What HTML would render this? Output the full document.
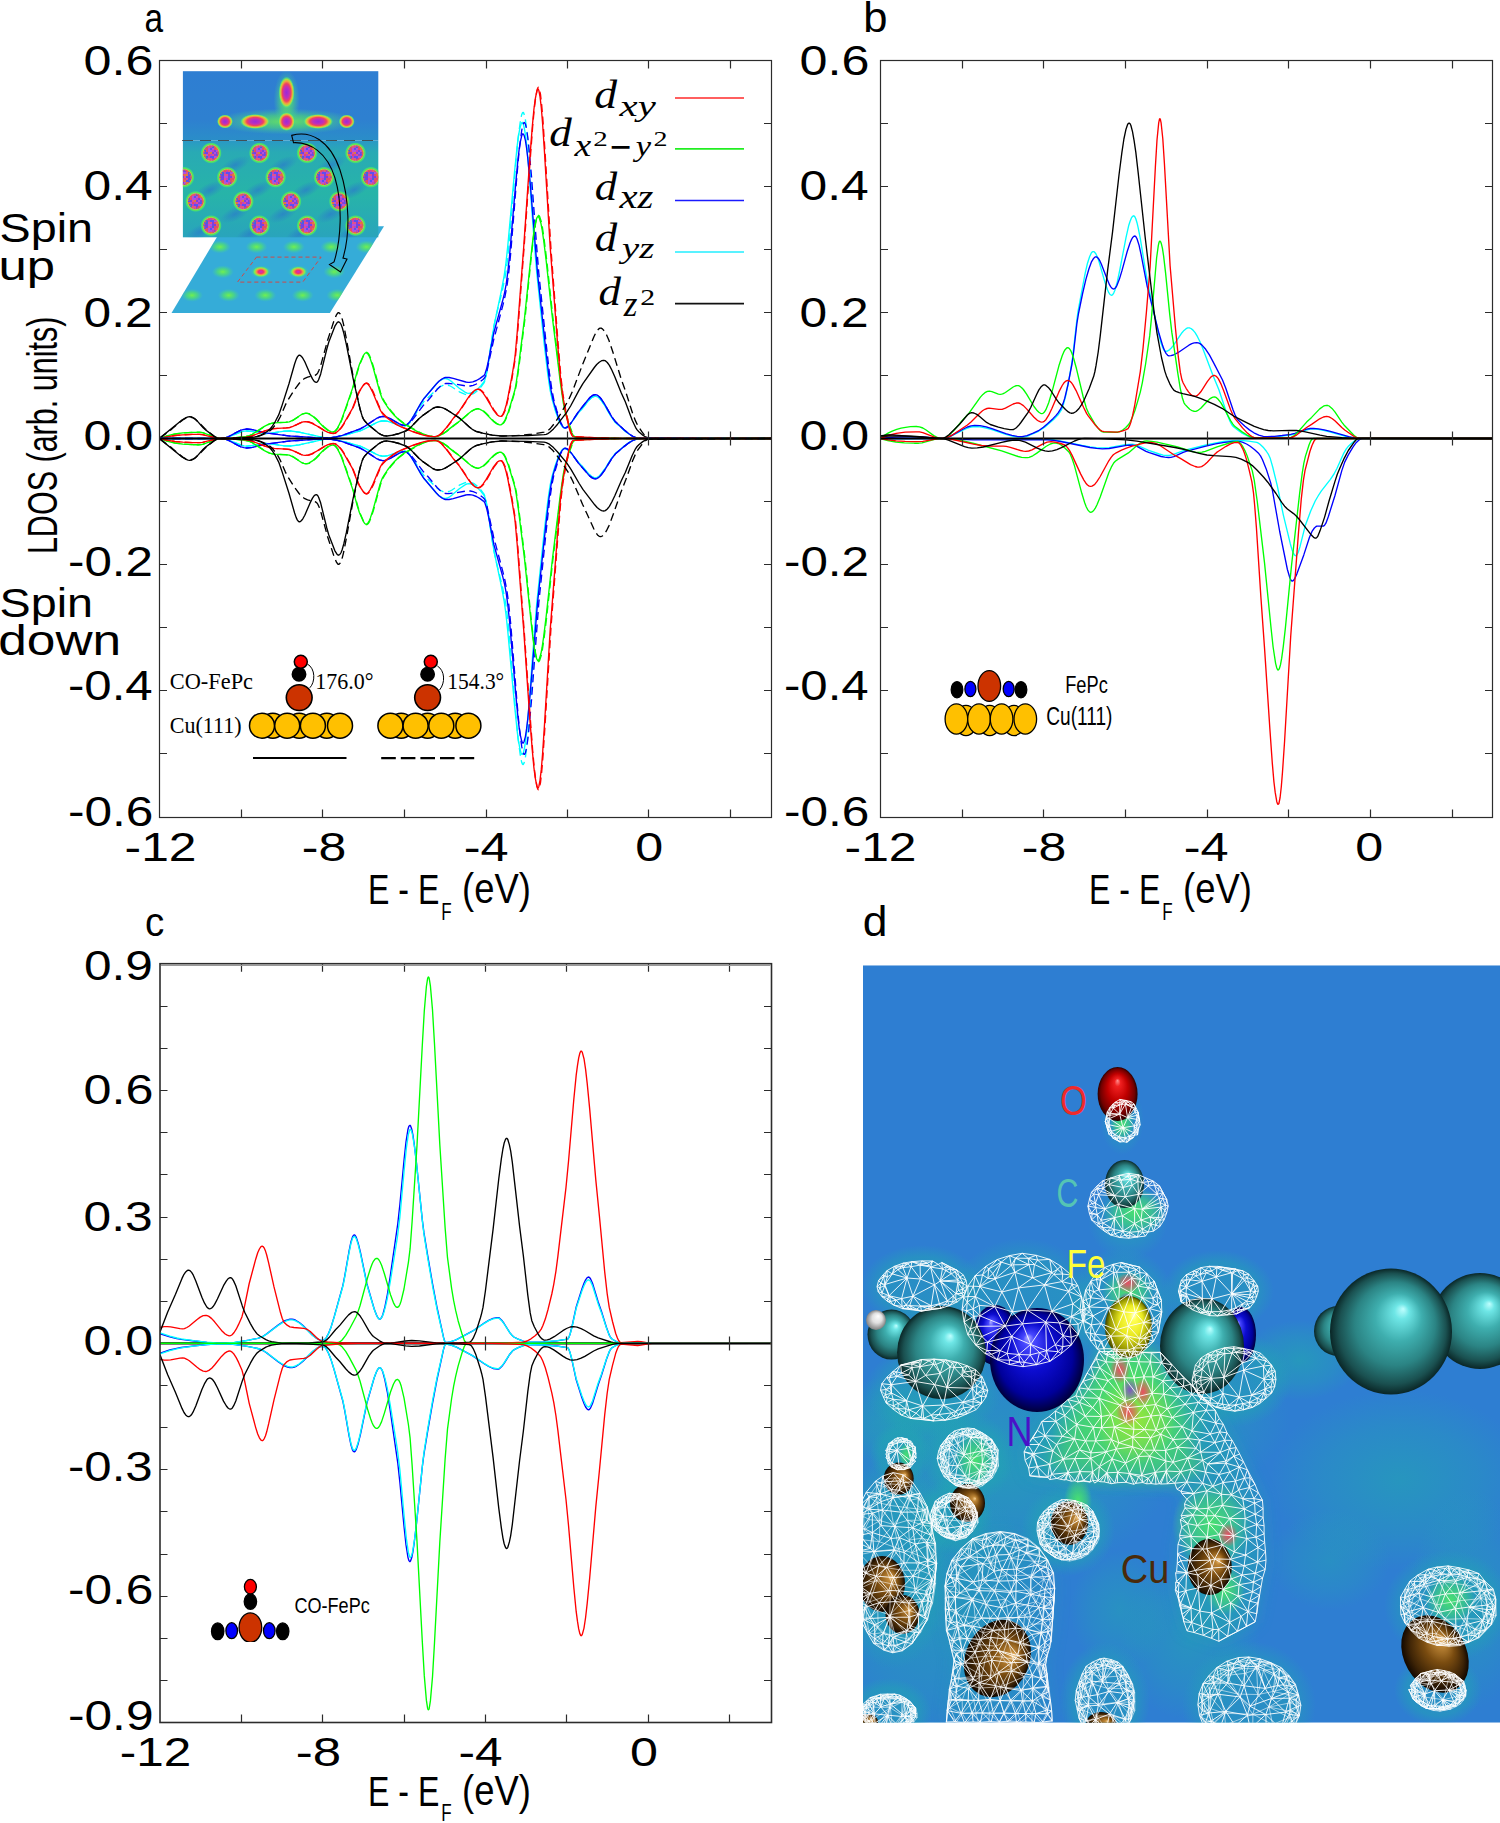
<!DOCTYPE html>
<html><head><meta charset="utf-8"><title>LDOS figure</title>
<style>html,body{margin:0;padding:0;background:#fff;}svg{display:block;}</style></head>
<body><svg width="1500" height="1823" viewBox="0 0 1500 1823">
<rect width="1500" height="1823" fill="#fff"/>
<defs><clipPath id="clipA"><rect x="160" y="60" width="611.5" height="757"/></clipPath><clipPath id="clipB"><rect x="880.3" y="60" width="612.4" height="757"/></clipPath><clipPath id="clipC"><rect x="160" y="964.7" width="611.7" height="757.3"/></clipPath><pattern id="mot" width="16" height="16" patternUnits="userSpaceOnUse"><rect x="0" y="0" width="2" height="2" fill="#b050e0"/><rect x="0" y="2" width="2" height="2" fill="#e05090"/><rect x="0" y="4" width="2" height="2" fill="#b050e0"/><rect x="0" y="6" width="2" height="2" fill="#b050e0"/><rect x="0" y="8" width="2" height="2" fill="#e05090"/><rect x="0" y="10" width="2" height="2" fill="#e04870"/><rect x="0" y="12" width="2" height="2" fill="#c040c0"/><rect x="0" y="14" width="2" height="2" fill="#e05090"/><rect x="2" y="0" width="2" height="2" fill="#b050e0"/><rect x="2" y="2" width="2" height="2" fill="#c040c0"/><rect x="2" y="4" width="2" height="2" fill="#5a50f0"/><rect x="2" y="6" width="2" height="2" fill="#b050e0"/><rect x="2" y="8" width="2" height="2" fill="#e07840"/><rect x="2" y="10" width="2" height="2" fill="#c040c0"/><rect x="2" y="12" width="2" height="2" fill="#5a50f0"/><rect x="2" y="14" width="2" height="2" fill="#e05090"/><rect x="4" y="0" width="2" height="2" fill="#7a40e0"/><rect x="4" y="2" width="2" height="2" fill="#4860e0"/><rect x="4" y="4" width="2" height="2" fill="#b050e0"/><rect x="4" y="6" width="2" height="2" fill="#c040c0"/><rect x="4" y="8" width="2" height="2" fill="#7a40e0"/><rect x="4" y="10" width="2" height="2" fill="#e05090"/><rect x="4" y="12" width="2" height="2" fill="#5a50f0"/><rect x="4" y="14" width="2" height="2" fill="#7a40e0"/><rect x="6" y="0" width="2" height="2" fill="#7a40e0"/><rect x="6" y="2" width="2" height="2" fill="#e04870"/><rect x="6" y="4" width="2" height="2" fill="#e04870"/><rect x="6" y="6" width="2" height="2" fill="#7a40e0"/><rect x="6" y="8" width="2" height="2" fill="#b050e0"/><rect x="6" y="10" width="2" height="2" fill="#9040d0"/><rect x="6" y="12" width="2" height="2" fill="#b050e0"/><rect x="6" y="14" width="2" height="2" fill="#e04870"/><rect x="8" y="0" width="2" height="2" fill="#e05090"/><rect x="8" y="2" width="2" height="2" fill="#e04870"/><rect x="8" y="4" width="2" height="2" fill="#e07840"/><rect x="8" y="6" width="2" height="2" fill="#b050e0"/><rect x="8" y="8" width="2" height="2" fill="#7a40e0"/><rect x="8" y="10" width="2" height="2" fill="#5a50f0"/><rect x="8" y="12" width="2" height="2" fill="#b050e0"/><rect x="8" y="14" width="2" height="2" fill="#e07840"/><rect x="10" y="0" width="2" height="2" fill="#4860e0"/><rect x="10" y="2" width="2" height="2" fill="#e05090"/><rect x="10" y="4" width="2" height="2" fill="#5a50f0"/><rect x="10" y="6" width="2" height="2" fill="#e07840"/><rect x="10" y="8" width="2" height="2" fill="#9040d0"/><rect x="10" y="10" width="2" height="2" fill="#e04870"/><rect x="10" y="12" width="2" height="2" fill="#e05090"/><rect x="10" y="14" width="2" height="2" fill="#e07840"/><rect x="12" y="0" width="2" height="2" fill="#7a40e0"/><rect x="12" y="2" width="2" height="2" fill="#5a50f0"/><rect x="12" y="4" width="2" height="2" fill="#5a50f0"/><rect x="12" y="6" width="2" height="2" fill="#4860e0"/><rect x="12" y="8" width="2" height="2" fill="#5a50f0"/><rect x="12" y="10" width="2" height="2" fill="#e07840"/><rect x="12" y="12" width="2" height="2" fill="#4860e0"/><rect x="12" y="14" width="2" height="2" fill="#5a50f0"/><rect x="14" y="0" width="2" height="2" fill="#7a40e0"/><rect x="14" y="2" width="2" height="2" fill="#7a40e0"/><rect x="14" y="4" width="2" height="2" fill="#e04870"/><rect x="14" y="6" width="2" height="2" fill="#e04870"/><rect x="14" y="8" width="2" height="2" fill="#7a40e0"/><rect x="14" y="10" width="2" height="2" fill="#b050e0"/><rect x="14" y="12" width="2" height="2" fill="#4860e0"/><rect x="14" y="14" width="2" height="2" fill="#4860e0"/></pattern>
<radialGradient id="cuAtom"><stop offset="0" stop-color="#7a3fd6"/><stop offset="0.45" stop-color="#9a40c8"/><stop offset="0.62" stop-color="#e8485a"/><stop offset="0.74" stop-color="#e89040"/><stop offset="0.84" stop-color="#a8e048"/><stop offset="0.93" stop-color="#50d890" stop-opacity="0.6"/><stop offset="1" stop-color="#40c8a0" stop-opacity="0"/></radialGradient>
<radialGradient id="molBlob"><stop offset="0" stop-color="#9a2ad8"/><stop offset="0.35" stop-color="#c030b8"/><stop offset="0.55" stop-color="#f04060"/><stop offset="0.7" stop-color="#f0a040"/><stop offset="0.82" stop-color="#b0e040"/><stop offset="0.92" stop-color="#50e080" stop-opacity="0.7"/><stop offset="1" stop-color="#40c8a0" stop-opacity="0"/></radialGradient>
<radialGradient id="grnBlob"><stop offset="0" stop-color="#70f050"/><stop offset="0.5" stop-color="#50e070" stop-opacity="0.7"/><stop offset="1" stop-color="#40d0a0" stop-opacity="0"/></radialGradient>
<radialGradient id="pinkBlob"><stop offset="0" stop-color="#c030d0"/><stop offset="0.3" stop-color="#f03070"/><stop offset="0.55" stop-color="#f0a040"/><stop offset="0.75" stop-color="#80f050"/><stop offset="1" stop-color="#40d0a0" stop-opacity="0"/></radialGradient>
<radialGradient id="darkSpot"><stop offset="0" stop-color="#2a80c8" stop-opacity="0.8"/><stop offset="1" stop-color="#2a80c8" stop-opacity="0"/></radialGradient>
<linearGradient id="lowerBg" x1="0" y1="0" x2="0" y2="1"><stop offset="0" stop-color="#2a98c6"/><stop offset="0.12" stop-color="#29aab4"/><stop offset="0.55" stop-color="#27b4a8"/><stop offset="1" stop-color="#29a4bc"/></linearGradient>
<radialGradient id="cuHalo"><stop offset="0.72" stop-color="#d8d040"/><stop offset="0.8" stop-color="#60e850"/><stop offset="0.9" stop-color="#48e070" stop-opacity="0.8"/><stop offset="1" stop-color="#30c0a0" stop-opacity="0"/></radialGradient>
<linearGradient id="topBg" x1="0" y1="0" x2="0" y2="1"><stop offset="0" stop-color="#2e7ed2"/><stop offset="0.7" stop-color="#2e80d0"/><stop offset="1" stop-color="#2a8ec8"/></linearGradient>
<radialGradient id="sTeal" cx="0.5" cy="0.5" r="0.5" fx="0.6" fy="0.32"><stop offset="0" stop-color="#c0ffff"/><stop offset="0.12" stop-color="#6ee6e6"/><stop offset="0.38" stop-color="#3eaeae"/><stop offset="0.66" stop-color="#2b8484"/><stop offset="0.88" stop-color="#1a5050"/><stop offset="1" stop-color="#0a2626"/></radialGradient><radialGradient id="sBlue" cx="0.5" cy="0.5" r="0.5" fx="0.4" fy="0.28"><stop offset="0" stop-color="#b0b0ff"/><stop offset="0.12" stop-color="#4848ff"/><stop offset="0.45" stop-color="#0c0cd0"/><stop offset="0.8" stop-color="#00009a"/><stop offset="1" stop-color="#00003a"/></radialGradient><radialGradient id="sYel" cx="0.5" cy="0.5" r="0.5" fx="0.62" fy="0.3"><stop offset="0" stop-color="#ffffd0"/><stop offset="0.15" stop-color="#ffff50"/><stop offset="0.5" stop-color="#e8e820"/><stop offset="0.85" stop-color="#909000"/><stop offset="1" stop-color="#404000"/></radialGradient><radialGradient id="sRed" cx="0.5" cy="0.5" r="0.5" fx="0.5" fy="0.25"><stop offset="0" stop-color="#ff9090"/><stop offset="0.15" stop-color="#f02020"/><stop offset="0.5" stop-color="#c00000"/><stop offset="0.85" stop-color="#700000"/><stop offset="1" stop-color="#280000"/></radialGradient><radialGradient id="sBrown" cx="0.5" cy="0.5" r="0.5" fx="0.72" fy="0.38"><stop offset="0" stop-color="#f8d090"/><stop offset="0.12" stop-color="#c08838"/><stop offset="0.45" stop-color="#7a4c10"/><stop offset="0.8" stop-color="#3e2406"/><stop offset="1" stop-color="#120800"/></radialGradient><radialGradient id="sWhite" cx="0.5" cy="0.5" r="0.5" fx="0.62" fy="0.3"><stop offset="0" stop-color="#ffffff"/><stop offset="0.5" stop-color="#e0e0e0"/><stop offset="1" stop-color="#808080"/></radialGradient><radialGradient id="gTeal"><stop offset="0" stop-color="#1fb0a8" stop-opacity="0.85"/><stop offset="0.6" stop-color="#1fb0a8" stop-opacity="0.425"/><stop offset="1" stop-color="#1fb0a8" stop-opacity="0"/></radialGradient><radialGradient id="gHalo"><stop offset="0" stop-color="#20a8b0" stop-opacity="0.35"/><stop offset="0.7" stop-color="#20a8b0" stop-opacity="0.45"/><stop offset="1" stop-color="#20a8b0" stop-opacity="0"/></radialGradient><filter id="blur8" x="-20%" y="-20%" width="140%" height="140%"><feGaussianBlur stdDeviation="8"/></filter><radialGradient id="gTeal2"><stop offset="0" stop-color="#22a8b4" stop-opacity="0.7"/><stop offset="0.6" stop-color="#22a8b4" stop-opacity="0.35"/><stop offset="1" stop-color="#22a8b4" stop-opacity="0"/></radialGradient><radialGradient id="gGreen"><stop offset="0" stop-color="#48e070" stop-opacity="1.0"/><stop offset="0.6" stop-color="#48e070" stop-opacity="0.5"/><stop offset="1" stop-color="#48e070" stop-opacity="0"/></radialGradient><radialGradient id="gRed"><stop offset="0" stop-color="#f04860" stop-opacity="0.95"/><stop offset="0.6" stop-color="#f04860" stop-opacity="0.475"/><stop offset="1" stop-color="#f04860" stop-opacity="0"/></radialGradient><radialGradient id="gMag"><stop offset="0" stop-color="#8040d0" stop-opacity="0.85"/><stop offset="0.6" stop-color="#8040d0" stop-opacity="0.425"/><stop offset="1" stop-color="#8040d0" stop-opacity="0"/></radialGradient><radialGradient id="gYel"><stop offset="0" stop-color="#a8e830" stop-opacity="0.8"/><stop offset="0.6" stop-color="#a8e830" stop-opacity="0.4"/><stop offset="1" stop-color="#a8e830" stop-opacity="0"/></radialGradient></defs>
<path d="M223.4,226.3L384,226.3L329.9,312.9L171.5,312.9Z" fill="#35acd8"/>
<clipPath id="clipPar"><path d="M223.4,226.3L384,226.3L329.9,312.9L171.5,312.9Z"/></clipPath>
<g clip-path="url(#clipPar)">
<ellipse cx="219.9" cy="246.9" rx="11" ry="6.5" fill="url(#grnBlob)"/>
<ellipse cx="256.5" cy="246.9" rx="11" ry="6.5" fill="url(#grnBlob)"/>
<ellipse cx="293.9" cy="246.9" rx="11" ry="6.5" fill="url(#grnBlob)"/>
<ellipse cx="331.3" cy="246.9" rx="11" ry="6.5" fill="url(#grnBlob)"/>
<ellipse cx="366.5" cy="246.9" rx="11" ry="6.5" fill="url(#grnBlob)"/>
<ellipse cx="222.8" cy="271.8" rx="11" ry="6.5" fill="url(#grnBlob)"/>
<ellipse cx="260.9" cy="271.8" rx="11" ry="6.5" fill="url(#grnBlob)"/>
<ellipse cx="298.3" cy="271.8" rx="11" ry="6.5" fill="url(#grnBlob)"/>
<ellipse cx="334.3" cy="271.8" rx="11" ry="6.5" fill="url(#grnBlob)"/>
<ellipse cx="370" cy="271.8" rx="11" ry="6.5" fill="url(#grnBlob)"/>
<ellipse cx="192" cy="295.3" rx="11" ry="6.5" fill="url(#grnBlob)"/>
<ellipse cx="228.7" cy="295.3" rx="11" ry="6.5" fill="url(#grnBlob)"/>
<ellipse cx="265.3" cy="295.3" rx="11" ry="6.5" fill="url(#grnBlob)"/>
<ellipse cx="302.7" cy="295.3" rx="11" ry="6.5" fill="url(#grnBlob)"/>
<ellipse cx="337.2" cy="295.3" rx="11" ry="6.5" fill="url(#grnBlob)"/>
<ellipse cx="260.9" cy="271.8" rx="8.5" ry="5.5" fill="url(#pinkBlob)"/>
<ellipse cx="298.3" cy="271.8" rx="8.5" ry="5.5" fill="url(#pinkBlob)"/>
</g>
<path d="M256.5,257.1L321.1,257.1L302.7,282.1L237.5,282.1Z" fill="none" stroke="#d04848" stroke-width="1" stroke-dasharray="4,3"/>
<rect x="182.9" y="71.2" width="195.4" height="69.3" fill="url(#topBg)"/>
<rect x="182.9" y="140.5" width="195.4" height="96.8" fill="url(#lowerBg)"/>
<clipPath id="clipImg"><rect x="182.9" y="71.2" width="195.4" height="166.1"/></clipPath>
<g clip-path="url(#clipImg)">
<ellipse cx="235" cy="165" rx="16" ry="7" fill="url(#darkSpot)" transform="rotate(-25 235 165)"/>
<ellipse cx="283" cy="165" rx="16" ry="7" fill="url(#darkSpot)" transform="rotate(-25 283 165)"/>
<ellipse cx="331" cy="165" rx="16" ry="7" fill="url(#darkSpot)" transform="rotate(-25 331 165)"/>
<ellipse cx="210" cy="190" rx="16" ry="7" fill="url(#darkSpot)" transform="rotate(-25 210 190)"/>
<ellipse cx="258" cy="190" rx="16" ry="7" fill="url(#darkSpot)" transform="rotate(-25 258 190)"/>
<ellipse cx="306" cy="190" rx="16" ry="7" fill="url(#darkSpot)" transform="rotate(-25 306 190)"/>
<ellipse cx="354" cy="190" rx="16" ry="7" fill="url(#darkSpot)" transform="rotate(-25 354 190)"/>
<ellipse cx="235" cy="214" rx="16" ry="7" fill="url(#darkSpot)" transform="rotate(-25 235 214)"/>
<ellipse cx="283" cy="214" rx="16" ry="7" fill="url(#darkSpot)" transform="rotate(-25 283 214)"/>
<ellipse cx="331" cy="214" rx="16" ry="7" fill="url(#darkSpot)" transform="rotate(-25 331 214)"/>
<ellipse cx="200" cy="232" rx="16" ry="7" fill="url(#darkSpot)" transform="rotate(-25 200 232)"/>
<ellipse cx="250" cy="234" rx="16" ry="7" fill="url(#darkSpot)" transform="rotate(-25 250 234)"/>
<ellipse cx="300" cy="234" rx="16" ry="7" fill="url(#darkSpot)" transform="rotate(-25 300 234)"/>
<ellipse cx="350" cy="234" rx="16" ry="7" fill="url(#darkSpot)" transform="rotate(-25 350 234)"/>
<circle cx="211.1" cy="153" r="10.8" fill="url(#cuHalo)"/>
<circle cx="211.1" cy="153" r="7.8" fill="url(#mot)"/>
<circle cx="211.1" cy="153" r="7.0" fill="none" stroke="#e86a40" stroke-width="1.5" stroke-dasharray="1.5,1.3" opacity="0.9"/>
<circle cx="259.5" cy="153" r="10.8" fill="url(#cuHalo)"/>
<circle cx="259.5" cy="153" r="7.8" fill="url(#mot)"/>
<circle cx="259.5" cy="153" r="7.0" fill="none" stroke="#e86a40" stroke-width="1.5" stroke-dasharray="1.5,1.3" opacity="0.9"/>
<circle cx="307.1" cy="153" r="10.8" fill="url(#cuHalo)"/>
<circle cx="307.1" cy="153" r="7.8" fill="url(#mot)"/>
<circle cx="307.1" cy="153" r="7.0" fill="none" stroke="#e86a40" stroke-width="1.5" stroke-dasharray="1.5,1.3" opacity="0.9"/>
<circle cx="355.5" cy="153" r="10.8" fill="url(#cuHalo)"/>
<circle cx="355.5" cy="153" r="7.8" fill="url(#mot)"/>
<circle cx="355.5" cy="153" r="7.0" fill="none" stroke="#e86a40" stroke-width="1.5" stroke-dasharray="1.5,1.3" opacity="0.9"/>
<circle cx="183.9" cy="177.2" r="10.8" fill="url(#cuHalo)"/>
<circle cx="183.9" cy="177.2" r="7.8" fill="url(#mot)"/>
<circle cx="183.9" cy="177.2" r="7.0" fill="none" stroke="#e86a40" stroke-width="1.5" stroke-dasharray="1.5,1.3" opacity="0.9"/>
<circle cx="227.2" cy="177.2" r="10.8" fill="url(#cuHalo)"/>
<circle cx="227.2" cy="177.2" r="7.8" fill="url(#mot)"/>
<circle cx="227.2" cy="177.2" r="7.0" fill="none" stroke="#e86a40" stroke-width="1.5" stroke-dasharray="1.5,1.3" opacity="0.9"/>
<circle cx="275.6" cy="177.2" r="10.8" fill="url(#cuHalo)"/>
<circle cx="275.6" cy="177.2" r="7.8" fill="url(#mot)"/>
<circle cx="275.6" cy="177.2" r="7.0" fill="none" stroke="#e86a40" stroke-width="1.5" stroke-dasharray="1.5,1.3" opacity="0.9"/>
<circle cx="324" cy="177.2" r="10.8" fill="url(#cuHalo)"/>
<circle cx="324" cy="177.2" r="7.8" fill="url(#mot)"/>
<circle cx="324" cy="177.2" r="7.0" fill="none" stroke="#e86a40" stroke-width="1.5" stroke-dasharray="1.5,1.3" opacity="0.9"/>
<circle cx="370.9" cy="177.2" r="10.8" fill="url(#cuHalo)"/>
<circle cx="370.9" cy="177.2" r="7.8" fill="url(#mot)"/>
<circle cx="370.9" cy="177.2" r="7.0" fill="none" stroke="#e86a40" stroke-width="1.5" stroke-dasharray="1.5,1.3" opacity="0.9"/>
<circle cx="195.7" cy="201.4" r="10.8" fill="url(#cuHalo)"/>
<circle cx="195.7" cy="201.4" r="7.8" fill="url(#mot)"/>
<circle cx="195.7" cy="201.4" r="7.0" fill="none" stroke="#e86a40" stroke-width="1.5" stroke-dasharray="1.5,1.3" opacity="0.9"/>
<circle cx="243.3" cy="201.4" r="10.8" fill="url(#cuHalo)"/>
<circle cx="243.3" cy="201.4" r="7.8" fill="url(#mot)"/>
<circle cx="243.3" cy="201.4" r="7.0" fill="none" stroke="#e86a40" stroke-width="1.5" stroke-dasharray="1.5,1.3" opacity="0.9"/>
<circle cx="291" cy="201.4" r="10.8" fill="url(#cuHalo)"/>
<circle cx="291" cy="201.4" r="7.8" fill="url(#mot)"/>
<circle cx="291" cy="201.4" r="7.0" fill="none" stroke="#e86a40" stroke-width="1.5" stroke-dasharray="1.5,1.3" opacity="0.9"/>
<circle cx="339.4" cy="201.4" r="10.8" fill="url(#cuHalo)"/>
<circle cx="339.4" cy="201.4" r="7.8" fill="url(#mot)"/>
<circle cx="339.4" cy="201.4" r="7.0" fill="none" stroke="#e86a40" stroke-width="1.5" stroke-dasharray="1.5,1.3" opacity="0.9"/>
<circle cx="211.1" cy="225.6" r="10.8" fill="url(#cuHalo)"/>
<circle cx="211.1" cy="225.6" r="7.8" fill="url(#mot)"/>
<circle cx="211.1" cy="225.6" r="7.0" fill="none" stroke="#e86a40" stroke-width="1.5" stroke-dasharray="1.5,1.3" opacity="0.9"/>
<circle cx="259.5" cy="225.6" r="10.8" fill="url(#cuHalo)"/>
<circle cx="259.5" cy="225.6" r="7.8" fill="url(#mot)"/>
<circle cx="259.5" cy="225.6" r="7.0" fill="none" stroke="#e86a40" stroke-width="1.5" stroke-dasharray="1.5,1.3" opacity="0.9"/>
<circle cx="307.1" cy="225.6" r="10.8" fill="url(#cuHalo)"/>
<circle cx="307.1" cy="225.6" r="7.8" fill="url(#mot)"/>
<circle cx="307.1" cy="225.6" r="7.0" fill="none" stroke="#e86a40" stroke-width="1.5" stroke-dasharray="1.5,1.3" opacity="0.9"/>
<circle cx="355.5" cy="225.6" r="10.8" fill="url(#cuHalo)"/>
<circle cx="355.5" cy="225.6" r="7.8" fill="url(#mot)"/>
<circle cx="355.5" cy="225.6" r="7.0" fill="none" stroke="#e86a40" stroke-width="1.5" stroke-dasharray="1.5,1.3" opacity="0.9"/>
<ellipse cx="286" cy="121.5" rx="72" ry="13" fill="url(#grnBlob)" opacity="0.85"/>
<ellipse cx="286.6" cy="100" rx="13" ry="30" fill="url(#grnBlob)" opacity="0.85"/>
<ellipse cx="225" cy="121.5" rx="8" ry="7" fill="url(#molBlob)"/>
<ellipse cx="346.7" cy="121.5" rx="8" ry="7" fill="url(#molBlob)"/>
<ellipse cx="255.1" cy="121.5" rx="15" ry="7.5" fill="url(#molBlob)"/>
<ellipse cx="318.1" cy="121.5" rx="15" ry="7.5" fill="url(#molBlob)"/>
<ellipse cx="286.6" cy="121.5" rx="8.5" ry="9.5" fill="url(#molBlob)"/>
<ellipse cx="286.6" cy="92.5" rx="8" ry="16" fill="url(#molBlob)"/>
</g>
<path d="M182,140.5H377" stroke="#3a3a3a" stroke-width="1" stroke-dasharray="11,7" opacity="0.8"/>
<path d="M291.7,135.4C310,130 330,140 340,170C350,200 350,235 343,258L347,259L340.5,272L329.5,264.5L334,262C341,240 343,205 335,178C327,152 310,142 293.5,142.7Z" fill="none" stroke="#000" stroke-width="1.1" stroke-linejoin="miter"/>
<g clip-path="url(#clipA)">
<path d="M160.0,438.5 L222.4,438.4 L225.2,438.0 L228.1,437.1 L241.1,431.9 L244.0,431.2 L246.9,430.9 L251.7,431.3 L261.9,433.2 L266.0,433.5 L271.3,433.1 L284.4,431.1 L290.9,431.0 L299.1,432.2 L323.9,437.6 L328.8,437.8 L335.3,437.2 L345.1,435.1 L361.0,430.5 L365.1,428.7 L376.1,422.9 L379.0,421.7 L381.8,421.0 L384.7,420.8 L387.9,421.3 L398.5,424.8 L401.8,425.6 L404.7,425.9 L406.3,425.4 L408.7,423.5 L411.6,419.7 L420.6,403.8 L424.2,398.2 L436.5,383.7 L439.7,380.8 L443.0,379.0 L444.6,378.6 L445.8,378.6 L447.5,379.0 L449.1,379.8 L452.0,381.9 L459.3,388.3 L465.0,392.1 L467.1,393.1 L469.1,393.3 L471.9,392.7 L474.4,391.5 L477.2,389.4 L480.9,385.6 L484.2,381.4 L485.0,379.4 L485.8,376.5 L488.3,363.5 L494.0,325.9 L501.3,291.1 L504.2,275.6 L505.8,264.2 L507.8,245.6 L514.4,173.3 L517.2,145.7 L518.4,136.4 L519.7,129.2 L520.9,124.5 L521.7,122.8 L522.1,122.5 L522.5,122.5 L523.3,124.0 L524.5,129.1 L525.8,137.5 L527.0,148.6 L529.4,176.9 L534.3,243.3 L536.8,273.3 L544.1,343.2 L547.8,374.4 L550.2,390.6 L552.3,400.1 L555.5,411.0 L558.0,418.2 L560.0,423.0 L562.1,426.4 L563.3,427.6 L564.5,428.0 L566.1,427.7 L568.2,426.4 L571.4,422.7 L578.0,413.4 L581.6,409.2 L588.6,400.6 L590.6,398.5 L592.2,397.3 L593.9,396.5 L595.5,396.2 L596.7,396.5 L598.4,397.4 L600.0,398.9 L601.6,400.9 L604.5,405.2 L611.8,417.6 L615.5,422.5 L624.0,430.1 L628.9,434.0 L633.4,436.8 L637.1,438.1 L639.9,438.5 L771.2,438.5" fill="none" stroke="#00ffff" stroke-width="1.35" stroke-linejoin="round"/>
<path d="M160.0,438.5 L222.4,438.4 L225.2,438.0 L228.1,437.1 L241.1,431.9 L244.0,431.2 L246.9,430.9 L251.7,431.3 L261.9,433.2 L266.0,433.5 L271.3,433.1 L284.4,431.1 L290.9,431.0 L299.1,432.2 L323.9,437.6 L328.8,437.8 L335.3,437.2 L345.1,435.1 L361.0,430.5 L365.1,428.7 L376.1,422.9 L379.0,421.7 L381.8,421.0 L384.7,420.8 L387.9,421.3 L398.1,424.7 L401.4,425.6 L404.7,425.9 L406.3,425.5 L408.7,423.7 L411.6,420.3 L420.6,406.1 L423.8,401.7 L436.1,389.8 L439.7,387.0 L443.0,385.4 L446.3,384.9 L449.1,385.5 L452.0,387.0 L459.3,391.8 L464.6,394.1 L467.5,394.9 L469.9,394.9 L472.4,394.1 L474.8,392.8 L477.2,390.9 L480.9,387.0 L484.2,382.6 L485.0,380.6 L485.8,377.5 L487.8,366.5 L492.3,335.6 L494.0,325.9 L496.4,314.6 L502.5,289.9 L505.8,273.1 L507.4,260.7 L509.5,240.2 L515.6,165.4 L518.0,139.0 L520.5,120.2 L521.7,114.7 L522.5,112.8 L522.9,112.4 L523.3,112.5 L523.7,113.0 L525.0,117.3 L526.2,125.1 L527.4,136.1 L529.8,164.9 L535.2,241.0 L537.6,272.6 L544.5,341.2 L547.8,370.2 L550.2,387.9 L551.5,394.8 L552.7,400.1 L555.5,410.0 L558.0,417.4 L560.0,422.5 L562.1,426.0 L563.3,427.3 L564.5,427.8 L566.1,427.5 L568.2,426.1 L571.4,422.5 L578.0,413.4 L581.6,409.2 L589.0,400.2 L591.0,398.2 L592.6,397.0 L594.3,396.4 L595.5,396.2 L596.7,396.5 L598.4,397.4 L600.0,398.9 L601.6,400.9 L604.5,405.2 L611.8,417.6 L615.5,422.5 L624.0,430.1 L628.9,434.0 L633.4,436.8 L637.1,438.1 L639.9,438.5 L771.2,438.5" fill="none" stroke="#00ffff" stroke-width="1.35" stroke-dasharray="8,4.5" stroke-linejoin="round"/>
<path d="M160.0,438.5 L222.4,438.4 L225.2,437.8 L228.1,436.8 L237.9,431.7 L241.1,430.2 L244.0,429.4 L246.9,429.0 L252.6,429.7 L265.6,432.8 L288.4,435.8 L297.4,436.5 L315.0,437.6 L325.6,437.9 L330.9,437.7 L336.2,436.9 L342.3,435.3 L348.4,433.2 L360.2,428.8 L364.7,426.4 L376.1,418.7 L379.4,417.2 L382.6,416.4 L385.1,416.6 L387.5,417.3 L390.4,418.7 L399.4,423.9 L402.6,425.1 L405.1,425.2 L406.3,424.8 L407.9,423.7 L409.6,422.0 L411.2,419.9 L414.0,415.3 L420.6,403.6 L423.8,398.7 L436.1,384.2 L438.9,381.3 L441.8,379.1 L443.8,378.0 L445.4,377.5 L449.1,377.5 L453.2,378.3 L465.8,382.0 L467.9,382.3 L469.5,382.3 L472.8,381.8 L476.4,380.5 L479.7,378.6 L483.4,375.9 L484.2,375.2 L485.0,373.8 L486.6,368.8 L488.3,361.5 L494.0,332.0 L502.5,301.3 L504.6,292.6 L506.2,284.2 L507.8,272.0 L509.5,256.4 L515.6,184.7 L518.0,159.2 L519.2,149.0 L520.5,141.0 L521.7,135.8 L522.5,134.1 L522.9,133.8 L523.3,134.0 L524.1,135.4 L525.4,140.3 L526.6,148.1 L527.8,158.3 L530.3,184.3 L537.6,273.9 L545.8,349.9 L549.0,377.0 L551.1,390.4 L553.1,400.1 L556.4,411.3 L558.8,418.6 L560.8,423.4 L562.9,426.7 L564.1,427.8 L565.3,428.0 L567.0,427.5 L568.6,426.1 L571.4,422.5 L578.4,411.8 L588.2,399.5 L590.2,397.3 L592.2,395.7 L593.9,394.9 L595.5,394.7 L596.7,394.9 L598.4,395.9 L600.0,397.4 L601.6,399.5 L604.5,403.9 L611.8,416.8 L615.5,421.8 L624.0,429.7 L628.9,433.8 L633.4,436.7 L637.1,438.1 L639.9,438.5 L771.2,438.5" fill="none" stroke="#0000ff" stroke-width="1.35" stroke-linejoin="round"/>
<path d="M160.0,438.5 L222.4,438.4 L225.2,437.8 L228.1,436.8 L237.9,431.7 L241.1,430.2 L244.0,429.4 L246.9,429.0 L252.6,429.7 L265.6,432.8 L288.4,435.8 L297.4,436.5 L315.0,437.6 L325.6,437.9 L330.9,437.7 L336.2,436.9 L342.3,435.3 L348.4,433.2 L360.2,428.8 L364.7,426.4 L376.1,418.7 L379.4,417.2 L382.6,416.4 L385.5,416.7 L388.4,417.7 L397.3,422.9 L400.6,424.5 L403.0,425.1 L405.5,425.2 L406.7,424.8 L408.3,423.8 L411.6,420.9 L414.4,417.4 L423.0,405.8 L427.9,400.5 L437.3,389.3 L440.1,386.5 L442.6,384.7 L445.4,383.5 L448.7,383.4 L455.2,384.1 L466.6,386.0 L470.3,386.0 L473.2,385.4 L476.4,384.0 L479.7,382.0 L483.0,379.5 L484.2,378.3 L485.0,377.0 L487.0,370.9 L493.6,340.1 L502.9,305.2 L505.0,296.3 L507.0,285.8 L508.6,273.8 L510.7,253.3 L516.8,177.1 L519.2,150.0 L521.7,130.5 L522.9,124.8 L523.7,122.9 L524.1,122.5 L524.5,122.6 L525.4,124.0 L526.6,129.1 L527.8,137.5 L529.0,148.5 L531.5,176.6 L536.8,248.3 L538.8,273.1 L546.2,344.3 L549.4,372.9 L551.9,390.0 L553.9,400.1 L556.8,410.5 L559.2,418.3 L561.2,423.4 L562.9,426.3 L564.1,427.5 L565.3,427.8 L567.0,427.2 L568.6,425.9 L571.4,422.4 L578.4,411.8 L588.2,399.5 L590.2,397.3 L592.2,395.7 L593.9,394.9 L595.5,394.7 L596.7,394.9 L598.4,395.9 L600.0,397.4 L601.6,399.5 L604.5,403.9 L611.8,416.8 L615.5,421.8 L624.0,429.7 L628.9,433.8 L633.4,436.7 L637.1,438.1 L639.9,438.5 L771.2,438.5" fill="none" stroke="#0000ff" stroke-width="1.35" stroke-dasharray="8,4.5" stroke-linejoin="round"/>
<path d="M160.0,438.5 L166.9,435.9 L174.7,434.0 L182.8,432.9 L192.6,432.3 L199.1,432.3 L202.4,432.7 L206.1,433.8 L215.0,437.4 L219.9,438.4 L231.8,438.1 L246.0,436.5 L248.9,435.8 L252.2,434.3 L264.4,426.4 L269.3,423.9 L273.4,422.9 L285.6,422.3 L289.3,421.9 L292.9,420.2 L301.5,414.5 L303.5,413.7 L305.6,413.3 L307.2,413.4 L308.8,413.9 L312.5,416.1 L315.8,419.0 L323.9,427.2 L327.6,430.2 L330.9,431.7 L332.5,432.0 L333.7,431.8 L335.3,430.7 L337.4,428.1 L339.4,424.4 L341.5,419.7 L344.3,412.0 L352.5,388.4 L357.4,370.8 L359.4,364.5 L363.5,355.3 L364.7,353.5 L365.9,352.7 L366.7,352.9 L368.0,354.1 L369.2,356.2 L370.4,359.1 L372.9,366.7 L380.2,393.2 L382.2,398.6 L384.3,402.2 L387.5,407.0 L391.2,411.8 L394.5,415.5 L398.1,419.1 L403.8,423.6 L416.5,431.1 L423.0,434.1 L429.1,436.0 L432.0,436.5 L434.8,436.6 L436.9,436.4 L438.9,435.8 L442.2,434.1 L446.3,431.4 L454.4,424.9 L460.1,420.8 L467.9,414.0 L471.1,411.4 L474.4,409.6 L477.2,408.9 L478.5,408.9 L480.1,409.3 L483.0,411.0 L485.8,413.5 L493.1,421.1 L496.4,423.6 L498.0,424.4 L499.7,424.8 L500.9,424.8 L501.7,424.4 L503.3,422.8 L505.0,420.1 L508.2,412.3 L513.1,396.3 L514.8,390.3 L516.0,384.3 L518.4,367.6 L524.5,318.4 L531.1,255.0 L533.1,237.5 L534.3,228.9 L535.6,222.2 L536.8,218.0 L537.6,216.6 L538.0,216.5 L538.4,216.6 L539.2,217.8 L540.9,223.2 L542.1,229.5 L543.7,240.6 L546.2,260.9 L552.3,316.9 L560.4,382.9 L563.3,402.9 L565.3,412.8 L569.0,425.2 L571.8,432.8 L573.1,435.1 L574.3,436.6 L575.5,437.2 L582.0,437.5 L620.8,438.4 L771.2,438.5" fill="none" stroke="#00ff00" stroke-width="1.35" stroke-linejoin="round"/>
<path d="M160.0,438.7 L166.9,436.1 L174.7,434.1 L182.8,432.9 L192.6,432.3 L199.6,432.2 L202.8,432.7 L206.5,433.8 L215.5,437.3 L220.4,438.4 L231.8,438.1 L246.4,436.5 L249.7,435.6 L253.0,434.1 L264.8,426.4 L269.7,423.9 L273.8,422.8 L286.4,422.2 L290.1,421.7 L293.3,420.1 L301.9,414.4 L303.9,413.6 L306.0,413.2 L307.6,413.3 L309.2,413.7 L312.9,415.9 L316.2,418.8 L324.3,427.1 L328.0,430.1 L330.0,431.2 L331.7,431.8 L333.3,432.0 L334.5,431.7 L336.2,430.4 L337.8,428.2 L339.8,424.5 L341.9,419.8 L344.7,412.1 L352.9,388.4 L357.8,370.7 L359.8,364.3 L363.9,355.0 L365.1,353.1 L366.3,352.3 L367.1,352.5 L368.4,353.6 L369.6,355.7 L370.8,358.5 L373.3,366.1 L380.6,392.7 L382.6,398.2 L384.7,401.9 L387.9,406.7 L391.6,411.5 L394.9,415.3 L398.5,419.0 L404.3,423.4 L416.9,431.0 L423.4,434.1 L429.5,436.0 L432.4,436.4 L435.2,436.6 L437.3,436.4 L439.3,435.8 L442.6,434.2 L446.7,431.4 L454.8,424.9 L460.5,420.8 L468.3,413.9 L471.5,411.4 L474.8,409.5 L477.7,408.7 L478.9,408.7 L480.5,409.1 L483.4,410.8 L486.2,413.3 L493.6,420.9 L496.8,423.5 L499.7,424.7 L500.9,424.8 L502.1,424.4 L503.8,422.8 L505.4,420.2 L508.6,412.4 L513.5,396.4 L515.2,390.4 L516.4,384.5 L518.8,367.9 L525.0,318.5 L531.5,254.9 L533.5,237.1 L534.7,228.3 L536.0,221.5 L537.2,217.1 L538.0,215.6 L538.4,215.4 L538.8,215.4 L539.6,216.5 L541.3,221.7 L542.5,228.0 L544.1,239.0 L546.6,259.3 L552.7,315.6 L560.8,382.0 L563.7,402.2 L565.7,412.3 L569.4,424.9 L572.3,432.6 L573.5,434.9 L574.7,436.5 L575.9,437.2 L580.4,437.4 L599.2,438.0 L620.4,438.4 L771.2,438.5" fill="none" stroke="#00ff00" stroke-width="1.35" stroke-dasharray="8,4.5" stroke-linejoin="round"/>
<path d="M160.0,438.5 L166.9,436.8 L174.7,435.5 L182.8,434.8 L192.6,434.4 L199.1,434.4 L202.4,434.7 L215.0,437.8 L219.9,438.5 L231.4,438.2 L246.0,437.2 L249.3,436.6 L252.6,435.7 L264.8,430.8 L270.1,429.2 L273.8,428.6 L286.0,427.9 L289.7,427.5 L292.9,426.3 L300.7,422.6 L303.1,421.9 L305.2,421.6 L308.4,422.0 L312.1,423.3 L315.8,425.3 L323.9,430.4 L328.0,432.4 L331.7,433.4 L333.3,433.5 L334.5,433.3 L336.6,432.2 L338.6,430.5 L341.1,427.6 L343.5,424.0 L352.5,408.3 L357.8,394.6 L359.4,391.1 L363.5,385.0 L364.7,383.8 L365.9,383.3 L366.7,383.4 L368.0,384.2 L370.0,386.9 L372.4,391.6 L378.2,405.4 L380.6,410.6 L382.6,413.8 L385.9,416.9 L392.8,422.3 L396.5,424.6 L400.6,426.7 L414.4,432.3 L424.2,435.3 L429.9,436.3 L435.2,436.6 L438.1,435.7 L441.0,433.6 L445.4,428.8 L454.4,416.9 L459.3,411.1 L467.9,398.2 L470.7,394.3 L474.0,390.9 L475.6,389.9 L476.8,389.4 L478.5,389.4 L479.7,389.8 L481.3,391.0 L483.0,392.8 L486.2,397.6 L493.1,409.5 L496.4,413.9 L498.0,415.4 L499.3,416.1 L500.9,416.4 L501.7,416.0 L502.9,414.3 L504.6,410.5 L506.2,405.0 L507.8,398.1 L511.9,376.3 L514.4,361.3 L515.2,354.8 L517.2,332.5 L523.7,247.1 L529.8,158.6 L532.3,126.6 L533.9,109.4 L535.2,99.4 L536.8,91.0 L537.6,89.3 L538.0,89.0 L538.4,89.4 L538.8,90.3 L540.0,96.7 L541.3,107.6 L542.5,122.2 L544.5,152.5 L550.2,247.1 L557.6,343.9 L560.4,376.9 L562.5,394.7 L565.7,412.9 L569.0,427.5 L570.6,432.7 L571.8,435.3 L572.7,436.3 L573.5,436.6 L594.3,437.7 L617.1,438.3 L644.0,438.5 L771.2,438.5" fill="none" stroke="#ff0000" stroke-width="1.35" stroke-linejoin="round"/>
<path d="M160.0,438.6 L166.9,436.9 L174.7,435.6 L182.8,434.8 L192.6,434.4 L199.6,434.4 L202.8,434.7 L206.5,435.4 L215.5,437.7 L220.4,438.5 L232.2,438.2 L246.9,437.1 L249.7,436.6 L253.0,435.7 L265.2,430.8 L270.5,429.2 L274.2,428.6 L286.8,427.9 L290.5,427.3 L293.3,426.3 L301.1,422.6 L303.5,421.8 L305.6,421.5 L308.8,421.9 L312.5,423.2 L316.2,425.2 L324.3,430.3 L328.4,432.3 L332.1,433.3 L333.7,433.4 L334.9,433.3 L337.0,432.3 L339.4,430.1 L341.9,427.1 L344.3,423.4 L352.9,408.3 L358.2,394.6 L359.8,391.0 L363.9,384.8 L365.1,383.6 L366.3,383.0 L367.1,383.1 L368.4,383.9 L369.6,385.3 L370.8,387.1 L373.3,392.1 L378.6,405.0 L381.0,410.3 L383.1,413.6 L386.3,416.8 L393.2,422.2 L396.9,424.5 L401.0,426.6 L414.9,432.2 L424.6,435.2 L430.4,436.3 L435.7,436.6 L438.5,435.7 L441.4,433.7 L445.8,428.9 L454.8,416.9 L460.1,410.5 L468.3,398.1 L471.1,394.1 L474.4,390.7 L476.0,389.7 L477.2,389.2 L478.9,389.1 L480.1,389.5 L481.7,390.7 L483.4,392.4 L486.6,397.2 L493.6,409.3 L496.8,413.7 L498.5,415.3 L499.7,416.0 L501.3,416.3 L502.1,415.9 L503.3,414.4 L505.0,410.6 L506.6,405.2 L508.2,398.3 L511.9,378.9 L514.8,361.4 L515.6,355.1 L517.6,333.0 L524.5,241.8 L530.3,158.3 L532.7,126.0 L534.3,108.5 L535.6,98.3 L537.2,89.6 L538.0,87.6 L538.4,87.3 L538.8,87.5 L539.2,88.4 L540.5,94.4 L541.7,105.1 L542.9,119.5 L544.9,149.7 L551.1,250.8 L558.0,342.3 L560.8,375.8 L562.9,393.9 L565.7,410.2 L569.4,427.2 L571.0,432.5 L572.3,435.1 L573.1,436.2 L573.9,436.6 L594.3,437.7 L616.7,438.3 L644.0,438.5 L771.2,438.5" fill="none" stroke="#ff0000" stroke-width="1.35" stroke-dasharray="8,4.5" stroke-linejoin="round"/>
<path d="M160.0,437.9 L182.0,420.0 L186.1,417.6 L188.1,416.9 L189.8,416.7 L191.8,417.0 L194.3,418.3 L197.1,420.9 L203.2,427.7 L205.7,430.0 L214.2,436.4 L216.7,437.8 L218.7,438.4 L235.8,438.2 L254.2,437.1 L257.0,436.5 L259.9,435.5 L263.2,433.9 L266.4,432.0 L269.3,429.9 L272.1,426.5 L275.4,421.3 L278.7,414.9 L281.5,407.1 L288.9,384.0 L294.6,364.0 L296.2,359.4 L297.4,356.9 L298.6,355.5 L299.5,355.2 L300.7,355.7 L301.9,356.9 L303.1,358.7 L304.8,361.8 L310.1,374.1 L312.5,378.9 L313.7,380.7 L315.0,381.9 L316.2,382.4 L317.0,382.1 L317.8,381.2 L318.6,379.7 L320.7,373.9 L326.8,349.0 L328.8,342.0 L334.9,326.2 L337.0,322.8 L337.8,322.1 L338.6,321.8 L339.8,322.5 L341.1,324.5 L342.3,327.8 L343.9,333.6 L346.4,344.6 L352.9,377.6 L359.8,408.2 L362.3,416.6 L363.1,418.5 L364.7,421.0 L368.0,424.5 L377.8,432.6 L380.6,434.4 L383.5,435.6 L385.1,435.9 L387.1,436.0 L392.8,435.2 L399.0,433.5 L405.9,430.9 L407.9,429.6 L410.4,427.6 L418.9,418.8 L422.2,415.9 L432.4,408.7 L435.2,407.4 L437.7,407.0 L439.7,407.1 L442.2,407.7 L444.6,408.7 L447.5,410.2 L458.9,417.6 L469.1,426.8 L472.8,429.7 L476.0,431.4 L482.5,433.2 L492.3,435.2 L501.3,436.0 L528.2,435.5 L544.1,434.7 L546.2,434.3 L547.8,433.6 L549.8,432.3 L553.5,428.9 L557.6,424.2 L566.1,413.1 L570.6,406.0 L579.2,389.9 L582.9,383.6 L594.3,367.5 L596.7,364.5 L599.2,362.2 L601.6,360.7 L603.7,360.3 L605.3,360.7 L607.3,362.5 L609.4,365.4 L611.8,370.0 L614.7,376.5 L621.2,392.7 L625.3,401.8 L632.2,420.2 L635.5,427.3 L637.1,429.9 L639.1,432.0 L642.8,435.2 L645.7,437.0 L648.5,437.8 L659.5,438.0 L708.5,438.4 L771.2,438.5" fill="none" stroke="#000000" stroke-width="1.35" stroke-linejoin="round"/>
<path d="M160.0,437.9 L171.8,429.1 L179.6,422.4 L182.8,419.9 L186.5,417.8 L189.8,417.1 L192.2,417.5 L195.1,419.1 L197.5,421.2 L205.7,429.4 L214.6,436.5 L216.7,437.7 L218.7,438.4 L224.0,438.5 L235.8,438.2 L254.6,437.1 L257.9,436.4 L261.1,435.4 L265.2,433.6 L268.9,431.7 L270.9,430.0 L273.0,427.8 L277.8,421.4 L280.3,416.7 L285.2,405.4 L287.2,401.3 L294.2,390.2 L299.1,383.5 L301.9,380.4 L304.8,378.3 L307.6,377.2 L315.0,375.3 L316.6,374.4 L317.8,372.8 L319.0,370.2 L320.7,365.6 L327.6,340.3 L334.1,320.4 L336.6,314.6 L337.8,313.0 L338.6,312.7 L339.0,312.7 L339.8,313.4 L341.1,315.8 L342.3,319.4 L343.5,324.2 L345.9,336.3 L352.9,375.3 L359.4,406.0 L361.0,412.7 L362.3,416.6 L363.1,418.5 L364.3,420.4 L367.6,424.1 L377.8,432.6 L380.6,434.4 L383.5,435.6 L385.1,435.9 L387.1,436.0 L392.8,435.2 L399.0,433.5 L405.9,430.9 L407.9,429.6 L410.4,427.6 L418.9,418.8 L422.2,415.9 L432.4,408.7 L435.2,407.4 L437.7,407.0 L441.0,407.4 L445.0,408.9 L448.7,411.0 L457.3,416.5 L461.3,419.7 L469.9,427.5 L474.0,430.4 L476.4,431.5 L485.8,433.9 L492.3,435.2 L498.0,435.8 L503.3,436.0 L512.3,435.8 L522.1,435.2 L531.9,434.1 L544.1,432.2 L546.6,431.4 L548.6,430.0 L550.6,428.2 L555.1,422.6 L560.0,414.9 L568.6,399.9 L572.7,390.8 L582.5,364.6 L587.3,353.0 L593.9,336.7 L595.9,332.6 L597.5,330.1 L599.2,328.5 L600.4,328.1 L601.2,328.2 L602.4,328.9 L604.5,331.1 L606.5,334.7 L609.0,340.5 L612.6,351.2 L621.2,379.0 L625.7,391.7 L632.6,413.4 L635.5,420.9 L637.5,425.1 L642.0,431.9 L644.4,435.1 L646.9,437.2 L648.9,437.9 L667.7,438.1 L771.2,438.5" fill="none" stroke="#000000" stroke-width="1.35" stroke-dasharray="8,4.5" stroke-linejoin="round"/>
<path d="M160.0,438.5 L222.4,438.6 L225.2,439.0 L228.1,439.9 L241.1,445.1 L244.0,445.8 L246.9,446.1 L251.7,445.7 L261.9,443.8 L266.0,443.5 L271.3,443.9 L284.4,445.9 L290.9,446.0 L299.1,444.8 L323.9,439.4 L328.8,439.2 L335.3,439.8 L345.1,441.9 L361.0,446.5 L365.1,448.3 L376.1,454.1 L379.0,455.3 L381.8,456.0 L384.7,456.2 L387.9,455.7 L398.5,452.2 L401.8,451.4 L404.7,451.1 L406.3,451.6 L408.7,453.5 L411.6,457.3 L420.6,473.2 L424.2,478.8 L436.5,493.3 L439.7,496.2 L443.0,498.0 L444.6,498.4 L445.8,498.4 L447.5,498.0 L449.1,497.2 L452.0,495.1 L459.3,488.7 L465.0,484.9 L467.1,483.9 L469.1,483.7 L471.9,484.3 L474.4,485.5 L477.2,487.6 L480.9,491.4 L484.2,495.6 L485.0,497.6 L485.8,500.5 L488.3,513.5 L494.0,551.1 L501.3,585.9 L504.2,601.4 L505.8,612.8 L507.8,631.4 L514.4,703.7 L517.2,731.3 L518.4,740.5 L519.7,747.7 L520.9,752.5 L521.7,754.1 L522.1,754.4 L522.5,754.4 L523.3,753.0 L524.5,747.8 L525.8,739.3 L527.0,728.2 L529.4,699.9 L534.7,627.9 L536.8,603.1 L544.1,532.6 L547.8,501.2 L550.2,484.9 L552.3,475.4 L555.1,465.9 L557.6,458.7 L559.6,453.9 L561.7,450.4 L563.3,448.7 L564.5,448.3 L566.1,448.6 L568.2,449.8 L571.4,453.2 L578.0,461.8 L581.6,465.7 L588.6,473.8 L590.6,475.7 L592.2,476.8 L593.9,477.6 L595.5,477.8 L596.7,477.6 L598.4,476.7 L600.0,475.3 L601.6,473.5 L604.5,469.5 L611.8,457.9 L615.5,453.4 L624.0,446.3 L628.9,442.7 L633.4,440.1 L637.1,438.8 L639.9,438.5 L771.2,438.5" fill="none" stroke="#00ffff" stroke-width="1.35" stroke-linejoin="round"/>
<path d="M160.0,438.5 L222.4,438.6 L225.2,439.0 L228.1,439.9 L241.1,445.1 L244.0,445.8 L246.9,446.1 L251.7,445.7 L261.9,443.8 L266.0,443.5 L271.3,443.9 L284.4,445.9 L290.9,446.0 L299.1,444.8 L323.9,439.4 L328.8,439.2 L335.3,439.8 L345.1,441.9 L361.0,446.5 L365.1,448.3 L376.1,454.1 L379.0,455.3 L381.8,456.0 L384.7,456.2 L387.9,455.7 L398.1,452.3 L401.4,451.4 L404.7,451.1 L406.3,451.5 L408.7,453.3 L411.6,456.7 L420.6,470.9 L423.8,475.3 L436.1,487.2 L439.7,490.0 L443.0,491.6 L446.3,492.1 L449.1,491.5 L452.0,490.0 L459.3,485.2 L464.6,482.9 L467.5,482.1 L469.9,482.1 L472.4,482.9 L474.8,484.2 L477.2,486.1 L480.9,490.0 L484.2,494.4 L485.0,496.4 L485.8,499.5 L487.8,510.5 L492.3,541.4 L494.0,551.1 L496.4,562.4 L502.5,587.1 L505.8,603.9 L507.4,616.3 L509.5,636.8 L515.6,711.6 L518.0,737.9 L520.5,756.8 L521.7,762.3 L522.5,764.2 L522.9,764.5 L523.3,764.5 L524.1,762.9 L525.4,757.4 L526.6,748.4 L527.8,736.5 L530.3,706.3 L535.2,635.5 L537.6,603.7 L544.5,534.5 L547.8,505.2 L550.2,487.5 L551.5,480.7 L552.7,475.3 L555.5,465.6 L558.0,458.4 L560.0,453.6 L562.1,450.2 L563.3,449.0 L564.5,448.5 L566.1,448.8 L568.2,450.0 L571.4,453.4 L578.0,461.8 L581.6,465.7 L589.0,474.2 L591.0,476.0 L592.6,477.1 L594.3,477.7 L595.5,477.8 L596.7,477.6 L598.4,476.7 L600.0,475.3 L601.6,473.5 L604.5,469.5 L611.8,457.9 L615.5,453.4 L624.0,446.3 L628.9,442.7 L633.4,440.1 L637.1,438.8 L639.9,438.5 L771.2,438.5" fill="none" stroke="#00ffff" stroke-width="1.35" stroke-dasharray="8,4.5" stroke-linejoin="round"/>
<path d="M160.0,438.5 L222.4,438.6 L225.2,439.2 L228.1,440.2 L237.9,445.3 L241.1,446.8 L244.0,447.6 L246.9,448.0 L252.6,447.3 L265.6,444.2 L288.4,441.2 L297.4,440.5 L315.0,439.4 L325.6,439.1 L330.9,439.3 L336.2,440.1 L342.3,441.7 L348.4,443.8 L360.2,448.2 L364.7,450.6 L376.1,458.3 L379.4,459.8 L382.6,460.6 L385.1,460.4 L387.5,459.7 L390.4,458.3 L399.4,453.1 L402.6,451.9 L405.1,451.8 L406.3,452.2 L407.9,453.3 L409.6,455.0 L411.2,457.1 L414.0,461.7 L420.6,473.4 L423.8,478.3 L436.1,492.8 L438.9,495.7 L441.8,497.9 L443.8,499.0 L445.4,499.5 L449.1,499.5 L453.2,498.7 L465.8,495.0 L467.9,494.7 L469.5,494.7 L472.8,495.2 L476.4,496.5 L479.7,498.4 L483.4,501.1 L484.2,501.8 L485.0,503.2 L486.6,508.2 L488.3,515.5 L494.0,545.0 L502.5,575.7 L504.6,584.4 L506.2,592.8 L507.8,605.0 L509.5,620.6 L515.6,692.3 L518.0,717.8 L519.2,728.0 L520.5,735.9 L521.7,741.1 L522.5,742.8 L522.9,743.1 L523.3,743.0 L524.1,741.5 L525.4,736.6 L526.6,728.7 L527.8,718.5 L530.3,692.4 L537.6,602.3 L545.8,525.3 L549.0,498.1 L551.1,484.7 L553.1,475.0 L555.9,465.4 L558.4,458.2 L560.4,453.3 L562.5,449.9 L564.1,448.4 L565.3,448.2 L567.0,448.7 L568.6,449.9 L571.4,453.2 L578.4,463.1 L588.2,474.4 L590.2,476.4 L592.2,477.9 L593.9,478.6 L595.5,478.8 L596.7,478.6 L598.4,477.7 L600.0,476.3 L601.6,474.4 L604.5,470.3 L611.8,458.5 L615.5,453.8 L624.0,446.6 L628.9,442.8 L633.4,440.2 L637.1,438.9 L639.9,438.5 L771.2,438.5" fill="none" stroke="#0000ff" stroke-width="1.35" stroke-linejoin="round"/>
<path d="M160.0,438.5 L222.4,438.6 L225.2,439.2 L228.1,440.2 L237.9,445.3 L241.1,446.8 L244.0,447.6 L246.9,448.0 L252.6,447.3 L265.6,444.2 L288.4,441.2 L297.4,440.5 L315.0,439.4 L325.6,439.1 L330.9,439.3 L336.2,440.1 L342.3,441.7 L348.4,443.8 L360.2,448.2 L364.7,450.6 L376.1,458.3 L379.4,459.8 L382.6,460.6 L385.5,460.3 L388.4,459.3 L397.3,454.1 L400.6,452.5 L403.0,451.9 L405.5,451.8 L406.7,452.2 L408.3,453.2 L411.6,456.1 L414.4,459.6 L423.0,471.2 L427.9,476.5 L437.3,487.7 L440.1,490.5 L442.6,492.3 L445.4,493.5 L448.7,493.6 L455.2,492.9 L466.6,491.0 L470.3,491.0 L473.2,491.6 L476.4,493.0 L479.7,495.0 L483.0,497.5 L484.2,498.7 L485.0,500.0 L487.0,506.1 L493.6,536.9 L502.9,571.8 L505.0,580.7 L507.0,591.2 L508.6,603.2 L510.7,623.7 L516.8,699.9 L519.2,727.0 L521.7,746.4 L522.9,752.1 L523.7,754.0 L524.1,754.4 L524.5,754.3 L525.4,752.9 L526.6,747.7 L527.8,739.3 L529.0,728.3 L531.5,700.0 L538.8,602.9 L546.2,530.7 L549.4,502.0 L551.9,484.9 L553.9,474.9 L558.8,458.5 L560.8,453.3 L562.9,449.8 L564.1,448.7 L565.3,448.4 L567.0,448.9 L568.6,450.1 L571.4,453.3 L578.4,463.1 L588.2,474.4 L590.2,476.4 L592.2,477.9 L593.9,478.6 L595.5,478.8 L596.7,478.6 L598.4,477.7 L600.0,476.3 L601.6,474.4 L604.5,470.3 L611.8,458.5 L615.5,453.8 L624.0,446.6 L628.9,442.8 L633.4,440.2 L637.1,438.9 L639.9,438.5 L771.2,438.5" fill="none" stroke="#0000ff" stroke-width="1.35" stroke-dasharray="8,4.5" stroke-linejoin="round"/>
<path d="M160.0,438.5 L166.9,441.1 L174.7,443.0 L182.8,444.1 L192.6,444.7 L199.1,444.7 L202.4,444.3 L206.1,443.2 L215.0,439.6 L219.9,438.6 L231.8,438.9 L246.0,440.5 L248.9,441.2 L252.2,442.7 L264.4,450.6 L269.3,453.1 L273.4,454.1 L285.6,454.7 L289.3,455.1 L292.9,456.8 L301.5,462.5 L303.5,463.3 L305.6,463.7 L307.2,463.6 L308.8,463.1 L312.5,460.9 L315.8,458.0 L323.9,449.8 L327.6,446.8 L330.9,445.3 L332.5,445.0 L333.7,445.2 L335.3,446.3 L337.4,448.9 L339.4,452.6 L341.5,457.3 L344.3,465.0 L352.5,488.6 L357.4,506.2 L359.4,512.5 L363.5,521.7 L364.7,523.5 L365.9,524.3 L366.7,524.1 L368.0,522.9 L369.2,520.8 L370.4,517.9 L372.9,510.3 L380.2,483.8 L382.2,478.4 L384.3,474.8 L387.5,470.0 L391.2,465.2 L394.5,461.5 L398.1,457.9 L403.8,453.4 L416.5,445.9 L423.0,442.9 L429.1,441.0 L432.0,440.5 L434.8,440.4 L436.9,440.6 L438.9,441.2 L442.2,442.9 L446.3,445.6 L454.4,452.1 L460.1,456.2 L467.9,463.0 L471.1,465.6 L474.4,467.4 L477.2,468.1 L478.5,468.1 L480.1,467.7 L483.0,466.0 L485.8,463.5 L493.1,455.9 L496.4,453.4 L498.0,452.6 L499.7,452.2 L500.9,452.2 L501.7,452.6 L503.3,454.2 L505.0,456.9 L508.2,464.7 L513.1,480.7 L514.8,486.7 L516.0,492.7 L518.4,509.4 L524.5,558.6 L531.1,622.0 L533.1,639.5 L534.3,648.1 L535.6,654.8 L536.8,659.0 L537.6,660.4 L538.0,660.5 L538.4,660.4 L539.2,659.2 L540.9,653.8 L542.1,647.5 L543.7,636.4 L546.2,616.1 L552.3,560.1 L560.4,494.1 L563.3,474.1 L565.3,464.2 L569.0,451.8 L571.8,444.2 L573.1,441.9 L574.3,440.4 L575.5,439.8 L582.0,439.5 L620.8,438.6 L771.2,438.5" fill="none" stroke="#00ff00" stroke-width="1.35" stroke-linejoin="round"/>
<path d="M160.0,438.3 L166.9,440.9 L174.7,442.9 L182.8,444.1 L192.6,444.7 L199.6,444.8 L202.8,444.3 L206.5,443.2 L215.5,439.7 L220.4,438.6 L231.8,438.9 L246.4,440.5 L249.7,441.4 L253.0,442.9 L264.8,450.6 L269.7,453.1 L273.8,454.2 L286.4,454.8 L290.1,455.3 L293.3,456.9 L301.9,462.6 L303.9,463.4 L306.0,463.8 L307.6,463.7 L309.2,463.3 L312.9,461.1 L316.2,458.2 L324.3,449.9 L328.0,446.9 L330.0,445.8 L331.7,445.2 L333.3,445.0 L334.5,445.3 L336.2,446.6 L337.8,448.8 L339.8,452.5 L341.9,457.2 L344.7,464.9 L352.9,488.6 L357.8,506.3 L359.8,512.7 L363.9,522.0 L365.1,523.9 L366.3,524.7 L367.1,524.5 L368.4,523.4 L369.6,521.3 L370.8,518.5 L373.3,510.9 L380.6,484.3 L382.6,478.8 L384.7,475.1 L387.9,470.3 L391.6,465.5 L394.9,461.7 L398.5,458.0 L404.3,453.6 L416.9,446.0 L423.4,442.9 L429.5,441.0 L432.4,440.6 L435.2,440.4 L437.3,440.6 L439.3,441.2 L442.6,442.8 L446.7,445.6 L454.8,452.1 L460.5,456.2 L468.3,463.1 L471.5,465.6 L474.8,467.5 L477.7,468.3 L478.9,468.3 L480.5,467.9 L483.4,466.2 L486.2,463.7 L493.6,456.1 L496.8,453.5 L499.7,452.3 L500.9,452.2 L502.1,452.6 L503.8,454.2 L505.4,456.8 L508.6,464.6 L513.5,480.6 L515.2,486.6 L516.4,492.5 L518.8,509.1 L525.0,558.5 L531.5,622.1 L533.5,639.9 L534.7,648.7 L536.0,655.5 L537.2,659.9 L538.0,661.4 L538.4,661.6 L538.8,661.6 L539.6,660.5 L541.3,655.3 L542.5,649.0 L544.1,638.0 L546.6,617.7 L552.7,561.4 L560.8,495.0 L563.7,474.8 L565.7,464.7 L569.4,452.1 L572.3,444.4 L573.5,442.1 L574.7,440.5 L575.9,439.8 L580.4,439.6 L599.2,439.0 L620.4,438.6 L771.2,438.5" fill="none" stroke="#00ff00" stroke-width="1.35" stroke-dasharray="8,4.5" stroke-linejoin="round"/>
<path d="M160.0,438.5 L166.9,440.2 L174.7,441.5 L182.8,442.2 L192.6,442.6 L199.1,442.6 L202.4,442.3 L215.0,439.2 L219.9,438.5 L231.4,438.8 L246.0,439.8 L249.3,440.4 L252.6,441.3 L264.8,446.2 L270.1,447.8 L273.8,448.4 L286.0,449.1 L289.7,449.5 L292.9,450.7 L300.7,454.4 L303.1,455.1 L305.2,455.4 L308.4,455.0 L312.1,453.7 L315.8,451.7 L323.9,446.6 L328.0,444.6 L331.7,443.6 L333.3,443.5 L334.5,443.7 L336.6,444.8 L338.6,446.5 L341.1,449.4 L343.5,453.0 L352.5,468.7 L357.8,482.4 L359.4,485.9 L363.5,492.0 L364.7,493.2 L365.9,493.7 L366.7,493.6 L368.0,492.8 L370.0,490.1 L372.4,485.4 L378.2,471.6 L380.6,466.4 L382.6,463.2 L385.9,460.1 L392.8,454.7 L396.5,452.4 L400.6,450.3 L414.4,444.7 L424.2,441.7 L429.9,440.7 L435.2,440.4 L438.1,441.3 L441.0,443.4 L445.4,448.2 L454.4,460.1 L459.3,465.9 L467.9,478.8 L470.7,482.7 L474.0,486.1 L475.6,487.1 L476.8,487.6 L478.5,487.6 L479.7,487.2 L481.3,486.0 L483.0,484.2 L486.2,479.4 L493.1,467.5 L496.4,463.1 L498.0,461.6 L499.3,460.9 L500.9,460.6 L501.7,461.0 L502.9,462.7 L504.6,466.5 L506.2,472.0 L507.8,478.9 L511.9,500.7 L514.4,515.7 L515.2,522.2 L517.2,544.5 L523.7,629.9 L529.8,718.4 L532.3,750.4 L533.9,767.6 L535.2,777.6 L536.8,786.0 L537.6,787.7 L538.0,788.0 L538.4,787.6 L538.8,786.7 L540.0,780.3 L541.3,769.4 L542.5,754.8 L544.5,724.5 L550.2,629.9 L557.6,533.1 L560.4,500.1 L562.5,482.3 L565.7,464.1 L569.0,449.5 L570.6,444.3 L571.8,441.7 L572.7,440.7 L573.5,440.4 L594.3,439.3 L617.1,438.7 L644.0,438.5 L771.2,438.5" fill="none" stroke="#ff0000" stroke-width="1.35" stroke-linejoin="round"/>
<path d="M160.0,438.4 L166.9,440.1 L174.7,441.4 L182.8,442.2 L192.6,442.6 L199.6,442.6 L202.8,442.3 L206.5,441.6 L215.5,439.3 L220.4,438.5 L232.2,438.8 L246.9,439.9 L249.7,440.4 L253.0,441.3 L265.2,446.2 L270.5,447.8 L274.2,448.4 L286.8,449.1 L290.5,449.7 L293.3,450.7 L301.1,454.4 L303.5,455.2 L305.6,455.5 L308.8,455.1 L312.5,453.8 L316.2,451.8 L324.3,446.7 L328.4,444.7 L332.1,443.7 L333.7,443.6 L334.9,443.7 L337.0,444.7 L339.4,446.9 L341.9,449.9 L344.3,453.6 L352.9,468.7 L358.2,482.4 L359.8,486.0 L363.9,492.2 L365.1,493.4 L366.3,494.0 L367.1,493.9 L368.4,493.1 L369.6,491.7 L370.8,489.9 L373.3,484.9 L378.6,472.0 L381.0,466.7 L383.1,463.4 L386.3,460.2 L393.2,454.8 L396.9,452.5 L401.0,450.4 L414.9,444.8 L424.6,441.8 L430.4,440.7 L435.7,440.4 L438.5,441.3 L441.4,443.3 L445.8,448.1 L454.8,460.1 L460.1,466.5 L468.3,478.9 L471.1,482.9 L474.4,486.3 L476.0,487.3 L477.2,487.8 L478.9,487.9 L480.1,487.5 L481.7,486.3 L483.4,484.6 L486.6,479.8 L493.6,467.7 L496.8,463.3 L498.5,461.7 L499.7,461.0 L501.3,460.7 L502.1,461.1 L503.3,462.6 L505.0,466.4 L506.6,471.8 L508.2,478.7 L511.9,498.1 L514.8,515.6 L515.6,521.9 L517.6,544.0 L524.5,635.2 L530.3,718.7 L532.7,751.0 L534.3,768.5 L535.6,778.7 L537.2,787.4 L538.0,789.4 L538.4,789.7 L538.8,789.5 L539.2,788.6 L540.5,782.6 L541.7,771.9 L542.9,757.5 L544.9,727.3 L551.1,626.2 L558.0,534.7 L560.8,501.2 L562.9,483.1 L565.7,466.8 L569.4,449.8 L571.0,444.5 L572.3,441.9 L573.1,440.8 L573.9,440.4 L594.3,439.3 L616.7,438.7 L644.0,438.5 L771.2,438.5" fill="none" stroke="#ff0000" stroke-width="1.35" stroke-dasharray="8,4.5" stroke-linejoin="round"/>
<path d="M160.0,439.1 L182.0,457.0 L186.1,459.4 L188.1,460.1 L189.8,460.3 L191.8,460.0 L194.3,458.7 L197.1,456.1 L203.2,449.3 L205.7,447.0 L214.2,440.6 L216.7,439.2 L218.7,438.6 L235.8,438.8 L254.2,439.9 L257.0,440.5 L259.9,441.5 L263.2,443.1 L266.4,445.0 L269.3,447.1 L272.1,450.5 L275.4,455.7 L278.7,462.1 L281.5,469.9 L288.9,493.0 L294.6,513.0 L296.2,517.6 L297.4,520.1 L298.6,521.5 L299.5,521.8 L300.7,521.3 L301.9,520.1 L303.1,518.3 L304.8,515.2 L310.1,502.9 L312.5,498.1 L313.7,496.3 L315.0,495.1 L316.2,494.6 L317.0,494.9 L317.8,495.8 L318.6,497.3 L320.7,503.1 L326.8,528.0 L328.8,535.0 L334.9,550.8 L337.0,554.2 L337.8,554.9 L338.6,555.2 L339.8,554.5 L341.1,552.5 L342.3,549.2 L343.9,543.4 L346.4,532.4 L352.9,499.4 L359.8,468.8 L362.3,460.4 L363.1,458.5 L364.7,456.0 L368.0,452.5 L377.8,444.4 L380.6,442.6 L383.5,441.4 L385.1,441.1 L387.1,441.0 L392.8,441.8 L399.0,443.5 L405.9,446.1 L407.9,447.4 L410.4,449.4 L418.9,458.2 L422.2,461.1 L432.4,468.3 L435.2,469.6 L437.7,470.0 L439.7,469.9 L442.2,469.3 L444.6,468.3 L447.5,466.8 L458.9,459.4 L469.1,450.2 L472.8,447.3 L476.0,445.6 L482.5,443.8 L492.3,441.8 L501.3,441.0 L527.0,441.4 L544.1,442.2 L546.2,442.6 L549.4,444.2 L553.5,447.6 L557.6,452.0 L566.5,462.6 L571.0,469.3 L579.2,483.5 L582.9,489.4 L594.7,504.8 L597.1,507.5 L599.6,509.5 L601.6,510.6 L603.7,511.0 L605.3,510.6 L607.3,509.0 L609.4,506.3 L611.8,502.0 L614.7,496.0 L621.2,481.0 L625.3,472.5 L632.2,455.5 L635.5,448.8 L637.1,446.5 L639.1,444.5 L642.8,441.6 L645.7,439.9 L648.5,439.1 L659.5,439.0 L708.5,438.6 L771.2,438.5" fill="none" stroke="#000000" stroke-width="1.35" stroke-linejoin="round"/>
<path d="M160.0,439.1 L171.8,447.9 L179.6,454.6 L182.8,457.1 L186.5,459.2 L189.8,459.9 L192.2,459.5 L195.1,457.9 L197.5,455.8 L205.7,447.6 L214.6,440.5 L216.7,439.3 L218.7,438.6 L224.0,438.5 L235.8,438.8 L254.6,439.9 L257.9,440.6 L261.1,441.6 L265.2,443.4 L268.9,445.3 L270.9,447.0 L273.0,449.2 L277.8,455.6 L280.3,460.3 L285.2,471.6 L287.2,475.7 L294.2,486.8 L299.1,493.5 L301.9,496.6 L304.8,498.7 L307.6,499.8 L315.0,501.7 L316.6,502.6 L317.8,504.2 L319.0,506.8 L320.7,511.4 L327.6,536.7 L334.1,556.6 L336.6,562.4 L337.8,564.0 L338.6,564.3 L339.0,564.3 L339.8,563.6 L341.1,561.2 L342.3,557.6 L343.5,552.8 L345.9,540.7 L352.9,501.7 L359.4,471.0 L361.0,464.3 L362.3,460.4 L363.1,458.5 L364.3,456.6 L367.6,452.9 L377.8,444.4 L380.6,442.6 L383.5,441.4 L385.1,441.1 L387.1,441.0 L392.8,441.8 L399.0,443.5 L405.9,446.1 L407.9,447.4 L410.4,449.4 L418.9,458.2 L422.2,461.1 L432.4,468.3 L435.2,469.6 L437.7,470.0 L441.0,469.6 L445.0,468.1 L448.7,466.0 L457.3,460.5 L461.3,457.3 L469.9,449.5 L474.0,446.6 L476.4,445.5 L485.4,443.1 L491.9,441.9 L497.6,441.2 L502.1,441.0 L510.7,441.2 L520.1,441.7 L529.0,442.5 L543.7,444.6 L546.2,445.2 L548.2,446.3 L550.2,447.9 L552.7,450.3 L555.1,453.1 L560.4,460.4 L568.6,472.9 L572.7,481.0 L582.5,504.2 L587.3,514.5 L593.9,529.0 L595.9,532.7 L597.5,534.9 L599.2,536.3 L600.4,536.6 L601.2,536.5 L602.4,536.0 L604.5,533.9 L606.5,530.7 L609.0,525.6 L612.6,516.1 L621.2,491.4 L625.7,480.1 L632.6,460.8 L635.5,454.1 L637.5,450.4 L642.0,444.3 L644.4,441.6 L646.9,439.7 L648.9,439.1 L667.7,438.9 L771.2,438.5" fill="none" stroke="#000000" stroke-width="1.35" stroke-dasharray="8,4.5" stroke-linejoin="round"/>
<path d="M160,438.5H771.5" stroke="#000" stroke-width="2.2"/>
</g>
<g clip-path="url(#clipB)">
<path d="M880.3,438.5 L943.7,438.4 L947.3,437.6 L951.0,436.2 L963.3,429.9 L967.4,428.1 L971.0,427.0 L974.7,426.5 L980.0,426.9 L986.2,428.1 L991.9,429.7 L1005.8,434.4 L1012.3,436.2 L1018.1,437.1 L1023.0,437.1 L1025.8,436.6 L1029.1,435.5 L1038.5,431.3 L1044.6,427.2 L1053.6,419.5 L1058.1,414.9 L1061.4,409.9 L1063.4,404.6 L1065.9,395.1 L1068.7,380.8 L1072.4,359.3 L1076.9,319.7 L1078.1,310.8 L1085.1,273.6 L1087.5,263.2 L1089.6,256.7 L1091.2,253.2 L1092.0,252.1 L1092.9,251.6 L1094.1,251.7 L1095.7,253.5 L1097.4,257.0 L1099.0,261.6 L1105.1,282.9 L1107.6,290.0 L1108.8,292.7 L1110.0,294.5 L1111.3,295.3 L1112.5,294.9 L1113.7,293.1 L1114.9,290.2 L1117.4,281.4 L1119.8,269.9 L1126.0,237.6 L1128.8,225.2 L1130.1,221.2 L1131.3,218.2 L1132.5,216.4 L1133.7,215.8 L1134.6,216.4 L1135.8,218.8 L1137.0,222.7 L1138.2,227.8 L1140.3,238.6 L1145.6,271.2 L1147.6,282.3 L1158.3,332.7 L1160.7,342.2 L1163.2,348.7 L1164.4,350.6 L1165.6,351.4 L1167.7,351.0 L1169.7,349.6 L1171.3,348.0 L1173.4,345.4 L1182.0,332.7 L1184.0,330.4 L1186.1,328.7 L1187.7,327.9 L1189.3,327.8 L1191.0,328.5 L1193.0,330.1 L1195.1,332.7 L1197.5,336.7 L1200.0,341.7 L1202.8,348.4 L1213.0,375.5 L1218.8,389.5 L1226.9,413.7 L1230.2,421.7 L1231.8,424.7 L1233.5,426.7 L1238.0,430.3 L1242.1,433.1 L1247.4,435.9 L1250.2,437.0 L1252.7,437.6 L1256.4,437.9 L1266.2,437.6 L1277.6,436.6 L1290.3,435.1 L1294.8,433.9 L1306.2,430.0 L1309.9,429.2 L1313.2,429.0 L1318.1,429.4 L1323.4,430.3 L1329.5,431.8 L1347.5,436.8 L1353.2,437.9 L1358.2,438.4 L1493.0,438.5" fill="none" stroke="#00ffff" stroke-width="1.35" stroke-linejoin="round"/>
<path d="M880.3,438.5 L977.6,438.6 L1045.9,439.2 L1052.4,439.7 L1059.8,440.8 L1082.2,445.4 L1090.0,446.8 L1096.5,447.6 L1102.7,447.9 L1109.2,447.6 L1125.2,444.7 L1129.2,444.3 L1132.5,444.2 L1135.0,444.6 L1137.4,445.3 L1148.0,450.1 L1159.1,454.0 L1163.2,455.1 L1166.8,455.5 L1169.7,455.3 L1172.6,454.7 L1185.2,450.2 L1204.0,445.5 L1214.7,443.1 L1223.7,441.5 L1232.3,440.6 L1240.0,440.4 L1248.6,441.1 L1256.8,442.4 L1258.4,443.1 L1260.0,444.2 L1263.7,447.8 L1266.2,451.0 L1268.6,454.7 L1270.3,458.6 L1272.7,467.0 L1277.2,485.4 L1283.3,514.8 L1290.3,543.7 L1291.9,549.4 L1293.2,552.7 L1294.4,554.9 L1295.6,555.8 L1296.0,555.8 L1296.8,555.1 L1298.5,551.6 L1300.1,546.2 L1305.4,525.2 L1310.7,511.0 L1315.2,501.0 L1318.1,496.0 L1321.4,490.9 L1330.4,479.3 L1334.0,474.0 L1336.9,468.5 L1343.4,453.9 L1346.3,448.8 L1347.9,446.8 L1351.6,443.2 L1354.1,441.2 L1356.1,439.8 L1358.2,438.9 L1360.2,438.5 L1493.0,438.5" fill="none" stroke="#00ffff" stroke-width="1.35" stroke-linejoin="round"/>
<path d="M880.3,438.5 L888.1,437.7 L896.2,437.1 L915.9,436.6 L922.8,436.8 L937.9,438.4 L943.7,438.4 L947.3,437.5 L951.0,435.9 L963.3,429.0 L967.4,427.0 L971.0,425.8 L974.7,425.3 L980.0,425.6 L986.2,426.9 L991.9,428.7 L1005.8,433.6 L1011.9,435.4 L1017.2,436.4 L1022.1,436.6 L1027.0,435.6 L1033.2,433.2 L1038.5,430.7 L1043.4,427.2 L1047.5,423.8 L1053.2,418.4 L1056.1,415.4 L1058.1,412.8 L1060.2,409.7 L1061.8,406.6 L1063.0,403.6 L1064.7,398.4 L1067.9,385.0 L1072.0,364.0 L1073.6,352.1 L1076.9,323.4 L1078.6,313.0 L1082.6,293.5 L1085.9,279.4 L1088.8,269.2 L1091.6,261.6 L1093.3,258.8 L1094.9,257.1 L1095.7,256.8 L1096.5,256.9 L1098.2,258.2 L1099.8,260.7 L1101.4,264.2 L1107.2,279.3 L1109.6,284.9 L1110.8,286.9 L1112.1,288.4 L1113.3,289.0 L1114.5,288.7 L1115.8,287.4 L1117.0,285.3 L1119.4,279.1 L1121.9,270.9 L1127.2,251.5 L1130.1,242.7 L1131.3,239.9 L1132.5,237.7 L1133.7,236.4 L1135.0,236.0 L1135.8,236.6 L1137.0,238.8 L1139.1,245.4 L1141.1,254.7 L1147.2,286.3 L1159.1,333.8 L1162.8,346.1 L1164.4,350.2 L1166.0,353.4 L1167.7,355.3 L1168.9,355.9 L1170.9,355.7 L1173.4,355.0 L1177.9,352.7 L1188.9,345.2 L1191.8,343.7 L1194.2,342.9 L1196.7,342.6 L1198.3,342.9 L1200.0,343.6 L1202.0,345.1 L1205.7,349.3 L1209.4,354.9 L1213.4,362.4 L1222.4,379.8 L1225.7,388.0 L1233.1,410.0 L1235.1,415.0 L1236.7,418.1 L1238.4,420.3 L1244.9,426.3 L1249.4,429.9 L1253.9,432.8 L1258.8,435.1 L1263.3,436.3 L1267.0,436.6 L1274.4,436.3 L1282.1,435.5 L1290.7,434.4 L1294.8,433.3 L1306.6,429.2 L1310.3,428.5 L1313.6,428.4 L1318.5,428.8 L1324.2,429.8 L1330.4,431.4 L1348.8,436.7 L1354.5,437.8 L1359.8,438.4 L1493.0,438.5" fill="none" stroke="#0000ff" stroke-width="1.35" stroke-linejoin="round"/>
<path d="M880.3,438.5 L943.7,438.5 L973.1,439.8 L1047.1,439.8 L1053.6,440.4 L1060.6,441.5 L1090.0,447.5 L1096.5,448.4 L1102.3,448.8 L1109.2,448.5 L1125.2,445.6 L1129.2,445.2 L1132.5,445.2 L1135.0,445.6 L1137.4,446.6 L1146.0,451.3 L1149.3,452.7 L1161.1,456.5 L1164.8,457.2 L1168.5,457.5 L1170.9,457.3 L1173.8,456.6 L1183.2,452.3 L1186.1,451.3 L1204.9,446.3 L1215.5,443.8 L1224.5,442.3 L1232.7,441.5 L1238.4,441.4 L1240.4,441.7 L1242.9,442.3 L1246.6,444.0 L1250.2,446.3 L1254.7,449.8 L1258.8,453.6 L1260.5,455.9 L1262.5,459.7 L1266.2,468.9 L1270.7,482.9 L1272.3,489.7 L1279.7,531.5 L1287.4,569.5 L1289.9,578.0 L1291.1,580.4 L1291.9,581.0 L1292.3,581.1 L1293.2,580.7 L1294.4,579.3 L1296.8,574.1 L1303.8,554.9 L1309.5,537.2 L1312.0,531.4 L1314.4,528.0 L1316.1,526.5 L1316.9,526.2 L1323.4,526.1 L1324.6,525.2 L1325.9,523.2 L1328.3,516.7 L1334.9,495.7 L1341.8,470.6 L1344.7,462.1 L1348.3,454.9 L1352.8,447.3 L1356.1,442.7 L1359.0,440.0 L1361.0,438.8 L1362.7,438.5 L1493.0,438.5" fill="none" stroke="#0000ff" stroke-width="1.35" stroke-linejoin="round"/>
<path d="M880.3,438.5 L884.0,435.7 L888.1,433.2 L892.2,431.1 L896.7,429.4 L901.1,428.1 L905.6,427.3 L910.5,426.7 L916.3,426.5 L919.5,426.8 L922.8,428.0 L926.1,430.0 L933.8,435.6 L937.5,437.6 L939.6,438.3 L941.2,438.5 L942.8,438.4 L944.5,437.9 L946.5,437.0 L949.0,435.2 L954.3,430.0 L962.5,420.3 L969.0,413.1 L980.4,397.1 L982.9,394.4 L984.9,392.7 L987.4,391.4 L989.4,391.2 L991.9,391.7 L998.4,394.1 L1000.1,394.3 L1001.7,394.2 L1003.3,393.7 L1005.4,392.5 L1013.2,387.0 L1015.2,386.0 L1016.8,385.6 L1018.5,385.6 L1020.1,386.4 L1021.7,387.7 L1023.4,389.5 L1026.6,394.2 L1034.0,406.5 L1037.3,410.8 L1038.9,412.3 L1040.5,413.3 L1041.8,413.6 L1043.0,413.3 L1044.2,412.3 L1045.9,409.7 L1048.7,402.7 L1052.0,391.8 L1058.9,365.8 L1062.2,355.7 L1063.8,351.9 L1065.1,349.7 L1066.7,348.0 L1067.9,347.7 L1069.2,348.3 L1070.8,350.7 L1072.0,353.5 L1073.6,358.2 L1076.5,368.8 L1083.1,396.5 L1086.3,407.9 L1088.4,412.8 L1095.3,424.5 L1097.8,427.9 L1099.8,430.1 L1101.9,431.6 L1103.5,432.1 L1117.8,432.2 L1120.2,431.5 L1122.7,430.0 L1125.6,427.7 L1128.4,424.8 L1130.1,422.2 L1132.1,417.9 L1135.0,410.2 L1137.8,400.9 L1140.3,392.1 L1142.3,382.8 L1145.6,364.0 L1149.7,335.9 L1151.3,319.9 L1156.6,258.0 L1158.3,245.7 L1159.1,242.2 L1159.5,241.3 L1159.9,241.1 L1160.7,241.9 L1161.5,244.3 L1162.4,248.1 L1163.6,255.9 L1165.6,273.2 L1169.7,314.1 L1171.8,332.2 L1177.9,373.9 L1180.3,388.6 L1182.4,398.0 L1184.0,402.8 L1185.2,404.6 L1187.7,407.3 L1189.7,409.2 L1191.4,410.3 L1193.0,411.0 L1194.6,411.4 L1195.9,411.3 L1197.5,410.7 L1200.8,408.3 L1207.3,401.2 L1210.2,398.6 L1211.8,397.6 L1213.0,397.1 L1214.3,397.0 L1215.5,397.2 L1216.7,397.9 L1217.9,399.0 L1220.8,402.7 L1223.3,406.9 L1230.6,420.6 L1232.7,423.8 L1234.7,426.3 L1241.7,431.6 L1246.6,434.8 L1250.6,436.8 L1254.7,437.8 L1288.7,437.9 L1289.9,437.8 L1291.5,437.2 L1294.0,435.8 L1296.8,433.2 L1306.6,422.1 L1311.6,417.4 L1319.7,408.9 L1323.4,406.2 L1325.0,405.6 L1326.7,405.3 L1327.9,405.5 L1329.1,406.0 L1332.0,408.4 L1334.9,411.9 L1341.8,422.1 L1344.7,425.8 L1354.1,435.5 L1356.5,437.4 L1359.0,438.4 L1493.0,438.5" fill="none" stroke="#00ff00" stroke-width="1.35" stroke-linejoin="round"/>
<path d="M880.3,438.5 L887.7,440.5 L895.8,442.0 L904.4,442.9 L914.2,443.2 L918.7,443.2 L922.0,442.8 L934.7,439.4 L939.6,438.6 L946.1,438.6 L953.9,439.4 L963.3,441.0 L973.9,443.5 L1001.7,450.9 L1018.1,456.5 L1021.7,457.3 L1025.4,457.7 L1027.5,457.6 L1029.1,457.3 L1032.8,455.8 L1036.5,453.4 L1045.9,446.5 L1050.3,444.0 L1052.4,443.3 L1054.4,442.9 L1056.1,443.0 L1058.1,443.5 L1061.4,445.2 L1065.1,448.2 L1068.7,451.7 L1070.4,454.4 L1072.4,459.5 L1074.5,465.9 L1081.8,493.3 L1084.7,502.7 L1086.3,507.0 L1088.0,510.1 L1089.6,511.9 L1090.8,512.3 L1092.0,511.9 L1093.7,510.5 L1095.3,508.1 L1096.9,505.0 L1100.2,497.0 L1108.8,472.8 L1111.3,467.2 L1113.7,463.0 L1115.3,461.3 L1118.2,459.1 L1128.4,452.9 L1138.2,444.5 L1142.3,441.9 L1144.4,441.2 L1146.8,441.0 L1151.7,441.4 L1157.0,442.2 L1176.7,446.6 L1192.2,451.5 L1195.5,452.1 L1198.7,452.4 L1202.0,452.1 L1205.3,451.3 L1217.1,446.8 L1231.0,442.5 L1233.9,441.9 L1236.7,441.7 L1238.0,441.7 L1239.2,442.3 L1240.8,443.7 L1242.9,446.7 L1244.9,450.6 L1247.0,455.4 L1252.3,470.9 L1254.3,480.6 L1257.2,501.0 L1264.5,562.7 L1271.1,628.5 L1273.1,647.0 L1275.6,663.3 L1276.8,668.0 L1277.6,669.7 L1278.0,670.0 L1278.4,669.9 L1279.3,668.8 L1280.5,664.7 L1281.7,658.2 L1283.3,646.3 L1285.4,627.8 L1291.5,565.6 L1299.7,492.8 L1302.2,473.4 L1303.8,463.3 L1305.4,456.4 L1309.1,444.8 L1310.7,441.0 L1312.0,439.2 L1312.8,438.6 L1313.6,438.5 L1493.0,438.5" fill="none" stroke="#00ff00" stroke-width="1.35" stroke-linejoin="round"/>
<path d="M880.3,438.5 L888.1,435.5 L896.2,433.4 L905.2,432.2 L915.9,431.8 L919.5,431.9 L922.8,432.6 L933.8,436.9 L937.9,438.1 L941.6,438.5 L945.3,438.0 L949.0,436.7 L952.7,434.8 L967.4,425.0 L971.0,421.9 L980.0,412.9 L982.5,410.8 L984.9,409.3 L987.0,408.5 L989.0,408.2 L998.8,409.4 L1002.1,409.3 L1005.4,408.1 L1013.2,404.0 L1015.2,403.3 L1016.8,403.0 L1018.5,403.0 L1020.1,403.5 L1023.4,405.6 L1026.6,408.9 L1034.0,417.2 L1037.3,420.2 L1038.9,421.2 L1040.5,421.9 L1041.8,422.1 L1043.0,421.9 L1044.2,421.3 L1045.9,419.7 L1048.7,415.2 L1052.0,408.3 L1058.9,391.9 L1062.2,385.5 L1063.8,383.1 L1065.1,381.8 L1066.3,380.9 L1067.5,380.5 L1068.7,380.6 L1070.0,381.3 L1071.2,382.4 L1072.8,384.6 L1076.1,390.6 L1083.5,407.2 L1086.7,413.6 L1088.4,416.1 L1095.3,425.1 L1097.8,427.8 L1099.8,429.7 L1101.9,431.1 L1103.9,431.7 L1115.8,432.2 L1118.6,431.9 L1121.9,431.2 L1125.6,429.9 L1128.0,428.6 L1129.2,426.7 L1130.9,422.2 L1132.5,415.9 L1134.6,406.0 L1140.3,371.6 L1143.1,347.5 L1146.4,312.3 L1150.1,267.0 L1155.4,166.5 L1157.0,140.0 L1158.7,122.9 L1159.5,119.1 L1159.9,118.7 L1160.3,119.2 L1161.1,122.8 L1162.8,138.7 L1164.4,163.3 L1170.1,265.7 L1175.4,327.7 L1178.3,356.7 L1180.3,372.2 L1182.0,380.1 L1183.2,383.0 L1186.1,388.3 L1188.5,391.9 L1190.6,394.2 L1192.6,395.7 L1194.2,396.2 L1195.9,396.2 L1197.5,395.3 L1199.1,393.8 L1200.8,391.8 L1207.3,381.6 L1210.2,377.8 L1211.8,376.3 L1213.4,375.5 L1214.7,375.5 L1215.9,376.1 L1217.1,377.2 L1218.4,378.9 L1220.8,383.6 L1223.7,390.7 L1230.6,409.7 L1232.7,414.5 L1234.7,418.2 L1242.5,427.9 L1247.4,433.1 L1249.8,435.1 L1251.9,436.5 L1253.9,437.4 L1255.6,437.8 L1288.7,437.9 L1291.5,437.5 L1294.0,436.5 L1296.8,434.8 L1306.6,427.5 L1311.6,424.4 L1319.7,418.8 L1323.4,417.0 L1326.7,416.4 L1329.1,416.9 L1332.0,418.5 L1334.9,420.8 L1341.8,427.6 L1344.7,430.0 L1354.1,436.5 L1356.5,437.7 L1359.0,438.4 L1493.0,438.5" fill="none" stroke="#ff0000" stroke-width="1.35" stroke-linejoin="round"/>
<path d="M880.3,438.5 L888.1,439.9 L896.2,440.9 L905.2,441.4 L915.9,441.7 L922.8,441.3 L938.3,438.7 L942.0,438.5 L946.5,438.7 L955.1,440.0 L973.5,444.2 L981.3,445.5 L987.4,446.0 L1003.3,446.1 L1006.2,446.4 L1010.3,447.3 L1020.5,450.5 L1023.4,451.1 L1025.8,451.3 L1028.7,451.0 L1032.0,449.9 L1043.0,443.9 L1047.1,442.2 L1049.1,441.8 L1051.2,441.7 L1056.5,442.4 L1060.6,443.5 L1064.7,445.0 L1065.9,445.9 L1067.5,447.6 L1069.6,450.6 L1072.0,455.1 L1080.6,473.9 L1083.9,480.1 L1085.9,483.2 L1087.5,485.0 L1089.2,486.1 L1090.8,486.4 L1092.0,486.2 L1093.7,485.2 L1095.3,483.7 L1096.9,481.7 L1100.2,476.5 L1108.8,460.8 L1111.3,457.1 L1113.3,454.8 L1116.2,452.8 L1121.5,450.1 L1126.4,448.1 L1132.1,446.2 L1141.9,443.6 L1146.4,442.7 L1150.9,442.5 L1154.6,443.2 L1157.9,444.5 L1161.1,446.2 L1174.6,455.2 L1181.2,458.9 L1190.6,464.6 L1195.1,466.5 L1197.1,467.0 L1199.1,467.1 L1201.6,466.6 L1204.5,464.8 L1207.3,462.2 L1213.9,455.1 L1216.7,452.4 L1218.4,451.2 L1226.1,446.3 L1230.6,443.9 L1234.3,442.7 L1237.6,442.3 L1239.2,443.1 L1240.8,445.1 L1242.9,449.1 L1244.5,453.3 L1246.6,459.9 L1249.0,469.3 L1251.9,481.9 L1253.5,492.9 L1254.7,505.8 L1256.4,527.5 L1260.9,597.3 L1264.5,647.6 L1269.9,729.2 L1272.3,763.1 L1273.9,781.6 L1275.2,792.4 L1276.8,801.7 L1277.6,803.9 L1278.0,804.3 L1278.4,804.2 L1278.9,803.5 L1280.1,797.5 L1281.3,786.7 L1282.5,772.0 L1284.6,741.0 L1290.7,636.5 L1298.5,532.4 L1301.3,498.8 L1303.4,480.4 L1305.0,470.6 L1309.9,451.5 L1312.0,445.5 L1314.0,441.1 L1315.6,439.0 L1316.9,438.5 L1493.0,438.5" fill="none" stroke="#ff0000" stroke-width="1.35" stroke-linejoin="round"/>
<path d="M880.3,436.0 L887.2,434.9 L893.0,434.8 L930.6,438.1 L939.6,438.5 L943.3,438.3 L946.1,436.9 L949.0,434.7 L959.6,424.2 L967.4,415.0 L969.4,413.4 L971.5,412.7 L973.9,413.0 L976.8,414.4 L979.6,416.5 L986.6,422.4 L990.3,424.5 L998.4,427.2 L1004.2,428.7 L1009.9,429.6 L1012.3,429.7 L1013.6,429.5 L1016.0,428.0 L1018.5,425.6 L1020.9,422.5 L1027.9,412.6 L1030.7,407.5 L1036.5,394.8 L1038.9,389.9 L1041.4,386.4 L1042.6,385.4 L1043.8,384.9 L1044.6,384.9 L1045.9,385.4 L1048.3,387.4 L1050.8,390.5 L1056.1,398.8 L1058.5,402.2 L1065.5,409.5 L1068.3,411.9 L1070.0,412.9 L1071.2,413.2 L1072.4,413.2 L1073.6,413.0 L1076.1,411.5 L1079.0,408.5 L1081.4,404.9 L1083.9,400.5 L1089.2,388.4 L1093.7,376.3 L1094.9,371.5 L1096.1,365.2 L1098.2,352.0 L1100.2,336.1 L1107.6,270.6 L1112.5,232.3 L1119.0,175.0 L1121.9,152.3 L1123.9,139.0 L1126.0,129.2 L1127.6,124.5 L1128.4,123.4 L1129.2,123.1 L1130.1,123.8 L1130.9,125.5 L1132.5,131.6 L1134.1,140.6 L1135.8,152.2 L1138.2,172.8 L1145.2,237.5 L1153.8,309.6 L1157.0,333.1 L1161.5,357.5 L1164.8,371.1 L1166.4,375.9 L1169.7,383.6 L1171.8,387.4 L1173.8,390.1 L1175.8,391.3 L1179.1,392.7 L1182.8,393.7 L1193.8,396.1 L1200.4,398.4 L1206.9,401.1 L1214.3,404.4 L1222.0,408.3 L1234.7,416.7 L1248.6,423.6 L1254.3,426.3 L1259.2,428.2 L1263.7,429.6 L1268.2,430.5 L1273.5,430.9 L1289.9,430.3 L1296.4,430.5 L1304.2,431.7 L1320.1,435.1 L1326.7,436.3 L1342.2,437.7 L1352.8,438.4 L1493.0,438.5" fill="none" stroke="#000000" stroke-width="1.35" stroke-linejoin="round"/>
<path d="M880.3,436.0 L902.8,436.0 L912.6,436.2 L926.5,437.1 L942.0,438.6 L945.3,439.2 L949.0,440.3 L964.5,446.7 L968.2,447.7 L971.9,448.1 L977.2,447.9 L983.3,447.0 L1001.7,442.3 L1007.8,441.0 L1013.6,440.2 L1018.1,440.2 L1021.3,440.8 L1025.4,442.2 L1037.3,448.1 L1041.4,449.9 L1045.0,450.9 L1048.3,451.3 L1052.4,450.9 L1056.9,449.6 L1061.4,447.6 L1074.5,441.0 L1078.1,439.6 L1081.8,438.7 L1084.7,438.5 L1099.0,438.7 L1126.0,439.8 L1137.0,441.1 L1175.0,447.5 L1182.4,449.0 L1199.1,453.4 L1206.9,455.0 L1213.9,455.7 L1230.6,456.6 L1235.9,457.3 L1241.2,459.1 L1247.8,462.3 L1252.3,465.6 L1257.2,470.3 L1263.7,477.2 L1267.8,482.2 L1276.0,493.5 L1281.7,502.3 L1284.6,506.2 L1287.4,509.0 L1293.6,513.6 L1296.0,515.7 L1298.9,519.0 L1311.6,535.3 L1313.6,537.3 L1314.8,538.0 L1315.6,538.2 L1316.5,537.9 L1317.7,536.4 L1320.1,530.6 L1324.6,517.1 L1329.1,500.8 L1334.9,481.6 L1337.3,474.3 L1339.8,468.2 L1344.3,458.1 L1348.3,450.5 L1354.5,441.7 L1356.1,439.8 L1357.3,438.9 L1359.0,438.5 L1493.0,438.5" fill="none" stroke="#000000" stroke-width="1.35" stroke-linejoin="round"/>
<path d="M880.3,438.5H1492.7" stroke="#000" stroke-width="2.2"/>
</g>
<g clip-path="url(#clipC)">
<path d="M160,1343.4H771.7" stroke="#000" stroke-width="2.2"/>
<path d="M160.0,1333.7 L169.8,1336.8 L176.7,1338.5 L181.2,1339.3 L194.6,1341.0 L207.2,1342.3 L218.2,1342.9 L227.2,1342.9 L235.3,1342.3 L248.8,1340.2 L257.7,1338.3 L260.6,1337.4 L263.4,1336.0 L266.7,1333.9 L278.1,1325.1 L282.6,1322.0 L285.0,1320.7 L287.5,1319.8 L289.9,1319.2 L292.0,1319.2 L293.6,1319.4 L295.6,1320.2 L299.3,1322.5 L303.0,1325.6 L312.3,1334.9 L316.4,1338.1 L318.4,1339.3 L320.5,1340.1 L322.5,1340.4 L323.7,1340.2 L324.9,1339.4 L326.2,1337.9 L328.6,1333.3 L331.1,1326.9 L334.3,1316.4 L342.9,1285.4 L344.9,1275.2 L349.0,1251.5 L351.0,1241.7 L352.6,1236.6 L353.5,1235.3 L354.3,1234.9 L355.1,1235.4 L356.3,1237.4 L358.3,1243.6 L360.4,1252.2 L366.9,1283.7 L374.2,1309.0 L376.3,1314.6 L377.9,1317.7 L378.7,1318.7 L379.5,1319.1 L380.3,1319.0 L380.7,1318.7 L381.6,1317.5 L382.8,1314.7 L384.8,1307.3 L387.3,1294.8 L390.1,1277.0 L397.8,1223.6 L399.9,1204.2 L404.0,1160.5 L406.0,1141.9 L408.0,1129.2 L408.8,1126.5 L409.7,1125.3 L410.1,1125.3 L410.5,1125.7 L411.7,1129.0 L412.9,1134.9 L414.1,1143.1 L416.2,1160.4 L422.3,1219.9 L423.9,1232.4 L427.6,1255.2 L432.5,1283.5 L436.9,1306.8 L443.5,1337.2 L444.7,1341.3 L445.5,1342.5 L447.5,1342.5 L450.4,1341.9 L453.2,1341.0 L456.5,1339.6 L472.4,1331.2 L484.6,1322.8 L488.7,1320.3 L493.1,1318.3 L497.2,1317.6 L498.4,1317.7 L499.3,1318.0 L501.7,1320.2 L504.1,1323.5 L509.8,1332.6 L512.7,1336.1 L513.9,1337.0 L517.6,1338.9 L523.3,1341.2 L525.7,1341.8 L528.2,1342.1 L543.6,1341.8 L556.7,1340.8 L567.7,1339.1 L568.9,1337.4 L570.1,1334.0 L571.8,1327.5 L576.2,1307.0 L581.9,1289.0 L584.0,1283.3 L585.6,1279.8 L587.2,1277.6 L588.4,1277.0 L589.3,1277.3 L590.5,1278.7 L592.5,1283.3 L598.2,1302.0 L601.5,1311.5 L606.4,1327.3 L609.2,1334.9 L610.4,1337.2 L611.7,1338.8 L614.9,1340.8 L618.2,1342.3 L621.0,1343.1 L623.9,1343.4 L770.5,1343.4" fill="none" stroke="#0000ff" stroke-width="1.35" stroke-linejoin="round"/>
<path d="M160.0,1332.9 L169.8,1336.1 L176.7,1338.0 L181.2,1338.9 L193.8,1340.7 L206.0,1342.1 L216.6,1342.8 L226.0,1343.0 L234.1,1342.5 L247.2,1340.5 L257.7,1338.3 L260.2,1337.6 L263.0,1336.3 L266.3,1334.3 L278.1,1325.5 L282.6,1322.6 L287.5,1320.4 L289.9,1319.9 L292.0,1319.8 L293.6,1320.1 L295.6,1320.8 L299.3,1323.0 L303.0,1326.1 L312.3,1335.1 L316.4,1338.2 L318.4,1339.4 L320.5,1340.1 L322.5,1340.4 L323.7,1340.3 L324.9,1339.4 L326.2,1337.9 L328.6,1333.4 L331.1,1327.1 L334.3,1316.8 L342.9,1286.3 L344.9,1276.2 L349.0,1252.8 L351.0,1243.1 L352.6,1238.1 L353.5,1236.8 L354.3,1236.4 L355.1,1236.9 L356.3,1238.9 L358.3,1245.0 L360.4,1253.6 L366.9,1284.7 L373.8,1308.0 L375.9,1313.8 L377.5,1317.2 L378.3,1318.3 L379.1,1319.0 L379.9,1319.1 L380.7,1318.7 L382.4,1316.3 L384.0,1311.9 L385.6,1305.9 L387.3,1298.5 L390.5,1280.4 L397.4,1237.1 L399.9,1216.8 L404.4,1167.7 L406.4,1147.9 L408.4,1134.1 L409.7,1130.0 L410.1,1129.5 L410.5,1129.5 L411.3,1130.5 L412.5,1134.6 L414.5,1146.9 L416.6,1164.3 L422.7,1224.1 L424.3,1236.6 L428.0,1259.6 L432.9,1288.0 L437.4,1311.0 L443.5,1337.7 L444.7,1341.4 L445.5,1342.5 L447.5,1342.5 L450.4,1341.9 L456.1,1339.8 L472.8,1331.0 L484.6,1323.1 L488.7,1320.7 L493.1,1318.8 L497.2,1318.1 L498.4,1318.2 L499.3,1318.6 L501.7,1320.7 L504.1,1323.9 L509.8,1332.7 L512.7,1336.1 L513.9,1337.0 L518.0,1339.1 L523.7,1341.3 L526.1,1341.9 L528.6,1342.1 L544.5,1341.8 L557.1,1340.7 L567.7,1339.1 L568.9,1337.4 L570.1,1334.1 L571.8,1328.0 L576.2,1308.2 L581.9,1291.1 L584.0,1285.8 L585.6,1282.4 L587.2,1280.3 L588.4,1279.8 L589.3,1280.1 L590.5,1281.4 L592.5,1285.8 L598.2,1303.9 L601.5,1312.9 L606.8,1329.0 L609.2,1335.1 L610.8,1337.9 L612.1,1339.1 L615.3,1341.0 L618.6,1342.4 L621.4,1343.2 L623.9,1343.4 L770.5,1343.4" fill="none" stroke="#00ffff" stroke-width="1.35" stroke-linejoin="round"/>
<path d="M160.0,1343.4 L307.8,1343.4 L328.2,1343.0 L337.6,1342.5 L338.8,1342.3 L340.4,1341.4 L342.1,1340.0 L345.7,1335.4 L349.4,1329.2 L356.3,1316.2 L357.9,1312.1 L360.0,1305.8 L367.7,1277.2 L370.6,1268.0 L372.2,1263.8 L373.4,1261.3 L375.0,1259.1 L376.3,1258.4 L377.5,1258.5 L378.7,1259.6 L379.9,1261.5 L381.6,1265.2 L384.4,1273.7 L390.5,1294.8 L393.4,1302.6 L395.0,1305.6 L396.2,1307.0 L397.4,1307.4 L398.7,1306.6 L399.9,1304.5 L401.1,1301.1 L404.0,1289.0 L408.4,1262.3 L410.1,1248.7 L412.1,1221.8 L417.0,1145.4 L422.3,1045.3 L424.3,1010.9 L426.4,986.4 L427.6,978.6 L428.0,977.4 L428.4,977.0 L428.8,977.3 L429.2,978.4 L430.4,985.9 L432.5,1009.9 L434.5,1044.0 L439.8,1144.4 L445.1,1227.5 L447.5,1257.7 L451.6,1288.3 L453.6,1300.4 L455.7,1310.7 L458.1,1320.7 L462.2,1334.6 L464.2,1340.1 L465.9,1342.8 L467.1,1343.4 L770.5,1343.4" fill="none" stroke="#00ff00" stroke-width="1.35" stroke-linejoin="round"/>
<path d="M160.0,1327.4 L164.1,1326.7 L167.3,1326.6 L170.6,1326.9 L180.0,1328.7 L182.8,1328.9 L184.4,1328.6 L186.9,1327.5 L189.3,1326.0 L197.1,1319.5 L200.3,1317.1 L203.2,1315.7 L206.0,1315.3 L207.2,1315.6 L208.9,1316.4 L211.7,1318.6 L214.6,1321.8 L221.5,1330.4 L225.2,1334.0 L227.2,1335.2 L229.2,1335.8 L230.5,1335.7 L232.1,1334.7 L234.1,1332.5 L236.2,1329.2 L238.6,1324.4 L241.9,1316.9 L243.9,1309.3 L249.2,1283.5 L255.7,1259.2 L257.7,1252.8 L259.4,1249.0 L261.0,1246.6 L262.2,1246.1 L263.0,1246.5 L264.3,1248.2 L265.5,1251.1 L266.7,1255.0 L268.7,1263.1 L274.0,1286.9 L280.1,1311.2 L282.2,1318.3 L283.8,1321.9 L287.1,1325.2 L289.9,1326.8 L294.0,1327.5 L303.8,1328.4 L305.8,1328.8 L307.0,1329.3 L310.3,1331.5 L318.0,1338.9 L320.1,1340.3 L321.7,1341.1 L327.4,1341.8 L338.0,1342.6 L357.5,1343.4 L491.9,1343.4 L507.8,1343.0 L522.9,1342.1 L527.0,1341.0 L531.0,1338.8 L535.1,1335.7 L539.6,1331.4 L541.2,1329.1 L542.8,1325.8 L545.3,1319.1 L548.1,1309.2 L551.8,1294.0 L553.8,1284.1 L555.9,1271.3 L557.9,1256.1 L566.0,1187.3 L568.5,1161.5 L573.8,1099.5 L576.2,1075.1 L577.5,1065.4 L578.7,1057.9 L579.9,1053.0 L580.7,1051.4 L581.1,1051.1 L581.5,1051.2 L582.3,1052.4 L584.0,1058.7 L585.6,1069.3 L587.2,1083.4 L589.7,1109.1 L595.8,1179.9 L599.4,1216.0 L604.7,1271.9 L607.2,1293.8 L609.2,1307.2 L612.5,1321.5 L615.7,1333.5 L617.4,1338.0 L618.6,1340.5 L619.8,1342.0 L621.0,1342.6 L637.7,1341.3 L641.0,1341.6 L648.3,1343.0 L652.0,1343.4 L770.5,1343.4" fill="none" stroke="#ff0000" stroke-width="1.35" stroke-linejoin="round"/>
<path d="M160.0,1332.0 L167.7,1312.0 L175.5,1294.3 L182.0,1278.4 L184.0,1274.3 L185.7,1271.9 L187.3,1270.5 L188.5,1270.1 L189.3,1270.3 L190.5,1271.1 L191.8,1272.6 L193.0,1274.6 L195.8,1280.9 L201.9,1297.2 L204.4,1302.9 L206.8,1307.0 L208.1,1308.2 L209.3,1308.8 L210.5,1308.7 L211.7,1308.0 L212.9,1306.8 L214.6,1304.4 L217.4,1299.0 L223.5,1285.7 L226.4,1280.8 L228.0,1278.8 L229.2,1278.0 L230.5,1277.7 L231.7,1278.2 L232.5,1279.1 L233.7,1281.1 L235.8,1285.8 L242.3,1305.9 L244.7,1312.3 L250.4,1323.6 L253.7,1329.4 L256.9,1333.7 L259.8,1336.0 L265.9,1339.6 L268.7,1340.8 L271.6,1341.7 L281.4,1343.1 L290.3,1343.4 L309.5,1342.8 L320.5,1342.0 L324.1,1341.4 L326.6,1339.9 L329.0,1337.6 L335.5,1329.8 L340.0,1325.1 L345.7,1318.1 L348.6,1314.9 L351.8,1312.4 L353.5,1311.8 L354.7,1311.7 L355.9,1312.0 L357.1,1312.7 L360.0,1315.8 L362.4,1319.5 L368.9,1330.9 L372.2,1335.3 L373.4,1336.5 L379.5,1340.8 L382.0,1342.2 L384.4,1343.1 L386.4,1343.4 L390.9,1343.2 L405.6,1341.0 L411.7,1340.5 L419.4,1340.8 L436.1,1342.9 L443.5,1343.4 L459.3,1343.0 L469.1,1342.2 L470.3,1341.8 L471.6,1340.7 L473.2,1338.2 L476.0,1331.7 L480.5,1317.5 L481.7,1313.1 L483.0,1307.4 L485.4,1291.0 L493.1,1229.1 L498.8,1178.5 L501.3,1159.2 L502.9,1149.0 L504.1,1143.3 L505.4,1139.6 L506.2,1138.4 L506.6,1138.3 L507.0,1138.4 L507.8,1139.5 L509.4,1144.9 L510.7,1151.2 L512.3,1162.2 L519.6,1226.3 L523.3,1255.3 L527.8,1295.2 L530.2,1312.9 L531.8,1320.7 L534.3,1326.7 L538.4,1334.5 L540.4,1337.3 L542.0,1338.9 L543.6,1339.9 L544.9,1340.2 L547.3,1339.9 L549.8,1339.1 L554.2,1336.7 L562.8,1330.7 L566.5,1328.5 L570.1,1327.0 L573.4,1326.6 L577.0,1327.1 L581.1,1328.6 L584.8,1330.5 L593.7,1335.8 L598.2,1337.9 L610.8,1342.0 L614.5,1342.9 L617.8,1343.3 L770.5,1343.4" fill="none" stroke="#000000" stroke-width="1.35" stroke-linejoin="round"/>
<path d="M160.0,1353.1 L169.8,1350.0 L176.7,1348.3 L181.2,1347.5 L194.6,1345.8 L207.2,1344.5 L218.2,1343.9 L227.2,1343.9 L235.3,1344.5 L248.8,1346.6 L257.7,1348.5 L260.6,1349.4 L263.4,1350.8 L266.7,1352.9 L278.1,1361.7 L282.6,1364.8 L285.0,1366.1 L287.5,1367.0 L289.9,1367.6 L292.0,1367.6 L293.6,1367.4 L295.6,1366.6 L299.3,1364.3 L303.0,1361.2 L312.3,1351.9 L316.4,1348.7 L318.4,1347.5 L320.5,1346.7 L322.5,1346.4 L323.7,1346.6 L324.9,1347.4 L326.2,1348.9 L328.6,1353.5 L331.1,1359.9 L334.3,1370.4 L342.9,1401.4 L344.9,1411.6 L349.0,1435.3 L351.0,1445.1 L352.6,1450.2 L353.5,1451.5 L354.3,1451.9 L355.1,1451.4 L356.3,1449.4 L358.3,1443.2 L360.4,1434.6 L366.9,1403.1 L374.2,1377.8 L376.3,1372.2 L377.9,1369.1 L378.7,1368.1 L379.5,1367.7 L380.3,1367.8 L380.7,1368.1 L381.6,1369.3 L382.8,1372.1 L384.8,1379.5 L387.3,1392.0 L390.1,1409.8 L397.8,1463.2 L399.9,1482.6 L404.0,1526.3 L406.0,1544.9 L408.0,1557.6 L408.8,1560.3 L409.7,1561.5 L410.1,1561.5 L410.5,1561.1 L411.7,1557.8 L412.9,1551.9 L414.1,1543.7 L416.2,1526.4 L422.3,1466.9 L423.9,1454.4 L427.6,1431.6 L432.5,1403.3 L436.9,1380.0 L443.5,1349.6 L444.7,1345.5 L445.5,1344.3 L447.5,1344.3 L450.4,1344.9 L453.2,1345.8 L456.5,1347.2 L472.4,1355.6 L484.6,1364.0 L488.7,1366.5 L493.1,1368.5 L497.2,1369.2 L498.4,1369.1 L499.3,1368.8 L501.7,1366.6 L504.1,1363.3 L509.8,1354.2 L512.7,1350.7 L513.9,1349.8 L517.6,1347.9 L523.3,1345.6 L525.7,1345.0 L528.2,1344.7 L543.6,1345.0 L556.7,1346.0 L567.7,1347.7 L568.9,1349.4 L570.1,1352.8 L571.8,1359.3 L576.2,1379.8 L581.9,1397.8 L584.0,1403.5 L585.6,1407.0 L587.2,1409.2 L588.4,1409.8 L589.3,1409.5 L590.5,1408.1 L592.5,1403.5 L598.2,1384.8 L601.5,1375.3 L606.4,1359.5 L609.2,1351.9 L610.4,1349.6 L611.7,1348.0 L614.9,1346.0 L618.2,1344.5 L621.0,1343.7 L623.9,1343.4 L770.5,1343.4" fill="none" stroke="#0000ff" stroke-width="1.35" stroke-linejoin="round"/>
<path d="M160.0,1353.9 L169.8,1350.7 L176.7,1348.8 L181.2,1347.9 L193.8,1346.1 L206.0,1344.7 L216.6,1344.0 L226.0,1343.8 L234.1,1344.3 L247.2,1346.3 L257.7,1348.5 L260.2,1349.2 L263.0,1350.5 L266.3,1352.5 L278.1,1361.3 L282.6,1364.2 L287.5,1366.4 L289.9,1366.9 L292.0,1367.0 L293.6,1366.7 L295.6,1366.0 L299.3,1363.8 L303.0,1360.7 L312.3,1351.7 L316.4,1348.6 L318.4,1347.4 L320.5,1346.7 L322.5,1346.4 L323.7,1346.5 L324.9,1347.4 L326.2,1348.9 L328.6,1353.4 L331.1,1359.7 L334.3,1370.0 L342.9,1400.5 L344.9,1410.6 L349.0,1434.0 L351.0,1443.7 L352.6,1448.7 L353.5,1450.0 L354.3,1450.4 L355.1,1449.9 L356.3,1447.9 L358.3,1441.8 L360.4,1433.2 L366.9,1402.1 L373.8,1378.8 L375.9,1373.0 L377.5,1369.6 L378.3,1368.5 L379.1,1367.8 L379.9,1367.7 L380.7,1368.1 L382.4,1370.5 L384.0,1374.9 L385.6,1380.9 L387.3,1388.3 L390.5,1406.4 L397.4,1449.7 L399.9,1470.0 L404.4,1519.1 L406.4,1538.9 L408.4,1552.7 L409.7,1556.8 L410.1,1557.3 L410.5,1557.3 L411.3,1556.3 L412.5,1552.2 L414.5,1539.9 L416.6,1522.5 L422.7,1462.7 L424.3,1450.2 L428.0,1427.2 L432.9,1398.8 L437.4,1375.8 L443.5,1349.1 L444.7,1345.4 L445.5,1344.3 L447.5,1344.3 L450.4,1344.9 L456.1,1347.0 L472.8,1355.8 L484.6,1363.7 L488.7,1366.1 L493.1,1368.0 L497.2,1368.7 L498.4,1368.6 L499.3,1368.2 L501.7,1366.1 L504.1,1362.9 L509.8,1354.1 L512.7,1350.7 L513.9,1349.8 L518.0,1347.7 L523.7,1345.5 L526.1,1344.9 L528.6,1344.7 L544.5,1345.0 L557.1,1346.1 L567.7,1347.7 L568.9,1349.4 L570.1,1352.7 L571.8,1358.8 L576.2,1378.6 L581.9,1395.7 L584.0,1401.0 L585.6,1404.4 L587.2,1406.5 L588.4,1407.0 L589.3,1406.7 L590.5,1405.4 L592.5,1401.0 L598.2,1382.9 L601.5,1373.9 L606.8,1357.8 L609.2,1351.7 L610.8,1348.9 L612.1,1347.7 L615.3,1345.8 L618.6,1344.4 L621.4,1343.6 L623.9,1343.4 L770.5,1343.4" fill="none" stroke="#00ffff" stroke-width="1.35" stroke-linejoin="round"/>
<path d="M160.0,1343.4 L307.8,1343.4 L328.2,1343.8 L337.6,1344.3 L338.8,1344.5 L340.4,1345.4 L342.1,1346.8 L345.7,1351.4 L349.4,1357.6 L356.3,1370.6 L357.9,1374.7 L360.0,1381.0 L367.7,1409.6 L370.6,1418.8 L372.2,1423.0 L373.4,1425.5 L375.0,1427.7 L376.3,1428.4 L377.5,1428.3 L378.7,1427.2 L379.9,1425.3 L381.6,1421.6 L384.4,1413.1 L390.5,1392.0 L393.4,1384.2 L395.0,1381.2 L396.2,1379.8 L397.4,1379.4 L398.7,1380.2 L399.9,1382.3 L401.1,1385.7 L404.0,1397.8 L408.4,1424.5 L410.1,1438.1 L412.1,1465.0 L417.0,1541.4 L422.3,1641.5 L424.3,1675.9 L426.4,1700.4 L427.6,1708.2 L428.0,1709.4 L428.4,1709.8 L428.8,1709.5 L429.2,1708.4 L430.4,1700.9 L432.5,1676.9 L434.5,1642.8 L439.8,1542.4 L445.1,1459.3 L447.5,1429.1 L451.6,1398.5 L453.6,1386.4 L455.7,1376.1 L458.1,1366.1 L462.2,1352.2 L464.2,1346.7 L465.9,1344.0 L467.1,1343.4 L770.5,1343.4" fill="none" stroke="#00ff00" stroke-width="1.35" stroke-linejoin="round"/>
<path d="M160.0,1359.4 L164.1,1360.1 L167.3,1360.2 L170.6,1359.9 L180.0,1358.1 L182.8,1357.9 L184.4,1358.2 L186.9,1359.3 L189.3,1360.8 L197.1,1367.3 L200.3,1369.7 L203.2,1371.1 L206.0,1371.5 L207.2,1371.2 L208.9,1370.4 L211.7,1368.2 L214.6,1365.0 L221.5,1356.4 L225.2,1352.8 L227.2,1351.6 L229.2,1351.0 L230.5,1351.1 L232.1,1352.1 L234.1,1354.3 L236.2,1357.6 L238.6,1362.4 L241.9,1369.9 L243.9,1377.5 L249.2,1403.3 L255.7,1427.6 L257.7,1434.0 L259.4,1437.8 L261.0,1440.2 L262.2,1440.7 L263.0,1440.3 L264.3,1438.6 L265.5,1435.7 L266.7,1431.8 L268.7,1423.7 L274.0,1399.9 L280.1,1375.6 L282.2,1368.5 L283.8,1364.9 L287.1,1361.6 L289.9,1360.0 L294.0,1359.3 L303.8,1358.4 L305.8,1358.0 L307.0,1357.5 L310.3,1355.3 L318.0,1347.9 L320.1,1346.5 L321.7,1345.7 L327.4,1345.0 L338.0,1344.2 L357.5,1343.4 L491.9,1343.4 L507.8,1343.8 L522.9,1344.7 L527.0,1345.8 L531.0,1348.0 L535.1,1351.1 L539.6,1355.4 L541.2,1357.7 L542.8,1361.0 L545.3,1367.7 L548.1,1377.6 L551.8,1392.8 L553.8,1402.7 L555.9,1415.5 L557.9,1430.7 L566.0,1499.5 L568.5,1525.3 L573.8,1587.3 L576.2,1611.7 L577.5,1621.4 L578.7,1628.9 L579.9,1633.8 L580.7,1635.4 L581.1,1635.7 L581.5,1635.6 L582.3,1634.4 L584.0,1628.1 L585.6,1617.5 L587.2,1603.4 L589.7,1577.7 L595.8,1506.9 L599.4,1470.8 L604.7,1414.9 L607.2,1393.0 L609.2,1379.6 L612.5,1365.3 L615.7,1353.3 L617.4,1348.8 L618.6,1346.3 L619.8,1344.8 L621.0,1344.2 L637.7,1345.5 L641.0,1345.2 L648.3,1343.8 L652.0,1343.4 L770.5,1343.4" fill="none" stroke="#ff0000" stroke-width="1.35" stroke-linejoin="round"/>
<path d="M160.0,1354.8 L167.7,1374.8 L175.5,1392.5 L182.0,1408.4 L184.0,1412.5 L185.7,1414.9 L187.3,1416.3 L188.5,1416.7 L189.3,1416.5 L190.5,1415.7 L191.8,1414.2 L193.0,1412.2 L195.8,1405.9 L201.9,1389.6 L204.4,1383.9 L206.8,1379.8 L208.1,1378.6 L209.3,1378.0 L210.5,1378.1 L211.7,1378.8 L212.9,1380.0 L214.6,1382.4 L217.4,1387.8 L223.5,1401.1 L226.4,1406.0 L228.0,1408.0 L229.2,1408.8 L230.5,1409.1 L231.7,1408.6 L232.5,1407.7 L233.7,1405.7 L235.8,1401.0 L242.3,1380.9 L244.7,1374.5 L250.4,1363.2 L253.7,1357.4 L256.9,1353.1 L259.8,1350.8 L265.9,1347.2 L268.7,1346.0 L271.6,1345.1 L281.4,1343.7 L290.3,1343.4 L309.5,1344.0 L320.5,1344.8 L324.1,1345.4 L326.6,1346.9 L329.0,1349.2 L335.5,1357.0 L340.0,1361.7 L345.7,1368.7 L348.6,1371.9 L351.8,1374.4 L353.5,1375.0 L354.7,1375.1 L355.9,1374.8 L357.1,1374.1 L360.0,1371.0 L362.4,1367.3 L368.9,1355.9 L372.2,1351.5 L373.4,1350.3 L379.5,1346.0 L382.0,1344.6 L384.4,1343.7 L386.4,1343.4 L390.9,1343.6 L405.6,1345.8 L411.7,1346.3 L419.4,1346.0 L436.1,1343.9 L443.5,1343.4 L459.3,1343.8 L469.1,1344.6 L470.3,1345.0 L471.6,1346.1 L473.2,1348.6 L476.0,1355.1 L480.5,1369.3 L481.7,1373.7 L483.0,1379.4 L485.4,1395.8 L493.1,1457.7 L498.8,1508.3 L501.3,1527.6 L502.9,1537.8 L504.1,1543.5 L505.4,1547.2 L506.2,1548.4 L506.6,1548.5 L507.0,1548.4 L507.8,1547.3 L509.4,1541.9 L510.7,1535.6 L512.3,1524.6 L519.6,1460.5 L523.3,1431.5 L527.8,1391.6 L530.2,1373.9 L531.8,1366.1 L534.3,1360.1 L538.4,1352.3 L540.4,1349.5 L542.0,1347.9 L543.6,1346.9 L544.9,1346.6 L547.3,1346.9 L549.8,1347.7 L554.2,1350.1 L562.8,1356.1 L566.5,1358.3 L570.1,1359.8 L573.4,1360.2 L577.0,1359.7 L581.1,1358.2 L584.8,1356.3 L593.7,1351.0 L598.2,1348.9 L610.8,1344.8 L614.5,1343.9 L617.8,1343.5 L770.5,1343.4" fill="none" stroke="#000000" stroke-width="1.35" stroke-linejoin="round"/>
</g>
<rect x="159.5" y="60.5" width="612.00" height="757.00" fill="none" stroke="#2c2c2c" stroke-width="1.2"/>
<path d="M159.5,753.50h7.5M771.5,753.50h-7.5M159.5,690.50h7.5M771.5,690.50h-7.5M159.5,627.50h7.5M771.5,627.50h-7.5M159.5,564.50h7.5M771.5,564.50h-7.5M159.5,501.50h7.5M771.5,501.50h-7.5M159.5,375.50h7.5M771.5,375.50h-7.5M159.5,312.50h7.5M771.5,312.50h-7.5M159.5,249.50h7.5M771.5,249.50h-7.5M159.5,186.50h7.5M771.5,186.50h-7.5M159.5,123.50h7.5M771.5,123.50h-7.5M241.50,60.5v8M241.50,817.5v-8M241.50,431.5v14M322.50,60.5v8M322.50,817.5v-8M322.50,431.5v14M404.50,60.5v8M404.50,817.5v-8M404.50,431.5v14M486.50,60.5v8M486.50,817.5v-8M486.50,431.5v14M567.50,60.5v8M567.50,817.5v-8M567.50,431.5v14M648.50,60.5v8M648.50,817.5v-8M648.50,431.5v14M730.50,60.5v8M730.50,817.5v-8M730.50,431.5v14" stroke="#2c2c2c" stroke-width="1.2" fill="none"/>
<rect x="880.5" y="60.5" width="612.00" height="757.00" fill="none" stroke="#2c2c2c" stroke-width="1.2"/>
<path d="M880.5,753.50h7.5M1492.5,753.50h-7.5M880.5,690.50h7.5M1492.5,690.50h-7.5M880.5,627.50h7.5M1492.5,627.50h-7.5M880.5,564.50h7.5M1492.5,564.50h-7.5M880.5,501.50h7.5M1492.5,501.50h-7.5M880.5,375.50h7.5M1492.5,375.50h-7.5M880.5,312.50h7.5M1492.5,312.50h-7.5M880.5,249.50h7.5M1492.5,249.50h-7.5M880.5,186.50h7.5M1492.5,186.50h-7.5M880.5,123.50h7.5M1492.5,123.50h-7.5M962.50,60.5v8M962.50,817.5v-8M962.50,431.5v14M1043.50,60.5v8M1043.50,817.5v-8M1043.50,431.5v14M1125.50,60.5v8M1125.50,817.5v-8M1125.50,431.5v14M1207.50,60.5v8M1207.50,817.5v-8M1207.50,431.5v14M1288.50,60.5v8M1288.50,817.5v-8M1288.50,431.5v14M1370.50,60.5v8M1370.50,817.5v-8M1370.50,431.5v14M1452.50,60.5v8M1452.50,817.5v-8M1452.50,431.5v14" stroke="#2c2c2c" stroke-width="1.2" fill="none"/>
<rect x="160" y="963.7" width="611.50" height="758.80" fill="none" stroke="#2c2c2c" stroke-width="1.6"/>
<path d="M160,1680.50h7.5M771.5,1680.50h-7.5M160,1638.50h7.5M771.5,1638.50h-7.5M160,1596.50h7.5M771.5,1596.50h-7.5M160,1554.50h7.5M771.5,1554.50h-7.5M160,1511.50h7.5M771.5,1511.50h-7.5M160,1469.50h7.5M771.5,1469.50h-7.5M160,1427.50h7.5M771.5,1427.50h-7.5M160,1385.50h7.5M771.5,1385.50h-7.5M160,1301.50h7.5M771.5,1301.50h-7.5M160,1259.50h7.5M771.5,1259.50h-7.5M160,1217.50h7.5M771.5,1217.50h-7.5M160,1174.50h7.5M771.5,1174.50h-7.5M160,1132.50h7.5M771.5,1132.50h-7.5M160,1090.50h7.5M771.5,1090.50h-7.5M160,1048.50h7.5M771.5,1048.50h-7.5M160,1006.50h7.5M771.5,1006.50h-7.5M241.50,963.7v8M241.50,1722.5v-8M241.50,1336.4v14M322.50,963.7v8M322.50,1722.5v-8M322.50,1336.4v14M404.50,963.7v8M404.50,1722.5v-8M404.50,1336.4v14M485.50,963.7v8M485.50,1722.5v-8M485.50,1336.4v14M566.50,963.7v8M566.50,1722.5v-8M566.50,1336.4v14M648.50,963.7v8M648.50,1722.5v-8M648.50,1336.4v14M729.50,963.7v8M729.50,1722.5v-8M729.50,1336.4v14" stroke="#2c2c2c" stroke-width="1.2" fill="none"/>
<path d="M161,965.3H770.5" stroke="#9a9a9a" stroke-width="1.2"/>
<path d="M675,98.0H744" stroke="#ff2a2a" stroke-width="1.7"/>
<text transform="translate(594.23,108.49) scale(1.1190,1)" font-size="40.85" font-family='"Liberation Serif", "Times New Roman", serif' font-style="italic" fill="#000">d</text>
<text transform="translate(619.61,115.73) scale(1.3558,1)" font-size="30.07" font-family='"Liberation Serif", "Times New Roman", serif' font-style="italic" fill="#000">xy</text>
<path d="M675,148.8H744" stroke="#22ee22" stroke-width="1.7"/>
<text transform="translate(549.25,145.60) scale(1.1270,1)" font-size="40.00" font-family='"Liberation Serif", "Times New Roman", serif' font-style="italic" fill="#000">d</text>
<text transform="translate(574.47,156.40) scale(1.2081,1)" font-size="31.09" font-family='"Liberation Serif", "Times New Roman", serif' font-style="italic" fill="#000">x</text>
<text transform="translate(593.16,145.50) scale(1.3467,1)" font-size="21.58" font-family='"Liberation Serif", "Times New Roman", serif' fill="#000">2</text>
<text transform="translate(635.85,155.66) scale(1.1703,1)" font-size="29.48" font-family='"Liberation Serif", "Times New Roman", serif' font-style="italic" fill="#000">y</text>
<text transform="translate(653.41,145.50) scale(1.3007,1)" font-size="21.58" font-family='"Liberation Serif", "Times New Roman", serif' fill="#000">2</text>
<path d="M675,200.5H744" stroke="#1a1aff" stroke-width="1.7"/>
<text transform="translate(594.65,199.50) scale(1.1099,1)" font-size="40.43" font-family='"Liberation Serif", "Times New Roman", serif' font-style="italic" fill="#000">d</text>
<text transform="translate(619.41,207.90) scale(1.2279,1)" font-size="33.26" font-family='"Liberation Serif", "Times New Roman", serif' font-style="italic" fill="#000">xz</text>
<path d="M675,252.0H744" stroke="#22eeff" stroke-width="1.7"/>
<text transform="translate(594.65,250.50) scale(1.1257,1)" font-size="39.86" font-family='"Liberation Serif", "Times New Roman", serif' font-style="italic" fill="#000">d</text>
<text transform="translate(622.09,258.00) scale(1.2795,1)" font-size="30.22" font-family='"Liberation Serif", "Times New Roman", serif' font-style="italic" fill="#000">yz</text>
<path d="M675,303.7H744" stroke="#111111" stroke-width="1.7"/>
<text transform="translate(598.45,305.30) scale(1.1099,1)" font-size="40.43" font-family='"Liberation Serif", "Times New Roman", serif' font-style="italic" fill="#000">d</text>
<text transform="translate(623.64,315.50) scale(0.9726,1)" font-size="36.09" font-family='"Liberation Serif", "Times New Roman", serif' font-style="italic" fill="#000">z</text>
<text transform="translate(640.13,304.90) scale(1.3256,1)" font-size="22.49" font-family='"Liberation Serif", "Times New Roman", serif' fill="#000">2</text>
<text transform="translate(609.79,166.42) scale(0.6836,1)" font-size="56.00" font-family='"Liberation Serif", "Times New Roman", serif' fill="#000">−</text>
<circle cx="272.8" cy="725.7" r="12.5" fill="#ffc000" stroke="#000" stroke-width="1.5"/>
<circle cx="299.2" cy="725.7" r="12.5" fill="#ffc000" stroke="#000" stroke-width="1.5"/>
<circle cx="326.8" cy="725.7" r="12.5" fill="#ffc000" stroke="#000" stroke-width="1.5"/>
<circle cx="262" cy="725.7" r="12.5" fill="#ffc000" stroke="#000" stroke-width="1.5"/>
<circle cx="287.2" cy="725.7" r="12.5" fill="#ffc000" stroke="#000" stroke-width="1.5"/>
<circle cx="312.9" cy="725.7" r="12.5" fill="#ffc000" stroke="#000" stroke-width="1.5"/>
<circle cx="340" cy="725.7" r="12.5" fill="#ffc000" stroke="#000" stroke-width="1.5"/>
<circle cx="299.2" cy="697.6" r="12.9" fill="#cc3300" stroke="#000" stroke-width="1.6"/>
<circle cx="401.20000000000005" cy="725.7" r="12.5" fill="#ffc000" stroke="#000" stroke-width="1.5"/>
<circle cx="427.6" cy="725.7" r="12.5" fill="#ffc000" stroke="#000" stroke-width="1.5"/>
<circle cx="455.20000000000005" cy="725.7" r="12.5" fill="#ffc000" stroke="#000" stroke-width="1.5"/>
<circle cx="390.4" cy="725.7" r="12.5" fill="#ffc000" stroke="#000" stroke-width="1.5"/>
<circle cx="415.6" cy="725.7" r="12.5" fill="#ffc000" stroke="#000" stroke-width="1.5"/>
<circle cx="441.29999999999995" cy="725.7" r="12.5" fill="#ffc000" stroke="#000" stroke-width="1.5"/>
<circle cx="468.4" cy="725.7" r="12.5" fill="#ffc000" stroke="#000" stroke-width="1.5"/>
<circle cx="427.6" cy="697.6" r="12.9" fill="#cc3300" stroke="#000" stroke-width="1.6"/>
<circle cx="299" cy="674.2" r="6.7" fill="#000" stroke="#000" stroke-width="1.5"/>
<circle cx="300.8" cy="661.8" r="6.5" fill="#ff0000" stroke="#000" stroke-width="1.5"/>
<circle cx="427.6" cy="674.2" r="6.7" fill="#000" stroke="#000" stroke-width="1.5"/>
<circle cx="430.8" cy="661.8" r="6.5" fill="#ff0000" stroke="#000" stroke-width="1.5"/>
<path d="M307.4,664C315.5,668.5 315.5,682 309.8,687.8" fill="none" stroke="#000" stroke-width="1"/>
<path d="M437.4,666C445,670.5 445.5,683 439.5,690" fill="none" stroke="#000" stroke-width="1"/>
<path d="M253,758H346.5" stroke="#000" stroke-width="2.2"/>
<path d="M381.2,758.2H474.3" stroke="#000" stroke-width="2.2" stroke-dasharray="14.6,5.0"/>
<text transform="translate(169.81,688.76) scale(0.9397,1)" font-size="23.79" font-family='"Liberation Serif", "Times New Roman", serif' fill="#000">CO-FePc</text>
<text transform="translate(169.82,732.92) scale(0.9808,1)" font-size="22.48" font-family='"Liberation Serif", "Times New Roman", serif' fill="#000">Cu(111)</text>
<text transform="translate(315.28,689.34) scale(0.9270,1)" font-size="23.68" font-family='"Liberation Serif", "Times New Roman", serif' fill="#000">176.0°</text>
<text transform="translate(447.32,689.34) scale(0.9069,1)" font-size="23.68" font-family='"Liberation Serif", "Times New Roman", serif' fill="#000">154.3°</text>
<ellipse cx="966" cy="720.5" rx="11.3" ry="15.1" fill="#ffc000" stroke="#000" stroke-width="1.3"/>
<ellipse cx="989.7" cy="720.5" rx="11.3" ry="15.1" fill="#ffc000" stroke="#000" stroke-width="1.3"/>
<ellipse cx="1014" cy="720.5" rx="11.3" ry="15.1" fill="#ffc000" stroke="#000" stroke-width="1.3"/>
<ellipse cx="956.4" cy="719" rx="11.3" ry="15.1" fill="#ffc000" stroke="#000" stroke-width="1.3"/>
<ellipse cx="979" cy="719" rx="11.3" ry="15.1" fill="#ffc000" stroke="#000" stroke-width="1.3"/>
<ellipse cx="1001.6" cy="719" rx="11.3" ry="15.1" fill="#ffc000" stroke="#000" stroke-width="1.3"/>
<ellipse cx="1025.3" cy="719" rx="11.3" ry="15.1" fill="#ffc000" stroke="#000" stroke-width="1.3"/>
<ellipse cx="957" cy="689.7" rx="5.8" ry="8.1" fill="#000" stroke="#000" stroke-width="1.3"/>
<ellipse cx="1021" cy="689.7" rx="5.8" ry="8.1" fill="#000" stroke="#000" stroke-width="1.3"/>
<ellipse cx="970.4" cy="689" rx="5.5" ry="7.7" fill="#0000ff" stroke="#000" stroke-width="1.3"/>
<ellipse cx="1008.7" cy="689" rx="5.5" ry="7.7" fill="#0000ff" stroke="#000" stroke-width="1.3"/>
<ellipse cx="989.3" cy="686" rx="11.3" ry="15.3" fill="#cc3300" stroke="#000" stroke-width="1.3"/>
<text transform="translate(1065.19,693.06) scale(0.7667,1)" font-size="23.80" font-family='"Liberation Sans", Arial, sans-serif' fill="#000">FePc</text>
<text transform="translate(1046.35,724.82) scale(0.7634,1)" font-size="24.99" font-family='"Liberation Sans", Arial, sans-serif' fill="#000">Cu(111)</text>
<ellipse cx="217.7" cy="1631.3" rx="6.2" ry="8.4" fill="#000" stroke="#000" stroke-width="1.3"/>
<ellipse cx="282.7" cy="1631.3" rx="6.2" ry="8.4" fill="#000" stroke="#000" stroke-width="1.3"/>
<ellipse cx="231.7" cy="1630.7" rx="5.8" ry="8" fill="#0000ff" stroke="#000" stroke-width="1.3"/>
<ellipse cx="269.3" cy="1630.7" rx="5.8" ry="8" fill="#0000ff" stroke="#000" stroke-width="1.3"/>
<clipPath id="clipFe"><rect x="230" y="1600" width="45" height="42"/></clipPath>
<g clip-path="url(#clipFe)">
<ellipse cx="250.4" cy="1627.6" rx="11.3" ry="14.7" fill="#cc3300" stroke="#000" stroke-width="1.3"/>
</g>
<ellipse cx="250.4" cy="1601.6" rx="6.2" ry="7.7" fill="#000" stroke="#000" stroke-width="1.3"/>
<ellipse cx="250.4" cy="1586.7" rx="6.0" ry="7.3" fill="#ff0000" stroke="#000" stroke-width="1.3"/>
<text transform="translate(294.40,1613.07) scale(0.8000,1)" font-size="22.61" font-family='"Liberation Sans", Arial, sans-serif' fill="#000">CO-FePc</text>
<clipPath id="clipD"><rect x="863" y="965.3" width="637" height="757.4"/></clipPath>
<g clip-path="url(#clipD)">
<rect x="863" y="965.3" width="637" height="757.4" fill="#2e7ed2"/>
<ellipse cx="1000" cy="1470" rx="170" ry="110" fill="url(#gTeal)" opacity="0.6"/>
<ellipse cx="930" cy="1610" rx="110" ry="140" fill="url(#gTeal)" opacity="0.5"/>
<ellipse cx="1150" cy="1420" rx="140" ry="80" fill="url(#gTeal)" opacity="0.55"/>
<ellipse cx="1300" cy="1360" rx="60" ry="40" fill="url(#gTeal)" opacity="0.6"/>
<ellipse cx="1190" cy="1640" rx="70" ry="80" fill="url(#gTeal)" opacity="0.5"/>
<ellipse cx="1120" cy="1610" rx="50" ry="60" fill="url(#gTeal)" opacity="0.45"/>
<ellipse cx="1400" cy="1480" rx="130" ry="90" fill="url(#gTeal)" opacity="0.55"/>
<ellipse cx="1470" cy="1600" rx="60" ry="110" fill="url(#gTeal)" opacity="0.45"/>
<ellipse cx="900" cy="1420" rx="70" ry="45" fill="url(#gTeal)" opacity="0.6"/>
<ellipse cx="1330" cy="1560" rx="60" ry="50" fill="url(#gTeal)" opacity="0.4"/>
<ellipse cx="922" cy="1286" rx="61" ry="41" fill="url(#gHalo)"/>
<ellipse cx="934" cy="1390" rx="69" ry="47" fill="url(#gHalo)"/>
<ellipse cx="1023" cy="1310" rx="77" ry="72" fill="url(#gHalo)"/>
<ellipse cx="1122" cy="1311" rx="56" ry="64" fill="url(#gHalo)"/>
<ellipse cx="1218" cy="1291" rx="56" ry="41" fill="url(#gHalo)"/>
<ellipse cx="1234" cy="1379" rx="58" ry="48" fill="url(#gHalo)"/>
<ellipse cx="901" cy="1454" rx="31" ry="32" fill="url(#gHalo)"/>
<ellipse cx="893" cy="1563" rx="59" ry="106" fill="url(#gHalo)"/>
<ellipse cx="968" cy="1458" rx="46" ry="46" fill="url(#gHalo)"/>
<ellipse cx="954" cy="1516" rx="39" ry="39" fill="url(#gHalo)"/>
<ellipse cx="1068" cy="1530" rx="47" ry="46" fill="url(#gHalo)"/>
<ellipse cx="888" cy="1712" rx="44" ry="34" fill="url(#gHalo)"/>
<ellipse cx="1105" cy="1700" rx="45" ry="58" fill="url(#gHalo)"/>
<ellipse cx="1249" cy="1705" rx="67" ry="64" fill="url(#gHalo)"/>
<ellipse cx="1448" cy="1606" rx="64" ry="56" fill="url(#gHalo)"/>
<ellipse cx="1438" cy="1690" rx="44" ry="36" fill="url(#gHalo)"/>
<path d="M1099,1352L1160,1352L1215,1410L1240,1455L1262,1500L1266,1560L1255,1622L1220,1641L1186,1630L1176,1590L1178,1545L1186,1500L1176,1484L1075,1481L1030,1476L1024,1452L1042,1422L1075,1395Z" fill="#22a4b0" opacity="0.55" filter="url(#blur8)"/>
<path d="M945.0,1587.0L946.9,1572.8L952.4,1559.5L961.1,1548.1L972.5,1539.4L985.8,1533.9L1000.0,1532.0L1014.2,1533.9L1027.5,1539.4L1038.9,1548.1L1047.6,1559.5L1053.1,1572.8L1055.0,1587.0L1052,1630L1046,1665L1050,1700L1052,1722L946,1722L950,1690L954,1660L947,1630Z" fill="#22a0b4" opacity="0.35" filter="url(#blur8)"/>
<ellipse cx="1128" cy="1220" rx="40" ry="40" fill="url(#gTeal2)"/>
<ellipse cx="1122" cy="1120" rx="22" ry="35" fill="url(#gTeal2)"/>
<ellipse cx="1135" cy="1212" rx="32" ry="24" fill="url(#gGreen)"/>
<ellipse cx="1122" cy="1124" rx="12" ry="16" fill="url(#gGreen)"/>
<ellipse cx="1128" cy="1292" rx="26" ry="22" fill="url(#gGreen)"/>
<ellipse cx="1128" cy="1420" rx="80" ry="55" fill="url(#gGreen)"/>
<ellipse cx="1128" cy="1380" rx="40" ry="40" fill="url(#gGreen)"/>
<ellipse cx="1212" cy="1525" rx="40" ry="45" fill="url(#gGreen)"/>
<ellipse cx="1225" cy="1590" rx="20" ry="25" fill="url(#gGreen)"/>
<ellipse cx="975" cy="1460" rx="20" ry="28" fill="url(#gGreen)"/>
<ellipse cx="1078" cy="1500" rx="14" ry="22" fill="url(#gGreen)"/>
<ellipse cx="1450" cy="1600" rx="25" ry="25" fill="url(#gGreen)"/>
<ellipse cx="906" cy="1455" rx="8" ry="12" fill="url(#gGreen)"/>
<path d="M1104,1352L1158,1352L1190,1447L1207,1466L1180,1480L1076,1477L1046,1462L1076,1416Z" fill="#50e060" opacity="0.55" filter="url(#blur8)"/>
<ellipse cx="1135" cy="1420" rx="40" ry="45" fill="url(#gYel)"/>
<ellipse cx="1128" cy="1283" rx="12" ry="10" fill="url(#gRed)"/>
<ellipse cx="1120" cy="1370" rx="10" ry="14" fill="url(#gRed)"/>
<ellipse cx="1143" cy="1392" rx="9" ry="14" fill="url(#gRed)"/>
<ellipse cx="1128" cy="1412" rx="12" ry="14" fill="url(#gRed)"/>
<ellipse cx="1228" cy="1535" rx="10" ry="12" fill="url(#gRed)"/>
<ellipse cx="1118" cy="1318" rx="6" ry="10" fill="url(#gRed)"/>
<ellipse cx="1130" cy="1390" rx="9" ry="12" fill="url(#gMag)"/>
<ellipse cx="1127" cy="1300" rx="8" ry="8" fill="url(#gMag)"/>
<ellipse cx="1338" cy="1331" rx="24" ry="25" fill="url(#sTeal)"/>
<ellipse cx="891.5" cy="1334.6" rx="24" ry="25" fill="url(#sTeal)"/>
<ellipse cx="876" cy="1320" rx="10" ry="10" fill="url(#sWhite)"/>
<ellipse cx="995" cy="1335" rx="22" ry="30" fill="url(#sBlue)"/>
<ellipse cx="1241" cy="1335" rx="15" ry="28" fill="url(#sBlue)"/>
<ellipse cx="941.6" cy="1352.5" rx="44.5" ry="46.5" fill="url(#sTeal)"/>
<ellipse cx="1037" cy="1360" rx="47" ry="52" fill="url(#sBlue)"/>
<ellipse cx="1128.5" cy="1327" rx="23.5" ry="31" fill="url(#sYel)"/>
<ellipse cx="1202" cy="1346" rx="42" ry="48" fill="url(#sTeal)"/>
<ellipse cx="1480" cy="1321" rx="48" ry="48" fill="url(#sTeal)"/>
<ellipse cx="1391" cy="1331.5" rx="61" ry="63" fill="url(#sTeal)"/>
<ellipse cx="1117.6" cy="1094" rx="20" ry="27" fill="url(#sRed)"/>
<ellipse cx="1124.5" cy="1184" rx="19.5" ry="24" fill="url(#sTeal)"/>
<ellipse cx="898.7" cy="1478.6" rx="15" ry="16" fill="url(#sBrown)"/>
<ellipse cx="967.5" cy="1503" rx="17.5" ry="19" fill="url(#sBrown)"/>
<ellipse cx="1069.5" cy="1523" rx="18.6" ry="22" fill="url(#sBrown)"/>
<ellipse cx="1209.7" cy="1566.9" rx="22.1" ry="28.2" fill="url(#sBrown)"/>
<ellipse cx="882" cy="1584" rx="23" ry="28" fill="url(#sBrown)"/>
<ellipse cx="902.5" cy="1614.5" rx="17" ry="19.5" fill="url(#sBrown)"/>
<ellipse cx="997.4" cy="1658.5" rx="32" ry="40" fill="url(#sBrown)" transform="rotate(25 997.4 1658.5)"/>
<ellipse cx="1435" cy="1654" rx="31" ry="41" fill="url(#sBrown)" transform="rotate(-30 1435 1654)"/>
<ellipse cx="1101" cy="1724" rx="15" ry="12" fill="url(#sBrown)"/>
<ellipse cx="868" cy="1722" rx="10" ry="8" fill="url(#sBrown)"/>
<path d="M892.3,1273.9L897.9,1269.6M894.3,1266.4L892.3,1273.9M881.9,1296.6L889.1,1295.7M889.8,1296.8L889.1,1295.7M903.2,1263.1L902.5,1265.9M921.4,1311.1L916.6,1309.2M950.0,1267.1L945.9,1266.6M958.4,1290.4L958.0,1282.1M911.9,1309.1L909.7,1305.6M911.9,1309.1L902.5,1308.6M941.8,1262.5L957.0,1270.2M882.1,1292.9L879.9,1287.6M963.2,1296.6L955.9,1293.5M953.4,1295.9L940.3,1281.0M911.8,1261.7L907.6,1263.9M945.9,1266.6L945.8,1270.6M957.4,1301.8L952.6,1302.0M882.1,1292.9L889.1,1295.7M889.1,1295.7L907.0,1278.0M896.3,1300.1L901.6,1298.6M879.9,1287.6L881.0,1283.2M897.9,1269.6L903.0,1267.6M894.3,1266.4L903.2,1263.1M892.3,1273.9L907.0,1278.0M957.6,1280.0L940.3,1281.0M908.0,1308.1L909.7,1305.6M931.2,1305.7L920.7,1306.1M955.7,1299.8L955.9,1293.5M957.0,1270.2L950.0,1268.9M877.0,1286.7L878.6,1280.5M902.5,1308.6L906.1,1304.8M902.5,1308.6L893.7,1305.1M945.3,1304.4L939.4,1303.8M903.0,1267.6L911.1,1266.7M903.0,1267.6L907.0,1278.0M921.7,1260.9L920.6,1263.4M950.0,1268.9L951.3,1273.7M877.0,1286.7L881.0,1283.2M949.6,1305.5L945.3,1304.4M952.6,1302.0L953.4,1295.9M878.6,1280.5L882.5,1275.5M886.9,1270.7L884.9,1275.3M881.0,1283.2L883.7,1276.6M949.6,1305.5L947.3,1300.9M966.0,1280.4L959.7,1277.2M893.7,1305.1L890.4,1301.5M955.4,1271.9L957.6,1280.0M902.1,1306.5L906.1,1304.8M940.9,1308.3L939.4,1303.8M907.6,1263.9L911.1,1266.7M967.1,1285.9L963.3,1283.6M957.0,1270.2L959.7,1277.2M931.4,1309.5L927.6,1308.6M890.4,1301.5L887.7,1298.7M920.6,1263.4L927.3,1263.1M886.9,1270.7L887.4,1276.9M945.8,1270.6L951.3,1273.7M911.1,1266.7L920.1,1265.1M883.7,1276.6L887.4,1276.9M940.9,1308.3L945.3,1304.4M889.1,1295.7L884.9,1284.5M911.1,1266.7L920.4,1279.0M890.4,1301.5L896.3,1300.1M882.5,1275.5L886.9,1270.7M887.4,1276.9L892.3,1273.9M965.6,1291.1L962.6,1289.3M951.3,1273.7L957.6,1280.0M927.6,1308.6L930.1,1306.6M887.3,1301.2L887.7,1298.7M962.6,1289.3L963.3,1283.6M881.9,1296.6L878.2,1291.6M932.6,1261.0L930.6,1267.1M940.9,1308.3L921.4,1311.1M929.2,1265.6L930.6,1267.1M930.6,1267.1L940.3,1281.0M938.3,1264.4L942.4,1268.9M881.9,1296.6L882.1,1292.9M962.1,1293.5L958.4,1290.4M939.4,1303.8L934.5,1284.8M931.2,1305.7L912.9,1296.2M878.2,1291.6L877.0,1286.7M895.7,1267.8L902.5,1265.9M911.9,1309.1L908.0,1308.1M906.1,1304.8L912.9,1296.2M963.2,1296.6L962.1,1293.5M957.6,1280.0L958.0,1282.1M895.7,1267.8L897.9,1269.6M945.9,1266.6L950.0,1268.9M920.7,1306.1L912.9,1296.2M902.5,1265.9L907.6,1263.9M941.8,1262.5L942.4,1268.9M941.8,1262.5L950.0,1267.1M930.6,1267.1L942.4,1268.9M902.1,1306.5L901.6,1298.6M879.9,1287.6L884.7,1285.8M957.4,1301.8L955.7,1299.8M896.3,1300.1L889.1,1295.7M945.9,1266.6L942.4,1268.9M894.3,1266.4L902.5,1265.9M884.9,1284.5L907.0,1278.0M903.2,1263.1L911.8,1261.7M921.4,1311.1L902.5,1308.6M942.4,1268.9L945.8,1270.6M950.0,1267.1L957.0,1270.2M958.4,1290.4L955.9,1293.5M902.5,1308.6L902.1,1306.5M951.3,1273.7L940.3,1281.0M955.9,1293.5L940.3,1281.0M903.2,1263.1L907.6,1263.9M911.8,1261.7L920.1,1265.1M911.8,1261.7L921.7,1260.9M950.0,1268.9L955.4,1271.9M907.0,1278.0L912.9,1296.2M878.6,1280.5L883.7,1276.6M945.3,1304.4L947.3,1300.9M955.9,1293.5L953.4,1295.9M881.0,1283.2L884.9,1284.5M947.3,1300.9L940.3,1281.0M949.6,1305.5L952.6,1302.0M950.0,1268.9L945.8,1270.6M916.6,1309.2L909.7,1305.6M955.4,1271.9L959.7,1277.2M955.7,1299.8L952.6,1302.0M967.1,1285.9L966.0,1280.4M957.0,1270.2L963.3,1274.9M920.6,1263.4L920.1,1265.1M893.7,1305.1L902.1,1306.5M897.9,1269.6L907.0,1278.0M908.0,1308.1L906.1,1304.8M963.3,1274.9L966.0,1280.4M955.7,1299.8L953.4,1295.9M921.7,1260.9L932.6,1261.0M931.4,1309.5L931.5,1308.2M882.5,1275.5L884.9,1275.3M931.5,1308.2L939.4,1303.8M963.3,1274.9L959.7,1277.2M883.7,1276.6L884.9,1284.5M886.9,1270.7L894.3,1266.4M921.7,1260.9L927.3,1263.1M959.7,1277.2L963.3,1283.6M920.4,1279.0L912.9,1296.2M920.1,1265.1L920.4,1279.0M932.6,1261.0L938.3,1264.4M909.7,1305.6L906.1,1304.8M927.3,1263.1L929.2,1265.6M887.3,1301.2L890.4,1301.5M902.1,1306.5L896.3,1300.1M959.7,1277.2L957.6,1280.0M932.6,1261.0L929.2,1265.6M939.4,1303.8L931.2,1305.7M940.9,1308.3L931.4,1309.5M878.2,1291.6L879.9,1287.6M940.3,1281.0L934.5,1284.8M921.4,1311.1L927.6,1308.6M901.6,1298.6L912.9,1296.2M963.3,1283.6L958.0,1282.1M930.6,1267.1L920.4,1279.0M884.9,1284.5L892.3,1273.9M931.5,1308.2L930.1,1306.6M938.3,1264.4L930.6,1267.1M965.6,1291.1L963.2,1296.6M884.9,1275.3L887.4,1276.9M962.6,1289.3L962.1,1293.5M920.1,1265.1L930.6,1267.1M902.5,1265.9L903.0,1267.6M911.9,1309.1L916.6,1309.2M912.9,1296.2L934.5,1284.8M941.8,1262.5L945.9,1266.6M887.7,1298.7L889.1,1295.7M955.9,1293.5L958.0,1282.1M927.6,1308.6L920.7,1306.1M906.1,1304.8L901.6,1298.6M962.6,1289.3L958.4,1290.4M907.0,1278.0L920.4,1279.0M931.2,1305.7L930.1,1306.6M950.0,1267.1L950.0,1268.9M909.7,1305.6L912.9,1296.2M894.3,1266.4L895.7,1267.8M963.2,1296.6L957.4,1301.8M931.2,1305.7L934.5,1284.8M958.0,1282.1L940.3,1281.0M911.8,1261.7L920.6,1263.4M930.1,1306.6L920.7,1306.1M877.0,1286.7L879.9,1287.6M902.5,1308.6L908.0,1308.1M882.1,1292.9L884.7,1285.8M963.2,1296.6L955.7,1299.8M911.8,1261.7L911.1,1266.7M953.4,1295.9L947.3,1300.9M957.4,1301.8L949.6,1305.5M907.0,1278.0L901.6,1298.6M955.4,1271.9L951.3,1273.7M878.6,1280.5L881.0,1283.2M907.6,1263.9L903.0,1267.6M930.6,1267.1L934.5,1284.8M957.0,1270.2L955.4,1271.9M945.8,1270.6L940.3,1281.0M881.0,1283.2L884.7,1285.8M916.6,1309.2L920.7,1306.1M889.1,1295.7L884.7,1285.8M911.1,1266.7L907.0,1278.0M920.7,1306.1L909.7,1305.6M952.6,1302.0L947.3,1300.9M889.1,1295.7L901.6,1298.6M947.3,1300.9L939.4,1303.8M966.0,1280.4L963.3,1283.6M949.6,1305.5L940.9,1308.3M884.7,1285.8L884.9,1284.5M882.5,1275.5L883.7,1276.6M886.9,1270.7L892.3,1273.9M967.1,1285.9L965.6,1291.1M893.7,1305.1L896.3,1300.1M893.7,1305.1L887.3,1301.2M881.9,1296.6L887.7,1298.7M940.9,1308.3L931.5,1308.2M932.6,1261.0L927.3,1263.1M890.4,1301.5L889.8,1296.8M967.1,1285.9L962.6,1289.3M931.4,1309.5L921.4,1311.1M927.3,1263.1L920.1,1265.1M931.5,1308.2L927.6,1308.6M942.4,1268.9L940.3,1281.0M965.6,1291.1L962.1,1293.5M883.7,1276.6L884.9,1275.3M878.2,1291.6L882.1,1292.9M895.7,1267.8L892.3,1273.9M884.9,1284.5L887.4,1276.9M963.3,1283.6L957.6,1280.0M931.5,1308.2L931.2,1305.7M947.3,1300.9L934.5,1284.8M962.6,1289.3L958.0,1282.1M896.3,1300.1L889.8,1296.8M887.3,1301.2L881.9,1296.6M920.1,1265.1L929.2,1265.6M962.1,1293.5L955.9,1293.5M902.5,1265.9L897.9,1269.6M920.4,1279.0L934.5,1284.8M887.7,1298.7L889.8,1296.8M941.8,1262.5L938.3,1264.4M921.4,1311.1L920.7,1306.1M921.4,1311.1L911.9,1309.1" stroke="#ffffff" stroke-width="0.95" fill="none" opacity="0.95"/>
<path d="M973.3,1399.0L972.5,1388.3M896.9,1376.4L901.5,1373.1M886.2,1403.0L893.1,1399.2M898.3,1403.3L893.1,1399.2M911.7,1362.5L911.7,1364.0M893.6,1374.0L896.7,1371.8M933.8,1420.9L923.6,1418.3M967.3,1365.8L962.7,1367.5M976.5,1393.8L976.8,1386.1M922.3,1419.4L910.6,1418.4M981.6,1403.3L973.3,1399.0M887.2,1397.7L885.5,1394.9M921.8,1359.5L918.9,1362.3M966.8,1413.9L973.1,1406.7M962.7,1367.5L964.0,1372.0M973.0,1401.7L962.9,1402.2M911.7,1364.0L919.9,1366.8M887.2,1397.7L893.1,1399.2M885.5,1394.9L886.1,1389.5M900.7,1365.1L912.1,1367.6M900.7,1365.1L911.7,1362.5M915.5,1381.5L922.6,1406.0M901.5,1373.1L912.1,1367.6M896.9,1376.4L908.7,1375.0M954.1,1367.4L946.9,1387.4M921.2,1417.5L916.1,1413.2M971.3,1377.1L961.8,1375.6M961.8,1375.6L972.5,1388.3M975.6,1369.7L971.3,1371.1M880.5,1390.2L881.8,1383.7M910.6,1418.4L908.8,1409.7M910.6,1418.4L901.2,1415.0M958.9,1414.6L955.7,1411.5M912.1,1367.6L919.9,1366.8M982.2,1376.9L975.2,1374.2M912.1,1367.6L908.7,1375.0M933.9,1359.1L929.0,1360.8M971.3,1371.1L971.3,1377.1M880.5,1390.2L886.1,1389.5M955.7,1411.5L943.5,1405.0M966.8,1413.9L958.9,1414.6M881.8,1383.7L891.3,1384.7M881.8,1383.7L886.8,1377.3M892.8,1371.6L893.6,1374.0M901.2,1415.0L897.9,1408.7M984.8,1382.9L981.1,1381.5M891.3,1384.7L915.5,1381.5M975.2,1374.2L974.3,1380.1M905.3,1413.0L908.8,1409.7M973.1,1406.7L963.4,1407.8M918.9,1362.3L919.9,1366.8M939.0,1414.5L943.5,1405.0M987.8,1390.5L983.0,1388.9M931.3,1415.0L922.6,1406.0M897.9,1408.7L893.3,1405.8M945.2,1420.2L934.2,1418.0M964.0,1372.0L971.3,1377.1M934.7,1384.7L922.6,1406.0M889.1,1377.8L891.3,1384.7M919.9,1366.8L933.6,1364.2M925.6,1375.4L940.2,1373.4M957.2,1418.0L958.9,1414.6M919.9,1366.8L925.6,1375.4M945.2,1420.2L951.5,1412.9M897.9,1408.7L905.9,1408.9M886.8,1377.3L892.8,1371.6M891.3,1384.7L896.9,1376.4M986.0,1397.0L983.6,1391.4M971.3,1377.1L974.3,1380.1M982.2,1376.9L974.3,1380.1M934.2,1418.0L939.0,1414.5M946.9,1387.4L943.5,1405.0M892.9,1409.0L893.3,1405.8M983.6,1391.4L983.0,1388.9M971.3,1377.1L972.5,1388.3M886.2,1403.0L883.3,1396.8M945.6,1359.8L950.2,1367.0M981.1,1381.5L976.8,1386.1M945.6,1359.8L957.0,1362.3M940.2,1373.4L946.9,1387.4M962.7,1367.5L961.8,1375.6M950.2,1367.0L940.2,1373.4M952.5,1363.0L954.1,1367.4M886.2,1403.0L887.2,1397.7M891.5,1393.0L906.5,1400.7M981.4,1396.2L976.5,1393.8M893.6,1374.0L896.9,1376.4M976.8,1386.1L972.5,1388.3M883.3,1396.8L880.5,1390.2M983.0,1388.9L976.5,1393.8M922.3,1419.4L921.2,1417.5M954.1,1367.4L961.8,1375.6M981.6,1403.3L981.4,1396.2M974.3,1380.1L976.8,1386.1M891.3,1384.7L906.5,1400.7M896.7,1371.8L901.5,1373.1M911.7,1364.0L918.9,1362.3M957.0,1362.3L954.1,1367.4M950.2,1367.0L954.1,1367.4M957.0,1362.3L967.3,1365.8M885.5,1394.9L891.5,1393.0M976.2,1409.6L973.1,1406.7M900.7,1365.1L911.7,1364.0M962.7,1367.5L954.1,1367.4M911.7,1362.5L921.8,1359.5M967.3,1365.8L964.0,1372.0M933.8,1420.9L910.6,1418.4M967.3,1365.8L975.6,1369.7M900.7,1365.1L901.5,1373.1M976.5,1393.8L973.3,1399.0M915.5,1381.5L906.5,1400.7M910.6,1418.4L905.3,1413.0M911.7,1362.5L918.9,1362.3M973.3,1399.0L962.9,1402.2M921.8,1359.5L933.9,1359.1M971.3,1371.1L975.2,1374.2M908.7,1375.0L915.5,1381.5M910.6,1418.4L916.1,1413.2M958.9,1414.6L963.4,1407.8M973.3,1399.0L973.0,1401.7M950.2,1367.0L946.9,1387.4M934.7,1384.7L946.9,1387.4M886.1,1389.5L890.3,1388.1M966.8,1413.9L966.0,1412.0M964.0,1372.0L961.8,1375.6M971.3,1371.1L964.0,1372.0M921.2,1417.5L922.6,1406.0M963.4,1407.8L962.9,1402.2M933.8,1420.9L922.3,1419.4M973.1,1406.7L966.0,1412.0M987.8,1390.5L984.8,1382.9M892.8,1371.6L889.1,1377.8M975.6,1369.7L982.2,1376.9M901.2,1415.0L905.3,1413.0M908.8,1409.7L906.5,1400.7M929.0,1360.8L933.6,1364.2M946.9,1387.4L972.5,1388.3M973.1,1406.7L962.9,1402.2M901.5,1373.1L908.7,1375.0M982.2,1376.9L984.8,1382.9M973.1,1406.7L973.0,1401.7M933.9,1359.1L936.2,1364.4M933.9,1359.1L945.6,1359.8M891.5,1393.0L891.3,1384.7M896.9,1376.4L915.5,1381.5M945.2,1420.2L953.6,1416.1M966.0,1412.0L958.9,1414.6M953.6,1416.1L955.7,1411.5M916.1,1413.2L922.6,1406.0M982.2,1376.9L981.1,1381.5M898.3,1403.3L906.5,1400.7M892.8,1371.6L900.7,1365.1M933.9,1359.1L944.1,1361.0M951.5,1412.9L943.5,1405.0M972.5,1388.3L962.9,1402.2M886.8,1377.3L891.3,1384.7M981.1,1381.5L983.0,1388.9M912.1,1367.6L915.5,1381.5M925.6,1375.4L915.5,1381.5M933.6,1364.2L925.6,1375.4M945.6,1359.8L952.5,1363.0M892.8,1371.6L896.7,1371.8M916.1,1413.2L908.8,1409.7M944.1,1361.0L936.2,1364.4M892.9,1409.0L897.9,1408.7M944.1,1361.0L940.2,1373.4M905.3,1413.0L905.9,1408.9M981.1,1381.5L974.3,1380.1M957.2,1418.0L945.2,1420.2M955.7,1411.5L951.5,1412.9M883.3,1396.8L885.5,1394.9M931.3,1415.0L943.5,1405.0M940.2,1373.4L934.7,1384.7M936.2,1364.4L940.2,1373.4M933.8,1420.9L934.2,1418.0M983.0,1388.9L976.8,1386.1M952.5,1363.0L950.2,1367.0M934.7,1384.7L943.5,1405.0M889.1,1377.8L896.9,1376.4M986.0,1397.0L981.6,1403.3M976.5,1393.8L972.5,1388.3M893.3,1405.8L898.3,1403.3M983.6,1391.4L981.4,1396.2M922.6,1406.0L943.5,1405.0M911.7,1364.0L912.1,1367.6M922.3,1419.4L923.6,1418.3M915.5,1381.5L934.7,1384.7M893.3,1405.8L893.1,1399.2M957.0,1362.3L962.7,1367.5M934.2,1418.0L931.3,1415.0M983.6,1391.4L976.5,1393.8M893.1,1399.2L906.5,1400.7M974.3,1380.1L972.5,1388.3M951.5,1412.9L939.0,1414.5M967.3,1365.8L971.3,1371.1M961.8,1375.6L946.9,1387.4M900.7,1365.1L896.7,1371.8M981.6,1403.3L973.0,1401.7M981.6,1403.3L976.2,1409.6M921.8,1359.5L929.0,1360.8M939.0,1414.5L931.3,1415.0M880.5,1390.2L885.5,1394.9M943.5,1405.0L962.9,1402.2M910.6,1418.4L921.2,1417.5M887.2,1397.7L891.5,1393.0M981.6,1403.3L973.1,1406.7M921.8,1359.5L919.9,1366.8M976.2,1409.6L966.8,1413.9M900.7,1365.1L921.8,1359.5M923.6,1418.3L921.2,1417.5M957.0,1362.3L952.5,1363.0M881.8,1383.7L886.1,1389.5M975.2,1374.2L971.3,1377.1M975.6,1369.7L975.2,1374.2M886.1,1389.5L891.5,1393.0M923.6,1418.3L931.3,1415.0M893.1,1399.2L891.5,1393.0M966.0,1412.0L963.4,1407.8M929.0,1360.8L919.9,1366.8M955.7,1411.5L962.9,1402.2M958.9,1414.6L953.6,1416.1M933.9,1359.1L933.6,1364.2M923.6,1418.3L922.6,1406.0M984.8,1382.9L983.0,1388.9M963.4,1407.8L955.7,1411.5M891.5,1393.0L890.3,1388.1M966.8,1413.9L957.2,1418.0M886.8,1377.3L889.1,1377.8M886.1,1389.5L891.3,1384.7M987.8,1390.5L986.0,1397.0M901.2,1415.0L892.9,1409.0M908.8,1409.7L905.9,1408.9M886.2,1403.0L893.3,1405.8M906.5,1400.7L922.6,1406.0M905.3,1413.0L897.9,1408.7M945.6,1359.8L944.1,1361.0M957.2,1418.0L953.6,1416.1M897.9,1408.7L898.3,1403.3M987.8,1390.5L983.6,1391.4M945.2,1420.2L939.0,1414.5M945.2,1420.2L933.8,1420.9M908.8,1409.7L922.6,1406.0M905.9,1408.9L906.5,1400.7M986.0,1397.0L981.4,1396.2M889.1,1377.8L893.6,1374.0M883.3,1396.8L887.2,1397.7M946.9,1387.4L962.9,1402.2M896.7,1371.8L896.9,1376.4M890.3,1388.1L891.3,1384.7M953.6,1416.1L951.5,1412.9M892.9,1409.0L886.2,1403.0M905.9,1408.9L898.3,1403.3M933.6,1364.2L936.2,1364.4M981.4,1396.2L973.3,1399.0M925.6,1375.4L934.7,1384.7M933.6,1364.2L940.2,1373.4M919.9,1366.8L915.5,1381.5M933.8,1420.9L931.3,1415.0M944.1,1361.0L950.2,1367.0" stroke="#ffffff" stroke-width="0.95" fill="none" opacity="0.95"/>
<path d="M980.0,1286.5L987.9,1278.3M981.8,1336.5L976.9,1326.3M1045.7,1322.0L1030.7,1344.4M997.3,1259.5L988.7,1269.0M980.0,1286.5L994.7,1306.6M1023.0,1366.7L1019.7,1362.0M1060.6,1266.0L1057.6,1269.3M1071.5,1316.6L1072.8,1303.9M1009.3,1364.5L997.1,1359.7M1078.2,1334.6L1069.7,1324.9M1071.3,1345.1L1062.8,1346.7M1009.5,1255.6L1001.3,1262.1M1011.7,1336.3L1030.7,1344.4M1057.6,1269.3L1053.8,1274.4M1012.4,1311.8L1022.5,1323.8M973.9,1316.3L980.1,1315.9M1072.8,1303.9L1051.8,1311.3M970.3,1329.2L976.9,1326.3M1046.5,1350.7L1030.7,1344.4M987.6,1342.0L1005.2,1326.1M1005.2,1326.1L1022.5,1323.8M966.6,1310.7L967.2,1302.2M1018.5,1287.9L1027.3,1310.0M987.9,1278.3L992.9,1273.6M986.0,1266.2L997.3,1259.5M980.0,1286.5L995.1,1278.9M1000.3,1350.6L1011.7,1336.3M1009.4,1360.2L1007.1,1353.4M1071.2,1337.2L1069.7,1324.9M1001.9,1292.0L994.7,1306.6M1071.3,1275.1L1062.7,1274.0M962.1,1309.6L963.7,1297.1M1030.2,1354.9L1030.7,1344.4M997.1,1359.7L1000.3,1350.6M1018.8,1354.5L1011.7,1336.3M997.1,1359.7L985.1,1353.5M1071.5,1316.6L1051.8,1311.3M1058.1,1351.7L1046.5,1350.7M1077.8,1285.6L1072.1,1284.1M1061.4,1353.5L1058.1,1351.7M1022.2,1253.3L1015.5,1258.2M992.9,1273.6L995.1,1278.9M1062.7,1274.0L1062.0,1281.6M1062.8,1346.7L1063.0,1335.6M962.1,1309.6L967.2,1302.2M963.7,1297.1L967.9,1286.2M975.1,1275.7L973.3,1286.2M967.2,1302.2L968.0,1296.6M985.1,1353.5L986.9,1350.5M1081.7,1297.0L1073.6,1288.2M1062.0,1281.6L1044.4,1284.9M1072.1,1284.1L1068.4,1291.3M991.6,1354.3L1000.3,1350.6M1049.9,1361.4L1046.5,1350.7M1001.3,1262.1L1011.3,1265.3M1084.2,1309.7L1080.0,1309.6M1036.5,1364.7L1024.3,1362.3M1032.6,1277.8L1018.5,1287.9M1029.0,1264.6L1014.8,1272.3M1015.5,1258.2L1028.1,1258.3M1001.3,1262.1L995.1,1278.9M1053.8,1274.4L1062.0,1281.6M1044.4,1284.9L1027.3,1310.0M1011.3,1265.3L1013.6,1264.8M1049.9,1361.4L1058.1,1351.7M1014.8,1272.3L1032.6,1277.8M968.0,1296.6L975.4,1296.6M986.9,1350.5L987.6,1342.0M1036.5,1364.7L1039.5,1352.5M1063.0,1335.6L1059.5,1322.9M1055.3,1344.7L1045.7,1322.0M1051.8,1311.3L1045.7,1322.0M1011.3,1265.3L1014.8,1272.3M975.4,1296.6L980.0,1286.5M967.9,1286.2L975.1,1275.7M1082.8,1321.1L1080.8,1312.4M1062.0,1281.6L1068.4,1291.3M1024.3,1362.3L1030.2,1354.9M975.8,1345.2L972.7,1334.6M1080.8,1312.4L1080.0,1309.6M1028.1,1258.3L1034.5,1264.5M975.4,1296.6L979.3,1305.4M967.8,1334.8L964.1,1322.0M1029.0,1264.6L1034.5,1264.5M1036.2,1255.3L1049.8,1259.4M975.8,1345.2L987.6,1342.0M1034.5,1264.5L1032.6,1277.8M1028.1,1258.3L1037.6,1260.1M1037.6,1260.1L1051.8,1272.7M967.8,1334.8L970.3,1329.2M1078.1,1324.1L1071.5,1316.6M973.3,1286.2L980.0,1286.5M964.1,1322.0L973.9,1316.3M964.1,1322.0L962.1,1309.6M1046.5,1350.7L1045.7,1322.0M982.5,1274.9L988.7,1269.0M1080.0,1309.6L1071.5,1316.6M1009.3,1364.5L1009.4,1360.2M1078.2,1334.6L1078.1,1324.1M1068.4,1291.3L1072.8,1303.9M1071.3,1345.1L1063.0,1335.6M982.5,1274.9L987.9,1278.3M1057.6,1269.3L1062.7,1274.0M988.7,1269.0L1001.3,1262.1M1049.8,1259.4L1051.8,1272.7M1034.5,1264.5L1051.8,1272.7M1049.8,1259.4L1060.6,1266.0M966.6,1310.7L973.9,1316.3M1071.3,1345.1L1071.2,1337.2M1022.5,1323.8L1030.7,1344.4M986.0,1266.2L988.7,1269.0M1057.6,1269.3L1051.8,1272.7M1012.4,1311.8L1005.2,1326.1M997.3,1259.5L1009.5,1255.6M1027.3,1310.0L1022.5,1323.8M1051.8,1272.7L1053.8,1274.4M1060.6,1266.0L1071.3,1275.1M1071.5,1316.6L1069.7,1324.9M1018.5,1287.9L1012.4,1311.8M997.1,1359.7L991.6,1354.3M1051.8,1272.7L1044.4,1284.9M997.3,1259.5L1001.3,1262.1M1009.4,1360.2L1018.8,1354.5M976.9,1326.3L980.1,1315.9M1068.4,1291.3L1051.8,1311.3M1009.5,1255.6L1022.2,1253.3M997.1,1359.7L1007.1,1353.4M963.7,1297.1L968.0,1296.6M1058.1,1351.7L1055.3,1344.7M1069.7,1324.9L1063.0,1335.6M967.2,1302.2L973.0,1308.9M1061.4,1353.5L1062.8,1346.7M1007.1,1353.4L1011.7,1336.3M1062.7,1274.0L1053.8,1274.4M973.0,1308.9L980.1,1315.9M1072.1,1284.1L1073.6,1288.2M1039.5,1352.5L1030.7,1344.4M1071.3,1275.1L1062.0,1281.6M1084.2,1309.7L1081.7,1297.0M1071.3,1275.1L1077.8,1285.6M1015.5,1258.2L1013.6,1264.8M985.1,1353.5L991.6,1354.3M979.3,1305.4L994.7,1306.6M987.9,1278.3L995.1,1278.9M987.6,1342.0L1011.7,1336.3M1077.8,1285.6L1081.7,1297.0M1071.2,1337.2L1063.0,1335.6M1022.2,1253.3L1036.2,1255.3M1036.5,1364.7L1045.4,1357.6M1062.8,1346.7L1058.1,1351.7M1018.8,1354.5L1030.7,1344.4M967.9,1286.2L973.3,1286.2M1045.4,1357.6L1046.5,1350.7M1077.8,1285.6L1073.6,1288.2M1053.8,1274.4L1044.4,1284.9M975.1,1275.7L986.0,1266.2M1081.7,1297.0L1072.8,1303.9M1022.2,1253.3L1028.1,1258.3M1063.0,1335.6L1045.7,1322.0M994.7,1306.6L980.1,1315.9M1014.8,1272.3L1018.5,1287.9M1013.6,1264.8L1014.8,1272.3M1007.1,1353.4L1000.3,1350.6M1036.2,1255.3L1037.6,1260.1M975.1,1275.7L982.5,1274.9M1028.1,1258.3L1029.0,1264.6M975.8,1345.2L986.9,1350.5M1068.4,1291.3L1044.4,1284.9M1069.7,1324.9L1059.5,1322.9M1073.6,1288.2L1068.4,1291.3M1049.9,1361.4L1036.5,1364.7M1046.5,1350.7L1039.5,1352.5M964.1,1322.0L966.6,1310.7M1032.6,1277.8L1044.4,1284.9M1029.0,1264.6L1032.6,1277.8M1001.9,1292.0L1018.5,1287.9M1080.0,1309.6L1072.8,1303.9M1023.0,1366.7L1024.3,1362.3M1022.5,1323.8L1045.7,1322.0M1037.6,1260.1L1034.5,1264.5M1044.4,1284.9L1051.8,1311.3M1082.8,1321.1L1078.2,1334.6M973.0,1308.9L979.3,1305.4M973.3,1286.2L975.4,1296.6M1027.3,1310.0L1051.8,1311.3M988.7,1269.0L992.9,1273.6M1009.3,1364.5L1019.7,1362.0M972.7,1334.6L976.9,1326.3M1018.5,1287.9L1044.4,1284.9M1049.8,1259.4L1057.6,1269.3M1024.3,1362.3L1018.8,1354.5M1080.8,1312.4L1071.5,1316.6M995.1,1278.9L1014.8,1272.3M1039.5,1352.5L1030.2,1354.9M1060.6,1266.0L1062.7,1274.0M1022.5,1323.8L1011.7,1336.3M986.0,1266.2L982.5,1274.9M981.8,1336.5L1005.2,1326.1M1078.2,1334.6L1071.3,1345.1M1009.5,1255.6L1015.5,1258.2M1030.2,1354.9L1018.8,1354.5M962.1,1309.6L966.6,1310.7M997.1,1359.7L1009.4,1360.2M970.3,1329.2L973.9,1316.3M1078.2,1334.6L1071.2,1337.2M1009.5,1255.6L1011.3,1265.3M1063.0,1335.6L1055.3,1344.7M1071.3,1345.1L1061.4,1353.5M1019.7,1362.0L1009.4,1360.2M995.1,1278.9L1001.9,1292.0M1072.1,1284.1L1062.0,1281.6M963.7,1297.1L967.2,1302.2M980.1,1315.9L1005.2,1326.1M1001.3,1262.1L992.9,1273.6M1001.9,1292.0L1012.4,1311.8M966.6,1310.7L973.0,1308.9M1071.3,1275.1L1072.1,1284.1M1019.7,1362.0L1018.8,1354.5M994.7,1306.6L1012.4,1311.8M976.9,1326.3L973.9,1316.3M986.9,1350.5L1000.3,1350.6M1018.8,1354.5L1007.1,1353.4M1062.8,1346.7L1055.3,1344.7M1027.3,1310.0L1045.7,1322.0M1011.3,1265.3L995.1,1278.9M1015.5,1258.2L1011.3,1265.3M976.9,1326.3L1005.2,1326.1M1005.2,1326.1L1011.7,1336.3M1061.4,1353.5L1049.9,1361.4M1081.7,1297.0L1080.0,1309.6M1055.3,1344.7L1046.5,1350.7M973.9,1316.3L973.0,1308.9M980.0,1286.5L1001.9,1292.0M967.9,1286.2L968.0,1296.6M975.1,1275.7L980.0,1286.5M1084.2,1309.7L1082.8,1321.1M967.2,1302.2L975.4,1296.6M1081.7,1297.0L1068.4,1291.3M1000.3,1350.6L987.6,1342.0M985.1,1353.5L975.8,1345.2M967.8,1334.8L972.7,1334.6M1012.4,1311.8L1027.3,1310.0M1049.9,1361.4L1045.4,1357.6M1014.8,1272.3L1001.9,1292.0M1036.2,1255.3L1028.1,1258.3M991.6,1354.3L986.9,1350.5M1084.2,1309.7L1080.8,1312.4M1036.5,1364.7L1030.2,1354.9M1015.5,1258.2L1029.0,1264.6M1051.8,1311.3L1059.5,1322.9M1036.5,1364.7L1023.0,1366.7M1082.8,1321.1L1078.1,1324.1M1051.8,1272.7L1032.6,1277.8M1045.7,1322.0L1059.5,1322.9M968.0,1296.6L973.3,1286.2M979.3,1305.4L980.1,1315.9M964.1,1322.0L970.3,1329.2M982.5,1274.9L980.0,1286.5M973.0,1308.9L975.4,1296.6M975.4,1296.6L994.7,1306.6M1045.4,1357.6L1039.5,1352.5M1082.8,1321.1L1071.5,1316.6M972.7,1334.6L970.3,1329.2M1024.3,1362.3L1019.7,1362.0M975.8,1345.2L981.8,1336.5M987.6,1342.0L981.8,1336.5M975.8,1345.2L967.8,1334.8M1071.5,1316.6L1059.5,1322.9M994.7,1306.6L1005.2,1326.1M1013.6,1264.8L1029.0,1264.6M1078.1,1324.1L1069.7,1324.9M988.7,1269.0L987.9,1278.3M972.7,1334.6L981.8,1336.5M1049.8,1259.4L1037.6,1260.1M1023.0,1366.7L1009.3,1364.5" stroke="#ffffff" stroke-width="0.95" fill="none" opacity="0.95"/>
<path d="M1085.5,1332.3L1091.4,1324.9M1140.4,1279.4L1137.8,1286.0M1095.1,1334.2L1091.4,1324.9M1104.8,1267.4L1100.2,1276.9M1116.1,1329.8L1128.4,1326.2M1121.5,1358.2L1116.6,1353.8M1146.8,1273.4L1139.8,1272.5M1113.3,1358.3L1105.2,1354.3M1084.6,1320.8L1085.0,1314.5M1090.8,1281.1L1098.8,1289.9M1153.5,1341.3L1146.5,1344.5M1113.0,1264.3L1109.6,1270.5M1153.7,1318.5L1143.7,1322.5M1128.4,1326.2L1143.7,1322.5M1095.1,1334.2L1101.1,1323.6M1142.2,1297.8L1149.5,1308.6M1148.9,1331.3L1139.6,1338.5M1084.6,1320.8L1091.4,1324.9M1085.0,1314.5L1085.0,1308.7M1135.3,1312.8L1149.5,1308.6M1096.2,1273.4L1104.8,1267.4M1100.3,1280.1L1101.0,1279.7M1116.1,1329.8L1110.8,1336.2M1113.0,1354.6L1114.4,1348.8M1119.5,1286.6L1131.0,1292.8M1154.2,1281.2L1150.6,1283.2M1096.5,1279.5L1098.8,1289.9M1082.2,1310.8L1083.2,1301.2M1105.2,1354.3L1097.3,1349.1M1143.0,1347.9L1138.4,1344.4M1101.0,1279.7L1113.8,1272.5M1157.6,1290.5L1152.9,1286.4M1144.9,1283.2L1137.8,1286.0M1147.5,1347.4L1143.0,1347.9M1121.1,1262.5L1120.4,1266.6M1150.6,1283.2L1148.1,1287.9M1082.2,1310.8L1085.0,1308.7M1128.4,1326.2L1126.7,1335.8M1083.2,1301.2L1085.6,1290.0M1138.4,1344.4L1126.7,1335.8M1090.8,1281.1L1089.2,1289.9M1154.2,1281.2L1161.4,1300.3M1097.3,1349.1L1094.5,1339.7M1161.4,1300.3L1156.9,1296.3M1100.3,1280.1L1098.8,1289.9M1101.8,1341.5L1110.8,1336.2M1103.9,1348.7L1101.8,1341.5M1152.0,1335.8L1144.5,1338.1M1109.6,1270.5L1113.8,1272.5M1161.8,1311.9L1158.0,1304.6M1094.5,1339.7L1090.3,1333.2M1130.5,1358.0L1122.2,1355.0M1128.1,1350.0L1126.7,1335.8M1126.7,1335.8L1139.6,1338.5M1116.5,1349.6L1110.8,1336.2M1120.4,1266.6L1128.2,1267.1M1144.9,1283.2L1148.1,1287.9M1123.8,1311.9L1128.4,1326.2M1113.8,1272.5L1116.6,1272.3M1086.1,1299.6L1090.8,1297.8M1138.8,1354.7L1143.0,1347.9M1098.8,1289.9L1112.9,1288.6M1095.1,1334.2L1110.8,1336.2M1094.5,1339.7L1100.9,1342.1M1108.4,1307.8L1101.1,1323.6M1090.8,1297.8L1093.7,1291.7M1085.6,1290.0L1090.8,1281.1M1160.0,1321.2L1157.3,1320.7M1148.1,1287.9L1153.0,1298.3M1135.3,1312.8L1143.7,1322.5M1157.6,1290.5L1153.0,1298.3M1122.2,1355.0L1128.1,1350.0M1118.7,1301.5L1108.4,1307.8M1090.6,1340.8L1090.3,1333.2M1085.5,1332.3L1083.2,1321.3M1129.0,1272.2L1134.3,1275.0M1084.6,1320.8L1092.9,1315.9M1130.4,1265.0L1139.7,1267.1M1161.8,1311.9L1158.4,1332.2M1112.9,1288.6L1118.7,1301.5M1129.0,1272.2L1119.5,1286.6M1101.8,1341.5L1095.1,1334.2M1128.2,1267.1L1136.3,1269.6M1089.2,1289.9L1093.7,1291.7M1113.8,1272.5L1119.5,1286.6M1083.2,1321.3L1082.2,1310.8M1148.9,1331.3L1143.7,1322.5M1096.5,1279.5L1100.2,1276.9M1113.3,1358.3L1113.0,1354.6M1136.3,1269.6L1139.8,1272.5M1158.4,1332.2L1157.0,1324.5M1153.0,1298.3L1153.3,1304.3M1091.4,1324.9L1092.9,1315.9M1096.5,1279.5L1100.3,1280.1M1153.0,1298.3L1142.2,1297.8M1157.3,1320.7L1153.0,1323.1M1100.2,1276.9L1109.6,1270.5M1139.7,1267.1L1146.8,1273.4M1134.3,1275.0L1140.4,1279.4M1085.0,1314.5L1089.1,1312.3M1153.5,1341.3L1152.0,1335.8M1149.5,1308.6L1143.7,1322.5M1096.2,1273.4L1100.2,1276.9M1139.8,1272.5L1140.4,1279.4M1142.2,1297.8L1135.3,1312.8M1089.1,1307.0L1092.9,1315.9M1104.8,1267.4L1113.0,1264.3M1146.8,1273.4L1144.9,1283.2M1140.4,1279.4L1144.9,1283.2M1146.8,1273.4L1154.2,1281.2M1153.7,1318.5L1153.0,1323.1M1137.8,1286.0L1142.2,1297.8M1105.2,1354.3L1103.9,1348.7M1104.8,1267.4L1109.6,1270.5M1113.0,1264.3L1116.6,1272.3M1113.0,1264.3L1121.1,1262.5M1150.6,1283.2L1152.9,1286.4M1131.7,1278.1L1137.8,1286.0M1105.2,1354.3L1114.4,1348.8M1083.2,1301.2L1086.1,1299.6M1153.0,1323.1L1148.9,1331.3M1104.3,1299.4L1118.7,1301.5M1085.0,1308.7L1089.1,1307.0M1147.5,1347.4L1146.5,1344.5M1116.6,1353.8L1114.4,1348.8M1158.0,1304.6L1149.5,1308.6M1150.6,1283.2L1144.9,1283.2M1083.2,1301.2L1089.1,1307.0M1144.5,1338.1L1139.6,1338.5M1101.0,1279.7L1112.9,1288.6M1161.8,1311.9L1161.4,1300.3M1146.5,1344.5L1138.4,1344.4M1154.2,1281.2L1157.6,1290.5M1097.3,1349.1L1103.9,1348.7M1118.7,1301.5L1131.0,1292.8M1120.4,1266.6L1116.6,1272.3M1116.1,1329.8L1126.7,1335.8M1103.9,1348.7L1114.4,1348.8M1157.6,1290.5L1161.4,1300.3M1152.0,1335.8L1148.9,1331.3M1121.1,1262.5L1130.4,1265.0M1130.5,1358.0L1132.3,1354.0M1146.5,1344.5L1143.0,1347.9M1112.9,1288.6L1119.5,1286.6M1129.0,1272.2L1131.7,1278.1M1123.8,1311.9L1116.1,1329.8M1085.6,1290.0L1089.2,1289.9M1143.0,1347.9L1133.8,1348.0M1157.6,1290.5L1156.9,1296.3M1086.1,1299.6L1089.1,1307.0M1090.8,1281.1L1096.2,1273.4M1114.4,1348.8L1110.8,1336.2M1121.1,1262.5L1128.2,1267.1M1131.0,1292.8L1123.8,1311.9M1085.6,1290.0L1090.8,1297.8M1156.9,1296.3L1158.0,1304.6M1133.8,1348.0L1126.7,1335.8M1130.4,1265.0L1136.3,1269.6M1140.4,1279.4L1131.7,1278.1M1090.8,1281.1L1096.5,1279.5M1128.2,1267.1L1129.0,1272.2M1090.6,1340.8L1094.5,1339.7M1090.8,1297.8L1104.3,1299.4M1103.9,1348.7L1100.9,1342.1M1156.9,1296.3L1153.0,1298.3M1138.8,1354.7L1133.8,1348.0M1138.8,1354.7L1130.5,1358.0M1138.4,1344.4L1133.8,1348.0M1083.2,1321.3L1085.0,1314.5M1112.9,1288.6L1104.3,1299.4M1121.5,1358.2L1122.2,1355.0M1158.0,1304.6L1153.3,1304.3M1132.3,1354.0L1128.1,1350.0M1136.3,1269.6L1134.3,1275.0M1104.3,1299.4L1108.4,1307.8M1160.0,1321.2L1158.4,1332.2M1089.2,1289.9L1090.8,1297.8M1083.2,1321.3L1091.4,1324.9M1157.3,1320.7L1157.0,1324.5M1092.9,1315.9L1108.4,1307.8M1157.0,1324.5L1148.9,1331.3M1100.2,1276.9L1101.0,1279.7M1113.3,1358.3L1116.6,1353.8M1090.3,1333.2L1091.4,1324.9M1139.7,1267.1L1139.8,1272.5M1116.6,1272.3L1119.5,1286.6M1122.2,1355.0L1116.5,1349.6M1157.3,1320.7L1153.7,1318.5M1153.0,1323.1L1143.7,1322.5M1101.1,1323.6L1110.8,1336.2M1133.8,1348.0L1128.1,1350.0M1119.5,1286.6L1118.7,1301.5M1146.8,1273.4L1150.6,1283.2M1096.2,1273.4L1096.5,1279.5M1158.4,1332.2L1148.9,1331.3M1158.4,1332.2L1153.5,1341.3M1113.0,1264.3L1120.4,1266.6M1128.1,1350.0L1116.5,1349.6M1082.2,1310.8L1085.0,1314.5M1108.4,1307.8L1123.8,1311.9M1137.8,1286.0L1131.0,1292.8M1105.2,1354.3L1113.0,1354.6M1158.4,1332.2L1152.0,1335.8M1161.8,1311.9L1149.5,1308.6M1153.5,1341.3L1144.5,1338.1M1113.0,1264.3L1113.8,1272.5M1148.9,1331.3L1144.5,1338.1M1153.5,1341.3L1147.5,1347.4M1121.1,1262.5L1139.7,1267.1M1116.6,1353.8L1113.0,1354.6M1148.1,1287.9L1137.8,1286.0M1093.7,1291.7L1098.8,1289.9M1131.7,1278.1L1119.5,1286.6M1152.9,1286.4L1148.1,1287.9M1083.2,1301.2L1085.0,1308.7M1123.8,1311.9L1135.3,1312.8M1139.7,1267.1L1136.3,1269.6M1109.6,1270.5L1101.0,1279.7M1154.2,1281.2L1152.9,1286.4M1085.0,1308.7L1089.1,1312.3M1116.6,1353.8L1116.5,1349.6M1089.1,1307.0L1108.4,1307.8M1131.0,1292.8L1142.2,1297.8M1128.4,1326.2L1139.6,1338.5M1101.0,1279.7L1098.8,1289.9M1092.9,1315.9L1101.1,1323.6M1094.5,1339.7L1101.8,1341.5M1146.5,1344.5L1144.5,1338.1M1153.3,1304.3L1149.5,1308.6M1116.5,1349.6L1114.4,1348.8M1138.4,1344.4L1139.6,1338.5M1157.6,1290.5L1148.1,1287.9M1135.3,1312.8L1128.4,1326.2M1147.5,1347.4L1138.8,1354.7M1144.5,1338.1L1138.4,1344.4M1161.4,1300.3L1158.0,1304.6M1089.1,1312.3L1089.1,1307.0M1085.6,1290.0L1086.1,1299.6M1161.8,1311.9L1153.7,1318.5M1090.8,1281.1L1093.7,1291.7M1161.8,1311.9L1160.0,1321.2M1097.3,1349.1L1100.9,1342.1M1097.3,1349.1L1090.6,1340.8M1101.8,1341.5L1100.9,1342.1M1153.7,1318.5L1149.5,1308.6M1116.5,1349.6L1126.7,1335.8M1085.5,1332.3L1090.3,1333.2M1138.8,1354.7L1132.3,1354.0M1130.4,1265.0L1128.2,1267.1M1103.9,1348.7L1110.8,1336.2M1113.8,1272.5L1112.9,1288.6M1161.8,1311.9L1157.3,1320.7M1108.4,1307.8L1116.1,1329.8M1130.5,1358.0L1128.1,1350.0M1094.5,1339.7L1095.1,1334.2M1130.5,1358.0L1121.5,1358.2M1085.0,1314.5L1092.9,1315.9M1110.8,1336.2L1126.7,1335.8M1120.4,1266.6L1129.0,1272.2M1160.0,1321.2L1157.0,1324.5M1091.4,1324.9L1101.1,1323.6M1101.1,1323.6L1116.1,1329.8M1118.7,1301.5L1123.8,1311.9M1148.1,1287.9L1142.2,1297.8M1093.7,1291.7L1104.3,1299.4M1131.7,1278.1L1131.0,1292.8M1089.1,1307.0L1090.8,1297.8M1143.7,1322.5L1139.6,1338.5M1083.2,1321.3L1084.6,1320.8M1158.0,1304.6L1153.0,1298.3M1134.3,1275.0L1131.7,1278.1M1132.3,1354.0L1133.8,1348.0M1136.3,1269.6L1129.0,1272.2M1089.1,1307.0L1104.3,1299.4M1122.2,1355.0L1116.6,1353.8M1090.6,1340.8L1085.5,1332.3M1139.8,1272.5L1134.3,1275.0M1131.0,1292.8L1135.3,1312.8M1116.6,1272.3L1129.0,1272.2M1089.1,1312.3L1092.9,1315.9M1100.2,1276.9L1100.3,1280.1M1098.8,1289.9L1104.3,1299.4M1090.3,1333.2L1095.1,1334.2M1153.3,1304.3L1142.2,1297.8M1157.0,1324.5L1153.0,1323.1M1146.8,1273.4L1140.4,1279.4M1121.5,1358.2L1113.3,1358.3" stroke="#ffffff" stroke-width="0.95" fill="none" opacity="0.95"/>
<path d="M1190.2,1279.9L1195.9,1275.9M1181.1,1301.9L1186.2,1296.3M1232.6,1273.2L1231.8,1293.7M1189.4,1300.2L1186.2,1296.3M1200.9,1267.6L1197.2,1271.8M1180.0,1295.8L1180.3,1291.0M1243.0,1270.9L1237.3,1270.5M1207.4,1311.5L1211.9,1298.8M1249.8,1294.8L1250.6,1291.0M1209.5,1315.6L1200.3,1312.9M1254.2,1302.0L1249.1,1297.6M1181.6,1296.2L1181.4,1294.9M1250.0,1307.5L1243.4,1309.1M1209.3,1266.3L1205.1,1270.4M1237.3,1270.5L1242.5,1278.5M1181.6,1296.2L1186.2,1296.3M1181.4,1294.9L1180.3,1291.0M1193.3,1271.1L1200.9,1267.6M1195.9,1275.9L1200.4,1274.5M1190.2,1279.9L1202.1,1281.3M1205.8,1312.3L1207.4,1311.5M1247.4,1277.6L1242.5,1278.5M1248.9,1274.2L1244.0,1274.6M1178.5,1290.9L1179.9,1285.3M1200.3,1312.9L1192.7,1309.9M1238.2,1310.2L1236.0,1307.7M1200.4,1274.5L1206.2,1272.8M1254.4,1281.1L1247.4,1277.6M1246.6,1301.2L1231.8,1293.7M1242.5,1278.5L1231.8,1293.7M1242.8,1309.7L1238.2,1310.2M1217.9,1266.4L1216.9,1267.7M1200.4,1274.5L1202.1,1281.3M1178.5,1290.9L1180.3,1291.0M1179.9,1285.3L1186.0,1286.6M1179.9,1285.3L1181.3,1280.3M1186.0,1274.9L1186.9,1279.7M1192.7,1309.9L1189.7,1305.6M1257.7,1286.2L1253.1,1284.5M1247.4,1277.6L1248.4,1282.3M1202.3,1311.9L1204.0,1310.2M1247.7,1304.3L1242.5,1303.8M1205.1,1270.4L1206.2,1272.8M1189.7,1305.6L1186.6,1303.2M1227.2,1314.9L1223.7,1313.9M1216.9,1267.7L1220.5,1267.6M1222.2,1270.3L1216.3,1277.0M1242.5,1278.5L1244.3,1280.2M1206.2,1272.8L1211.5,1271.0M1183.2,1281.6L1186.0,1286.6M1236.7,1313.9L1238.2,1310.2M1206.2,1272.8L1216.3,1277.0M1227.2,1314.9L1231.6,1309.5M1189.7,1305.6L1195.8,1306.3M1181.3,1280.3L1186.0,1274.9M1254.4,1281.1L1248.4,1282.3M1256.6,1296.7L1255.0,1291.5M1244.3,1280.2L1248.4,1282.3M1186.0,1286.6L1190.2,1279.9M1223.7,1313.9L1221.1,1311.6M1186.5,1305.7L1186.6,1303.2M1255.0,1291.5L1254.1,1286.4M1221.1,1311.6L1211.9,1298.8M1181.1,1301.9L1180.0,1295.8M1253.1,1284.5L1250.6,1291.0M1222.2,1270.3L1231.4,1272.8M1225.8,1267.9L1235.8,1269.1M1189.4,1300.2L1202.4,1298.6M1181.1,1301.9L1181.6,1296.2M1252.1,1297.3L1249.8,1294.8M1186.9,1279.7L1190.2,1279.9M1231.6,1309.5L1231.8,1293.7M1180.0,1295.8L1178.5,1290.9M1217.4,1315.9L1221.1,1311.6M1193.4,1274.3L1197.2,1271.8M1209.5,1315.6L1205.8,1312.3M1254.2,1302.0L1252.1,1297.3M1248.4,1282.3L1250.6,1291.0M1193.4,1274.3L1195.9,1275.9M1237.3,1270.5L1244.0,1274.6M1209.5,1315.6L1211.3,1311.7M1202.1,1281.3L1202.4,1298.6M1235.8,1269.1L1232.6,1273.2M1231.4,1272.8L1232.6,1273.2M1235.8,1269.1L1243.0,1270.9M1231.4,1272.8L1231.8,1293.7M1250.0,1307.5L1247.7,1304.3M1181.4,1294.9L1186.0,1293.6M1193.3,1271.1L1197.2,1271.8M1237.3,1270.5L1232.6,1273.2M1186.5,1287.5L1202.1,1281.3M1200.9,1267.6L1209.3,1266.3M1232.6,1273.2L1242.5,1278.5M1243.0,1270.9L1248.9,1274.2M1249.8,1294.8L1249.1,1297.6M1200.3,1312.9L1202.3,1311.9M1200.9,1267.6L1205.1,1270.4M1209.3,1266.3L1211.5,1271.0M1250.0,1307.5L1236.7,1313.9M1209.3,1266.3L1217.9,1266.4M1244.0,1274.6L1247.4,1277.6M1179.9,1285.3L1183.2,1281.6M1238.2,1310.2L1242.5,1303.8M1249.1,1297.6L1246.6,1301.2M1180.3,1291.0L1186.5,1287.5M1242.8,1309.7L1243.4,1309.1M1186.5,1287.5L1202.4,1298.6M1244.0,1274.6L1242.5,1278.5M1209.6,1313.8L1207.4,1311.5M1247.7,1304.3L1243.4,1309.1M1258.3,1291.1L1257.7,1286.2M1248.9,1274.2L1254.4,1281.1M1216.9,1267.7L1211.5,1271.0M1249.1,1297.6L1231.8,1293.7M1216.9,1267.7L1216.3,1277.0M1195.9,1275.9L1202.1,1281.3M1205.8,1312.3L1204.0,1310.2M1254.4,1281.1L1257.7,1286.2M1247.7,1304.3L1246.6,1301.2M1217.9,1266.4L1225.8,1267.9M1227.2,1314.9L1232.2,1311.9M1243.4,1309.1L1238.2,1310.2M1200.3,1312.9L1195.8,1306.3M1202.4,1298.6L1211.9,1298.8M1181.3,1280.3L1186.9,1279.7M1232.2,1311.9L1236.0,1307.7M1254.4,1281.1L1253.1,1284.5M1242.5,1303.8L1231.8,1293.7M1217.9,1266.4L1220.5,1267.6M1186.0,1274.9L1193.3,1271.1M1257.7,1286.2L1255.0,1291.5M1253.1,1284.5L1254.1,1286.4M1225.8,1267.9L1229.7,1269.7M1211.5,1271.0L1216.3,1277.0M1216.3,1277.0L1231.8,1293.7M1207.4,1311.5L1204.0,1310.2M1186.0,1274.9L1193.4,1274.3M1223.7,1313.9L1231.6,1309.5M1220.5,1267.6L1222.2,1270.3M1186.5,1305.7L1189.7,1305.6M1202.3,1311.9L1195.8,1306.3M1253.1,1284.5L1248.4,1282.3M1225.8,1267.9L1222.2,1270.3M1236.7,1313.9L1227.2,1314.9M1236.0,1307.7L1231.6,1309.5M1180.0,1295.8L1181.4,1294.9M1217.4,1315.9L1223.7,1313.9M1186.5,1287.5L1190.2,1279.9M1254.1,1286.4L1250.6,1291.0M1231.4,1272.8L1216.3,1277.0M1211.9,1298.8L1231.8,1293.7M1229.7,1269.7L1231.4,1272.8M1256.6,1296.7L1254.2,1302.0M1186.9,1279.7L1186.0,1286.6M1186.6,1303.2L1189.4,1300.2M1255.0,1291.5L1252.1,1297.3M1197.2,1271.8L1200.4,1274.5M1209.5,1315.6L1209.6,1313.8M1186.6,1303.2L1186.2,1296.3M1235.8,1269.1L1237.3,1270.5M1195.8,1306.3L1202.4,1298.6M1204.0,1310.2L1211.9,1298.8M1255.0,1291.5L1249.8,1294.8M1211.3,1311.7L1211.9,1298.8M1181.1,1301.9L1178.5,1290.9M1189.4,1300.2L1186.0,1293.6M1202.1,1281.3L1216.3,1277.0M1235.8,1269.1L1231.4,1272.8M1231.6,1309.5L1221.1,1311.6M1243.0,1270.9L1244.0,1274.6M1181.4,1294.9L1186.2,1296.3M1193.3,1271.1L1193.4,1274.3M1254.2,1302.0L1246.6,1301.2M1200.9,1267.6L1200.4,1274.5M1254.2,1302.0L1250.0,1307.5M1209.3,1266.3L1216.9,1267.7M1221.1,1311.6L1211.3,1311.7M1200.3,1312.9L1205.8,1312.3M1254.2,1302.0L1247.7,1304.3M1250.0,1307.5L1242.8,1309.7M1246.6,1301.2L1242.5,1303.8M1209.6,1313.8L1205.8,1312.3M1244.3,1280.2L1231.8,1293.7M1202.1,1281.3L1211.9,1298.8M1247.4,1277.6L1244.3,1280.2M1179.9,1285.3L1180.3,1291.0M1205.1,1270.4L1200.4,1274.5M1248.9,1274.2L1247.4,1277.6M1180.3,1291.0L1186.0,1293.6M1186.0,1293.6L1202.4,1298.6M1209.6,1313.8L1211.3,1311.7M1205.8,1312.3L1202.3,1311.9M1250.6,1291.0L1231.8,1293.7M1186.2,1296.3L1186.0,1293.6M1206.2,1272.8L1202.1,1281.3M1211.3,1311.7L1207.4,1311.5M1243.4,1309.1L1242.5,1303.8M1238.2,1310.2L1232.2,1311.9M1242.8,1309.7L1236.7,1313.9M1257.7,1286.2L1254.1,1286.4M1242.5,1303.8L1236.0,1307.7M1186.0,1293.6L1186.5,1287.5M1181.3,1280.3L1183.2,1281.6M1205.1,1270.4L1211.5,1271.0M1186.0,1274.9L1190.2,1279.9M1258.3,1291.1L1256.6,1296.7M1249.8,1294.8L1231.8,1293.7M1192.7,1309.9L1195.8,1306.3M1204.0,1310.2L1195.8,1306.3M1180.3,1291.0L1186.0,1286.6M1192.7,1309.9L1186.5,1305.7M1181.1,1301.9L1186.6,1303.2M1236.7,1313.9L1232.2,1311.9M1225.8,1267.9L1220.5,1267.6M1236.0,1307.7L1231.8,1293.7M1216.3,1277.0L1211.9,1298.8M1258.3,1291.1L1255.0,1291.5M1189.7,1305.6L1189.4,1300.2M1227.2,1314.9L1217.4,1315.9M1216.9,1267.7L1222.2,1270.3M1256.6,1296.7L1252.1,1297.3M1244.3,1280.2L1250.6,1291.0M1183.2,1281.6L1186.9,1279.7M1180.0,1295.8L1181.6,1296.2M1217.9,1266.4L1235.8,1269.1M1193.4,1274.3L1190.2,1279.9M1221.1,1311.6L1231.8,1293.7M1186.5,1287.5L1186.0,1286.6M1232.2,1311.9L1231.6,1309.5M1229.7,1269.7L1222.2,1270.3M1255.0,1291.5L1250.6,1291.0M1186.5,1305.7L1181.1,1301.9M1195.8,1306.3L1189.4,1300.2M1252.1,1297.3L1249.1,1297.6M1197.2,1271.8L1195.9,1275.9M1204.0,1310.2L1202.4,1298.6M1235.8,1269.1L1229.7,1269.7M1217.4,1315.9L1211.3,1311.7M1217.4,1315.9L1209.5,1315.6" stroke="#ffffff" stroke-width="0.95" fill="none" opacity="0.95"/>
<path d="M1207.6,1362.4L1212.3,1358.7M1203.8,1392.2L1201.4,1385.4M1215.7,1350.4L1211.1,1355.1M1204.3,1360.4L1208.9,1355.7M1234.8,1411.2L1229.4,1408.3M1207.6,1353.8L1204.3,1360.4M1224.6,1409.7L1216.2,1407.4M1271.7,1393.0L1265.0,1388.9M1197.5,1389.9L1195.8,1382.0M1265.7,1398.5L1261.4,1399.8M1224.2,1347.9L1219.6,1352.2M1250.7,1352.6L1255.9,1358.4M1249.1,1402.6L1251.6,1395.2M1242.9,1403.5L1239.0,1397.1M1253.0,1350.6L1259.2,1355.6M1197.5,1389.9L1201.4,1385.4M1195.8,1382.0L1194.7,1374.8M1207.6,1353.8L1215.7,1350.4M1212.3,1358.7L1218.2,1354.9M1207.6,1362.4L1216.0,1361.2M1202.3,1369.2L1211.4,1378.4M1224.5,1407.8L1222.6,1404.1M1265.9,1361.0L1255.9,1358.4M1266.3,1395.2L1265.0,1388.9M1223.8,1377.4L1239.0,1397.1M1228.9,1405.3L1239.0,1397.1M1266.2,1358.8L1259.2,1355.6M1192.1,1380.0L1193.8,1372.0M1216.2,1407.4L1218.2,1403.5M1216.2,1407.4L1208.4,1403.8M1257.2,1402.9L1249.1,1402.6M1218.2,1354.9L1224.9,1353.6M1271.6,1365.2L1265.9,1361.0M1255.9,1358.4L1243.7,1370.1M1224.2,1347.9L1233.7,1348.6M1259.6,1403.6L1257.2,1402.9M1218.2,1354.9L1216.0,1361.2M1233.8,1346.7L1233.9,1348.9M1192.1,1380.0L1194.7,1374.8M1261.4,1399.8L1263.8,1392.6M1193.8,1372.0L1202.3,1369.2M1193.8,1372.0L1195.4,1365.1M1201.0,1358.0L1204.3,1360.4M1208.4,1403.8L1208.5,1401.3M1275.2,1371.2L1271.7,1370.5M1263.4,1366.0L1263.9,1379.2M1207.6,1362.4L1211.4,1378.4M1209.9,1402.9L1218.2,1403.5M1252.4,1407.4L1249.1,1402.6M1219.6,1352.2L1224.9,1353.6M1275.9,1379.7L1272.1,1373.6M1208.5,1401.3L1202.1,1397.1M1243.6,1409.8L1240.8,1408.3M1233.9,1348.9L1233.7,1348.6M1235.7,1352.3L1242.5,1362.9M1255.9,1358.4L1263.4,1366.0M1272.7,1379.8L1263.9,1379.2M1224.9,1353.6L1232.0,1353.2M1252.4,1407.4L1257.2,1402.9M1268.2,1375.8L1263.9,1379.2M1198.6,1366.9L1202.3,1369.2M1208.5,1401.3L1211.1,1398.4M1243.6,1409.8L1242.9,1403.5M1195.4,1365.1L1201.0,1358.0M1271.6,1365.2L1267.5,1372.2M1274.7,1386.7L1272.7,1379.8M1263.4,1366.0L1267.5,1372.2M1249.5,1355.9L1242.5,1362.9M1240.8,1408.3L1235.6,1404.9M1202.3,1369.2L1207.6,1362.4M1200.6,1398.5L1202.1,1397.1M1272.7,1379.8L1272.1,1373.6M1197.2,1392.7L1192.8,1386.0M1243.3,1348.4L1253.0,1350.6M1235.7,1352.3L1244.4,1353.6M1267.7,1384.9L1263.9,1379.2M1211.4,1378.4L1222.9,1393.5M1203.8,1392.2L1211.4,1378.4M1197.2,1392.7L1197.5,1389.9M1263.8,1392.6L1251.6,1395.2M1270.9,1387.1L1267.7,1384.9M1204.3,1360.4L1207.6,1362.4M1224.9,1353.6L1223.8,1377.4M1192.8,1386.0L1192.1,1380.0M1234.8,1411.2L1235.6,1404.9M1208.9,1355.7L1211.1,1355.1M1224.6,1409.7L1224.5,1407.8M1244.2,1351.6L1250.7,1352.6M1271.7,1393.0L1270.9,1387.1M1267.5,1372.2L1268.2,1375.8M1265.7,1398.5L1263.8,1392.6M1208.9,1355.7L1212.3,1358.7M1216.0,1361.2L1211.4,1378.4M1253.0,1350.6L1260.6,1353.2M1244.4,1353.6L1249.5,1355.9M1195.8,1382.0L1200.7,1380.4M1255.9,1358.4L1242.5,1362.9M1265.7,1398.5L1266.3,1395.2M1250.7,1352.6L1249.5,1355.9M1207.6,1353.8L1211.1,1355.1M1229.4,1408.3L1235.6,1404.9M1249.1,1402.6L1239.0,1397.1M1215.7,1350.4L1224.2,1347.9M1249.5,1355.9L1255.9,1358.4M1260.6,1353.2L1266.2,1358.8M1267.7,1384.9L1265.0,1388.9M1243.7,1370.1L1251.6,1395.2M1216.2,1407.4L1209.9,1402.9M1218.2,1403.5L1222.9,1393.5M1201.4,1385.4L1211.4,1378.4M1215.7,1350.4L1219.6,1352.2M1224.5,1407.8L1228.9,1405.3M1224.2,1347.9L1232.0,1353.2M1224.2,1347.9L1233.8,1346.7M1235.6,1404.9L1239.0,1397.1M1228.9,1405.3L1222.9,1393.5M1259.2,1355.6L1265.9,1361.0M1216.2,1407.4L1222.6,1404.1M1193.8,1372.0L1198.6,1366.9M1257.2,1402.9L1257.3,1398.2M1265.0,1388.9L1263.8,1392.6M1194.7,1374.8L1201.0,1376.9M1259.6,1403.6L1261.4,1399.8M1201.0,1376.9L1211.4,1378.4M1259.2,1355.6L1255.9,1358.4M1243.3,1348.4L1233.9,1348.9M1275.9,1379.7L1275.2,1371.2M1201.0,1358.0L1198.6,1366.9M1233.9,1348.9L1232.0,1353.2M1208.4,1403.8L1209.9,1402.9M1222.9,1393.5L1239.0,1397.1M1266.2,1358.8L1271.6,1365.2M1212.3,1358.7L1216.0,1361.2M1271.6,1365.2L1275.2,1371.2M1266.3,1395.2L1263.8,1392.6M1233.8,1346.7L1243.3,1348.4M1243.6,1409.8L1249.4,1406.8M1261.4,1399.8L1257.2,1402.9M1211.4,1378.4L1223.8,1377.4M1249.4,1406.8L1249.1,1402.6M1271.6,1365.2L1271.7,1370.5M1263.9,1379.2L1251.6,1395.2M1201.0,1358.0L1207.6,1353.8M1233.8,1346.7L1233.7,1348.6M1271.7,1370.5L1272.1,1373.6M1243.3,1348.4L1244.2,1351.6M1202.1,1397.1L1211.1,1398.4M1222.6,1404.1L1218.2,1403.5M1242.5,1362.9L1243.7,1370.1M1232.0,1353.2L1242.5,1362.9M1240.8,1408.3L1242.9,1403.5M1200.6,1398.5L1208.5,1401.3M1267.5,1372.2L1263.9,1379.2M1197.2,1392.7L1203.8,1392.2M1209.9,1402.9L1211.1,1398.4M1271.7,1370.5L1267.5,1372.2M1243.3,1348.4L1235.7,1352.3M1252.4,1407.4L1243.6,1409.8M1249.1,1402.6L1242.9,1403.5M1192.8,1386.0L1195.8,1382.0M1234.8,1411.2L1240.8,1408.3M1223.8,1377.4L1243.7,1370.1M1272.1,1373.6L1268.2,1375.8M1244.4,1353.6L1242.5,1362.9M1244.2,1351.6L1244.4,1353.6M1274.7,1386.7L1271.7,1393.0M1204.3,1360.4L1202.3,1369.2M1200.6,1398.5L1192.8,1386.0M1272.7,1379.8L1270.9,1387.1M1211.1,1355.1L1218.2,1354.9M1224.6,1409.7L1229.4,1408.3M1243.7,1370.1L1263.9,1379.2M1253.0,1350.6L1250.7,1352.6M1197.5,1389.9L1203.8,1392.2M1232.0,1353.2L1223.8,1377.4M1211.1,1398.4L1211.4,1378.4M1265.0,1388.9L1251.6,1395.2M1272.7,1379.8L1267.7,1384.9M1242.9,1403.5L1235.6,1404.9M1260.6,1353.2L1259.2,1355.6M1223.8,1377.4L1222.9,1393.5M1195.8,1382.0L1201.4,1385.4M1207.6,1353.8L1208.9,1355.7M1215.7,1350.4L1218.2,1354.9M1257.3,1398.2L1251.6,1395.2M1271.7,1393.0L1265.7,1398.5M1235.6,1404.9L1228.9,1405.3M1192.1,1380.0L1195.8,1382.0M1243.7,1370.1L1239.0,1397.1M1216.2,1407.4L1224.5,1407.8M1271.7,1393.0L1266.3,1395.2M1224.2,1347.9L1224.9,1353.6M1263.8,1392.6L1257.3,1398.2M1265.7,1398.5L1259.6,1403.6M1229.4,1408.3L1224.5,1407.8M1263.4,1366.0L1243.7,1370.1M1216.0,1361.2L1223.8,1377.4M1253.0,1350.6L1255.9,1358.4M1265.9,1361.0L1263.4,1366.0M1193.8,1372.0L1194.7,1374.8M1219.6,1352.2L1218.2,1354.9M1222.6,1404.1L1222.9,1393.5M1195.8,1382.0L1201.0,1376.9M1266.2,1358.8L1265.9,1361.0M1200.7,1380.4L1211.4,1378.4M1229.4,1408.3L1228.9,1405.3M1239.0,1397.1L1251.6,1395.2M1201.4,1385.4L1200.7,1380.4M1224.9,1353.6L1216.0,1361.2M1228.9,1405.3L1222.6,1404.1M1261.4,1399.8L1257.3,1398.2M1211.1,1398.4L1222.9,1393.5M1271.6,1365.2L1263.4,1366.0M1259.6,1403.6L1252.4,1407.4M1275.2,1371.2L1272.1,1373.6M1257.3,1398.2L1249.1,1402.6M1200.7,1380.4L1201.0,1376.9M1195.4,1365.1L1198.6,1366.9M1275.9,1379.7L1274.7,1386.7M1194.7,1374.8L1202.3,1369.2M1208.4,1403.8L1200.6,1398.5M1218.2,1403.5L1211.1,1398.4M1197.2,1392.7L1202.1,1397.1M1209.9,1402.9L1208.5,1401.3M1252.4,1407.4L1249.4,1406.8M1242.5,1362.9L1223.8,1377.4M1275.9,1379.7L1272.7,1379.8M1233.9,1348.9L1235.7,1352.3M1243.6,1409.8L1234.8,1411.2M1233.7,1348.6L1232.0,1353.2M1265.0,1388.9L1263.9,1379.2M1274.7,1386.7L1270.9,1387.1M1198.6,1366.9L1204.3,1360.4M1192.8,1386.0L1197.5,1389.9M1208.9,1355.7L1207.6,1362.4M1201.0,1376.9L1202.3,1369.2M1272.1,1373.6L1267.5,1372.2M1249.4,1406.8L1242.9,1403.5M1244.2,1351.6L1235.7,1352.3M1272.7,1379.8L1268.2,1375.8M1211.1,1398.4L1203.8,1392.2M1200.6,1398.5L1197.2,1392.7M1250.7,1352.6L1244.4,1353.6M1232.0,1353.2L1235.7,1352.3M1270.9,1387.1L1265.0,1388.9M1211.1,1355.1L1212.3,1358.7M1243.3,1348.4L1250.7,1352.6M1202.1,1397.1L1203.8,1392.2M1234.8,1411.2L1224.6,1409.7" stroke="#ffffff" stroke-width="0.95" fill="none" opacity="0.95"/>
<path d="M889.3,1448.3L892.7,1444.8M887.7,1460.5L888.6,1458.3M911.9,1446.4L907.7,1448.4M890.3,1460.8L888.6,1458.3M889.1,1446.1L890.7,1443.1M890.7,1443.1L892.7,1443.2M910.7,1440.9L907.9,1440.3M913.8,1456.7L913.8,1452.1M897.0,1469.7L894.3,1468.1M887.0,1458.8L886.8,1456.0M912.9,1464.1L910.1,1464.7M897.7,1437.8L896.4,1440.6M909.8,1442.3L907.3,1442.8M887.0,1458.8L888.6,1458.3M892.4,1441.1L892.7,1443.2M892.4,1441.1L894.2,1439.3M892.7,1444.8L892.7,1443.2M896.3,1467.8L896.9,1467.0M912.5,1444.8L909.7,1445.0M912.8,1460.9L911.9,1458.9M913.1,1444.3L909.8,1442.3M894.3,1468.1L895.6,1465.7M894.3,1468.1L891.3,1466.8M906.8,1467.1L908.5,1463.9M892.7,1443.2L897.5,1443.0M915.2,1446.8L912.5,1444.8M901.5,1437.7L900.2,1440.0M885.9,1454.2L886.8,1451.9M885.6,1450.7L887.4,1447.6M888.7,1443.6L889.1,1446.1M886.8,1451.9L887.6,1450.1M891.3,1466.8L892.2,1466.0M915.0,1450.6L914.2,1449.2M914.2,1449.2L911.9,1446.4M912.8,1460.9L910.4,1463.6M896.4,1440.6L897.5,1443.0M915.9,1453.7L914.0,1452.0M892.2,1466.0L889.7,1462.8M904.2,1469.6L901.4,1469.2M903.8,1441.8L907.7,1448.4M909.7,1445.0L911.9,1446.4M897.5,1443.0L898.5,1441.1M887.6,1450.1L890.0,1449.3M907.9,1467.9L906.8,1467.1M901.5,1437.7L903.5,1439.3M892.2,1466.0L892.2,1463.1M904.2,1469.6L904.8,1467.6M887.4,1447.6L889.3,1448.3M890.0,1449.3L889.3,1448.3M897.0,1469.7L901.4,1469.2M916.3,1457.8L916.0,1456.6M911.9,1446.4L913.2,1451.1M907.3,1442.8L907.7,1448.4M887.4,1447.6L888.7,1443.6M901.4,1469.2L901.4,1466.9M888.3,1463.9L889.7,1462.8M904.6,1439.0L905.3,1441.0M900.2,1466.7L899.1,1465.4M908.5,1463.9L901.4,1466.9M903.8,1441.8L905.3,1441.0M904.7,1438.8L907.5,1439.2M904.6,1439.0L903.5,1439.3M887.7,1460.5L887.0,1458.8M913.2,1460.5L913.8,1456.7M889.1,1446.1L889.3,1448.3M907.5,1439.2L904.6,1439.0M892.2,1463.1L897.0,1450.3M890.7,1443.1L892.1,1442.1M897.0,1469.7L896.3,1467.8M915.6,1461.1L913.2,1460.5M913.2,1451.1L913.8,1452.1M890.7,1443.1L892.7,1444.8M907.9,1440.3L909.8,1442.3M896.9,1467.0L899.1,1465.4M897.0,1450.3L899.1,1465.4M905.3,1441.0L907.3,1442.8M886.8,1456.0L888.7,1454.1M910.9,1460.8L907.7,1448.4M909.7,1445.0L907.7,1448.4M889.2,1451.8L897.0,1450.3M907.9,1440.3L907.3,1442.8M912.9,1464.1L912.8,1460.9M892.4,1441.1L892.1,1442.1M894.2,1439.3L897.7,1437.8M907.3,1442.8L909.7,1445.0M910.7,1440.9L913.1,1444.3M913.8,1456.7L911.9,1458.9M894.3,1468.1L892.1,1466.4M913.2,1451.1L907.7,1448.4M894.2,1439.3L896.4,1440.6M897.7,1437.8L898.5,1441.1M910.9,1460.8L908.5,1463.9M897.7,1437.8L901.5,1437.7M885.9,1454.2L888.7,1454.1M909.8,1442.3L912.5,1444.8M885.6,1450.7L887.6,1450.1M911.9,1458.9L910.9,1460.8M886.8,1451.9L889.2,1451.8M908.5,1463.9L897.0,1450.3M910.3,1467.6L910.1,1464.7M909.8,1442.3L909.7,1445.0M899.0,1468.1L896.9,1467.0M915.9,1453.7L915.0,1450.6M910.1,1464.7L908.5,1463.9M900.2,1440.0L898.5,1441.1M892.7,1444.8L897.5,1443.0M891.3,1466.8L892.1,1466.4M892.7,1444.8L897.0,1450.3M896.3,1467.8L895.6,1465.7M915.2,1446.8L915.0,1450.6M912.8,1460.9L910.9,1460.8M910.3,1467.6L904.2,1469.6M901.5,1437.7L904.7,1438.8M904.2,1469.6L906.0,1468.0M910.1,1464.7L906.8,1467.1M903.8,1441.8L897.0,1450.3M906.8,1467.1L904.8,1467.6M887.4,1447.6L889.1,1446.1M915.2,1446.8L914.2,1449.2M887.6,1450.1L889.2,1451.8M908.5,1463.9L899.1,1465.4M888.7,1443.6L892.4,1441.1M904.7,1438.8L903.5,1439.3M889.7,1462.8L892.2,1463.1M896.9,1467.0L895.6,1465.7M888.7,1443.6L890.7,1443.1M904.2,1469.6L897.0,1469.7M891.3,1466.8L889.7,1462.8M901.4,1469.2L904.8,1467.6M887.7,1460.5L890.3,1460.8M914.2,1449.2L913.2,1451.1M908.5,1463.9L904.8,1467.6M907.9,1467.9L904.2,1469.6M885.9,1457.9L886.8,1456.0M901.6,1469.4L901.4,1469.2M914.0,1452.0L913.8,1452.1M903.5,1439.3L905.3,1441.0M897.5,1443.0L903.8,1441.8M887.6,1450.1L889.3,1448.3M889.7,1462.8L890.3,1460.8M892.1,1442.1L892.7,1443.2M890.0,1449.3L892.7,1444.8M897.0,1469.7L899.0,1468.1M907.5,1439.2L907.9,1440.3M892.2,1463.1L899.1,1465.4M911.9,1458.9L913.8,1452.1M901.4,1469.2L900.2,1466.7M916.0,1456.6L913.8,1456.7M890.3,1460.8L888.7,1454.1M897.0,1450.3L907.7,1448.4M913.2,1460.5L912.8,1460.9M903.8,1441.8L907.3,1442.8M907.5,1439.2L905.3,1441.0M904.8,1467.6L901.4,1466.9M910.7,1440.9L909.8,1442.3M886.8,1456.0L888.6,1458.3M888.7,1454.1L897.0,1450.3M910.9,1460.8L897.0,1450.3M892.4,1441.1L890.7,1443.1M897.0,1469.7L891.3,1466.8M889.1,1446.1L892.7,1444.8M915.6,1461.1L912.9,1464.1M897.7,1437.8L900.2,1440.0M901.4,1466.9L900.2,1466.7M885.9,1454.2L886.8,1456.0M894.3,1468.1L896.3,1467.8M911.9,1458.9L907.7,1448.4M890.0,1449.3L897.0,1450.3M915.6,1461.1L912.8,1460.9M912.9,1464.1L910.4,1463.6M912.9,1464.1L910.3,1467.6M910.9,1460.8L910.4,1463.6M899.0,1468.1L896.3,1467.8M912.5,1444.8L911.9,1446.4M885.6,1450.7L886.8,1451.9M896.4,1440.6L892.7,1443.2M913.1,1444.3L912.5,1444.8M886.8,1451.9L888.7,1454.1M892.4,1441.1L896.4,1440.6M899.0,1468.1L900.2,1466.7M888.6,1458.3L888.7,1454.1M907.9,1467.9L910.1,1464.7M897.5,1443.0L897.0,1450.3M915.9,1453.7L915.2,1446.8M892.2,1466.0L895.6,1465.7M910.1,1464.7L910.4,1463.6M894.3,1468.1L892.2,1466.0M906.8,1467.1L906.0,1468.0M915.2,1446.8L911.9,1446.4M910.4,1463.6L908.5,1463.9M915.0,1450.6L914.0,1452.0M910.3,1467.6L907.9,1467.9M888.7,1454.1L889.2,1451.8M901.4,1466.9L899.1,1465.4M887.4,1447.6L887.6,1450.1M896.4,1440.6L898.5,1441.1M915.9,1453.7L913.8,1456.7M900.2,1440.0L903.5,1439.3M895.6,1465.7L892.2,1463.1M915.0,1450.6L913.2,1451.1M891.3,1466.8L888.3,1463.9M887.7,1460.5L889.7,1462.8M892.1,1466.4L892.2,1466.0M907.9,1467.9L906.0,1468.0M904.7,1438.8L904.6,1439.0M915.9,1453.7L913.8,1452.1M915.9,1453.7L916.0,1456.6M904.2,1469.6L901.6,1469.4M900.2,1440.0L903.8,1441.8M899.0,1468.1L899.1,1465.4M916.3,1457.8L913.2,1460.5M885.9,1457.9L887.0,1458.8M901.5,1437.7L907.5,1439.2M889.2,1451.8L890.0,1449.3M890.3,1460.8L897.0,1450.3M914.0,1452.0L913.2,1451.1M906.0,1468.0L904.8,1467.6M916.3,1457.8L913.8,1456.7M903.5,1439.3L903.8,1441.8M901.4,1469.2L899.0,1468.1M892.2,1463.1L890.3,1460.8M888.3,1463.9L887.7,1460.5M907.9,1440.3L905.3,1441.0M898.5,1441.1L903.8,1441.8M913.2,1460.5L911.9,1458.9M895.6,1465.7L899.1,1465.4M911.9,1458.9L913.2,1451.1M901.6,1469.4L897.0,1469.7" stroke="#ffffff" stroke-width="0.95" fill="none" opacity="0.95"/>
<path d="M918.2,1614.3L910.0,1627.7M903.1,1474.8L903.4,1482.5M898.9,1590.8L908.8,1603.1M881.6,1483.2L891.3,1489.5M859.9,1586.2L870.0,1593.3M902.3,1650.8L892.7,1652.8M914.9,1632.5L905.6,1642.1M872.4,1532.6L891.1,1538.5M914.9,1632.5L910.0,1627.7M905.6,1642.1L894.1,1645.8M874.5,1624.8L870.2,1618.5M854.1,1601.7L853.6,1591.6M915.1,1543.9L919.4,1563.0M870.2,1618.5L864.6,1607.5M908.8,1603.1L909.0,1617.2M894.1,1550.2L904.2,1552.5M883.0,1633.5L889.9,1617.3M853.6,1591.6L851.2,1582.7M866.2,1492.3L880.3,1493.9M901.0,1512.2L912.7,1527.8M859.4,1605.3L864.6,1607.5M854.0,1582.5L853.8,1576.7M872.4,1532.6L873.9,1551.5M859.0,1576.9L865.9,1573.2M869.0,1509.3L877.2,1497.5M934.4,1582.8L932.0,1580.6M869.2,1496.9L880.3,1493.9M854.0,1524.4L859.3,1505.9M891.3,1489.5L893.1,1497.5M893.6,1577.6L913.0,1576.1M933.3,1592.4L929.4,1594.1M881.6,1483.2L884.5,1481.8M917.5,1512.0L912.7,1527.8M903.1,1474.8L900.6,1480.8M895.3,1601.5L889.9,1617.3M903.4,1482.5L899.1,1490.2M862.5,1527.8L872.3,1513.2M883.9,1650.2L882.6,1644.1M859.5,1618.6L863.4,1619.6M882.4,1510.0L881.2,1525.6M908.7,1495.5L893.1,1497.5M888.7,1590.5L895.3,1601.5M901.0,1512.2L895.1,1526.6M912.7,1527.8L915.1,1543.9M932.0,1580.6L926.3,1594.5M852.0,1533.4L854.0,1524.4M906.9,1630.5L889.9,1635.4M876.3,1576.1L893.6,1577.6M910.0,1627.7L909.0,1617.2M924.6,1615.5L921.8,1601.6M872.3,1513.2L872.4,1532.6M869.2,1496.9L877.2,1497.5M894.1,1550.2L903.9,1562.8M903.1,1474.8L912.4,1481.9M863.4,1619.6L870.2,1618.5M917.5,1512.0L921.8,1522.4M879.2,1602.7L895.3,1601.5M892.7,1652.8L888.1,1645.7M918.2,1614.3L909.0,1617.2M895.1,1526.6L899.3,1537.7M912.4,1481.9L920.2,1493.4M895.3,1601.5L908.8,1603.1M934.4,1582.8L933.3,1592.4M927.3,1520.5L921.8,1522.4M872.3,1513.2L882.4,1510.0M859.3,1505.9L863.2,1507.0M933.3,1592.4L931.6,1601.6M863.2,1507.0L869.0,1509.3M882.4,1510.0L901.0,1512.2M866.2,1492.3L869.2,1496.9M935.8,1553.6L932.2,1557.9M932.0,1580.6L929.4,1594.1M910.0,1627.7L906.9,1630.5M888.7,1590.5L879.2,1602.7M928.1,1600.8L926.3,1594.5M854.1,1601.7L870.0,1593.3M850.2,1563.3L859.0,1576.9M906.9,1630.5L892.9,1637.5M891.1,1538.5L899.3,1537.7M883.9,1650.2L873.6,1643.4M849.5,1553.7L858.5,1551.0M920.2,1493.4L908.7,1495.5M925.0,1510.1L917.5,1512.0M927.5,1560.9L915.1,1543.9M899.3,1537.7L915.1,1543.9M927.2,1506.7L927.3,1520.5M888.1,1645.7L882.6,1644.1M875.0,1638.9L883.0,1633.5M935.6,1544.0L926.7,1542.0M850.6,1573.5L849.5,1553.7M859.9,1586.2L859.0,1576.9M863.4,1619.6L874.5,1624.8M858.5,1551.0L873.9,1551.5M853.6,1591.6L859.9,1586.2M895.1,1526.6L891.1,1538.5M891.1,1538.5L894.1,1550.2M876.3,1576.1L888.7,1590.5M931.6,1601.6L924.6,1615.5M859.3,1505.9L860.4,1514.5M851.2,1582.7L853.8,1576.7M892.7,1652.8L883.9,1650.2M927.6,1619.4L924.6,1615.5M902.3,1650.8L905.6,1642.1M894.1,1645.8L888.1,1645.7M849.5,1553.7L851.4,1559.8M920.2,1493.4L918.4,1497.7M936.7,1563.1L927.4,1566.0M851.6,1543.5L854.8,1541.0M851.2,1582.7L850.6,1573.5M935.6,1544.0L930.6,1535.1M878.8,1565.5L887.0,1567.3M927.6,1619.4L912.0,1643.7M853.6,1591.6L854.0,1582.5M887.0,1567.3L903.9,1562.8M858.5,1551.0L870.2,1548.5M918.2,1614.3L908.8,1603.1M859.4,1605.3L870.0,1593.3M877.2,1497.5L880.3,1493.9M877.2,1497.5L881.1,1501.6M891.1,1538.5L873.9,1551.5M859.3,1505.9L866.2,1492.3M905.6,1642.1L906.9,1630.5M880.3,1493.9L891.3,1489.5M931.6,1601.6L928.1,1600.8M866.2,1492.3L875.3,1481.3M884.5,1481.8L900.6,1480.8M899.1,1490.2L893.1,1497.5M873.9,1551.5L878.8,1565.5M870.0,1593.3L888.7,1590.5M878.8,1565.5L876.3,1576.1M870.2,1618.5L879.2,1602.7M884.5,1481.8L891.3,1489.5M900.6,1480.8L903.4,1482.5M918.4,1497.7L908.9,1495.9M921.8,1522.4L912.7,1527.8M920.2,1493.4L927.2,1506.7M854.0,1582.5L859.9,1586.2M926.7,1542.0L927.5,1560.9M873.6,1643.4L875.0,1638.9M927.2,1506.7L931.8,1523.8M889.9,1617.3L909.0,1617.2M874.5,1624.8L889.9,1617.3M875.3,1481.3L880.3,1493.9M854.8,1541.0L870.2,1548.5M927.6,1619.4L919.0,1632.7M898.9,1590.8L895.3,1601.5M881.6,1483.2L880.3,1493.9M881.2,1525.6L895.1,1526.6M883.0,1475.9L884.5,1481.8M912.4,1481.9L903.4,1482.5M915.4,1592.4L908.8,1603.1M932.0,1580.6L913.0,1576.1M869.0,1509.3L882.4,1510.0M893.1,1497.5L901.0,1512.2M908.9,1495.9L893.1,1497.5M926.3,1594.5L915.4,1592.4M872.4,1532.6L870.2,1548.5M936.7,1563.1L935.8,1553.6M851.4,1559.8L865.9,1573.2M931.6,1601.6L927.6,1619.4M875.3,1481.3L881.6,1483.2M929.4,1594.1L928.1,1600.8M899.1,1490.2L908.7,1495.5M904.2,1552.5L919.4,1563.0M892.9,1637.5L889.9,1635.4M936.7,1563.1L933.3,1592.4M873.6,1643.4L867.5,1632.9M881.1,1501.6L882.4,1510.0M852.0,1533.4L862.5,1527.8M883.9,1650.2L888.1,1645.7M882.6,1644.1L875.0,1638.9M869.0,1509.3L872.3,1513.2M930.6,1535.1L926.7,1542.0M930.6,1535.1L912.7,1527.8M893.6,1577.6L898.9,1590.8M935.8,1553.6L926.7,1542.0M850.2,1563.3L849.5,1553.7M912.7,1527.8L899.3,1537.7M932.0,1580.6L927.4,1566.0M927.6,1619.4L918.2,1614.3M919.0,1632.7L910.0,1627.7M906.9,1630.5L909.0,1617.2M869.2,1496.9L869.0,1509.3M931.8,1523.8L930.6,1535.1M894.1,1550.2L887.0,1567.3M888.1,1645.7L889.9,1635.4M931.8,1523.8L921.8,1522.4M892.7,1652.8L894.1,1645.8M904.2,1552.5L903.9,1562.8M898.9,1590.8L915.4,1592.4M859.9,1586.2L876.3,1576.1M936.7,1563.1L934.4,1582.8M903.9,1562.8L919.4,1563.0M899.3,1537.7L904.2,1552.5M930.6,1535.1L921.8,1522.4M854.8,1541.0L860.2,1535.2M893.6,1577.6L888.7,1590.5M919.0,1632.7L914.9,1632.5M903.4,1482.5L908.7,1495.5M894.1,1645.8L892.9,1637.5M853.6,1591.6L870.0,1593.3M850.2,1563.3L865.9,1573.2M920.2,1493.4L908.9,1495.9M903.9,1562.8L913.0,1576.1M927.2,1506.7L925.0,1510.1M875.3,1481.3L883.0,1475.9M927.5,1560.9L919.4,1563.0M936.7,1563.1L927.5,1560.9M851.6,1543.5L858.5,1551.0M854.1,1601.7L851.2,1582.7M931.8,1523.8L927.3,1520.5M894.1,1550.2L878.8,1565.5M888.1,1645.7L892.9,1637.5M850.6,1573.5L850.2,1563.3M935.3,1572.7L927.4,1566.0M859.5,1618.6L864.6,1607.5M927.4,1566.0L919.4,1563.0M917.5,1512.0L901.0,1512.2M853.8,1576.7L859.0,1576.9M859.9,1586.2L865.9,1573.2M876.3,1576.1L870.0,1593.3M851.4,1559.8L858.5,1551.0M880.3,1493.9L893.1,1497.5M899.3,1537.7L894.1,1550.2M934.4,1582.8L929.4,1594.1M891.3,1489.5L899.1,1490.2M864.6,1607.5L870.0,1593.3M915.1,1543.9L904.2,1552.5M851.2,1582.7L854.0,1582.5M927.4,1566.0L913.0,1576.1M888.7,1590.5L898.9,1590.8M887.0,1567.3L893.6,1577.6M850.6,1573.5L853.8,1576.7M879.2,1602.7L889.9,1617.3M900.6,1480.8L899.1,1490.2M860.2,1535.2L872.4,1532.6M895.3,1601.5L909.0,1617.2M936.7,1563.1L932.2,1557.9M889.9,1635.4L889.9,1617.3M867.5,1632.9L863.4,1619.6M903.9,1562.8L893.6,1577.6M872.3,1513.2L881.2,1525.6M927.2,1506.7L918.4,1497.7M931.8,1523.8L932.8,1532.7M867.5,1632.9L874.5,1624.8M873.9,1551.5L865.9,1573.2M935.3,1572.7L932.0,1580.6M864.6,1607.5L879.2,1602.7M859.5,1618.6L859.4,1605.3M882.4,1510.0L895.1,1526.6M926.3,1594.5L921.8,1601.6M919.0,1632.7L912.0,1643.7M858.5,1551.0L865.9,1573.2M895.1,1526.6L912.7,1527.8M893.2,1472.6L900.6,1480.8M860.2,1535.2L870.2,1548.5M880.3,1493.9L881.1,1501.6M931.6,1601.6L929.4,1594.1M924.6,1615.5L918.2,1614.3M883.0,1633.5L874.5,1624.8M878.8,1565.5L865.9,1573.2M887.0,1567.3L876.3,1576.1M863.4,1619.6L864.6,1607.5M900.6,1480.8L891.3,1489.5M932.0,1580.6L915.4,1592.4M926.7,1542.0L912.7,1527.8M873.6,1643.4L882.6,1644.1M932.2,1557.9L927.5,1560.9M867.5,1632.9L875.0,1638.9M913.0,1576.1L915.4,1592.4M860.4,1514.5L869.0,1509.3M859.3,1505.9L869.2,1496.9M870.0,1593.3L879.2,1602.7M929.4,1594.1L926.3,1594.5M927.4,1566.0L927.5,1560.9M928.1,1600.8L924.6,1615.5M870.2,1618.5L889.9,1617.3M908.9,1495.9L917.5,1512.0M921.8,1601.6L915.4,1592.4M883.0,1475.9L881.6,1483.2M928.1,1600.8L921.8,1601.6M889.9,1635.4L883.0,1633.5M893.2,1472.6L884.5,1481.8M926.7,1542.0L915.1,1543.9M867.5,1632.9L859.5,1618.6M870.2,1548.5L873.9,1551.5M925.0,1510.1L921.8,1522.4M882.6,1644.1L883.0,1633.5M859.5,1618.6L854.1,1601.7M860.4,1514.5L872.3,1513.2M893.1,1497.5L882.4,1510.0M873.9,1551.5L894.1,1550.2M875.0,1638.9L874.5,1624.8M854.0,1524.4L862.5,1527.8M881.2,1525.6L891.1,1538.5M849.5,1553.7L851.6,1543.5M860.2,1535.2L862.5,1527.8M851.6,1543.5L852.0,1533.4M932.2,1557.9L926.7,1542.0M860.4,1514.5L863.2,1507.0M865.9,1573.2L876.3,1576.1M913.0,1576.1L898.9,1590.8M860.4,1514.5L862.5,1527.8M863.2,1507.0L869.2,1496.9M883.0,1475.9L893.2,1472.6M908.9,1495.9L908.7,1495.5M908.9,1495.9L901.0,1512.2M912.0,1643.7L905.6,1642.1M918.4,1497.7L917.5,1512.0M850.2,1563.3L851.4,1559.8M893.2,1472.6L903.1,1474.8M902.3,1650.8L894.1,1645.8M852.0,1533.4L860.2,1535.2M925.0,1510.1L927.3,1520.5M932.8,1532.7L930.6,1535.1M935.3,1572.7L934.4,1582.8M882.6,1644.1L889.9,1635.4M854.0,1524.4L860.4,1514.5M921.8,1601.6L908.8,1603.1M881.2,1525.6L872.4,1532.6M850.6,1573.5L859.0,1576.9M919.0,1632.7L918.2,1614.3M914.9,1632.5L906.9,1630.5M906.9,1630.5L889.9,1617.3M912.4,1481.9L908.7,1495.5M905.6,1642.1L892.9,1637.5M918.4,1497.7L925.0,1510.1M912.0,1643.7L914.9,1632.5M936.7,1563.1L935.3,1572.7M881.1,1501.6L893.1,1497.5M852.0,1533.4L854.8,1541.0M862.5,1527.8L872.4,1532.6M919.4,1563.0L913.0,1576.1M854.0,1582.5L859.0,1576.9M932.8,1532.7L935.6,1544.0M869.0,1509.3L881.1,1501.6M935.6,1544.0L935.8,1553.6M921.8,1601.6L918.2,1614.3M854.8,1541.0L858.5,1551.0M854.1,1601.7L859.4,1605.3M912.0,1643.7L902.3,1650.8" stroke="#ffffff" stroke-width="0.95" fill="none" opacity="0.95"/>
<path d="M864.3,1529.7L869.4,1519.7M858.2,1602.5L861.9,1587.5M919.6,1570.3L916.1,1588.8M876.8,1485.3L876.1,1493.8M877.0,1580.7L892.3,1584.0M863.6,1516.6L867.7,1506.7M867.7,1506.7L877.2,1502.4M893.8,1651.8L890.6,1644.5M893.6,1524.5L879.3,1541.7M920.9,1497.8L911.8,1491.9M928.8,1573.7L928.6,1559.8M885.4,1650.1L875.6,1643.3M932.6,1602.9L925.9,1590.9M857.5,1583.2L856.1,1569.2M928.8,1573.7L916.1,1588.8M886.3,1479.1L884.1,1486.4M892.3,1584.0L916.1,1588.8M926.8,1619.1L924.8,1618.3M922.9,1509.6L909.8,1500.4M860.1,1569.4L869.9,1564.8M928.6,1559.8L912.0,1552.7M876.1,1493.8L885.5,1495.1M857.5,1583.2L861.9,1587.5M924.1,1599.0L902.4,1601.5M885.2,1567.5L902.3,1570.2M868.7,1496.8L877.2,1502.4M868.7,1496.8L876.8,1485.3M877.0,1580.7L870.0,1601.8M879.2,1638.1L884.0,1632.4M926.3,1519.2L920.6,1520.2M928.9,1601.2L925.9,1590.9M927.5,1509.6L922.9,1509.6M853.4,1564.0L854.5,1545.8M875.6,1643.3L869.6,1633.1M918.0,1628.3L910.9,1626.0M877.2,1502.4L885.5,1495.1M931.5,1526.4L926.3,1519.2M889.8,1615.0L909.4,1610.5M920.6,1520.2L907.9,1520.3M892.3,1584.0L890.2,1594.7M894.9,1477.7L890.4,1483.9M877.2,1502.4L890.0,1505.4M853.4,1564.0L857.4,1549.2M920.9,1632.1L918.0,1628.3M854.5,1545.8L857.0,1526.7M884.1,1486.4L890.4,1483.9M885.2,1567.5L877.0,1580.7M862.7,1510.4L863.6,1516.6M857.4,1549.2L856.4,1544.4M869.6,1633.1L866.2,1618.0M934.8,1545.0L931.6,1540.5M864.3,1529.7L879.9,1520.6M873.8,1633.9L878.1,1626.9M928.9,1601.2L918.9,1614.0M884.1,1486.4L885.5,1495.1M935.6,1564.3L932.8,1555.4M903.8,1649.4L897.5,1645.4M890.2,1594.7L902.4,1601.5M890.4,1483.9L899.1,1484.6M894.5,1493.0L906.8,1507.7M920.6,1520.2L922.8,1525.2M879.3,1541.7L899.0,1548.8M856.4,1544.4L862.5,1539.8M885.5,1495.1L893.6,1492.7M866.4,1605.3L870.0,1601.8M860.1,1569.4L877.0,1580.7M928.6,1559.8L919.6,1570.3M912.0,1552.7L919.6,1570.3M866.2,1618.0L871.4,1616.2M857.0,1526.7L864.3,1529.7M918.9,1614.0L909.4,1610.5M862.5,1539.8L864.3,1529.7M857.0,1526.7L862.7,1510.4M935.6,1583.6L931.8,1578.8M909.8,1500.4L906.8,1507.7M897.5,1645.4L895.4,1636.2M931.5,1526.4L921.1,1538.3M909.4,1540.1L912.0,1552.7M922.8,1525.2L921.1,1538.3M858.2,1602.5L854.1,1584.8M894.5,1493.0L909.2,1499.1M903.0,1479.6L912.2,1486.1M890.2,1594.7L889.8,1615.0M899.1,1484.6L905.4,1486.5M863.6,1516.6L864.3,1529.7M922.9,1509.6L906.8,1507.7M854.1,1584.8L853.4,1564.0M924.1,1599.0L916.1,1588.8M885.4,1650.1L879.2,1638.1M907.9,1520.3L909.4,1540.1M877.8,1610.8L889.8,1615.0M905.5,1632.6L889.8,1615.0M905.4,1486.5L911.8,1491.9M927.2,1545.5L928.6,1559.8M931.8,1578.8L925.9,1590.9M862.5,1539.8L875.2,1551.4M878.1,1626.9L889.8,1615.0M867.7,1506.7L869.4,1519.7M871.4,1616.2L877.8,1610.8M861.9,1587.5L870.0,1601.8M890.0,1505.4L879.9,1520.6M876.1,1493.8L884.1,1486.4M912.2,1486.1L920.9,1497.8M909.2,1499.1L909.8,1500.4M893.1,1636.0L889.8,1615.0M856.1,1569.2L860.1,1569.4M902.4,1601.5L909.4,1610.5M902.3,1570.2L916.1,1588.8M868.7,1496.8L876.1,1493.8M911.8,1491.9L909.8,1500.4M890.6,1644.5L895.4,1636.2M875.2,1551.4L885.2,1567.5M920.6,1520.2L906.8,1507.7M876.8,1485.3L886.3,1479.1M899.0,1548.8L902.3,1570.2M920.9,1497.8L927.5,1509.6M875.6,1643.3L873.8,1633.9M932.6,1602.9L924.8,1618.3M876.8,1485.3L884.1,1486.4M927.2,1545.5L912.0,1552.7M886.3,1479.1L894.9,1477.7M853.4,1564.0L860.1,1569.4M922.9,1509.6L926.3,1519.2M854.5,1545.8L856.4,1544.4M918.0,1628.3L918.9,1614.0M925.9,1590.9L924.1,1599.0M893.6,1524.5L899.0,1548.8M857.4,1549.2L860.3,1554.5M869.6,1633.1L878.1,1626.9M890.6,1644.5L884.0,1632.4M922.9,1509.6L920.6,1520.2M860.3,1554.5L869.9,1564.8M877.2,1502.4L879.9,1520.6M928.9,1601.2L924.8,1618.3M935.6,1564.3L934.8,1545.0M927.5,1509.6L931.5,1526.4M890.4,1483.9L893.6,1492.7M869.6,1633.1L873.8,1633.9M909.4,1540.1L921.1,1538.3M877.0,1580.7L890.2,1594.7M873.8,1633.9L884.0,1632.4M931.5,1526.4L934.8,1545.0M928.9,1601.2L924.1,1599.0M894.9,1477.7L903.0,1479.6M903.8,1649.4L909.0,1639.4M879.9,1520.6L893.6,1524.5M894.5,1493.0L890.0,1505.4M857.5,1583.2L877.0,1580.7M924.8,1618.3L918.0,1628.3M869.9,1564.8L877.0,1580.7M857.0,1526.7L863.6,1516.6M918.0,1628.3L905.5,1632.6M931.5,1526.4L931.6,1540.5M879.3,1541.7L875.2,1551.4M862.7,1510.4L868.7,1496.8M894.9,1477.7L899.1,1484.6M920.9,1632.1L909.0,1639.4M928.8,1573.7L919.6,1570.3M857.0,1526.7L862.5,1539.8M906.8,1507.7L907.9,1520.3M903.0,1479.6L905.4,1486.5M884.0,1632.4L878.1,1626.9M862.7,1510.4L867.7,1506.7M899.1,1484.6L894.5,1493.0M866.4,1605.3L877.8,1610.8M862.3,1618.5L866.2,1618.0M862.5,1539.8L879.3,1541.7M910.9,1626.0L909.4,1610.5M858.2,1602.5L866.4,1605.3M861.9,1587.5L877.0,1580.7M931.6,1540.5L927.2,1545.5M912.5,1642.6L903.8,1649.4M910.9,1626.0L905.5,1632.6M854.1,1584.8L856.1,1569.2M879.9,1520.6L879.3,1541.7M890.2,1594.7L877.8,1610.8M893.8,1651.8L897.5,1645.4M932.8,1555.4L928.6,1559.8M893.6,1524.5L907.9,1520.3M902.3,1570.2L919.6,1570.3M909.0,1639.4L895.4,1636.2M935.6,1583.6L925.9,1590.9M909.2,1499.1L906.8,1507.7M935.6,1583.6L932.6,1602.9M905.4,1486.5L909.2,1499.1M854.1,1584.8L861.9,1587.5M860.2,1602.0L866.4,1605.3M931.8,1578.8L932.2,1584.0M899.0,1548.8L912.0,1552.7M876.1,1493.8L877.2,1502.4M885.4,1650.1L890.6,1644.5M860.2,1602.0L861.9,1587.5M912.2,1486.1L911.8,1491.9M931.8,1578.8L928.8,1573.7M927.2,1545.5L921.1,1538.3M878.1,1626.9L877.8,1610.8M925.9,1590.9L916.1,1588.8M890.0,1505.4L906.8,1507.7M905.5,1632.6L895.4,1636.2M893.6,1524.5L909.4,1540.1M902.4,1601.5L889.8,1615.0M920.9,1497.8L922.9,1509.6M902.3,1570.2L892.3,1584.0M868.7,1496.8L867.7,1506.7M863.6,1516.6L869.4,1519.7M884.0,1632.4L889.8,1615.0M860.3,1554.5L875.2,1551.4M932.6,1602.9L926.8,1619.1M926.8,1619.1L918.0,1628.3M886.3,1479.1L890.4,1483.9M895.4,1636.2L893.1,1636.0M899.0,1548.8L885.2,1567.5M853.4,1564.0L856.1,1569.2M875.6,1643.3L879.2,1638.1M857.5,1583.2L860.1,1569.4M932.6,1602.9L928.9,1601.2M924.1,1599.0L918.9,1614.0M926.8,1619.1L920.9,1632.1M890.6,1644.5L879.2,1638.1M922.8,1525.2L907.9,1520.3M890.0,1505.4L893.6,1524.5M926.3,1519.2L922.8,1525.2M854.5,1545.8L857.4,1549.2M869.9,1564.8L885.2,1567.5M912.2,1486.1L905.4,1486.5M927.5,1509.6L926.3,1519.2M867.7,1506.7L879.9,1520.6M890.6,1644.5L893.1,1636.0M879.2,1638.1L873.8,1633.9M892.3,1584.0L902.4,1601.5M885.5,1495.1L890.0,1505.4M866.2,1618.0L878.1,1626.9M912.0,1552.7L902.3,1570.2M924.8,1618.3L918.9,1614.0M893.1,1636.0L884.0,1632.4M924.1,1599.0L909.4,1610.5M918.0,1628.3L909.0,1639.4M931.5,1526.4L922.8,1525.2M885.2,1567.5L892.3,1584.0M920.9,1632.1L912.5,1642.6M934.8,1545.0L932.8,1555.4M853.4,1564.0L860.3,1554.5M860.1,1569.4L860.3,1554.5M909.4,1540.1L899.0,1548.8M869.4,1519.7L879.9,1520.6M922.8,1525.2L909.4,1540.1M918.9,1614.0L910.9,1626.0M857.0,1526.7L856.4,1544.4M884.1,1486.4L893.6,1492.7M935.6,1564.3L928.8,1573.7M931.6,1540.5L921.1,1538.3M935.6,1564.3L935.6,1583.6M860.2,1602.0L870.0,1601.8M857.4,1549.2L862.5,1539.8M934.8,1545.0L927.2,1545.5M878.1,1626.9L871.4,1616.2M869.6,1633.1L862.3,1618.5M921.1,1538.3L912.0,1552.7M858.2,1602.5L860.2,1602.0M875.2,1551.4L899.0,1548.8M912.5,1642.6L909.0,1639.4M903.0,1479.6L899.1,1484.6M870.0,1601.8L890.2,1594.7M935.6,1564.3L928.6,1559.8M935.6,1564.3L931.8,1578.8M906.8,1507.7L893.6,1524.5M903.8,1649.4L893.8,1651.8M866.2,1618.0L866.4,1605.3M893.6,1492.7L890.0,1505.4M899.1,1484.6L893.6,1492.7M910.9,1626.0L889.8,1615.0M909.0,1639.4L897.5,1645.4M935.6,1583.6L932.2,1584.0M854.1,1584.8L857.5,1583.2M864.3,1529.7L879.3,1541.7M860.3,1554.5L862.5,1539.8M916.1,1588.8L902.4,1601.5M932.8,1555.4L927.2,1545.5M909.0,1639.4L905.5,1632.6M905.4,1486.5L894.5,1493.0M895.4,1636.2L889.8,1615.0M897.5,1645.4L890.6,1644.5M862.3,1618.5L866.4,1605.3M871.4,1616.2L866.4,1605.3M862.3,1618.5L858.2,1602.5M911.8,1491.9L909.2,1499.1M893.6,1492.7L894.5,1493.0M932.2,1584.0L925.9,1590.9M875.2,1551.4L869.9,1564.8M870.0,1601.8L877.8,1610.8M931.8,1578.8L916.1,1588.8M920.9,1497.8L909.8,1500.4M893.8,1651.8L885.4,1650.1" stroke="#ffffff" stroke-width="0.8" fill="none" opacity="0.7"/>
<path d="M990.7,1467.7L982.5,1464.5M948.0,1444.8L950.3,1442.7M941.3,1471.0L945.8,1467.7M946.9,1471.1L945.8,1467.7M954.4,1431.0L952.5,1435.8M945.9,1442.1L947.1,1439.0M947.1,1439.0L953.7,1437.7M967.3,1487.8L967.4,1485.8M986.0,1435.1L984.2,1435.5M992.1,1462.9L992.5,1456.6M960.8,1486.4L960.9,1481.8M960.8,1486.4L955.3,1485.3M994.1,1469.9L990.7,1467.7M991.6,1476.7L986.1,1480.0M961.6,1428.8L956.5,1432.6M986.6,1438.6L981.2,1437.4M940.6,1466.7L945.8,1467.7M940.5,1457.3L940.5,1452.8M950.3,1442.7L953.7,1437.7M949.3,1434.9L954.4,1431.0M990.8,1447.2L981.8,1450.8M959.7,1484.3L960.9,1481.8M970.2,1482.9L968.6,1479.4M981.8,1450.8L982.5,1464.5M991.7,1439.3L986.6,1438.6M937.2,1458.4L938.6,1451.3M955.3,1485.3L949.8,1481.1M980.6,1482.9L979.0,1480.0M953.7,1437.7L963.0,1434.1M995.1,1444.7L993.7,1444.5M943.6,1459.8L948.6,1465.1M992.5,1456.6L981.8,1450.8M986.8,1481.8L980.6,1482.9M967.8,1428.0L965.5,1430.0M937.2,1458.4L940.5,1452.8M977.3,1481.0L980.1,1471.5M950.0,1474.4L957.5,1465.9M938.6,1451.3L940.7,1445.7M945.0,1440.4L945.9,1442.1M940.5,1452.8L942.0,1447.1M949.8,1481.1L948.1,1476.8M970.5,1461.6L968.6,1479.4M998.3,1450.2L994.9,1449.6M950.3,1442.7L949.4,1448.3M953.9,1483.5L955.2,1478.0M994.9,1449.6L990.8,1447.2M990.1,1475.4L984.0,1476.6M956.5,1432.6L963.0,1434.1M997.4,1458.9L994.9,1453.3M948.1,1476.8L945.3,1474.2M974.4,1487.2L974.1,1484.9M965.5,1430.0L968.8,1429.9M985.7,1440.9L990.8,1447.2M982.5,1464.5L980.1,1471.5M963.0,1434.1L967.7,1434.8M942.0,1447.1L945.3,1450.2M980.9,1484.6L980.6,1482.9M949.4,1448.3L963.9,1454.8M948.1,1476.8L950.0,1474.4M945.3,1450.2L948.0,1444.8M940.7,1445.7L945.0,1440.4M996.5,1464.8L995.7,1461.4M990.8,1447.2L990.9,1450.6M974.1,1484.9L970.2,1482.9M944.2,1476.7L945.3,1474.2M941.3,1471.0L938.8,1465.1M973.0,1434.2L978.4,1435.7M974.3,1428.7L980.4,1431.8M963.9,1454.8L970.5,1461.6M979.4,1433.1L981.2,1437.4M941.3,1471.0L940.6,1466.7M996.5,1464.8L991.6,1476.7M992.5,1456.6L982.5,1464.5M995.6,1466.1L992.1,1462.9M938.8,1465.1L943.6,1459.8M945.9,1442.1L948.0,1444.8M938.8,1465.1L937.2,1458.4M947.1,1439.0L952.5,1435.8M960.8,1486.4L959.7,1484.3M981.2,1437.4L981.8,1450.8M979.4,1433.1L984.2,1435.5M994.1,1469.9L995.6,1466.1M990.9,1450.6L992.5,1456.6M947.1,1439.0L950.3,1442.7M984.2,1435.5L986.6,1438.6M970.8,1437.7L963.9,1454.8M952.5,1435.8L956.5,1432.6M960.8,1486.4L964.8,1482.3M978.4,1435.7L981.2,1437.4M980.4,1431.8L986.0,1435.1M946.9,1471.1L948.6,1465.1M991.6,1476.7L990.1,1475.4M940.5,1457.3L943.6,1459.8M949.3,1434.9L952.5,1435.8M967.4,1485.8L970.2,1482.9M984.2,1435.5L981.2,1437.4M984.0,1476.6L980.1,1471.5M954.4,1431.0L961.6,1428.8M967.3,1487.8L955.3,1485.3M981.2,1437.4L985.7,1440.9M986.0,1435.1L991.7,1439.3M992.1,1462.9L990.7,1467.7M955.3,1485.3L953.9,1483.5M954.4,1431.0L956.5,1432.6M945.3,1450.2L949.4,1448.3M961.6,1428.8L967.8,1428.0M937.2,1458.4L943.6,1459.8M938.6,1451.3L942.0,1447.1M990.7,1467.7L988.5,1472.2M957.5,1465.9L970.5,1461.6M985.7,1440.9L981.8,1450.8M940.5,1452.8L944.0,1453.7M986.8,1481.8L986.1,1480.0M949.8,1481.1L955.2,1478.0M986.6,1438.6L985.7,1440.9M979.0,1480.0L980.1,1471.5M977.3,1481.0L968.6,1479.4M993.7,1444.5L994.9,1449.6M990.1,1475.4L986.1,1480.0M953.7,1437.7L963.9,1454.8M991.7,1439.3L990.8,1447.2M997.4,1458.9L998.3,1450.2M986.1,1480.0L979.0,1480.0M965.5,1430.0L967.7,1434.8M949.8,1481.1L953.9,1483.5M970.5,1461.6L982.5,1464.5M955.2,1478.0L968.6,1479.4M945.8,1467.7L948.6,1465.1M990.9,1450.6L981.8,1450.8M991.7,1439.3L995.1,1444.7M953.9,1483.5L960.9,1481.8M995.1,1444.7L998.3,1450.2M990.1,1475.4L988.5,1472.2M964.8,1482.3L968.6,1479.4M967.8,1428.0L974.3,1428.7M974.4,1487.2L977.2,1483.8M963.9,1454.8L981.8,1450.8M986.1,1480.0L980.6,1482.9M973.0,1434.2L970.8,1437.7M980.6,1482.9L977.3,1481.0M940.7,1445.7L945.9,1442.1M957.5,1465.9L968.6,1479.4M995.1,1444.7L994.9,1449.6M944.0,1453.7L948.6,1465.1M945.0,1440.4L949.3,1434.9M967.8,1428.0L968.8,1429.9M994.9,1449.6L994.9,1453.3M949.4,1448.3L948.6,1465.1M945.3,1474.2L950.0,1474.4M981.2,1437.4L970.8,1437.7M960.9,1481.8L955.2,1478.0M974.3,1428.7L979.4,1433.1M974.1,1484.9L977.3,1481.0M945.0,1440.4L947.1,1439.0M968.8,1429.9L973.0,1434.2M944.2,1476.7L948.1,1476.8M941.3,1471.0L946.9,1471.1M994.9,1449.6L990.9,1450.6M974.3,1428.7L973.0,1434.2M980.9,1484.6L974.4,1487.2M979.0,1480.0L977.3,1481.0M974.4,1487.2L967.4,1485.8M963.9,1454.8L957.5,1465.9M994.9,1453.3L992.5,1456.6M979.4,1433.1L978.4,1435.7M988.5,1472.2L982.5,1464.5M996.5,1464.8L994.1,1469.9M992.1,1462.9L982.5,1464.5M942.0,1447.1L948.0,1444.8M952.5,1435.8L953.7,1437.7M960.8,1486.4L967.4,1485.8M948.6,1465.1L957.5,1465.9M980.4,1431.8L984.2,1435.5M995.7,1461.4L992.1,1462.9M977.3,1481.0L970.2,1482.9M981.8,1450.8L970.5,1461.6M986.0,1435.1L986.6,1438.6M949.3,1434.9L947.1,1439.0M994.1,1469.9L988.5,1472.2M994.1,1469.9L991.6,1476.7M945.9,1442.1L950.3,1442.7M961.6,1428.8L965.5,1430.0M970.2,1482.9L964.8,1482.3M937.2,1458.4L940.5,1457.3M955.2,1478.0L957.5,1465.9M955.3,1485.3L959.7,1484.3M950.0,1474.4L948.6,1465.1M940.6,1466.7L943.6,1459.8M994.1,1469.9L990.1,1475.4M961.6,1428.8L963.0,1434.1M988.5,1472.2L984.0,1476.6M991.6,1476.7L986.8,1481.8M970.8,1437.7L981.8,1450.8M948.0,1444.8L949.4,1448.3M993.7,1444.5L990.8,1447.2M938.6,1451.3L940.5,1452.8M956.5,1432.6L953.7,1437.7M940.5,1457.3L944.0,1453.7M991.7,1439.3L993.7,1444.5M944.0,1453.7L949.4,1448.3M967.4,1485.8L964.8,1482.3M959.7,1484.3L953.9,1483.5M945.8,1467.7L943.6,1459.8M963.0,1434.1L970.8,1437.7M948.1,1476.8L955.2,1478.0M986.1,1480.0L984.0,1476.6M965.5,1430.0L963.0,1434.1M964.8,1482.3L960.9,1481.8M991.7,1439.3L985.7,1440.9M980.6,1482.9L977.2,1483.8M984.0,1476.6L979.0,1480.0M970.5,1461.6L980.1,1471.5M986.8,1481.8L980.9,1484.6M943.6,1459.8L944.0,1453.7M998.3,1450.2L994.9,1453.3M950.3,1442.7L963.9,1454.8M940.7,1445.7L942.0,1447.1M960.9,1481.8L968.6,1479.4M997.4,1458.9L996.5,1464.8M940.5,1452.8L945.3,1450.2M955.2,1478.0L950.0,1474.4M949.8,1481.1L944.2,1476.7M941.3,1471.0L945.3,1474.2M968.6,1479.4L980.1,1471.5M980.9,1484.6L977.2,1483.8M974.3,1428.7L968.8,1429.9M997.4,1458.9L992.5,1456.6M963.0,1434.1L963.9,1454.8M997.4,1458.9L995.7,1461.4M967.7,1434.8L970.8,1437.7M974.4,1487.2L967.3,1487.8M968.8,1429.9L967.7,1434.8M940.7,1445.7L949.3,1434.9M977.2,1483.8L974.1,1484.9M996.5,1464.8L995.6,1466.1M942.0,1447.1L945.9,1442.1M938.8,1465.1L940.6,1466.7M944.0,1453.7L945.3,1450.2M978.4,1435.7L970.8,1437.7M994.9,1453.3L990.9,1450.6M977.2,1483.8L977.3,1481.0M996.5,1464.8L992.1,1462.9M979.4,1433.1L973.0,1434.2M974.1,1484.9L967.4,1485.8M995.7,1461.4L992.5,1456.6M950.0,1474.4L946.9,1471.1M944.2,1476.7L941.3,1471.0M967.7,1434.8L973.0,1434.2M988.5,1472.2L980.1,1471.5M995.6,1466.1L990.7,1467.7M949.4,1448.3L957.5,1465.9M945.3,1474.2L946.9,1471.1M980.4,1431.8L979.4,1433.1M967.3,1487.8L960.8,1486.4" stroke="#ffffff" stroke-width="0.95" fill="none" opacity="0.95"/>
<path d="M950.0,1446.0L951.5,1445.2M943.3,1472.2L947.1,1467.8M988.9,1446.1L980.4,1443.4M950.0,1473.3L947.1,1467.8M956.6,1434.4L953.7,1437.1M972.2,1482.9L979.6,1470.8M970.3,1458.4L964.7,1475.8M968.0,1483.1L964.7,1475.8M969.0,1488.5L964.2,1486.0M992.8,1462.1L993.9,1459.8M987.7,1437.0L982.2,1436.4M962.8,1488.1L956.0,1485.7M943.3,1466.8L943.5,1464.4M992.4,1477.9L990.6,1476.0M963.0,1431.6L960.5,1433.7M986.7,1438.7L981.9,1439.0M943.3,1466.8L947.1,1467.8M953.7,1437.1L958.1,1443.4M943.5,1464.4L942.3,1458.9M951.3,1437.3L956.6,1434.4M948.2,1449.5L956.6,1455.1M962.1,1485.9L959.0,1481.5M992.4,1443.2L987.5,1444.2M959.0,1481.5L964.7,1475.8M992.8,1441.6L986.7,1438.7M940.4,1459.0L940.6,1453.1M956.0,1485.7L951.3,1482.2M956.6,1434.4L960.9,1436.2M984.2,1482.1L982.9,1479.4M957.2,1438.0L960.9,1436.2M995.2,1446.8L992.4,1443.2M957.2,1438.0L958.1,1443.4M969.4,1430.6L969.2,1433.3M986.6,1481.9L984.2,1482.1M940.4,1459.0L942.3,1458.9M990.6,1476.0L990.2,1471.7M951.2,1475.2L964.7,1475.8M940.6,1453.1L942.8,1447.0M945.9,1442.2L945.4,1447.5M942.3,1458.9L943.5,1453.0M986.6,1481.9L987.3,1475.0M997.7,1453.1L995.0,1448.1M951.3,1482.2L949.4,1479.1M991.3,1451.8L985.0,1454.3M955.2,1480.9L957.4,1479.0M995.0,1448.1L988.9,1446.1M960.5,1433.7L960.9,1436.2M998.3,1459.0L996.5,1459.2M975.8,1488.7L974.0,1486.3M970.7,1436.2L980.4,1443.4M969.2,1433.3L973.8,1433.5M987.5,1444.2L988.9,1446.1M960.9,1436.2L967.9,1435.5M943.5,1453.0L948.2,1449.5M990.2,1471.7L979.6,1470.8M982.3,1485.8L984.2,1482.1M949.4,1479.1L951.2,1475.2M975.8,1488.7L978.5,1482.5M948.2,1449.5L950.0,1446.0M942.8,1447.0L945.9,1442.2M981.9,1439.0L980.4,1443.4M988.9,1446.1L991.3,1451.8M998.5,1466.1L996.7,1466.1M974.0,1486.3L972.2,1482.9M947.3,1477.4L947.7,1475.0M996.7,1466.1L996.5,1459.2M943.3,1472.2L941.6,1466.0M970.7,1436.2L977.7,1438.3M975.5,1431.1L982.2,1432.7M970.7,1436.2L970.3,1458.4M947.3,1477.4L951.2,1475.2M973.8,1433.5L975.9,1432.2M950.0,1473.3L956.6,1455.1M943.3,1472.2L943.3,1466.8M945.4,1447.5L950.0,1446.0M941.6,1466.0L940.4,1459.0M969.0,1488.5L972.2,1482.9M949.4,1441.1L953.7,1437.1M996.5,1459.2L992.8,1462.1M962.8,1488.1L962.1,1485.9M985.0,1454.3L979.6,1470.8M975.9,1432.2L982.2,1436.4M995.7,1471.8L995.7,1466.4M991.3,1451.8L993.9,1459.8M996.7,1466.1L992.9,1464.5M949.4,1441.1L951.5,1445.2M972.2,1482.9L964.7,1475.8M982.2,1436.4L986.7,1438.7M958.1,1443.4L956.6,1455.1M977.7,1438.3L981.9,1439.0M982.2,1432.7L987.7,1437.0M943.5,1464.4L945.7,1460.3M987.5,1444.2L980.4,1443.4M992.4,1477.9L991.1,1476.1M982.2,1436.4L981.9,1439.0M951.3,1437.3L953.7,1437.1M956.6,1434.4L963.0,1431.6M978.5,1482.5L979.6,1470.8M981.9,1439.0L987.5,1444.2M987.7,1437.0L992.8,1441.6M992.8,1462.1L992.9,1464.5M956.0,1485.7L955.2,1480.9M947.1,1467.8L956.6,1455.1M956.6,1434.4L960.5,1433.7M963.0,1431.6L967.9,1435.5M992.4,1477.9L982.3,1485.8M963.0,1431.6L969.4,1430.6M956.0,1485.7L959.0,1481.5M940.6,1453.1L943.5,1453.0M992.9,1464.5L990.2,1471.7M964.7,1475.8L979.6,1470.8M942.3,1458.9L945.6,1457.3M945.6,1457.3L956.6,1455.1M964.2,1486.0L959.0,1481.5M986.7,1438.7L987.5,1444.2M986.6,1481.9L990.6,1476.0M969.0,1488.5L962.8,1488.1M991.1,1476.1L990.6,1476.0M998.3,1459.0L997.7,1453.1M992.8,1441.6L995.2,1446.8M969.2,1433.3L967.9,1435.5M951.3,1482.2L955.2,1480.9M951.5,1445.2L958.1,1443.4M955.2,1480.9L959.0,1481.5M995.2,1446.8L997.7,1453.1M991.1,1476.1L990.2,1471.7M969.4,1430.6L975.5,1431.1M975.8,1488.7L981.0,1484.1M956.6,1455.1L970.3,1458.4M970.7,1436.2L958.1,1443.4M942.8,1447.0L945.4,1447.5M981.0,1484.1L982.9,1479.4M998.5,1466.1L996.5,1459.2M995.2,1446.8L995.0,1448.1M943.5,1453.0L945.6,1457.3M945.9,1442.2L951.3,1437.3M997.7,1453.1L993.9,1459.8M969.4,1430.6L973.8,1433.5M980.4,1443.4L985.0,1454.3M975.5,1431.1L975.9,1432.2M959.0,1481.5L957.4,1479.0M947.7,1475.0L951.2,1475.2M945.9,1442.2L949.4,1441.1M974.0,1486.3L978.5,1482.5M973.8,1433.5L970.7,1436.2M947.3,1477.4L949.4,1479.1M992.9,1464.5L979.6,1470.8M943.3,1472.2L950.0,1473.3M955.2,1480.9L951.2,1475.2M995.0,1448.1L991.3,1451.8M982.3,1485.8L975.8,1488.7M982.9,1479.4L978.5,1482.5M941.6,1466.0L943.5,1464.4M956.6,1455.1L964.7,1475.8M969.0,1488.5L974.0,1486.3M970.3,1458.4L985.0,1454.3M977.7,1438.3L980.4,1443.4M996.5,1459.2L993.9,1459.8M975.9,1432.2L977.7,1438.3M998.5,1466.1L995.7,1471.8M987.3,1475.0L979.6,1470.8M945.4,1447.5L948.2,1449.5M996.7,1466.1L995.7,1466.4M995.7,1466.4L990.2,1471.7M953.7,1437.1L957.2,1438.0M948.2,1449.5L951.5,1445.2M962.8,1488.1L964.2,1486.0M982.2,1432.7L982.2,1436.4M995.7,1471.8L996.7,1466.1M996.7,1466.1L992.8,1462.1M978.5,1482.5L972.2,1482.9M970.3,1458.4L979.6,1470.8M943.5,1464.4L947.1,1467.8M987.7,1437.0L986.7,1438.7M951.3,1437.3L949.4,1441.1M995.7,1471.8L990.2,1471.7M956.6,1434.4L957.2,1438.0M995.7,1471.8L992.4,1477.9M963.0,1431.6L969.2,1433.3M972.2,1482.9L968.0,1483.1M940.4,1459.0L943.5,1464.4M957.4,1479.0L964.7,1475.8M956.0,1485.7L962.1,1485.9M995.7,1471.8L991.1,1476.1M963.0,1431.6L960.9,1436.2M990.2,1471.7L987.3,1475.0M992.4,1477.9L986.6,1481.9M964.2,1486.0L962.1,1485.9M988.9,1446.1L985.0,1454.3M958.1,1443.4L970.3,1458.4M992.4,1443.2L988.9,1446.1M940.6,1453.1L942.3,1458.9M950.0,1473.3L964.7,1475.8M992.8,1441.6L992.4,1443.2M942.3,1458.9L945.7,1460.3M945.7,1460.3L956.6,1455.1M964.2,1486.0L968.0,1483.1M993.9,1459.8L985.0,1454.3M947.1,1467.8L945.7,1460.3M992.8,1441.6L987.5,1444.2M960.9,1436.2L958.1,1443.4M990.6,1476.0L987.3,1475.0M968.0,1483.1L959.0,1481.5M984.2,1482.1L981.0,1484.1M995.2,1446.8L988.9,1446.1M986.6,1481.9L982.9,1479.4M987.3,1475.0L982.9,1479.4M997.7,1453.1L996.5,1459.2M986.6,1481.9L982.3,1485.8M945.7,1460.3L945.6,1457.3M951.5,1445.2L956.6,1455.1M942.8,1447.0L943.5,1453.0M945.9,1442.2L950.0,1446.0M992.8,1462.1L985.0,1454.3M998.3,1459.0L998.5,1466.1M997.7,1453.1L991.3,1451.8M957.4,1479.0L951.2,1475.2M951.3,1482.2L947.3,1477.4M943.3,1472.2L947.7,1475.0M955.2,1480.9L949.4,1479.1M982.3,1485.8L981.0,1484.1M980.4,1443.4L970.3,1458.4M967.9,1435.5L958.1,1443.4M975.5,1431.1L973.8,1433.5M969.2,1433.3L970.7,1436.2M975.8,1488.7L969.0,1488.5M943.5,1453.0L945.4,1447.5M941.6,1466.0L943.3,1466.8M949.4,1441.1L950.0,1446.0M945.6,1457.3L948.2,1449.5M981.0,1484.1L978.5,1482.5M992.8,1462.1L979.6,1470.8M951.2,1475.2L950.0,1473.3M947.3,1477.4L943.3,1472.2M982.2,1436.4L977.7,1438.3M967.9,1435.5L970.7,1436.2M995.7,1466.4L992.9,1464.5M982.9,1479.4L979.6,1470.8M953.7,1437.1L951.5,1445.2M947.7,1475.0L950.0,1473.3M982.2,1432.7L975.9,1432.2M969.0,1488.5L968.0,1483.1M973.8,1433.5L977.7,1438.3" stroke="#ffffff" stroke-width="0.8" fill="none" opacity="0.7"/>
<path d="M937.3,1507.9L941.6,1502.1M932.7,1525.7L936.8,1523.8M938.1,1526.4L936.8,1523.8M970.2,1506.0L964.9,1508.6M943.4,1495.7L941.7,1500.2M937.6,1503.1L937.6,1502.3M956.5,1535.2L961.8,1526.1M954.2,1516.8L946.7,1528.2M951.1,1534.4L946.7,1528.2M968.4,1497.9L964.4,1497.7M973.8,1517.0L973.2,1516.0M949.0,1537.7L949.3,1533.7M949.0,1537.7L943.9,1536.6M954.2,1539.2L952.7,1538.5M971.8,1529.8L969.4,1531.4M949.1,1493.2L946.6,1496.6M967.3,1499.6L964.8,1501.7M932.8,1520.7L936.8,1523.8M941.6,1502.1L942.1,1501.8M939.6,1497.9L943.4,1495.7M937.3,1507.9L945.9,1503.8M935.8,1509.3L943.1,1516.1M946.3,1536.2L949.3,1533.7M970.0,1503.5L967.3,1502.1M949.3,1533.7L946.7,1528.2M971.7,1502.0L967.3,1499.6M930.2,1515.8L931.3,1511.0M943.9,1536.6L945.8,1533.1M943.9,1536.6L939.4,1533.6M964.7,1535.3L961.4,1532.7M974.4,1505.6L970.0,1503.5M969.0,1533.9L964.7,1535.3M942.1,1501.8L945.9,1503.8M953.6,1493.5L953.4,1494.2M941.2,1529.2L946.7,1528.2M931.3,1511.0L934.2,1506.5M969.0,1533.9L967.6,1529.3M935.4,1501.1L937.6,1503.1M939.4,1533.6L938.9,1530.1M976.0,1511.9L973.0,1507.7M933.7,1511.0L934.4,1508.5M937.3,1507.9L943.1,1516.1M972.0,1511.1L966.3,1510.7M940.6,1531.9L945.8,1533.1M964.0,1536.5L961.4,1532.7M973.0,1507.7L970.2,1506.0M946.6,1496.6L949.1,1497.9M977.2,1516.1L974.7,1514.4M938.9,1530.1L936.5,1527.5M946.6,1496.6L945.9,1503.8M953.4,1494.2L955.2,1495.1M967.3,1502.1L970.2,1506.0M949.1,1497.9L953.1,1497.4M970.5,1525.2L961.8,1526.1M964.0,1536.5L964.7,1535.3M934.4,1508.5L935.8,1509.3M938.9,1530.1L941.2,1529.2M934.2,1506.5L937.3,1507.9M934.2,1506.5L935.4,1501.1M935.8,1509.3L937.3,1507.9M976.3,1520.6L974.5,1520.1M970.2,1506.0L972.0,1511.1M964.8,1501.7L964.9,1508.6M953.9,1536.1L956.5,1535.2M935.3,1530.4L936.5,1527.5M932.7,1525.7L932.0,1519.9M959.6,1493.8L957.7,1498.3M955.1,1497.6L957.7,1498.3M959.6,1493.8L962.6,1495.7M938.1,1526.4L943.1,1516.1M932.7,1525.7L932.8,1520.7M976.3,1520.6L971.8,1529.8M937.6,1503.1L937.3,1507.9M932.0,1519.9L935.9,1519.3M932.0,1519.9L930.2,1515.8M954.2,1539.2L956.5,1535.2M937.6,1502.3L941.7,1500.2M974.7,1514.4L973.8,1517.0M949.0,1537.7L946.3,1536.2M966.3,1510.7L961.8,1526.1M973.7,1525.9L973.4,1523.7M972.0,1511.1L973.2,1516.0M971.8,1529.8L970.5,1525.2M974.5,1520.1L971.7,1522.5M937.6,1502.3L941.6,1502.1M964.4,1497.7L967.3,1499.6M945.9,1503.8L943.1,1516.1M949.0,1537.7L951.1,1534.4M941.7,1500.2L946.6,1496.6M957.7,1498.3L964.8,1501.7M931.3,1511.0L933.1,1516.1M962.6,1495.7L968.4,1497.9M933.1,1516.1L935.9,1519.3M971.8,1529.8L973.3,1526.2M967.3,1502.1L964.9,1508.6M964.4,1497.7L964.8,1501.7M939.6,1497.9L941.7,1500.2M959.5,1534.1L961.8,1526.1M943.4,1495.7L949.1,1493.2M954.2,1539.2L943.9,1536.6M968.4,1497.9L971.7,1502.0M964.8,1501.7L967.3,1502.1M973.8,1517.0L971.7,1522.5M943.9,1536.6L940.6,1531.9M936.8,1523.8L943.1,1516.1M943.4,1495.7L946.6,1496.6M949.1,1493.2L953.1,1497.4M949.1,1493.2L953.6,1493.5M951.1,1534.4L961.8,1526.1M931.3,1511.0L934.4,1508.5M964.7,1535.3L967.6,1529.3M971.7,1522.5L970.5,1525.2M946.7,1528.2L961.8,1526.1M933.7,1511.0L935.0,1514.4M969.0,1533.9L969.4,1531.4M935.0,1514.4L943.1,1516.1M967.3,1499.6L967.3,1502.1M931.3,1511.0L935.0,1514.4M954.2,1539.2L949.0,1537.7M977.2,1516.1L976.0,1511.9M971.7,1502.0L974.4,1505.6M953.4,1494.2L953.1,1497.4M939.4,1533.6L940.6,1531.9M971.7,1522.5L966.3,1510.7M941.6,1502.1L945.9,1503.8M946.3,1536.2L945.8,1533.1M974.4,1505.6L976.0,1511.9M973.3,1526.2L970.5,1525.2M953.6,1493.5L959.6,1493.8M959.2,1538.2L959.5,1536.4M943.1,1516.1L954.2,1516.8M955.1,1497.6L945.9,1503.8M934.2,1506.5L937.6,1503.1M959.5,1536.4L961.4,1532.7M974.4,1505.6L973.0,1507.7M935.4,1501.1L939.6,1497.9M953.6,1493.5L955.2,1495.1M964.9,1508.6L966.3,1510.7M959.6,1493.8L960.9,1495.2M949.3,1533.7L945.8,1533.1M935.4,1501.1L937.6,1502.3M955.2,1495.1L955.1,1497.6M935.3,1530.4L938.9,1530.1M971.7,1522.5L961.8,1526.1M940.6,1531.9L941.2,1529.2M973.0,1507.7L972.0,1511.1M961.4,1532.7L959.5,1534.1M964.0,1536.5L959.2,1538.2M932.0,1519.9L933.1,1516.1M943.1,1516.1L946.7,1528.2M954.2,1539.2L953.9,1536.1M954.2,1516.8L966.3,1510.7M957.7,1498.3L964.9,1508.6M974.7,1514.4L973.2,1516.0M959.5,1536.4L956.5,1535.2M960.9,1495.2L957.7,1498.3M976.3,1520.6L973.7,1525.9M934.4,1508.5L937.3,1507.9M967.6,1529.3L961.8,1526.1M974.5,1520.1L973.4,1523.7M973.4,1523.7L970.5,1525.2M941.7,1500.2L942.1,1501.8M949.0,1537.7L952.7,1538.5M936.5,1527.5L936.8,1523.8M962.6,1495.7L964.4,1497.7M971.7,1522.5L973.2,1516.0M953.9,1536.1L951.1,1534.4M974.5,1520.1L973.8,1517.0M932.7,1525.7L930.2,1515.8M973.4,1523.7L973.3,1526.2M962.6,1495.7L957.7,1498.3M959.5,1534.1L956.5,1535.2M954.2,1516.8L961.8,1526.1M968.4,1497.9L967.3,1499.6M957.7,1498.3L954.2,1516.8M939.6,1497.9L937.6,1502.3M973.7,1525.9L971.8,1529.8M937.6,1503.1L941.6,1502.1M949.1,1493.2L953.4,1494.2M956.5,1535.2L951.1,1534.4M930.2,1515.8L933.1,1516.1M945.8,1533.1L946.7,1528.2M943.9,1536.6L946.3,1536.2M932.8,1520.7L935.9,1519.3M973.7,1525.9L973.3,1526.2M971.8,1529.8L967.6,1529.3M949.1,1493.2L949.1,1497.9M970.5,1525.2L967.6,1529.3M971.8,1529.8L969.0,1533.9M970.2,1506.0L966.3,1510.7M945.9,1503.8L954.2,1516.8M970.0,1503.5L970.2,1506.0M931.3,1511.0L933.7,1511.0M946.6,1496.6L942.1,1501.8M938.1,1526.4L946.7,1528.2M935.9,1519.3L943.1,1516.1M933.1,1516.1L935.0,1514.4M971.7,1502.0L970.0,1503.5M952.7,1538.5L951.1,1534.4M936.8,1523.8L935.9,1519.3M973.2,1516.0L966.3,1510.7M949.1,1497.9L945.9,1503.8M977.2,1516.1L974.4,1505.6M969.4,1531.4L967.6,1529.3M951.1,1534.4L949.3,1533.7M971.7,1502.0L967.3,1502.1M931.3,1511.0L935.4,1501.1M974.4,1505.6L970.2,1506.0M967.6,1529.3L961.4,1532.7M969.0,1533.9L964.0,1536.5M976.0,1511.9L974.7,1514.4M935.9,1519.3L935.0,1514.4M934.2,1506.5L934.4,1508.5M977.2,1516.1L973.8,1517.0M977.2,1516.1L976.3,1520.6M933.7,1511.0L935.8,1509.3M976.0,1511.9L972.0,1511.1M945.8,1533.1L941.2,1529.2M939.4,1533.6L935.3,1530.4M932.7,1525.7L936.5,1527.5M940.6,1531.9L938.9,1530.1M964.0,1536.5L959.5,1536.4M964.9,1508.6L954.2,1516.8M953.1,1497.4L945.9,1503.8M938.9,1530.1L938.1,1526.4M977.2,1516.1L974.5,1520.1M959.2,1538.2L956.5,1535.2M959.2,1538.2L954.2,1539.2M959.6,1493.8L955.2,1495.1M955.2,1495.1L953.1,1497.4M976.3,1520.6L973.4,1523.7M932.0,1519.9L932.8,1520.7M935.0,1514.4L935.8,1509.3M957.7,1498.3L945.9,1503.8M974.7,1514.4L972.0,1511.1M959.5,1536.4L959.5,1534.1M959.6,1493.8L968.4,1497.9M953.9,1536.1L952.7,1538.5M935.3,1530.4L932.7,1525.7M941.2,1529.2L938.1,1526.4M964.4,1497.7L957.7,1498.3M953.1,1497.4L955.1,1497.6M973.4,1523.7L971.7,1522.5M961.4,1532.7L961.8,1526.1M941.7,1500.2L941.6,1502.1M936.5,1527.5L938.1,1526.4M962.6,1495.7L960.9,1495.2M955.2,1495.1L957.7,1498.3" stroke="#ffffff" stroke-width="0.95" fill="none" opacity="0.95"/>
<path d="M940.1,1507.9L942.5,1506.1M969.7,1506.9L958.3,1508.8M941.1,1527.5L938.4,1522.7M945.7,1497.0L943.7,1500.1M938.2,1506.5L940.7,1503.3M955.4,1540.7L954.1,1537.8M946.9,1519.9L957.8,1531.6M953.0,1535.5L957.8,1531.6M949.6,1534.5L946.9,1519.9M973.5,1519.6L973.1,1515.4M951.4,1538.7L949.6,1534.5M951.4,1538.7L946.2,1537.9M974.6,1509.3L970.9,1512.4M969.4,1501.2L964.7,1498.1M936.0,1524.1L935.3,1520.6M972.8,1531.2L969.2,1532.9M951.1,1495.0L947.8,1498.2M969.8,1503.0L964.4,1501.8M936.0,1524.1L938.4,1522.7M935.3,1520.6L934.9,1517.0M942.3,1500.7L946.4,1501.1M942.3,1500.7L945.7,1497.0M942.5,1506.1L946.4,1501.1M940.1,1507.9L944.9,1507.2M973.2,1513.4L970.9,1512.4M948.5,1537.5L949.6,1534.5M972.6,1505.8L968.7,1505.5M949.6,1534.5L957.8,1531.6M973.0,1503.9L969.8,1503.0M932.8,1517.2L933.3,1511.6M946.2,1537.9L948.0,1534.1M946.2,1537.9L940.8,1535.1M967.4,1534.3L965.8,1532.9M946.4,1501.1L949.4,1500.8M975.6,1508.3L972.6,1505.8M971.6,1525.1L962.0,1521.1M946.4,1501.1L944.9,1507.2M954.8,1494.8L950.8,1497.5M969.3,1534.5L967.4,1534.3M932.8,1517.2L934.9,1517.0M933.3,1511.6L934.8,1507.6M947.8,1498.2L950.8,1497.5M937.6,1504.0L938.2,1506.5M977.4,1512.4L974.6,1509.3M944.0,1534.9L948.0,1534.1M974.6,1509.3L969.7,1506.9M972.3,1529.7L968.8,1530.0M966.1,1537.6L965.8,1532.9M947.8,1498.2L949.4,1500.8M977.6,1517.4L976.0,1517.4M939.2,1530.6L936.2,1526.3M960.2,1539.0L958.2,1538.6M970.9,1512.4L962.0,1521.1M956.8,1498.9L958.3,1508.8M968.7,1505.5L969.7,1506.9M934.8,1526.9L939.2,1530.6M935.8,1511.2L938.1,1510.0M949.4,1500.8L952.7,1499.8M958.3,1508.8L970.9,1512.4M966.1,1537.6L967.4,1534.3M939.2,1530.6L942.6,1531.9M949.4,1500.8L958.3,1508.8M938.1,1510.0L940.1,1507.9M934.8,1507.6L937.6,1504.0M978.0,1522.8L976.3,1518.4M964.4,1501.8L958.3,1508.8M958.2,1538.6L959.4,1535.9M976.3,1518.4L976.0,1517.4M934.8,1526.9L934.2,1522.3M966.1,1537.6L955.4,1540.7M956.8,1498.9L961.3,1500.7M961.5,1495.8L964.8,1497.9M948.0,1534.1L941.1,1527.5M939.3,1531.3L942.6,1531.9M957.4,1496.2L960.8,1497.4M934.8,1526.9L936.0,1524.1M974.9,1522.8L973.5,1519.6M965.8,1532.9L957.8,1531.6M938.2,1506.5L940.1,1507.9M934.2,1522.3L932.8,1517.2M976.0,1517.4L973.5,1519.6M951.4,1538.7L948.5,1537.5M960.8,1497.4L964.7,1498.1M975.4,1527.0L974.9,1522.8M973.2,1513.4L973.1,1515.4M940.7,1503.3L942.5,1506.1M959.4,1535.9L957.8,1531.6M951.4,1538.7L953.0,1535.5M961.3,1500.7L964.4,1501.8M964.8,1497.9L969.4,1501.2M935.3,1520.6L937.1,1519.7M972.8,1531.2L972.3,1529.7M968.7,1505.5L958.3,1508.8M964.7,1498.1L964.4,1501.8M954.1,1537.8L959.4,1535.9M942.3,1500.7L943.7,1500.1M945.7,1497.0L951.1,1495.0M955.4,1540.7L946.2,1537.9M964.4,1501.8L968.7,1505.5M969.4,1501.2L973.0,1503.9M942.3,1500.7L942.5,1506.1M973.5,1519.6L973.4,1521.9M946.2,1537.9L944.0,1534.9M969.7,1506.9L970.9,1512.4M945.7,1497.0L947.8,1498.2M972.8,1531.2L966.1,1537.6M951.1,1495.0L954.8,1494.8M969.8,1503.0L972.6,1505.8M933.3,1511.6L935.8,1511.2M973.4,1521.9L971.6,1525.1M937.1,1519.7L946.9,1519.9M934.9,1517.0L936.5,1514.8M969.3,1534.5L969.2,1532.9M969.8,1503.0L968.7,1505.5M933.3,1511.6L936.5,1514.8M972.6,1505.8L974.6,1509.3M977.6,1517.4L977.4,1512.4M973.0,1503.9L975.6,1508.3M950.8,1497.5L952.7,1499.8M940.8,1535.1L944.0,1534.9M969.2,1532.9L965.8,1532.9M973.4,1521.9L962.0,1521.1M938.1,1510.0L946.9,1519.9M948.5,1537.5L948.0,1534.1M942.5,1506.1L944.9,1507.2M975.6,1508.3L977.4,1512.4M972.3,1529.7L971.6,1525.1M954.8,1494.8L956.8,1498.9M954.8,1494.8L961.5,1495.8M960.2,1539.0L960.8,1537.4M969.2,1532.9L967.4,1534.3M934.8,1507.6L938.2,1506.5M975.6,1508.3L974.6,1509.3M935.8,1511.2L936.5,1514.8M968.8,1530.0L962.0,1521.1M954.8,1494.8L957.4,1496.2M940.8,1535.1L934.8,1526.9M977.4,1512.4L973.1,1515.4M937.6,1504.0L942.3,1500.7M934.8,1507.6L938.1,1510.0M958.3,1508.8L962.0,1521.1M961.5,1495.8L960.8,1497.4M949.6,1534.5L948.0,1534.1M952.7,1499.8L958.3,1508.8M937.6,1504.0L940.7,1503.3M957.4,1496.2L956.8,1498.9M939.3,1531.3L939.2,1530.6M944.0,1534.9L942.6,1531.9M966.1,1537.6L962.5,1533.8M974.6,1509.3L973.2,1513.4M966.1,1537.6L960.2,1539.0M965.8,1532.9L962.5,1533.8M934.2,1522.3L935.3,1520.6M955.4,1540.7L958.2,1538.6M946.9,1519.9L962.0,1521.1M961.3,1500.7L958.3,1508.8M976.0,1517.4L973.1,1515.4M960.8,1537.4L959.4,1535.9M960.8,1497.4L961.3,1500.7M978.0,1522.8L975.4,1527.0M938.2,1506.5L938.1,1510.0M976.3,1518.4L974.9,1522.8M974.9,1522.8L971.6,1525.1M943.7,1500.1L946.4,1501.1M951.4,1538.7L954.1,1537.8M962.0,1521.1L957.8,1531.6M948.0,1534.1L946.9,1519.9M964.8,1497.9L964.7,1498.1M936.2,1526.3L938.4,1522.7M976.3,1518.4L973.5,1519.6M934.8,1526.9L932.8,1517.2M944.9,1507.2L958.3,1508.8M962.5,1533.8L959.4,1535.9M969.4,1501.2L969.8,1503.0M941.1,1527.5L946.9,1519.9M935.3,1520.6L938.4,1522.7M942.3,1500.7L940.7,1503.3M975.4,1527.0L971.6,1525.1M945.7,1497.0L946.4,1501.1M975.4,1527.0L972.8,1531.2M938.2,1506.5L942.5,1506.1M962.5,1533.8L957.8,1531.6M951.1,1495.0L950.8,1497.5M973.1,1515.4L970.9,1512.4M959.4,1535.9L953.0,1535.5M932.8,1517.2L935.3,1520.6M946.2,1537.9L948.5,1537.5M975.4,1527.0L972.3,1529.7M938.1,1510.0L944.9,1507.2M972.8,1531.2L968.8,1530.0M971.6,1525.1L968.8,1530.0M972.8,1531.2L969.3,1534.5M944.9,1507.2L946.9,1519.9M972.6,1505.8L969.7,1506.9M933.3,1511.6L934.9,1517.0M947.8,1498.2L946.4,1501.1M973.0,1503.9L972.6,1505.8M934.9,1517.0L937.1,1519.7M954.1,1537.8L953.0,1535.5M973.1,1515.4L962.0,1521.1M938.4,1522.7L937.1,1519.7M949.4,1500.8L944.9,1507.2M953.0,1535.5L949.6,1534.5M969.2,1532.9L968.8,1530.0M950.8,1497.5L949.4,1500.8M938.4,1522.7L946.9,1519.9M978.0,1522.8L977.4,1512.4M954.8,1494.8L952.7,1499.8M969.3,1534.5L966.1,1537.6M977.4,1512.4L976.0,1517.4M968.8,1530.0L965.8,1532.9M937.1,1519.7L936.5,1514.8M934.8,1507.6L935.8,1511.2M973.5,1519.6L962.0,1521.1M940.8,1535.1L942.6,1531.9M977.6,1517.4L978.0,1522.8M948.0,1534.1L942.6,1531.9M940.8,1535.1L939.3,1531.3M977.4,1512.4L973.2,1513.4M936.5,1514.8L946.9,1519.9M934.8,1526.9L936.2,1526.3M966.1,1537.6L960.8,1537.4M958.3,1508.8L946.9,1519.9M961.5,1495.8L957.4,1496.2M939.2,1530.6L941.1,1527.5M977.6,1517.4L976.3,1518.4M965.8,1532.9L962.0,1521.1M960.2,1539.0L955.4,1540.7M960.8,1537.4L958.2,1538.6M978.0,1522.8L974.9,1522.8M934.2,1522.3L936.0,1524.1M936.5,1514.8L938.1,1510.0M960.8,1537.4L962.5,1533.8M960.8,1497.4L956.8,1498.9M936.2,1526.3L936.0,1524.1M937.6,1504.0L945.7,1497.0M958.2,1538.6L954.1,1537.8M942.6,1531.9L941.1,1527.5M939.3,1531.3L934.8,1526.9M964.7,1498.1L961.3,1500.7M952.7,1499.8L956.8,1498.9M974.9,1522.8L973.4,1521.9M961.5,1495.8L964.7,1498.1M936.2,1526.3L941.1,1527.5M969.4,1501.2L964.4,1501.8M955.4,1540.7L951.4,1538.7" stroke="#ffffff" stroke-width="0.8" fill="none" opacity="0.7"/>
<path d="M1093.5,1536.4L1082.6,1540.8M1045.4,1519.1L1049.5,1513.0M1040.2,1544.2L1044.0,1538.1M1081.8,1509.8L1080.1,1519.4M1047.3,1544.3L1044.0,1538.1M1053.8,1503.5L1054.0,1505.8M1047.9,1509.5L1052.6,1509.4M1072.5,1553.2L1074.9,1535.5M1068.2,1526.4L1056.9,1540.1M1087.4,1505.5L1081.1,1505.0M1068.2,1559.6L1065.3,1557.0M1093.6,1531.2L1092.4,1524.7M1061.5,1559.9L1059.0,1552.4M1061.5,1559.9L1054.9,1557.2M1040.0,1536.8L1039.7,1530.2M1092.0,1548.7L1090.5,1546.9M1061.6,1499.7L1057.5,1503.7M1089.6,1511.4L1081.8,1509.8M1054.0,1505.8L1057.3,1507.8M1078.3,1552.8L1082.6,1540.8M1040.0,1536.8L1044.0,1538.1M1039.7,1530.2L1039.3,1529.6M1049.0,1506.8L1052.6,1509.4M1049.5,1513.0L1052.6,1509.4M1049.0,1506.8L1053.8,1503.5M1043.2,1523.1L1048.5,1523.8M1056.8,1555.1L1059.0,1552.4M1072.5,1553.2L1065.6,1548.5M1059.0,1552.4L1056.9,1540.1M1092.9,1511.1L1089.6,1511.4M1037.0,1530.8L1037.5,1522.5M1054.9,1557.2L1049.4,1553.3M1080.6,1554.1L1083.4,1549.3M1052.6,1509.4L1057.3,1507.8M1095.6,1516.7L1093.1,1516.2M1087.0,1514.5L1080.1,1519.4M1052.6,1509.4L1058.0,1512.8M1066.9,1499.6L1062.4,1502.4M1087.3,1553.8L1080.6,1554.1M1037.0,1530.8L1039.3,1529.6M1089.6,1511.4L1089.0,1515.2M1090.5,1546.9L1090.0,1541.7M1037.5,1522.5L1043.2,1523.1M1037.5,1522.5L1039.8,1517.2M1057.5,1503.7L1062.4,1502.4M1043.6,1511.8L1043.2,1515.7M1049.4,1553.3L1050.7,1551.5M1098.1,1522.8L1094.4,1521.0M1074.9,1535.5L1065.6,1548.5M1045.4,1519.1L1048.5,1523.8M1090.6,1520.0L1080.1,1519.4M1093.1,1516.2L1090.6,1520.0M1051.5,1551.9L1051.8,1549.0M1057.5,1503.7L1057.3,1507.8M1099.0,1529.3L1096.7,1524.0M1075.2,1500.7L1072.9,1510.4M1073.7,1559.2L1070.8,1557.4M1068.8,1506.0L1072.9,1510.4M1062.4,1502.4L1068.6,1502.2M1087.0,1514.5L1089.0,1515.2M1057.3,1507.8L1063.8,1506.5M1041.3,1518.6L1043.2,1523.1M1080.8,1556.4L1080.6,1554.1M1050.7,1551.5L1047.7,1546.2M1043.2,1523.1L1045.4,1519.1M1039.8,1517.2L1043.6,1511.8M1098.7,1536.4L1096.5,1529.7M1089.0,1515.2L1090.6,1520.0M1070.8,1557.4L1072.5,1553.2M1044.0,1549.6L1044.3,1546.6M1096.5,1529.7L1096.7,1524.0M1040.2,1544.2L1038.2,1536.4M1094.4,1521.0L1092.4,1524.7M1075.2,1500.7L1077.9,1508.3M1075.2,1500.7L1081.8,1502.8M1043.6,1511.8L1049.5,1513.0M1051.8,1549.0L1047.3,1544.3M1044.0,1549.6L1047.7,1546.2M1040.2,1544.2L1040.0,1536.8M1098.7,1536.4L1092.0,1548.7M1043.2,1515.7L1045.4,1519.1M1087.7,1545.6L1082.6,1540.8M1038.2,1536.4L1037.0,1530.8M1061.5,1559.9L1056.8,1555.1M1080.1,1519.4L1074.9,1535.5M1079.5,1504.5L1081.1,1505.0M1094.9,1542.1L1094.9,1540.9M1090.6,1520.0L1092.4,1524.7M1047.9,1509.5L1049.5,1513.0M1058.0,1512.8L1048.5,1523.8M1054.0,1505.8L1057.5,1503.7M1081.8,1502.8L1087.4,1505.5M1077.9,1508.3L1081.8,1509.8M1077.9,1508.3L1080.1,1519.4M1039.7,1530.2L1043.1,1531.2M1092.0,1548.7L1093.6,1543.6M1049.0,1506.8L1054.0,1505.8M1081.1,1505.0L1081.8,1509.8M1083.4,1549.3L1082.6,1540.8M1053.8,1503.5L1061.6,1499.7M1081.8,1509.8L1087.0,1514.5M1087.4,1505.5L1092.9,1511.1M1093.6,1531.2L1093.5,1536.4M1054.9,1557.2L1051.5,1551.9M1053.8,1503.5L1057.5,1503.7M1061.6,1499.7L1066.9,1499.6M1072.5,1553.2L1082.6,1540.8M1037.5,1522.5L1041.3,1518.6M1093.5,1536.4L1090.0,1541.7M1056.9,1540.1L1074.9,1535.5M1039.3,1529.6L1042.9,1528.3M1042.9,1528.3L1048.5,1523.8M1087.3,1553.8L1090.5,1546.9M1089.6,1511.4L1087.0,1514.5M1065.3,1557.0L1059.0,1552.4M1037.5,1522.5L1042.9,1528.3M1093.1,1516.2L1094.4,1521.0M1093.6,1543.6L1090.5,1546.9M1092.9,1511.1L1089.0,1515.2M1099.0,1529.3L1098.1,1522.8M1092.9,1511.1L1095.6,1516.7M1062.4,1502.4L1063.8,1506.5M1090.5,1546.9L1083.4,1549.3M1074.9,1535.5L1082.6,1540.8M1049.4,1553.3L1051.5,1551.9M1049.5,1513.0L1058.0,1512.8M1051.5,1551.9L1059.0,1552.4M1095.6,1516.7L1098.1,1522.8M1093.6,1543.6L1090.0,1541.7M1066.9,1499.6L1075.2,1500.7M1066.5,1554.6L1065.6,1548.5M1073.7,1559.2L1076.4,1555.7M1048.5,1523.8L1068.2,1526.4M1080.6,1554.1L1078.3,1552.8M1039.8,1517.2L1043.2,1515.7M1095.6,1516.7L1094.4,1521.0M1043.1,1531.2L1056.9,1540.1M1056.9,1540.1L1065.6,1548.5M1043.6,1511.8L1049.0,1506.8M1066.9,1499.6L1068.6,1502.2M1094.4,1521.0L1096.7,1524.0M1072.9,1510.4L1080.1,1519.4M1063.8,1506.5L1072.9,1510.4M1044.3,1546.6L1047.7,1546.2M1075.2,1500.7L1079.5,1504.5M1059.0,1552.4L1051.8,1549.0M1043.6,1511.8L1047.9,1509.5M1068.6,1502.2L1068.8,1506.0M1044.0,1549.6L1050.7,1551.5M1040.2,1544.2L1047.3,1544.3M1094.4,1521.0L1090.6,1520.0M1075.2,1500.7L1068.8,1506.0M1080.8,1556.4L1073.7,1559.2M1083.4,1549.3L1078.3,1552.8M1038.2,1536.4L1039.7,1530.2M1048.5,1523.8L1056.9,1540.1M1068.2,1559.6L1070.8,1557.4M1068.2,1526.4L1080.1,1519.4M1096.7,1524.0L1092.4,1524.7M1087.0,1514.5L1090.6,1520.0M1077.9,1508.3L1072.9,1510.4M1076.4,1555.7L1072.5,1553.2M1098.7,1536.4L1093.5,1536.4M1079.5,1504.5L1077.9,1508.3M1041.3,1518.6L1045.4,1519.1M1093.6,1531.2L1082.6,1540.8M1090.0,1541.7L1082.6,1540.8M1098.7,1536.4L1094.9,1542.1M1094.9,1540.9L1090.0,1541.7M1054.0,1505.8L1052.6,1509.4M1061.5,1559.9L1065.3,1557.0M1081.8,1502.8L1081.1,1505.0M1070.8,1557.4L1066.5,1554.6M1096.5,1529.7L1093.6,1531.2M1058.0,1512.8L1072.9,1510.4M1094.9,1540.9L1093.6,1543.6M1078.3,1552.8L1072.5,1553.2M1068.2,1526.4L1074.9,1535.5M1087.4,1505.5L1089.6,1511.4M1049.0,1506.8L1047.9,1509.5M1043.2,1515.7L1049.5,1513.0M1094.9,1542.1L1092.0,1548.7M1061.6,1499.7L1062.4,1502.4M1072.5,1553.2L1066.5,1554.6M1037.0,1530.8L1039.7,1530.2M1051.8,1549.0L1056.9,1540.1M1054.9,1557.2L1056.8,1555.1M1040.0,1536.8L1043.1,1531.2M1094.9,1542.1L1093.6,1543.6M1092.0,1548.7L1087.3,1553.8M1090.0,1541.7L1087.7,1545.6M1058.0,1512.8L1068.2,1526.4M1093.1,1516.2L1089.0,1515.2M1037.5,1522.5L1039.3,1529.6M1047.3,1544.3L1056.9,1540.1M1092.9,1511.1L1093.1,1516.2M1043.1,1531.2L1048.5,1523.8M1039.7,1530.2L1042.9,1528.3M1065.3,1557.0L1066.5,1554.6M1054.9,1557.2L1044.0,1549.6M1056.8,1555.1L1051.5,1551.9M1092.4,1524.7L1080.1,1519.4M1044.0,1538.1L1043.1,1531.2M1057.3,1507.8L1058.0,1512.8M1066.5,1554.6L1059.0,1552.4M1090.5,1546.9L1087.7,1545.6M1050.7,1551.5L1051.8,1549.0M1080.6,1554.1L1076.4,1555.7M1087.3,1553.8L1083.4,1549.3M1087.3,1553.8L1080.8,1556.4M1098.1,1522.8L1096.7,1524.0M1087.7,1545.6L1083.4,1549.3M1043.1,1531.2L1042.9,1528.3M1049.5,1513.0L1048.5,1523.8M1039.8,1517.2L1041.3,1518.6M1057.5,1503.7L1063.8,1506.5M1059.0,1552.4L1065.6,1548.5M1099.0,1529.3L1098.7,1536.4M1051.8,1549.0L1047.7,1546.2M1049.4,1553.3L1044.0,1549.6M1040.2,1544.2L1044.3,1546.6M1051.5,1551.9L1050.7,1551.5M1092.4,1524.7L1074.9,1535.5M1072.9,1510.4L1068.2,1526.4M1075.2,1500.7L1068.6,1502.2M1063.8,1506.5L1058.0,1512.8M1099.0,1529.3L1096.5,1529.7M1080.8,1556.4L1076.4,1555.7M1073.7,1559.2L1068.2,1559.6M1068.6,1502.2L1063.8,1506.5M1044.0,1538.1L1056.9,1540.1M1076.4,1555.7L1070.8,1557.4M1098.7,1536.4L1094.9,1540.9M1041.3,1518.6L1043.2,1515.7M1038.2,1536.4L1040.0,1536.8M1042.9,1528.3L1043.2,1523.1M1076.4,1555.7L1078.3,1552.8M1098.7,1536.4L1093.6,1531.2M1093.6,1531.2L1074.9,1535.5M1096.5,1529.7L1092.4,1524.7M1047.7,1546.2L1047.3,1544.3M1044.0,1549.6L1040.2,1544.2M1081.1,1505.0L1077.9,1508.3M1063.8,1506.5L1068.8,1506.0M1094.9,1540.9L1093.5,1536.4M1044.3,1546.6L1047.3,1544.3M1081.8,1502.8L1079.5,1504.5M1068.2,1559.6L1066.5,1554.6M1087.4,1505.5L1081.8,1509.8M1068.2,1559.6L1061.5,1559.9" stroke="#ffffff" stroke-width="0.95" fill="none" opacity="0.95"/>
<path d="M1049.8,1517.7L1053.8,1512.6M1049.7,1545.0L1044.7,1536.7M1090.0,1519.1L1076.6,1514.0M1056.9,1505.1L1053.5,1509.0M1045.5,1517.9L1047.5,1513.3M1069.6,1561.1L1069.2,1558.8M1069.3,1531.4L1064.2,1546.1M1072.3,1554.5L1075.5,1541.3M1064.2,1555.2L1064.2,1546.1M1094.5,1531.4L1094.0,1528.5M1088.7,1508.8L1084.3,1508.8M1062.9,1559.9L1055.5,1557.9M1096.9,1543.3L1091.6,1541.5M1092.4,1550.0L1088.6,1549.2M1062.9,1503.2L1062.7,1505.2M1084.3,1508.8L1086.5,1513.5M1053.5,1509.0L1060.9,1509.9M1043.6,1540.3L1044.7,1536.7M1042.0,1532.7L1042.2,1525.7M1053.8,1512.6L1056.0,1512.8M1050.5,1508.3L1056.9,1505.1M1049.8,1517.7L1061.6,1517.6M1045.1,1525.3L1051.8,1526.7M1061.3,1556.9L1060.1,1553.6M1093.1,1515.1L1086.5,1513.5M1094.4,1544.8L1091.6,1541.5M1060.1,1553.6L1064.2,1546.1M1092.9,1513.0L1087.6,1511.1M1038.8,1531.8L1039.8,1524.9M1055.5,1557.9L1050.1,1554.2M1084.8,1554.0L1083.0,1550.2M1056.9,1505.1L1060.9,1509.9M1056.0,1512.8L1060.9,1509.9M1095.3,1518.4L1093.1,1515.1M1090.9,1542.3L1083.4,1529.3M1088.2,1554.2L1084.8,1554.0M1056.0,1512.8L1061.6,1517.6M1070.2,1502.2L1064.7,1505.4M1038.8,1531.8L1042.2,1525.7M1051.1,1547.4L1064.2,1546.1M1062.7,1505.2L1064.7,1505.4M1047.1,1513.3L1045.5,1517.9M1042.2,1525.7L1042.3,1522.7M1050.1,1554.2L1051.2,1552.0M1098.9,1524.6L1096.9,1523.2M1092.9,1513.0L1098.9,1524.6M1049.8,1517.7L1051.8,1526.7M1091.9,1523.1L1083.4,1529.3M1056.1,1555.4L1058.4,1553.3M1094.4,1544.8L1088.2,1547.2M1062.7,1505.2L1060.9,1509.9M1099.4,1531.0L1097.7,1527.7M1075.6,1559.7L1071.0,1557.5M1074.3,1507.7L1076.6,1514.0M1086.5,1513.5L1090.0,1519.1M1060.9,1509.9L1067.1,1507.6M1090.9,1542.3L1075.5,1541.3M1081.8,1558.0L1084.8,1554.0M1042.3,1522.7L1045.1,1525.3M1051.2,1552.0L1051.1,1547.4M1041.5,1518.7L1047.1,1513.3M1045.1,1525.3L1049.8,1517.7M1080.2,1509.9L1076.6,1514.0M1090.0,1519.1L1091.9,1523.1M1095.3,1518.4L1091.9,1523.1M1071.0,1557.5L1072.3,1554.5M1046.3,1550.2L1047.3,1546.0M1096.4,1531.5L1097.7,1527.7M1042.3,1545.1L1040.9,1538.0M1096.9,1523.2L1094.0,1528.5M1075.1,1503.6L1082.2,1505.3M1074.3,1507.7L1077.0,1510.1M1046.3,1550.2L1051.1,1547.4M1049.7,1545.0L1051.8,1526.7M1075.7,1505.7L1077.2,1506.0M1077.2,1506.0L1080.2,1509.9M1042.3,1545.1L1043.6,1540.3M1096.7,1538.3L1094.5,1531.4M1045.5,1517.9L1049.8,1517.7M1040.9,1538.0L1038.8,1531.8M1062.9,1559.9L1061.3,1556.9M1083.4,1529.3L1075.5,1541.3M1096.9,1543.3L1096.7,1538.3M1091.9,1523.1L1094.0,1528.5M1047.5,1513.3L1053.8,1512.6M1072.3,1554.5L1064.2,1546.1M1084.3,1508.8L1087.6,1511.1M1061.6,1517.6L1051.8,1526.7M1062.9,1559.9L1064.2,1555.2M1082.2,1505.3L1080.2,1509.9M1082.2,1505.3L1088.7,1508.8M1077.0,1510.1L1080.2,1509.9M1042.0,1532.7L1044.3,1532.7M1086.5,1513.5L1076.6,1514.0M1092.4,1550.0L1094.4,1544.8M1084.3,1508.8L1080.2,1509.9M1050.5,1508.3L1053.5,1509.0M1079.9,1553.7L1075.5,1541.3M1056.9,1505.1L1062.9,1503.2M1080.2,1509.9L1086.5,1513.5M1088.7,1508.8L1092.9,1513.0M1049.8,1517.7L1056.0,1512.8M1094.5,1531.4L1091.6,1541.5M1050.5,1508.3L1053.8,1512.6M1055.5,1557.9L1056.1,1555.4M1044.7,1536.7L1051.8,1526.7M1056.9,1505.1L1062.7,1505.2M1061.3,1556.9L1064.2,1555.2M1062.9,1503.2L1070.2,1502.2M1039.8,1524.9L1042.3,1522.7M1091.6,1541.5L1090.9,1542.3M1064.2,1546.1L1075.5,1541.3M1042.2,1525.7L1044.9,1528.1M1088.2,1554.2L1088.6,1549.2M1044.9,1528.1L1051.8,1526.7M1087.6,1511.1L1086.5,1513.5M1099.4,1531.0L1098.9,1524.6M1088.6,1549.2L1083.0,1550.2M1064.7,1505.4L1067.1,1507.6M1050.1,1554.2L1056.1,1555.4M1092.9,1513.0L1095.3,1518.4M1091.6,1541.5L1083.4,1529.3M1061.3,1556.9L1058.4,1553.3M1095.3,1518.4L1098.9,1524.6M1094.4,1544.8L1090.9,1542.3M1070.2,1502.2L1074.3,1507.7M1070.2,1502.2L1075.1,1503.6M1075.6,1559.7L1077.5,1557.6M1051.8,1526.7L1069.3,1531.4M1088.6,1549.2L1084.8,1554.0M1084.8,1554.0L1079.9,1553.7M1041.5,1518.7L1045.5,1517.9M1095.3,1518.4L1096.9,1523.2M1047.1,1513.3L1050.5,1508.3M1096.9,1523.2L1097.7,1527.7M1076.6,1514.0L1083.4,1529.3M1047.3,1546.0L1051.1,1547.4M1060.1,1553.6L1058.4,1553.3M1099.4,1531.0L1096.7,1538.3M1067.1,1507.6L1076.6,1514.0M1047.1,1513.3L1047.5,1513.3M1075.1,1503.6L1077.2,1506.0M1075.7,1505.7L1074.3,1507.7M1046.3,1550.2L1051.2,1552.0M1081.8,1558.0L1079.9,1553.7M1075.1,1503.6L1074.3,1507.7M1083.0,1550.2L1079.9,1553.7M1081.8,1558.0L1075.6,1559.7M1096.9,1523.2L1091.9,1523.1M1040.9,1538.0L1042.0,1532.7M1051.8,1526.7L1064.2,1546.1M1069.6,1561.1L1071.0,1557.5M1069.3,1531.4L1083.4,1529.3M1097.7,1527.7L1094.0,1528.5M1077.0,1510.1L1076.6,1514.0M1077.5,1557.6L1072.3,1554.5M1077.2,1506.0L1077.0,1510.1M1098.9,1539.1L1096.9,1543.3M1088.2,1547.2L1075.5,1541.3M1040.9,1538.0L1044.7,1536.7M1045.5,1517.9L1045.1,1525.3M1096.4,1531.5L1096.7,1538.3M1053.5,1509.0L1056.0,1512.8M1062.9,1559.9L1069.2,1558.8M1082.2,1505.3L1084.3,1508.8M1043.6,1540.3L1049.7,1545.0M1071.0,1557.5L1064.2,1555.2M1096.4,1531.5L1094.5,1531.4M1042.3,1545.1L1038.8,1531.8M1061.6,1517.6L1076.6,1514.0M1079.9,1553.7L1072.3,1554.5M1069.3,1531.4L1075.5,1541.3M1042.0,1532.7L1044.7,1536.7M1088.7,1508.8L1087.6,1511.1M1050.5,1508.3L1047.5,1513.3M1096.9,1543.3L1092.4,1550.0M1062.9,1503.2L1064.7,1505.4M1072.3,1554.5L1064.2,1555.2M1038.8,1531.8L1042.0,1532.7M1058.4,1553.3L1064.2,1546.1M1055.5,1557.9L1061.3,1556.9M1096.9,1543.3L1094.4,1544.8M1092.4,1550.0L1088.2,1547.2M1090.9,1542.3L1088.2,1547.2M1092.4,1550.0L1088.2,1554.2M1090.0,1519.1L1083.4,1529.3M1061.6,1517.6L1069.3,1531.4M1093.1,1515.1L1090.0,1519.1M1039.8,1524.9L1042.2,1525.7M1049.7,1545.0L1064.2,1546.1M1092.9,1513.0L1093.1,1515.1M1044.3,1532.7L1051.8,1526.7M1042.0,1532.7L1044.9,1528.1M1069.2,1558.8L1064.2,1555.2M1061.3,1556.9L1056.1,1555.4M1094.0,1528.5L1083.4,1529.3M1044.7,1536.7L1044.3,1532.7M1051.2,1552.0L1058.4,1553.3M1064.2,1555.2L1060.1,1553.6M1088.6,1549.2L1088.2,1547.2M1060.9,1509.9L1061.6,1517.6M1092.9,1513.0L1086.5,1513.5M1064.7,1505.4L1060.9,1509.9M1095.3,1518.4L1090.0,1519.1M1070.2,1502.2L1067.1,1507.6M1088.2,1547.2L1083.0,1550.2M1088.2,1554.2L1081.8,1558.0M1098.9,1524.6L1097.7,1527.7M1044.3,1532.7L1044.9,1528.1M1041.5,1518.7L1042.3,1522.7M1099.4,1531.0L1098.9,1539.1M1094.5,1531.4L1083.4,1529.3M1042.2,1525.7L1045.1,1525.3M1058.4,1553.3L1051.1,1547.4M1050.1,1554.2L1046.3,1550.2M1042.3,1545.1L1047.3,1546.0M1056.1,1555.4L1051.2,1552.0M1081.8,1558.0L1077.5,1557.6M1076.6,1514.0L1069.3,1531.4M1067.1,1507.6L1061.6,1517.6M1075.1,1503.6L1075.7,1505.7M1075.6,1559.7L1072.3,1554.5M1099.4,1531.0L1096.4,1531.5M1075.6,1559.7L1069.6,1561.1M1041.5,1518.7L1050.5,1508.3M1098.9,1539.1L1096.7,1538.3M1042.3,1522.7L1045.5,1517.9M1040.9,1538.0L1043.6,1540.3M1070.2,1502.2L1082.2,1505.3M1047.5,1513.3L1049.8,1517.7M1044.9,1528.1L1045.1,1525.3M1077.5,1557.6L1079.9,1553.7M1077.2,1506.0L1074.3,1507.7M1047.3,1546.0L1043.6,1540.3M1071.0,1557.5L1069.2,1558.8M1096.4,1531.5L1094.0,1528.5M1051.1,1547.4L1049.7,1545.0M1046.3,1550.2L1042.3,1545.1M1067.1,1507.6L1074.3,1507.7M1096.7,1538.3L1091.6,1541.5M1083.0,1550.2L1075.5,1541.3M1053.5,1509.0L1053.8,1512.6M1047.3,1546.0L1049.7,1545.0M1082.2,1505.3L1077.2,1506.0M1069.6,1561.1L1062.9,1559.9" stroke="#ffffff" stroke-width="0.8" fill="none" opacity="0.7"/>
<path d="M869.1,1704.1L872.7,1701.5M869.0,1721.3L865.1,1715.1M875.9,1696.7L873.5,1698.4M888.5,1730.2L885.8,1728.5M879.4,1725.9L887.6,1715.2M904.2,1697.5L902.9,1698.4M910.7,1714.7L909.9,1710.5M881.7,1729.3L876.3,1727.4M863.3,1716.9L861.9,1713.9M909.7,1723.1L907.2,1722.9M880.6,1694.3L882.1,1695.6M902.9,1698.4L904.3,1701.8M863.3,1716.9L865.1,1715.1M861.9,1713.9L863.0,1709.6M870.1,1697.7L875.9,1696.7M872.7,1701.5L876.6,1698.9M866.7,1708.2L874.5,1713.9M878.8,1727.7L879.4,1725.9M859.9,1712.5L860.6,1709.0M876.3,1727.4L875.0,1723.0M876.3,1727.4L870.3,1726.8M875.9,1696.7L880.5,1698.3M913.5,1720.0L906.4,1726.5M876.6,1698.9L880.5,1698.3M900.6,1727.3L899.0,1724.9M904.3,1701.8L905.5,1716.8M907.2,1719.5L905.5,1716.8M876.6,1698.9L880.8,1706.9M888.2,1694.0L886.5,1695.8M906.5,1700.7L908.2,1705.9M859.9,1712.5L863.0,1709.6M906.4,1726.5L900.6,1727.3M860.6,1709.0L862.3,1704.9M882.1,1695.6L886.5,1695.8M909.7,1701.1L915.2,1707.4M866.5,1701.0L866.1,1704.5M870.3,1726.8L871.1,1725.5M915.2,1707.4L913.1,1708.1M863.0,1709.6L864.0,1706.1M869.1,1704.1L874.5,1713.9M906.4,1726.5L906.2,1721.3M871.5,1725.7L875.0,1723.0M908.7,1721.8L906.2,1721.3M882.1,1695.6L880.5,1698.3M915.5,1712.5L914.2,1711.4M894.3,1730.7L889.7,1729.8M886.5,1695.8L888.1,1694.9M888.4,1697.5L890.4,1704.1M904.3,1701.8L908.2,1705.9M880.5,1698.3L884.4,1698.0M864.0,1706.1L866.7,1708.2M900.0,1727.8L900.6,1727.3M865.1,1715.1L864.6,1712.1M871.1,1725.5L872.2,1723.0M894.3,1730.7L897.4,1725.0M862.3,1704.9L866.5,1701.0M866.7,1708.2L869.1,1704.1M900.9,1700.1L890.4,1704.1M913.0,1705.3L910.3,1708.9M908.2,1705.9L910.3,1708.9M889.7,1729.8L892.4,1726.9M915.8,1716.1L914.2,1713.0M866.7,1723.5L864.9,1718.9M914.2,1713.0L914.2,1711.4M892.4,1726.9L887.6,1715.2M862.8,1719.4L861.0,1717.0M895.0,1694.1L897.3,1698.3M888.4,1697.5L897.3,1698.3M895.0,1694.1L900.0,1695.2M869.0,1721.3L874.5,1713.9M897.4,1696.9L900.9,1700.1M862.8,1719.4L863.3,1716.9M911.6,1718.7L910.7,1714.7M866.1,1704.5L869.1,1704.1M897.4,1725.0L905.5,1716.8M861.0,1717.0L859.9,1712.5M871.7,1699.7L873.5,1698.4M885.8,1728.5L887.6,1715.2M881.7,1729.3L878.8,1727.7M913.5,1720.0L911.6,1718.7M910.3,1708.9L909.9,1710.5M871.7,1699.7L872.7,1701.5M902.9,1698.4L906.5,1700.7M881.7,1729.3L882.5,1726.9M880.8,1706.9L874.5,1713.9M900.0,1695.2L900.9,1700.1M900.0,1695.2L904.2,1697.5M897.3,1698.3L900.9,1700.1M904.2,1697.5L908.8,1700.8M904.3,1701.8L890.4,1704.1M909.7,1723.1L908.7,1721.8M870.1,1697.7L873.5,1698.4M902.9,1698.4L900.9,1700.1M885.8,1728.5L892.4,1726.9M875.9,1696.7L880.6,1694.3M904.2,1697.5L909.7,1701.1M900.9,1700.1L904.3,1701.8M910.7,1714.7L909.8,1716.4M876.3,1727.4L871.5,1725.7M865.1,1715.1L874.5,1713.9M878.8,1727.7L882.5,1726.9M880.6,1694.3L888.2,1694.0M906.5,1700.7L908.8,1700.8M876.3,1727.4L879.4,1725.9M860.6,1709.0L864.0,1706.1M900.6,1727.3L906.2,1721.3M909.8,1716.4L907.2,1719.5M863.0,1709.6L864.6,1712.1M906.4,1726.5L907.2,1722.9M888.2,1694.0L882.1,1695.6M906.5,1700.7L904.3,1701.8M908.7,1721.8L907.2,1722.9M909.7,1701.1L908.2,1705.9M915.5,1712.5L915.2,1707.4M909.7,1701.1L913.0,1705.3M886.5,1695.8L884.4,1698.0M870.3,1726.8L871.5,1725.7M909.8,1716.4L905.5,1716.8M872.7,1701.5L880.8,1706.9M913.0,1705.3L915.2,1707.4M908.7,1721.8L907.2,1719.5M888.2,1694.0L895.0,1694.1M865.1,1712.1L866.7,1708.2M874.5,1713.9L887.6,1715.2M894.3,1730.7L899.0,1727.6M862.3,1704.9L866.1,1704.5M899.0,1727.6L899.0,1724.9M913.0,1705.3L913.1,1708.1M866.5,1701.0L870.1,1697.7M888.2,1694.0L888.1,1694.9M906.2,1721.3L905.5,1716.8M913.1,1708.1L914.2,1711.4M890.4,1704.1L905.5,1716.8M884.4,1698.0L890.4,1704.1M879.4,1725.9L875.0,1723.0M895.0,1694.1L897.4,1696.9M866.5,1701.0L871.7,1699.7M888.1,1694.9L888.4,1697.5M866.7,1723.5L871.1,1725.5M871.5,1725.7L872.2,1723.0M913.1,1708.1L910.3,1708.9M895.0,1694.1L888.4,1697.5M900.0,1727.8L894.3,1730.7M899.0,1724.9L897.4,1725.0M861.0,1717.0L861.9,1713.9M888.5,1730.2L889.7,1729.8M887.6,1715.2L905.5,1716.8M897.3,1698.3L890.4,1704.1M914.2,1711.4L909.9,1710.5M897.4,1696.9L897.3,1698.3M915.8,1716.1L913.5,1720.0M866.1,1704.5L866.7,1708.2M897.4,1725.0L887.6,1715.2M864.9,1718.9L869.0,1721.3M911.6,1718.7L907.2,1719.5M873.5,1698.4L876.6,1698.9M881.7,1729.3L885.8,1728.5M875.0,1723.0L887.6,1715.2M900.0,1695.2L902.9,1698.4M872.2,1723.0L874.5,1713.9M864.9,1718.9L865.1,1715.1M914.2,1713.0L910.7,1714.7M882.5,1726.9L887.6,1715.2M880.8,1706.9L890.4,1704.1M911.6,1718.7L908.7,1721.8M897.4,1725.0L892.4,1726.9M904.2,1697.5L906.5,1700.7M861.9,1713.9L865.1,1715.1M870.1,1697.7L871.7,1699.7M881.7,1729.3L870.3,1726.8M875.9,1696.7L876.6,1698.9M913.5,1720.0L909.7,1723.1M859.9,1712.5L861.9,1713.9M876.3,1727.4L878.8,1727.7M880.6,1694.3L880.5,1698.3M909.7,1723.1L906.4,1726.5M907.2,1719.5L906.2,1721.3M870.1,1697.7L880.6,1694.3M908.2,1705.9L905.5,1716.8M880.8,1706.9L887.6,1715.2M908.8,1700.8L908.2,1705.9M860.6,1709.0L863.0,1709.6M861.9,1713.9L864.6,1712.1M909.7,1701.1L908.8,1700.8M863.0,1709.6L865.1,1712.1M865.1,1712.1L874.5,1713.9M885.8,1728.5L882.5,1726.9M909.9,1710.5L905.5,1716.8M865.1,1715.1L865.1,1712.1M880.5,1698.3L880.8,1706.9M882.5,1726.9L879.4,1725.9M907.2,1722.9L906.2,1721.3M900.6,1727.3L899.0,1727.6M913.0,1705.3L908.2,1705.9M915.8,1716.1L915.2,1707.4M906.2,1721.3L899.0,1724.9M915.2,1707.4L914.2,1711.4M906.4,1726.5L900.0,1727.8M865.1,1712.1L864.6,1712.1M872.7,1701.5L874.5,1713.9M862.3,1704.9L864.0,1706.1M882.1,1695.6L884.4,1698.0M866.5,1701.0L869.1,1704.1M915.5,1712.5L915.8,1716.1M863.0,1709.6L866.7,1708.2M910.7,1714.7L905.5,1716.8M870.3,1726.8L866.7,1723.5M875.0,1723.0L872.2,1723.0M862.8,1719.4L864.9,1718.9M871.5,1725.7L871.1,1725.5M900.0,1727.8L899.0,1727.6M895.0,1694.1L888.1,1694.9M884.4,1698.0L880.8,1706.9M890.4,1704.1L887.6,1715.2M871.1,1725.5L869.0,1721.3M894.3,1730.7L892.4,1726.9M886.5,1695.8L888.4,1697.5M899.0,1724.9L905.5,1716.8M915.5,1712.5L914.2,1713.0M915.8,1716.1L911.6,1718.7M908.2,1705.9L909.9,1710.5M864.0,1706.1L866.1,1704.5M861.0,1717.0L863.3,1716.9M871.7,1699.7L869.1,1704.1M914.2,1711.4L910.3,1708.9M899.0,1727.6L897.4,1725.0M915.8,1716.1L910.7,1714.7M864.9,1718.9L863.3,1716.9M889.7,1729.8L885.8,1728.5M866.7,1723.5L869.0,1721.3M914.2,1713.0L909.9,1710.5M909.7,1723.1L911.6,1718.7M866.7,1723.5L862.8,1719.4M872.2,1723.0L869.0,1721.3M884.4,1698.0L888.4,1697.5M911.6,1718.7L909.8,1716.4M873.5,1698.4L872.7,1701.5M875.0,1723.0L874.5,1713.9M900.0,1695.2L897.4,1696.9M888.5,1730.2L881.7,1729.3" stroke="#ffffff" stroke-width="0.95" fill="none" opacity="0.95"/>
<path d="M871.2,1704.9L873.4,1702.9M871.4,1720.2L868.1,1716.4M877.0,1698.1L878.1,1698.8M872.8,1702.4L876.4,1702.3M889.2,1730.9L886.3,1728.8M906.7,1699.1L901.1,1698.7M882.6,1730.9L884.2,1727.7M912.1,1716.5L912.1,1711.6M882.6,1730.9L878.0,1728.8M865.0,1717.6L864.4,1717.0M908.6,1720.9L901.7,1715.1M911.0,1725.0L906.5,1726.5M883.0,1696.6L881.1,1697.7M905.4,1701.6L902.0,1702.1M878.1,1698.8L882.2,1700.0M865.0,1717.6L868.1,1716.4M871.4,1699.5L877.0,1698.1M873.4,1702.9L876.4,1702.3M871.4,1720.2L869.1,1712.0M871.2,1704.9L873.9,1707.1M911.2,1709.7L901.7,1715.1M880.1,1727.8L884.2,1727.7M910.8,1702.8L905.4,1701.6M862.1,1713.4L862.6,1709.1M878.0,1728.8L872.3,1727.3M903.9,1726.4L900.8,1726.6M876.4,1702.3L882.2,1700.0M914.0,1706.1L910.9,1705.3M876.4,1702.3L873.9,1707.1M905.8,1726.9L903.9,1726.4M905.4,1701.6L907.2,1705.2M862.1,1713.4L864.3,1711.1M906.5,1726.5L908.6,1720.9M889.8,1696.1L884.4,1698.2M862.6,1709.1L865.5,1705.7M881.1,1697.7L884.4,1698.2M905.8,1726.9L903.9,1724.8M868.0,1701.9L869.3,1705.3M872.3,1727.3L871.3,1724.8M916.0,1708.6L914.4,1709.8M864.3,1711.1L864.8,1708.5M892.4,1727.6L890.4,1707.8M910.9,1705.3L911.2,1709.7M876.8,1727.3L876.4,1725.8M881.1,1697.7L882.2,1700.0M917.1,1713.7L914.5,1712.4M871.3,1724.8L866.9,1721.8M895.0,1730.4L889.8,1728.9M890.2,1698.7L890.4,1707.8M904.0,1703.8L907.2,1705.2M882.2,1700.0L886.9,1699.1M864.8,1708.5L868.5,1707.9M868.1,1716.4L869.1,1712.0M890.4,1707.8L901.7,1715.1M895.8,1728.0L901.7,1715.1M882.2,1700.0L890.4,1707.8M895.0,1730.4L895.8,1728.0M871.3,1724.8L872.2,1722.0M901.3,1730.0L903.9,1726.4M865.5,1705.7L868.0,1701.9M914.0,1706.1L911.2,1709.7M917.1,1717.7L914.1,1713.1M902.0,1702.1L890.4,1707.8M907.2,1705.2L911.2,1709.7M889.8,1728.9L892.4,1727.6M868.5,1707.9L871.2,1704.9M868.3,1725.3L866.9,1721.8M914.1,1713.1L914.5,1712.4M894.5,1698.3L895.2,1699.4M914.4,1709.8L912.1,1711.6M896.2,1696.7L895.2,1699.4M901.3,1730.0L889.2,1730.9M896.2,1696.7L901.6,1697.2M890.2,1698.7L895.2,1699.4M864.7,1720.8L862.9,1718.1M876.4,1725.8L871.4,1720.2M898.5,1698.4L902.0,1702.1M864.7,1720.8L865.0,1717.6M911.9,1720.7L912.1,1716.5M869.3,1705.3L871.2,1704.9M862.9,1718.1L862.1,1713.4M882.6,1730.9L880.1,1727.8M898.5,1698.4L901.1,1698.7M914.1,1721.5L911.9,1720.7M877.0,1698.1L872.8,1702.4M911.2,1709.7L912.1,1711.6M872.8,1702.4L873.4,1702.9M901.1,1698.7L905.4,1701.6M878.1,1698.8L881.1,1697.7M914.1,1721.5L912.1,1716.5M895.2,1699.4L902.0,1702.1M864.4,1717.0L867.6,1715.4M911.0,1725.0L910.2,1722.3M901.1,1698.7L902.0,1702.1M869.1,1712.0L873.9,1707.1M877.0,1698.1L883.0,1696.6M902.0,1702.1L904.0,1703.8M906.7,1699.1L910.8,1702.8M912.1,1716.5L910.4,1717.3M878.0,1728.8L876.8,1727.3M907.2,1705.2L901.7,1715.1M910.4,1717.3L901.7,1715.1M877.0,1698.1L881.1,1697.7M880.1,1727.8L885.4,1727.1M911.0,1725.0L901.3,1730.0M883.0,1696.6L889.8,1696.1M862.1,1713.4L867.6,1715.4M862.6,1709.1L864.8,1708.5M903.9,1726.4L903.9,1724.8M910.4,1717.3L908.6,1720.9M864.3,1711.1L869.1,1712.0M903.9,1724.8L901.7,1715.1M905.8,1726.9L906.5,1726.5M905.4,1701.6L904.0,1703.8M886.3,1728.8L884.2,1727.7M872.3,1727.3L876.4,1725.8M910.2,1722.3L906.5,1726.5M910.8,1702.8L907.2,1705.2M917.1,1713.7L916.0,1708.6M910.8,1702.8L914.0,1706.1M884.4,1698.2L886.9,1699.1M885.4,1727.1L876.4,1725.8M872.3,1727.3L876.8,1727.3M873.4,1702.9L873.9,1707.1M880.1,1727.8L876.4,1725.8M914.0,1706.1L916.0,1708.6M910.2,1722.3L908.6,1720.9M889.8,1696.1L890.2,1698.7M889.8,1696.1L896.2,1696.7M865.5,1705.7L869.3,1705.3M900.4,1727.4L900.8,1726.6M914.0,1706.1L914.4,1709.8M864.8,1708.5L869.1,1712.0M900.8,1726.6L901.7,1715.1M868.0,1701.9L871.4,1699.5M889.8,1696.1L894.5,1698.3M865.5,1705.7L868.5,1707.9M914.4,1709.8L914.5,1712.4M896.2,1696.7L898.5,1698.4M866.9,1721.8L872.2,1722.0M886.9,1699.1L890.4,1707.8M876.4,1725.8L890.4,1707.8M868.0,1701.9L872.8,1702.4M894.5,1698.3L890.2,1698.7M868.3,1725.3L871.3,1724.8M885.4,1727.1L890.4,1707.8M914.4,1709.8L911.2,1709.7M901.3,1730.0L895.8,1728.0M900.8,1726.6L895.8,1728.0M901.3,1730.0L895.0,1730.4M862.9,1718.1L864.4,1717.0M889.2,1730.9L889.8,1728.9M871.4,1720.2L890.4,1707.8M895.2,1699.4L890.4,1707.8M914.5,1712.4L912.1,1711.6M898.5,1698.4L895.2,1699.4M917.1,1717.7L914.1,1721.5M869.3,1705.3L868.5,1707.9M911.9,1720.7L908.6,1720.9M878.1,1698.8L876.4,1702.3M882.6,1730.9L886.3,1728.8M866.9,1721.8L868.1,1716.4M901.6,1697.2L901.1,1698.7M910.4,1717.3L912.1,1711.6M889.8,1728.9L885.4,1727.1M914.1,1713.1L912.1,1716.5M873.9,1707.1L890.4,1707.8M911.9,1720.7L910.2,1722.3M895.8,1728.0L892.4,1727.6M906.7,1699.1L905.4,1701.6M871.4,1699.5L872.8,1702.4M882.6,1730.9L872.3,1727.3M877.0,1698.1L876.4,1702.3M914.1,1721.5L911.0,1725.0M912.1,1711.6L901.7,1715.1M883.0,1696.6L884.4,1698.2M892.4,1727.6L885.4,1727.1M862.1,1713.4L864.4,1717.0M878.0,1728.8L880.1,1727.8M865.0,1717.6L867.6,1715.4M914.1,1721.5L910.2,1722.3M868.5,1707.9L873.9,1707.1M908.6,1720.9L903.9,1724.8M911.0,1725.0L905.8,1726.9M910.9,1705.3L907.2,1705.2M862.6,1709.1L864.3,1711.1M904.0,1703.8L901.7,1715.1M910.8,1702.8L910.9,1705.3M864.3,1711.1L867.6,1715.4M886.3,1728.8L885.4,1727.1M880.1,1727.8L876.8,1727.3M868.1,1716.4L867.6,1715.4M876.4,1702.3L890.4,1707.8M871.3,1724.8L876.4,1725.8M885.4,1727.1L884.2,1727.7M906.5,1726.5L903.9,1724.8M884.4,1698.2L882.2,1700.0M862.6,1709.1L868.0,1701.9M903.9,1726.4L900.4,1727.4M889.8,1696.1L886.9,1699.1M903.9,1724.8L900.8,1726.6M916.0,1708.6L914.5,1712.4M905.8,1726.9L901.3,1730.0M867.6,1715.4L869.1,1712.0M892.4,1727.6L901.7,1715.1M865.5,1705.7L864.8,1708.5M868.0,1701.9L871.2,1704.9M917.1,1713.7L917.1,1717.7M872.3,1727.3L868.3,1725.3M876.4,1725.8L872.2,1722.0M864.7,1720.8L866.9,1721.8M901.3,1730.0L900.4,1727.4M896.2,1696.7L894.5,1698.3M917.1,1713.7L914.1,1713.1M895.0,1730.4L892.4,1727.6M895.0,1730.4L889.2,1730.9M902.0,1702.1L901.7,1715.1M889.8,1696.1L901.6,1697.2M862.9,1718.1L865.0,1717.6M872.8,1702.4L871.2,1704.9M869.1,1712.0L868.5,1707.9M871.4,1720.2L873.9,1707.1M900.4,1727.4L895.8,1728.0M917.1,1717.7L912.1,1716.5M866.9,1721.8L865.0,1717.6M889.8,1728.9L886.3,1728.8M914.1,1713.1L912.1,1711.6M868.3,1725.3L864.7,1720.8M872.2,1722.0L871.4,1720.2M886.9,1699.1L890.2,1698.7M911.9,1720.7L910.4,1717.3M866.9,1721.8L871.4,1720.2M901.6,1697.2L898.5,1698.4M889.2,1730.9L882.6,1730.9" stroke="#ffffff" stroke-width="0.8" fill="none" opacity="0.7"/>
<path d="M1081.9,1708.5L1088.5,1705.9M1084.7,1684.3L1086.3,1677.5M1086.2,1720.6L1081.9,1708.5M1092.4,1662.2L1089.2,1668.1M1085.5,1673.0L1092.3,1671.5M1104.4,1742.5L1100.3,1738.1M1122.8,1666.4L1116.6,1665.3M1128.9,1704.9L1128.1,1698.9M1099.4,1732.0L1106.1,1730.9M1097.7,1741.2L1092.3,1737.7M1127.2,1727.0L1122.8,1729.8M1099.6,1658.9L1095.4,1663.6M1125.2,1719.0L1109.5,1714.1M1089.2,1668.1L1096.7,1667.8M1080.1,1711.5L1081.9,1708.5M1078.5,1703.8L1077.6,1697.9M1086.2,1666.2L1092.4,1662.2M1086.3,1677.5L1092.3,1671.5M1084.7,1684.3L1091.8,1681.2M1126.8,1690.7L1119.3,1683.7M1097.7,1736.9L1099.4,1732.0M1126.5,1676.1L1120.9,1676.0M1128.6,1718.9L1128.9,1707.9M1088.2,1696.2L1088.5,1705.9M1127.8,1674.2L1124.4,1674.7M1075.2,1700.3L1076.3,1690.2M1092.3,1737.7L1093.7,1729.8M1092.3,1737.7L1087.5,1732.9M1118.8,1732.4L1117.8,1727.7M1092.3,1671.5L1096.7,1667.8M1131.1,1681.7L1126.5,1676.1M1122.3,1732.2L1118.8,1732.4M1104.1,1658.1L1103.4,1660.5M1092.3,1671.5L1091.8,1681.2M1075.2,1700.3L1077.6,1697.9M1095.6,1719.4L1106.1,1730.9M1076.3,1690.2L1079.3,1681.4M1102.5,1682.0L1109.1,1691.4M1082.3,1673.6L1081.6,1681.6M1087.5,1732.9L1087.6,1730.1M1133.8,1690.8L1130.0,1685.6M1088.1,1730.2L1093.7,1729.8M1130.0,1685.6L1125.4,1681.7M1095.4,1663.6L1096.7,1667.8M1133.8,1699.4L1132.5,1692.7M1111.7,1739.7L1108.5,1739.2M1103.4,1660.5L1108.5,1661.8M1106.5,1665.6L1102.5,1682.0M1120.9,1676.0L1125.4,1681.7M1109.1,1691.4L1116.9,1702.8M1079.5,1686.9L1083.0,1685.6M1117.0,1737.7L1118.8,1732.4M1102.5,1682.0L1119.3,1683.7M1096.7,1667.8L1103.0,1665.9M1087.6,1730.1L1090.3,1724.7M1096.7,1667.8L1102.5,1682.0M1117.8,1727.7L1106.1,1730.9M1079.3,1681.4L1082.3,1673.6M1083.0,1685.6L1084.7,1684.3M1133.3,1709.2L1132.1,1703.1M1125.4,1681.7L1126.8,1690.7M1114.7,1669.2L1102.5,1682.0M1108.5,1739.2L1108.3,1734.3M1082.3,1726.0L1082.3,1723.6M1126.8,1690.7L1123.3,1693.3M1079.0,1718.1L1077.2,1709.6M1108.3,1734.3L1106.1,1730.9M1111.3,1659.6L1118.3,1662.3M1117.0,1737.7L1104.4,1742.5M1082.3,1673.6L1086.3,1677.5M1106.5,1665.6L1114.8,1668.4M1119.3,1683.7L1123.3,1693.3M1082.3,1726.0L1090.3,1724.7M1108.5,1661.8L1111.4,1661.7M1079.0,1718.1L1080.1,1711.5M1098.4,1705.3L1095.6,1719.4M1131.5,1709.6L1128.9,1704.9M1081.2,1697.3L1088.5,1705.9M1077.2,1709.6L1081.2,1707.5M1081.6,1681.6L1084.7,1684.3M1077.2,1709.6L1075.2,1700.3M1085.5,1673.0L1089.2,1668.1M1122.8,1666.4L1114.8,1668.4M1116.9,1702.8L1109.5,1714.1M1097.7,1741.2L1097.7,1736.9M1111.4,1661.7L1116.6,1665.3M1130.9,1718.5L1131.5,1709.6M1126.8,1690.7L1128.1,1698.9M1127.2,1727.0L1125.2,1719.0M1128.9,1707.9L1116.9,1702.8M1085.5,1673.0L1086.3,1677.5M1089.2,1668.1L1095.4,1663.6M1118.3,1662.3L1122.8,1666.4M1114.8,1668.4L1114.7,1669.2M1078.5,1703.8L1081.2,1707.5M1127.2,1727.0L1128.6,1718.9M1086.2,1666.2L1089.2,1668.1M1092.4,1662.2L1099.6,1658.9M1122.8,1666.4L1120.9,1676.0M1122.8,1666.4L1127.8,1674.2M1114.7,1669.2L1120.9,1676.0M1128.9,1704.9L1128.9,1707.9M1097.3,1694.7L1098.4,1705.3M1125.4,1681.7L1119.3,1683.7M1092.4,1662.2L1095.4,1663.6M1097.7,1736.9L1103.1,1735.1M1099.6,1658.9L1103.0,1665.9M1127.2,1727.0L1117.0,1737.7M1099.6,1658.9L1104.1,1658.1M1124.4,1674.7L1126.5,1676.1M1091.8,1681.2L1097.3,1694.7M1076.3,1690.2L1079.5,1686.9M1128.9,1707.9L1125.2,1719.0M1109.1,1691.4L1123.3,1693.3M1077.6,1697.9L1081.2,1697.3M1087.5,1732.9L1093.7,1729.8M1122.3,1732.2L1122.8,1729.8M1124.4,1674.7L1120.9,1676.0M1119.7,1724.7L1109.5,1714.1M1076.3,1690.2L1081.2,1697.3M1133.8,1699.4L1133.8,1690.8M1122.8,1729.8L1117.8,1727.7M1127.8,1674.2L1131.1,1681.7M1087.5,1732.9L1088.1,1730.2M1103.4,1660.5L1103.0,1665.9M1083.0,1685.6L1088.2,1696.2M1097.7,1736.9L1093.7,1729.8M1086.3,1677.5L1091.8,1681.2M1131.1,1681.7L1133.8,1690.8M1128.6,1718.9L1125.2,1719.0M1104.1,1658.1L1111.3,1659.6M1111.7,1739.7L1115.0,1735.4M1122.8,1729.8L1118.8,1732.4M1118.8,1732.4L1114.1,1732.6M1079.3,1681.4L1081.6,1681.6M1131.1,1681.7L1130.0,1685.6M1079.5,1686.9L1081.2,1697.3M1109.1,1691.4L1098.4,1705.3M1082.3,1673.6L1086.2,1666.2M1104.1,1658.1L1108.5,1661.8M1111.3,1659.6L1111.4,1661.7M1082.3,1723.6L1090.3,1724.7M1099.4,1732.0L1093.7,1729.8M1102.5,1682.0L1097.3,1694.7M1082.3,1673.6L1085.5,1673.0M1103.0,1665.9L1102.5,1682.0M1093.7,1729.8L1095.6,1719.4M1108.5,1661.8L1106.5,1665.6M1082.3,1726.0L1087.6,1730.1M1079.0,1718.1L1086.2,1720.6M1088.1,1730.2L1090.3,1724.7M1130.0,1685.6L1126.8,1690.7M1117.8,1727.7L1114.1,1732.6M1117.0,1737.7L1111.7,1739.7M1077.2,1709.6L1078.5,1703.8M1119.3,1683.7L1109.1,1691.4M1104.4,1742.5L1108.5,1739.2M1088.2,1696.2L1097.3,1694.7M1132.5,1692.7L1128.1,1698.9M1115.0,1735.4L1108.3,1734.3M1111.4,1661.7L1114.8,1668.4M1086.2,1720.6L1095.6,1719.4M1081.2,1707.5L1088.5,1705.9M1133.3,1709.2L1130.9,1718.5M1081.6,1681.6L1083.0,1685.6M1132.1,1703.1L1131.5,1709.6M1114.1,1732.6L1106.1,1730.9M1128.1,1698.9L1116.9,1702.8M1097.7,1741.2L1100.3,1738.1M1089.2,1668.1L1092.3,1671.5M1118.3,1662.3L1116.6,1665.3M1080.1,1711.5L1086.2,1720.6M1097.3,1694.7L1109.1,1691.4M1108.5,1739.2L1103.1,1735.1M1132.1,1703.1L1128.9,1704.9M1131.5,1709.6L1128.6,1718.9M1091.8,1681.2L1102.5,1682.0M1106.5,1665.6L1114.7,1669.2M1114.1,1732.6L1108.3,1734.3M1122.8,1666.4L1124.4,1674.7M1086.2,1666.2L1085.5,1673.0M1128.9,1704.9L1116.9,1702.8M1130.9,1718.5L1127.2,1727.0M1081.6,1681.6L1086.3,1677.5M1099.6,1658.9L1103.4,1660.5M1108.3,1734.3L1103.1,1735.1M1075.2,1700.3L1078.5,1703.8M1095.6,1719.4L1109.5,1714.1M1092.3,1737.7L1097.7,1736.9M1080.1,1711.5L1081.2,1707.5M1130.9,1718.5L1128.6,1718.9M1127.2,1727.0L1119.7,1724.7M1127.2,1727.0L1122.3,1732.2M1125.2,1719.0L1119.7,1724.7M1100.3,1738.1L1097.7,1736.9M1091.8,1681.2L1088.2,1696.2M1126.5,1676.1L1125.4,1681.7M1076.3,1690.2L1077.6,1697.9M1109.5,1714.1L1106.1,1730.9M1088.2,1696.2L1098.4,1705.3M1078.5,1703.8L1081.2,1697.3M1127.8,1674.2L1126.5,1676.1M1120.9,1676.0L1119.3,1683.7M1100.3,1738.1L1103.1,1735.1M1088.5,1705.9L1098.4,1705.3M1081.9,1708.5L1081.2,1707.5M1092.3,1671.5L1102.5,1682.0M1103.1,1735.1L1099.4,1732.0M1117.8,1727.7L1109.5,1714.1M1122.8,1729.8L1119.7,1724.7M1078.5,1703.8L1088.5,1705.9M1118.8,1732.4L1115.0,1735.4M1131.1,1681.7L1125.4,1681.7M1119.7,1724.7L1117.8,1727.7M1122.3,1732.2L1117.0,1737.7M1133.8,1690.8L1132.5,1692.7M1123.3,1693.3L1116.9,1702.8M1084.7,1684.3L1088.2,1696.2M1079.3,1681.4L1079.5,1686.9M1095.4,1663.6L1103.0,1665.9M1086.2,1720.6L1088.5,1705.9M1133.8,1699.4L1133.3,1709.2M1081.2,1697.3L1088.2,1696.2M1133.8,1690.8L1126.8,1690.7M1087.5,1732.9L1082.3,1726.0M1093.7,1729.8L1090.3,1724.7M1088.5,1705.9L1095.6,1719.4M1079.0,1718.1L1082.3,1723.6M1098.4,1705.3L1116.9,1702.8M1088.1,1730.2L1087.6,1730.1M1111.3,1659.6L1108.5,1661.8M1117.0,1737.7L1115.0,1735.4M1133.8,1699.4L1128.1,1698.9M1133.8,1699.4L1132.1,1703.1M1128.1,1698.9L1123.3,1693.3M1111.7,1739.7L1108.3,1734.3M1111.7,1739.7L1104.4,1742.5M1103.4,1660.5L1106.5,1665.6M1133.3,1709.2L1131.5,1709.6M1114.7,1669.2L1119.3,1683.7M1079.5,1686.9L1081.6,1681.6M1077.2,1709.6L1080.1,1711.5M1081.2,1697.3L1083.0,1685.6M1132.5,1692.7L1126.8,1690.7M1115.0,1735.4L1114.1,1732.6M1099.4,1732.0L1095.6,1719.4M1103.1,1735.1L1106.1,1730.9M1111.4,1661.7L1106.5,1665.6M1132.1,1703.1L1128.1,1698.9M1082.3,1726.0L1079.0,1718.1M1090.3,1724.7L1086.2,1720.6M1116.6,1665.3L1114.8,1668.4M1103.0,1665.9L1106.5,1665.6M1125.2,1719.0L1116.9,1702.8M1098.4,1705.3L1109.5,1714.1M1131.5,1709.6L1128.9,1707.9M1082.3,1723.6L1086.2,1720.6M1118.3,1662.3L1111.4,1661.7M1104.4,1742.5L1103.1,1735.1M1122.8,1666.4L1114.7,1669.2M1104.4,1742.5L1097.7,1741.2M1090.3,1724.7L1095.6,1719.4" stroke="#ffffff" stroke-width="0.95" fill="none" opacity="0.95"/>
<path d="M1084.4,1710.6L1096.7,1716.0M1087.9,1681.7L1090.3,1679.1M1088.2,1721.9L1084.4,1710.6M1089.6,1674.6L1092.1,1674.5M1106.7,1741.7L1105.6,1739.7M1124.4,1669.7L1120.1,1670.4M1129.3,1702.1L1128.7,1698.6M1099.9,1741.6L1093.8,1738.7M1131.3,1718.8L1128.8,1713.7M1127.5,1726.9L1123.8,1730.4M1125.2,1674.2L1121.0,1675.9M1090.9,1671.2L1099.0,1669.8M1118.5,1729.2L1113.3,1716.0M1080.2,1703.0L1088.5,1703.4M1082.0,1714.1L1084.4,1710.6M1080.2,1703.0L1079.3,1699.8M1090.0,1669.6L1095.1,1665.1M1090.3,1679.1L1092.1,1674.5M1125.9,1683.5L1125.2,1688.6M1095.1,1665.1L1101.8,1664.3M1100.2,1738.6L1096.7,1732.7M1127.5,1680.7L1123.5,1678.3M1110.0,1734.0L1113.3,1716.0M1102.6,1735.3L1096.7,1716.0M1128.8,1676.6L1125.2,1674.2M1079.0,1700.7L1078.0,1691.9M1093.8,1738.7L1089.1,1733.6M1117.8,1735.6L1118.5,1729.2M1095.1,1665.1L1099.0,1669.8M1092.1,1674.5L1099.0,1669.8M1132.7,1684.0L1127.5,1680.7M1082.9,1708.1L1088.5,1703.4M1128.7,1698.6L1125.2,1688.6M1092.1,1674.5L1105.0,1677.2M1124.4,1733.2L1117.8,1735.6M1106.6,1660.2L1101.8,1664.3M1079.0,1700.7L1079.3,1699.8M1078.0,1691.9L1084.8,1688.9M1084.5,1676.0L1083.3,1684.5M1089.1,1733.6L1086.8,1726.3M1134.7,1692.3L1131.9,1693.9M1118.6,1702.1L1113.3,1716.0M1090.3,1679.1L1092.9,1684.1M1094.7,1735.1L1094.6,1729.6M1128.4,1723.2L1123.4,1724.3M1094.7,1666.6L1099.0,1669.8M1134.8,1701.6L1132.8,1695.9M1086.8,1726.3L1083.4,1720.7M1112.8,1742.0L1107.4,1739.4M1101.8,1664.3L1110.7,1664.2M1123.5,1678.3L1125.9,1683.5M1099.0,1669.8L1103.3,1668.8M1081.4,1687.7L1084.8,1688.9M1118.3,1738.0L1117.8,1735.6M1092.9,1684.1L1108.4,1688.6M1086.8,1726.3L1092.2,1727.5M1084.8,1688.9L1087.9,1681.7M1080.0,1682.9L1084.5,1676.0M1134.8,1710.7L1133.2,1705.8M1125.9,1683.5L1128.6,1690.6M1132.7,1684.0L1128.6,1690.6M1107.4,1739.4L1110.0,1734.0M1084.3,1727.1L1083.4,1720.7M1131.9,1693.9L1128.7,1698.6M1081.2,1718.8L1078.7,1710.3M1112.8,1661.3L1119.2,1664.6M1109.7,1668.5L1113.0,1670.1M1084.5,1676.0L1090.3,1679.1M1108.4,1688.6L1118.6,1702.1M1110.7,1664.2L1116.1,1666.1M1081.2,1718.8L1082.0,1714.1M1130.9,1711.4L1129.3,1702.1M1083.3,1684.5L1087.9,1681.7M1078.7,1710.3L1082.9,1708.1M1078.7,1710.3L1079.0,1700.7M1089.6,1674.6L1090.9,1671.2M1099.9,1741.6L1100.2,1738.6M1116.1,1666.1L1120.1,1670.4M1131.3,1718.8L1130.9,1711.4M1128.6,1690.6L1128.7,1698.6M1128.8,1713.7L1123.3,1719.0M1089.6,1674.6L1090.3,1679.1M1120.1,1670.4L1125.2,1674.2M1105.0,1677.2L1108.4,1688.6M1090.9,1671.2L1094.7,1666.6M1113.0,1670.1L1121.0,1675.9M1119.2,1664.6L1124.4,1669.7M1080.2,1703.0L1082.9,1708.1M1127.5,1726.9L1128.4,1723.2M1120.1,1670.4L1121.0,1675.9M1090.0,1669.6L1090.9,1671.2M1123.4,1724.3L1123.3,1719.0M1095.1,1665.1L1100.8,1661.9M1124.4,1669.7L1128.8,1676.6M1121.0,1675.9L1123.5,1678.3M1129.3,1702.1L1128.8,1713.7M1093.8,1738.7L1094.7,1735.1M1125.9,1683.5L1108.4,1688.6M1084.8,1688.9L1092.9,1684.1M1095.1,1665.1L1094.7,1666.6M1100.2,1738.6L1102.6,1735.3M1100.8,1661.9L1106.6,1660.2M1110.0,1734.0L1096.7,1716.0M1078.0,1691.9L1081.4,1687.7M1128.8,1713.7L1125.4,1720.1M1103.0,1704.0L1118.6,1702.1M1079.3,1699.8L1083.7,1696.2M1124.4,1733.2L1123.8,1730.4M1089.1,1733.6L1094.6,1729.6M1125.2,1674.2L1123.5,1678.3M1112.8,1733.2L1113.3,1716.0M1078.0,1691.9L1083.7,1696.2M1106.7,1741.7L1099.9,1741.6M1134.8,1701.6L1134.7,1692.3M1123.8,1730.4L1118.5,1729.2M1128.8,1676.6L1132.7,1684.0M1101.8,1664.3L1103.3,1668.8M1102.6,1735.3L1094.6,1729.6M1089.1,1733.6L1094.7,1735.1M1084.4,1710.6L1088.5,1703.4M1128.6,1690.6L1125.2,1688.6M1092.2,1727.5L1096.7,1716.0M1094.7,1735.1L1096.7,1732.7M1132.7,1684.0L1134.7,1692.3M1128.4,1723.2L1125.4,1720.1M1106.6,1660.2L1112.8,1661.3M1112.8,1742.0L1114.1,1737.1M1108.4,1688.6L1125.2,1688.6M1109.7,1668.5L1105.0,1677.2M1117.8,1735.6L1112.8,1733.2M1080.0,1682.9L1083.3,1684.5M1103.0,1704.0L1113.3,1716.0M1083.7,1696.2L1088.5,1703.4M1106.6,1660.2L1110.7,1664.2M1084.5,1676.0L1090.0,1669.6M1131.9,1693.9L1132.8,1695.9M1112.8,1661.3L1116.1,1666.1M1092.9,1684.1L1088.5,1703.4M1121.0,1675.9L1105.0,1677.2M1096.7,1732.7L1094.6,1729.6M1084.5,1676.0L1089.6,1674.6M1112.8,1742.0L1099.9,1741.6M1110.7,1664.2L1109.7,1668.5M1084.3,1727.1L1086.8,1726.3M1128.8,1713.7L1118.6,1702.1M1131.9,1693.9L1128.6,1690.6M1118.3,1738.0L1112.8,1742.0M1118.5,1729.2L1112.8,1733.2M1078.7,1710.3L1080.2,1703.0M1108.4,1688.6L1103.0,1704.0M1106.7,1741.7L1107.4,1739.4M1132.8,1695.9L1128.7,1698.6M1114.1,1737.1L1110.0,1734.0M1116.1,1666.1L1113.0,1670.1M1134.8,1710.7L1131.3,1718.8M1083.3,1684.5L1084.8,1688.9M1078.7,1710.3L1084.4,1710.6M1133.2,1705.8L1130.9,1711.4M1090.9,1671.2L1092.1,1674.5M1099.9,1741.6L1105.6,1739.7M1088.5,1703.4L1103.0,1704.0M1119.2,1664.6L1120.1,1670.4M1082.0,1714.1L1088.2,1721.9M1107.4,1739.4L1102.6,1735.3M1133.2,1705.8L1129.3,1702.1M1105.0,1677.2L1092.9,1684.1M1112.8,1733.2L1110.0,1734.0M1124.4,1669.7L1125.2,1674.2M1125.2,1688.6L1118.6,1702.1M1090.0,1669.6L1089.6,1674.6M1131.3,1718.8L1125.4,1720.1M1131.3,1718.8L1127.5,1726.9M1123.4,1724.3L1113.3,1716.0M1100.8,1661.9L1101.8,1664.3M1110.0,1734.0L1102.6,1735.3M1079.0,1700.7L1080.2,1703.0M1088.5,1703.4L1096.7,1716.0M1093.8,1738.7L1100.2,1738.6M1131.3,1718.8L1128.4,1723.2M1127.5,1726.9L1123.4,1724.3M1127.5,1726.9L1124.4,1733.2M1125.4,1720.1L1123.4,1724.3M1105.6,1739.7L1100.2,1738.6M1087.9,1681.7L1092.9,1684.1M1127.5,1680.7L1125.9,1683.5M1078.0,1691.9L1079.3,1699.8M1080.2,1703.0L1083.7,1696.2M1123.5,1678.3L1108.4,1688.6M1128.8,1676.6L1127.5,1680.7M1083.7,1696.2L1092.9,1684.1M1090.0,1669.6L1094.7,1666.6M1105.6,1739.7L1102.6,1735.3M1096.7,1716.0L1113.3,1716.0M1100.2,1738.6L1094.7,1735.1M1084.4,1710.6L1082.9,1708.1M1092.1,1674.5L1092.9,1684.1M1128.8,1676.6L1123.5,1678.3M1099.0,1669.8L1105.0,1677.2M1123.8,1730.4L1123.4,1724.3M1101.8,1664.3L1099.0,1669.8M1102.6,1735.3L1096.7,1732.7M1094.6,1729.6L1096.7,1716.0M1117.8,1735.6L1114.1,1737.1M1132.7,1684.0L1125.9,1683.5M1124.4,1733.2L1118.5,1729.2M1124.4,1733.2L1118.3,1738.0M1134.7,1692.3L1132.8,1695.9M1123.4,1724.3L1118.5,1729.2M1118.6,1702.1L1123.3,1719.0M1080.0,1682.9L1081.4,1687.7M1134.8,1701.6L1129.3,1702.1M1084.5,1676.0L1087.9,1681.7M1134.8,1701.6L1134.8,1710.7M1103.0,1704.0L1096.7,1716.0M1134.7,1692.3L1128.6,1690.6M1088.2,1721.9L1096.7,1716.0M1089.1,1733.6L1092.2,1727.5M1094.6,1729.6L1092.2,1727.5M1089.1,1733.6L1084.3,1727.1M1081.2,1718.8L1083.4,1720.7M1113.3,1716.0L1123.3,1719.0M1118.3,1738.0L1114.1,1737.1M1128.7,1698.6L1118.6,1702.1M1134.8,1701.6L1128.7,1698.6M1112.8,1661.3L1110.7,1664.2M1134.8,1701.6L1133.2,1705.8M1103.3,1668.8L1105.0,1677.2M1112.8,1742.0L1106.7,1741.7M1086.8,1726.3L1088.2,1721.9M1110.7,1664.2L1103.3,1668.8M1114.1,1737.1L1107.4,1739.4M1121.0,1675.9L1108.4,1688.6M1134.8,1710.7L1130.9,1711.4M1081.4,1687.7L1083.3,1684.5M1078.7,1710.3L1082.0,1714.1M1083.7,1696.2L1084.8,1688.9M1113.0,1670.1L1105.0,1677.2M1114.1,1737.1L1112.8,1733.2M1083.4,1720.7L1082.0,1714.1M1129.3,1702.1L1118.6,1702.1M1107.4,1739.4L1105.6,1739.7M1092.2,1727.5L1088.2,1721.9M1084.3,1727.1L1081.2,1718.8M1120.1,1670.4L1113.0,1670.1M1103.3,1668.8L1109.7,1668.5M1130.9,1711.4L1128.8,1713.7M1125.4,1720.1L1123.3,1719.0M1092.9,1684.1L1103.0,1704.0M1083.4,1720.7L1088.2,1721.9M1119.2,1664.6L1116.1,1666.1M1078.7,1710.3L1078.0,1691.9M1110.7,1664.2L1113.0,1670.1" stroke="#ffffff" stroke-width="0.8" fill="none" opacity="0.7"/>
<path d="M1214.2,1683.1L1218.5,1679.0M1214.6,1728.6L1210.9,1721.2M1226.8,1661.2L1227.9,1664.5M1210.3,1679.9L1213.0,1676.4M1248.9,1752.8L1243.5,1749.5M1281.2,1667.6L1279.4,1669.2M1290.0,1709.9L1289.4,1698.2M1237.6,1751.5L1236.4,1742.2M1237.6,1751.5L1227.6,1748.0M1289.1,1734.8L1285.2,1733.9M1238.7,1657.5L1234.0,1663.7M1279.4,1669.2L1279.0,1678.2M1281.0,1729.3L1285.6,1712.1M1225.8,1711.4L1235.2,1726.0M1227.9,1664.5L1232.9,1669.0M1205.5,1722.4L1210.9,1721.2M1220.9,1734.3L1220.9,1725.7M1220.9,1725.7L1235.2,1726.0M1216.8,1667.6L1228.8,1670.8M1202.7,1710.8L1202.1,1701.2M1216.8,1667.6L1226.8,1661.2M1218.5,1679.0L1228.8,1670.8M1283.2,1684.8L1277.8,1685.5M1214.2,1683.1L1227.6,1683.0M1229.8,1746.2L1236.4,1742.2M1286.7,1679.3L1279.0,1678.2M1277.8,1685.5L1271.6,1698.4M1289.1,1675.6L1286.3,1675.9M1197.9,1704.6L1199.1,1693.6M1248.3,1744.3L1246.9,1736.6M1227.6,1748.0L1217.7,1743.0M1271.4,1743.9L1267.8,1740.1M1228.8,1670.8L1232.9,1669.0M1295.5,1684.4L1286.7,1679.3M1208.9,1713.0L1217.8,1694.2M1228.8,1670.8L1227.6,1683.0M1249.0,1657.0L1238.2,1661.3M1280.9,1743.3L1271.4,1743.9M1197.9,1704.6L1202.1,1701.2M1285.2,1733.9L1281.0,1729.3M1199.1,1693.6L1203.0,1683.7M1234.0,1663.7L1238.2,1661.3M1280.9,1743.3L1274.9,1736.1M1202.1,1701.2L1202.0,1693.9M1208.6,1676.0L1210.3,1679.9M1298.4,1695.0L1291.9,1686.6M1217.7,1743.0L1214.6,1735.4M1208.2,1695.1L1217.8,1694.2M1222.1,1741.3L1228.9,1739.5M1291.9,1686.6L1283.2,1684.8M1234.0,1663.7L1232.9,1669.0M1300.9,1705.2L1296.0,1700.2M1214.6,1735.4L1210.4,1730.9M1259.3,1751.6L1252.3,1749.3M1256.0,1666.7L1244.2,1685.8M1279.0,1678.2L1283.2,1684.8M1240.2,1697.0L1247.4,1715.1M1202.0,1693.9L1208.2,1695.1M1232.9,1669.0L1244.5,1666.1M1244.2,1685.8L1265.2,1688.4M1270.6,1748.5L1271.4,1743.9M1232.9,1669.0L1244.2,1685.8M1281.0,1729.3L1266.4,1733.6M1265.8,1714.5L1250.3,1728.7M1214.6,1735.4L1220.9,1734.3M1203.0,1683.7L1214.2,1683.1M1208.2,1695.1L1214.2,1683.1M1203.0,1683.7L1208.6,1676.0M1299.3,1715.7L1296.3,1706.9M1283.2,1684.8L1288.1,1692.3M1252.3,1749.3L1255.6,1743.7M1249.9,1706.2L1265.8,1714.5M1207.5,1734.5L1210.4,1730.9M1296.3,1706.9L1296.0,1700.2M1203.2,1725.0L1199.5,1715.4M1260.2,1658.8L1257.8,1666.3M1260.2,1658.8L1270.7,1662.6M1256.0,1666.7L1257.8,1666.3M1265.2,1688.4L1249.9,1706.2M1257.8,1666.3L1265.2,1688.4M1203.2,1725.0L1205.5,1722.4M1208.9,1713.0L1225.8,1711.4M1289.4,1698.2L1271.6,1698.4M1210.3,1679.9L1214.2,1683.1M1199.5,1715.4L1208.9,1713.0M1199.5,1715.4L1197.9,1704.6M1237.6,1751.5L1229.8,1746.2M1273.9,1673.7L1277.8,1685.5M1250.3,1728.7L1246.9,1736.6M1288.1,1692.3L1289.4,1698.2M1295.1,1725.1L1292.1,1720.8M1228.9,1739.5L1235.2,1726.0M1213.0,1676.4L1218.5,1679.0M1279.4,1669.2L1286.3,1675.9M1227.9,1664.5L1234.0,1663.7M1270.7,1662.6L1273.9,1673.7M1270.7,1662.6L1281.2,1667.6M1257.8,1666.3L1273.9,1673.7M1202.7,1710.8L1208.9,1713.0M1289.1,1734.8L1286.4,1732.0M1279.4,1669.2L1273.9,1673.7M1216.8,1667.6L1227.9,1664.5M1281.0,1729.3L1265.8,1714.5M1225.8,1711.4L1220.9,1725.7M1226.8,1661.2L1238.7,1657.5M1263.0,1741.3L1266.4,1733.6M1273.9,1673.7L1279.0,1678.2M1281.2,1667.6L1289.1,1675.6M1216.8,1667.6L1218.5,1679.0M1247.4,1715.1L1235.2,1726.0M1217.8,1694.2L1225.8,1711.4M1227.6,1748.0L1222.1,1741.3M1290.0,1709.9L1289.3,1714.3M1226.8,1661.2L1234.0,1663.7M1289.3,1714.3L1285.6,1712.1M1238.7,1657.5L1249.0,1657.0M1286.3,1675.9L1286.7,1679.3M1227.6,1683.0L1217.8,1694.2M1199.1,1693.6L1202.0,1693.9M1271.4,1743.9L1274.9,1736.1M1289.3,1714.3L1281.0,1729.3M1240.2,1697.0L1249.9,1706.2M1279.0,1678.2L1277.8,1685.5M1202.1,1701.2L1208.7,1697.1M1280.9,1743.3L1285.2,1733.9M1243.5,1749.5L1236.4,1742.2M1286.3,1675.9L1279.0,1678.2M1236.4,1742.2L1246.9,1736.6M1248.9,1752.8L1237.6,1751.5M1286.7,1679.3L1291.9,1686.6M1286.4,1732.0L1285.2,1733.9M1300.9,1705.2L1298.4,1695.0M1289.1,1675.6L1295.5,1684.4M1238.2,1661.3L1244.5,1666.1M1217.7,1743.0L1222.1,1741.3M1249.9,1706.2L1271.6,1698.4M1288.1,1692.3L1277.8,1685.5M1218.5,1679.0L1227.6,1683.0M1229.8,1746.2L1228.9,1739.5M1295.5,1684.4L1298.4,1695.0M1286.4,1732.0L1281.0,1729.3M1249.0,1657.0L1260.2,1658.8M1214.2,1683.1L1217.8,1694.2M1265.2,1688.4L1277.8,1685.5M1259.3,1751.6L1261.3,1748.7M1271.4,1743.9L1263.0,1741.3M1203.0,1683.7L1210.3,1679.9M1240.2,1697.0L1225.8,1711.4M1202.0,1693.9L1208.7,1697.1M1295.5,1684.4L1291.9,1686.6M1208.7,1697.1L1217.8,1694.2M1298.4,1695.0L1289.4,1698.2M1249.0,1657.0L1251.4,1661.4M1208.6,1676.0L1216.8,1667.6M1271.6,1698.4L1285.6,1712.1M1203.0,1683.7L1208.2,1695.1M1260.2,1658.8L1261.6,1661.6M1244.5,1666.1L1244.2,1685.8M1236.4,1742.2L1228.9,1739.5M1208.6,1676.0L1213.0,1676.4M1251.4,1661.4L1256.0,1666.7M1207.5,1734.5L1214.6,1735.4M1222.1,1741.3L1220.9,1734.3M1291.9,1686.6L1288.1,1692.3M1270.6,1748.5L1263.0,1741.3M1267.8,1740.1L1263.0,1741.3M1270.6,1748.5L1259.3,1751.6M1199.5,1715.4L1202.7,1710.8M1256.0,1666.7L1265.2,1688.4M1248.9,1752.8L1252.3,1749.3M1296.0,1700.2L1289.4,1698.2M1235.2,1726.0L1250.3,1728.7M1255.6,1743.7L1250.3,1728.7M1261.6,1661.6L1257.8,1666.3M1299.3,1715.7L1289.3,1714.3M1299.3,1715.7L1295.1,1725.1M1261.3,1748.7L1255.6,1743.7M1274.9,1736.1L1266.4,1733.6M1247.4,1715.1L1265.8,1714.5M1292.1,1720.8L1281.0,1729.3M1227.9,1664.5L1228.8,1670.8M1244.2,1685.8L1249.9,1706.2M1217.8,1694.2L1240.2,1697.0M1270.7,1662.6L1279.4,1669.2M1237.6,1751.5L1243.5,1749.5M1210.4,1730.9L1210.9,1721.2M1252.3,1749.3L1248.3,1744.3M1210.9,1721.2L1225.8,1711.4M1288.1,1692.3L1271.6,1698.4M1296.3,1706.9L1290.0,1709.9M1227.6,1683.0L1244.2,1685.8M1292.1,1720.8L1286.4,1732.0M1270.7,1662.6L1257.8,1666.3M1263.0,1741.3L1255.6,1743.7M1265.2,1688.4L1271.6,1698.4M1281.2,1667.6L1286.3,1675.9M1235.2,1726.0L1246.9,1736.6M1255.6,1743.7L1246.9,1736.6M1216.8,1667.6L1213.0,1676.4M1214.6,1728.6L1220.9,1725.7M1236.4,1742.2L1235.2,1726.0M1295.1,1725.1L1289.1,1734.8M1238.7,1657.5L1238.2,1661.3M1255.6,1743.7L1248.3,1744.3M1197.9,1704.6L1202.7,1710.8M1265.8,1714.5L1285.6,1712.1M1289.4,1698.2L1285.6,1712.1M1227.6,1748.0L1229.8,1746.2M1205.5,1722.4L1208.9,1713.0M1295.1,1725.1L1286.4,1732.0M1220.9,1734.3L1235.2,1726.0M1281.0,1729.3L1274.9,1736.1M1289.1,1734.8L1280.9,1743.3M1286.7,1679.3L1283.2,1684.8M1199.1,1693.6L1202.1,1701.2M1289.1,1675.6L1286.7,1679.3M1202.1,1701.2L1208.9,1713.0M1243.5,1749.5L1248.3,1744.3M1290.0,1709.9L1285.6,1712.1M1229.8,1746.2L1222.1,1741.3M1210.9,1721.2L1208.9,1713.0M1247.4,1715.1L1250.3,1728.7M1232.9,1669.0L1227.6,1683.0M1285.2,1733.9L1274.9,1736.1M1248.3,1744.3L1236.4,1742.2M1210.9,1721.2L1220.9,1725.7M1249.0,1657.0L1244.5,1666.1M1274.9,1736.1L1267.8,1740.1M1249.9,1706.2L1247.4,1715.1M1298.4,1695.0L1296.0,1700.2M1208.9,1713.0L1208.7,1697.1M1227.6,1683.0L1240.2,1697.0M1280.9,1743.3L1270.6,1748.5M1203.0,1683.7L1202.0,1693.9M1234.0,1663.7L1244.5,1666.1M1300.9,1705.2L1299.3,1715.7M1217.7,1743.0L1220.9,1734.3M1298.4,1695.0L1288.1,1692.3M1217.7,1743.0L1207.5,1734.5M1228.9,1739.5L1220.9,1734.3M1271.6,1698.4L1265.8,1714.5M1203.2,1725.0L1210.4,1730.9M1225.8,1711.4L1247.4,1715.1M1270.6,1748.5L1261.3,1748.7M1260.2,1658.8L1251.4,1661.4M1214.6,1735.4L1214.6,1728.6M1300.9,1705.2L1296.3,1706.9M1265.8,1714.5L1266.4,1733.6M1259.3,1751.6L1248.9,1752.8M1259.3,1751.6L1255.6,1743.7M1251.4,1661.4L1244.5,1666.1M1273.9,1673.7L1265.2,1688.4M1299.3,1715.7L1292.1,1720.8M1250.3,1728.7L1266.4,1733.6M1199.5,1715.4L1205.5,1722.4M1213.0,1676.4L1214.2,1683.1M1208.7,1697.1L1208.2,1695.1M1261.3,1748.7L1263.0,1741.3M1299.3,1715.7L1290.0,1709.9M1210.4,1730.9L1205.5,1722.4M1296.3,1706.9L1289.4,1698.2M1207.5,1734.5L1203.2,1725.0M1220.9,1734.3L1214.6,1728.6M1244.5,1666.1L1256.0,1666.7M1292.1,1720.8L1289.3,1714.3M1244.2,1685.8L1240.2,1697.0M1210.4,1730.9L1214.6,1728.6M1270.7,1662.6L1261.6,1661.6M1267.8,1740.1L1266.4,1733.6M1248.9,1752.8L1248.3,1744.3M1263.0,1741.3L1250.3,1728.7M1251.4,1661.4L1257.8,1666.3" stroke="#ffffff" stroke-width="0.95" fill="none" opacity="0.95"/>
<path d="M1289.2,1717.6L1269.1,1707.0M1214.5,1688.5L1221.0,1680.9M1275.2,1676.2L1273.0,1691.5M1214.4,1723.0L1213.6,1722.7M1228.9,1664.5L1224.8,1671.4M1220.8,1673.7L1226.4,1675.4M1251.4,1752.7L1244.5,1749.1M1280.2,1669.7L1273.6,1668.8M1290.7,1711.6L1290.6,1702.8M1239.4,1751.2L1229.2,1748.7M1294.5,1726.4L1289.2,1717.6M1289.0,1735.7L1282.2,1737.0M1239.8,1661.7L1233.3,1667.4M1285.5,1725.4L1272.6,1724.5M1209.1,1725.4L1213.6,1722.7M1204.7,1711.0L1204.4,1702.7M1221.0,1680.9L1226.4,1675.4M1220.4,1669.9L1228.9,1664.5M1233.1,1746.0L1233.7,1741.0M1257.9,1694.5L1269.1,1707.0M1289.5,1676.8L1284.6,1676.7M1201.1,1706.1L1202.3,1696.0M1229.2,1748.7L1230.4,1739.5M1229.2,1748.7L1219.2,1743.1M1275.6,1742.5L1272.7,1738.2M1226.4,1675.4L1242.0,1668.7M1295.5,1686.2L1288.8,1684.4M1277.4,1677.6L1273.0,1691.5M1226.4,1675.4L1245.7,1673.3M1281.5,1743.4L1275.6,1742.5M1284.6,1676.7L1287.0,1688.0M1201.1,1706.1L1204.4,1702.7M1282.2,1737.0L1285.5,1725.4M1249.8,1659.9L1249.6,1662.7M1202.3,1696.0L1207.0,1686.2M1212.3,1677.2L1212.9,1682.1M1219.2,1743.1L1217.3,1736.6M1252.9,1714.2L1225.5,1724.8M1298.9,1695.8L1292.6,1689.3M1288.4,1694.7L1273.0,1691.5M1221.0,1680.9L1218.8,1689.7M1223.7,1741.8L1230.4,1739.5M1270.8,1748.7L1272.7,1738.2M1292.6,1689.3L1287.0,1688.0M1233.3,1667.4L1242.0,1668.7M1258.1,1743.9L1252.8,1724.8M1248.2,1745.3L1245.8,1734.1M1298.7,1706.8L1296.1,1699.3M1261.0,1752.6L1257.3,1748.7M1249.6,1662.7L1256.3,1664.1M1277.4,1677.6L1287.0,1688.0M1242.0,1668.7L1247.6,1668.6M1209.3,1687.8L1211.3,1697.5M1270.8,1748.7L1275.6,1742.5M1218.8,1689.7L1238.0,1694.1M1217.3,1736.6L1224.5,1736.0M1263.4,1742.2L1272.6,1724.5M1211.3,1697.5L1214.5,1688.5M1207.0,1686.2L1212.3,1677.2M1297.9,1716.2L1296.0,1713.2M1287.0,1688.0L1288.4,1694.7M1257.3,1748.7L1258.1,1743.9M1252.9,1714.2L1252.8,1724.8M1211.7,1735.0L1209.5,1725.8M1206.3,1727.1L1201.6,1717.4M1256.6,1668.9L1263.4,1670.5M1261.2,1661.7L1272.1,1664.0M1212.3,1677.2L1221.0,1680.9M1238.0,1694.1L1252.9,1714.2M1256.6,1668.9L1257.9,1694.5M1206.3,1727.1L1209.1,1725.4M1293.9,1718.2L1290.7,1711.6M1290.6,1702.8L1269.1,1707.0M1212.9,1682.1L1214.5,1688.5M1225.5,1724.8L1252.8,1724.8M1201.6,1717.4L1201.1,1706.1M1220.8,1673.7L1224.8,1671.4M1239.4,1751.2L1233.1,1746.0M1265.3,1665.4L1273.6,1668.8M1294.5,1726.4L1293.9,1718.2M1288.4,1694.7L1290.6,1702.8M1220.8,1673.7L1221.0,1680.9M1245.7,1673.3L1238.0,1694.1M1224.8,1671.4L1233.3,1667.4M1263.4,1670.5L1275.2,1676.2M1272.1,1664.0L1280.2,1669.7M1204.7,1711.0L1209.9,1708.4M1289.0,1735.7L1289.2,1729.7M1263.4,1670.5L1273.0,1691.5M1220.4,1669.9L1224.8,1671.4M1273.6,1668.8L1275.2,1676.2M1228.9,1664.5L1239.8,1661.7M1280.2,1669.7L1277.4,1677.6M1280.2,1669.7L1289.5,1676.8M1275.2,1676.2L1277.4,1677.6M1290.7,1711.6L1289.2,1717.6M1229.2,1748.7L1223.7,1741.8M1228.9,1664.5L1233.3,1667.4M1211.3,1697.5L1218.8,1689.7M1261.2,1661.7L1256.3,1664.1M1289.2,1717.6L1272.6,1724.5M1239.8,1661.7L1249.8,1659.9M1284.6,1676.7L1288.8,1684.4M1202.3,1696.0L1209.3,1687.8M1275.6,1742.5L1276.4,1736.0M1289.2,1717.6L1285.5,1725.4M1224.5,1713.3L1252.9,1714.2M1204.4,1702.7L1210.6,1697.8M1281.5,1743.4L1282.2,1737.0M1244.5,1749.1L1233.7,1741.0M1284.6,1676.7L1277.4,1677.6M1276.4,1736.0L1272.6,1724.5M1202.3,1696.0L1210.6,1697.8M1288.8,1684.4L1292.6,1689.3M1226.4,1675.4L1238.0,1694.1M1289.2,1729.7L1282.2,1737.0M1298.7,1706.8L1298.9,1695.8M1289.5,1676.8L1295.5,1686.2M1249.6,1662.7L1247.6,1668.6M1230.4,1739.5L1225.5,1724.8M1252.9,1714.2L1269.1,1707.0M1219.2,1743.1L1223.7,1741.8M1233.1,1746.0L1230.4,1739.5M1295.5,1686.2L1298.9,1695.8M1289.2,1729.7L1285.5,1725.4M1249.8,1659.9L1261.2,1661.7M1209.9,1708.4L1211.3,1697.5M1238.0,1694.1L1257.9,1694.5M1282.2,1737.0L1275.6,1742.5M1256.6,1668.9L1245.7,1673.3M1261.0,1752.6L1263.8,1746.9M1207.0,1686.2L1212.9,1682.1M1233.7,1741.0L1245.8,1734.1M1214.4,1723.0L1225.5,1724.8M1224.5,1713.3L1225.5,1724.8M1209.9,1708.4L1224.5,1713.3M1209.3,1687.8L1210.6,1697.8M1249.8,1659.9L1256.3,1664.1M1212.3,1677.2L1220.4,1669.9M1295.5,1686.2L1292.6,1689.3M1263.4,1742.2L1252.8,1724.8M1269.1,1707.0L1272.6,1724.5M1261.2,1661.7L1265.3,1665.4M1233.7,1741.0L1230.4,1739.5M1212.3,1677.2L1220.8,1673.7M1256.3,1664.1L1256.6,1668.9M1211.7,1735.0L1217.3,1736.6M1211.3,1697.5L1224.5,1713.3M1223.7,1741.8L1224.5,1736.0M1270.8,1748.7L1263.4,1742.2M1292.6,1689.3L1288.4,1694.7M1272.7,1738.2L1263.4,1742.2M1270.8,1748.7L1261.0,1752.6M1201.6,1717.4L1204.7,1711.0M1261.2,1661.7L1256.6,1668.9M1238.0,1694.1L1224.5,1713.3M1251.4,1752.7L1257.3,1748.7M1257.9,1694.5L1273.0,1691.5M1296.1,1699.3L1290.6,1702.8M1263.8,1746.9L1258.1,1743.9M1265.3,1665.4L1263.4,1670.5M1297.9,1716.2L1294.5,1726.4M1290.7,1711.6L1269.1,1707.0M1209.3,1687.8L1214.5,1688.5M1201.6,1717.4L1213.6,1722.7M1296.0,1713.2L1293.9,1718.2M1245.8,1734.1L1252.8,1724.8M1224.8,1671.4L1226.4,1675.4M1239.4,1751.2L1244.5,1749.1M1209.5,1725.8L1213.6,1722.7M1272.1,1664.0L1273.6,1668.8M1257.3,1748.7L1248.2,1745.3M1296.0,1713.2L1290.7,1711.6M1288.4,1694.7L1269.1,1707.0M1263.4,1742.2L1258.1,1743.9M1257.9,1694.5L1252.9,1714.2M1263.4,1670.5L1257.9,1694.5M1204.7,1711.0L1213.6,1722.7M1280.2,1669.7L1284.6,1676.7M1220.4,1669.9L1220.8,1673.7M1294.5,1726.4L1285.5,1725.4M1294.5,1726.4L1289.0,1735.7M1212.9,1682.1L1221.0,1680.9M1239.8,1661.7L1249.6,1662.7M1258.1,1743.9L1248.2,1745.3M1201.1,1706.1L1204.7,1711.0M1252.8,1724.8L1272.6,1724.5M1273.0,1691.5L1269.1,1707.0M1229.2,1748.7L1233.1,1746.0M1294.5,1726.4L1289.2,1729.7M1239.8,1661.7L1242.0,1668.7M1289.0,1735.7L1281.5,1743.4M1285.5,1725.4L1276.4,1736.0M1244.5,1749.1L1233.1,1746.0M1287.0,1688.0L1273.0,1691.5M1245.7,1673.3L1257.9,1694.5M1214.5,1688.5L1218.8,1689.7M1288.8,1684.4L1287.0,1688.0M1202.3,1696.0L1204.4,1702.7M1233.3,1667.4L1226.4,1675.4M1258.1,1743.9L1245.8,1734.1M1214.4,1723.0L1224.5,1713.3M1289.5,1676.8L1288.8,1684.4M1204.4,1702.7L1209.9,1708.4M1244.5,1749.1L1248.2,1745.3M1213.6,1722.7L1209.9,1708.4M1242.0,1668.7L1245.7,1673.3M1248.2,1745.3L1233.7,1741.0M1272.7,1738.2L1272.6,1724.5M1249.6,1662.7L1242.0,1668.7M1282.2,1737.0L1276.4,1736.0M1281.5,1743.4L1270.8,1748.7M1298.9,1695.8L1296.1,1699.3M1217.3,1736.6L1225.5,1724.8M1209.9,1708.4L1210.6,1697.8M1276.4,1736.0L1272.7,1738.2M1221.0,1680.9L1238.0,1694.1M1207.0,1686.2L1209.3,1687.8M1298.7,1706.8L1290.7,1711.6M1298.7,1706.8L1297.9,1716.2M1298.9,1695.8L1288.4,1694.7M1230.4,1739.5L1224.5,1736.0M1219.2,1743.1L1211.7,1735.0M1206.3,1727.1L1209.5,1725.8M1225.5,1724.8L1245.8,1734.1M1223.7,1741.8L1217.3,1736.6M1270.8,1748.7L1263.8,1746.9M1247.6,1668.6L1245.7,1673.3M1217.3,1736.6L1214.4,1723.0M1298.7,1706.8L1290.6,1702.8M1298.7,1706.8L1296.0,1713.2M1261.0,1752.6L1251.4,1752.7M1230.4,1739.5L1245.8,1734.1M1249.6,1662.7L1256.6,1668.9M1224.5,1736.0L1225.5,1724.8M1213.6,1722.7L1224.5,1713.3M1263.8,1746.9L1257.3,1748.7M1297.9,1716.2L1293.9,1718.2M1209.3,1687.8L1212.9,1682.1M1252.9,1714.2L1272.6,1724.5M1201.6,1717.4L1209.1,1725.4M1210.6,1697.8L1211.3,1697.5M1296.1,1699.3L1288.4,1694.7M1263.8,1746.9L1263.4,1742.2M1265.3,1665.4L1256.6,1668.9M1209.5,1725.8L1209.1,1725.4M1211.7,1735.0L1214.4,1723.0M1211.7,1735.0L1206.3,1727.1M1273.6,1668.8L1263.4,1670.5M1247.6,1668.6L1256.6,1668.9M1293.9,1718.2L1289.2,1717.6M1218.8,1689.7L1224.5,1713.3M1209.5,1725.8L1214.4,1723.0M1272.1,1664.0L1265.3,1665.4M1251.4,1752.7L1248.2,1745.3M1280.2,1669.7L1275.2,1676.2M1251.4,1752.7L1239.4,1751.2" stroke="#ffffff" stroke-width="0.8" fill="none" opacity="0.7"/>
<path d="M1411.1,1616.6L1423.2,1607.6M1415.2,1587.6L1423.0,1581.3M1404.9,1622.9L1411.1,1616.6M1415.6,1624.7L1411.1,1616.6M1428.1,1569.2L1425.1,1574.6M1481.2,1590.8L1469.3,1607.0M1447.8,1644.9L1442.3,1643.0M1479.0,1573.6L1467.8,1572.6M1486.6,1609.5L1487.4,1605.0M1436.7,1645.3L1427.3,1642.3M1432.5,1636.4L1432.0,1621.3M1404.5,1613.8L1404.1,1613.9M1485.6,1630.0L1480.6,1630.9M1436.7,1567.1L1434.0,1570.0M1477.2,1578.9L1467.4,1577.1M1438.4,1612.4L1455.9,1627.1M1425.1,1574.6L1431.2,1576.6M1400.5,1605.8L1404.5,1613.8M1487.4,1605.0L1469.3,1607.0M1404.5,1613.8L1411.1,1616.6M1432.0,1621.3L1455.9,1627.1M1423.0,1581.3L1426.3,1579.0M1467.4,1577.1L1459.6,1593.1M1417.5,1575.2L1428.1,1569.2M1415.2,1587.6L1424.2,1584.3M1434.9,1641.1L1432.5,1636.4M1487.8,1623.2L1486.1,1613.0M1418.6,1593.2L1423.2,1607.6M1484.6,1580.9L1477.2,1578.9M1400.5,1605.8L1400.5,1597.1M1427.3,1642.3L1426.9,1633.7M1427.3,1642.3L1418.5,1637.9M1428.1,1569.2L1431.2,1576.6M1474.9,1635.8L1468.3,1635.0M1426.3,1579.0L1431.2,1576.6M1486.6,1609.5L1469.3,1607.0M1493.1,1588.8L1487.6,1590.0M1426.3,1579.0L1424.2,1584.3M1448.0,1565.9L1445.3,1568.4M1478.0,1637.6L1474.9,1635.8M1400.5,1605.8L1403.4,1603.7M1480.6,1630.9L1482.4,1620.5M1400.5,1597.1L1405.1,1588.9M1410.0,1581.0L1407.7,1589.5M1403.4,1603.7L1404.7,1597.4M1418.5,1637.9L1416.5,1632.6M1495.4,1596.9L1487.9,1591.5M1487.6,1590.0L1484.1,1592.5M1423.6,1635.1L1426.9,1633.7M1468.5,1642.3L1468.3,1635.0M1434.0,1570.0L1431.2,1576.6M1495.3,1606.7L1491.8,1602.5M1457.7,1644.9L1455.7,1642.5M1451.1,1574.1L1438.9,1580.2M1477.2,1584.4L1481.2,1590.8M1445.3,1594.0L1455.4,1608.9M1431.2,1576.6L1441.6,1574.3M1404.7,1597.4L1410.7,1595.3M1438.9,1580.2L1455.7,1581.2M1468.5,1642.3L1474.9,1635.8M1416.5,1632.6L1417.3,1627.0M1431.2,1576.6L1438.9,1580.2M1477.2,1584.4L1459.6,1593.1M1469.3,1607.0L1466.5,1624.5M1474.8,1629.2L1466.5,1624.5M1410.7,1595.3L1415.2,1587.6M1405.1,1588.9L1410.0,1581.0M1493.3,1614.8L1493.0,1609.5M1481.2,1590.8L1484.1,1592.5M1455.7,1642.5L1453.0,1638.3M1426.9,1633.7L1420.6,1622.1M1459.6,1593.1L1469.3,1607.0M1411.1,1630.6L1408.4,1625.2M1493.0,1609.5L1491.8,1602.5M1454.1,1569.5L1459.6,1574.6M1404.9,1622.9L1400.9,1614.6M1458.9,1567.7L1459.6,1574.6M1451.1,1574.1L1459.6,1574.6M1458.9,1567.7L1469.3,1570.0M1495.3,1606.7L1491.4,1624.0M1455.7,1581.2L1459.6,1593.1M1411.1,1630.6L1417.3,1627.0M1459.6,1574.6L1455.7,1581.2M1463.0,1571.9L1467.4,1577.1M1415.6,1624.7L1420.6,1622.1M1491.3,1614.6L1486.6,1609.5M1404.9,1622.9L1404.5,1613.8M1408.7,1601.1L1423.2,1607.6M1407.7,1589.5L1415.2,1587.6M1400.9,1614.6L1400.5,1605.8M1468.3,1635.0L1466.5,1624.5M1447.8,1644.9L1453.0,1638.3M1460.6,1637.1L1455.9,1627.1M1436.7,1645.3L1434.9,1641.1M1463.0,1571.9L1467.8,1572.6M1491.4,1624.0L1491.3,1614.6M1484.1,1592.5L1487.4,1605.0M1485.6,1630.0L1482.4,1620.5M1414.2,1581.5L1423.0,1581.3M1467.8,1572.6L1477.2,1578.9M1447.4,1638.5L1455.9,1627.1M1469.3,1570.0L1479.0,1573.6M1459.6,1574.6L1467.4,1577.1M1485.6,1630.0L1487.8,1623.2M1467.8,1572.6L1467.4,1577.1M1417.5,1575.2L1425.1,1574.6M1438.4,1612.4L1432.0,1621.3M1482.4,1620.5L1469.3,1607.0M1428.1,1569.2L1436.7,1567.1M1455.4,1608.9L1455.9,1627.1M1479.0,1573.6L1484.6,1580.9M1467.4,1577.1L1477.2,1584.4M1486.6,1609.5L1486.1,1613.0M1431.4,1596.9L1438.4,1612.4M1427.3,1642.3L1423.6,1635.1M1417.5,1575.2L1423.0,1581.3M1428.1,1569.2L1434.0,1570.0M1434.9,1641.1L1447.4,1638.5M1436.7,1567.1L1441.6,1574.3M1411.1,1616.6L1420.6,1622.1M1436.7,1567.1L1448.0,1565.9M1484.1,1592.5L1469.3,1607.0M1400.5,1605.8L1409.1,1611.4M1424.2,1584.3L1431.4,1596.9M1427.3,1642.3L1432.5,1636.4M1400.5,1597.1L1404.7,1597.4M1474.9,1635.8L1474.8,1629.2M1486.1,1613.0L1482.4,1620.5M1445.3,1594.0L1459.6,1593.1M1403.4,1603.7L1408.7,1601.1M1478.0,1637.6L1480.6,1630.9M1477.2,1578.9L1477.2,1584.4M1487.6,1590.0L1487.9,1591.5M1484.6,1580.9L1481.2,1590.8M1495.3,1606.7L1495.4,1596.9M1484.6,1580.9L1493.1,1588.8M1445.3,1568.4L1441.6,1574.3M1418.5,1637.9L1423.6,1635.1M1410.7,1595.3L1418.6,1593.2M1423.0,1581.3L1424.2,1584.3M1493.1,1588.8L1495.4,1596.9M1487.8,1623.2L1482.4,1620.5M1448.0,1565.9L1451.1,1574.1M1448.0,1565.9L1458.9,1567.7M1457.7,1644.9L1459.3,1641.1M1480.6,1630.9L1474.9,1635.8M1405.1,1588.9L1407.7,1589.5M1445.3,1594.0L1438.4,1612.4M1404.7,1597.4L1408.7,1601.1M1493.1,1588.8L1487.9,1591.5M1410.0,1581.0L1417.5,1575.2M1448.0,1565.9L1454.1,1569.5M1482.4,1620.5L1466.5,1624.5M1423.2,1607.6L1420.6,1622.1M1487.9,1591.5L1491.8,1602.5M1438.9,1580.2L1431.4,1596.9M1441.6,1574.3L1438.9,1580.2M1432.5,1636.4L1426.9,1633.7M1458.9,1567.7L1463.0,1571.9M1410.0,1581.0L1414.2,1581.5M1457.7,1644.9L1436.7,1645.3M1454.1,1569.5L1451.1,1574.1M1411.1,1630.6L1416.5,1632.6M1423.6,1635.1L1417.3,1627.0M1487.9,1591.5L1484.1,1592.5M1468.5,1642.3L1460.6,1637.1M1468.3,1635.0L1460.6,1637.1M1468.5,1642.3L1457.7,1644.9M1400.9,1614.6L1404.1,1613.9M1455.7,1581.2L1445.3,1594.0M1451.1,1574.1L1455.7,1581.2M1418.6,1593.2L1431.4,1596.9M1447.8,1644.9L1455.7,1642.5M1491.8,1602.5L1487.4,1605.0M1455.9,1627.1L1466.5,1624.5M1459.3,1641.1L1453.0,1638.3M1463.0,1571.9L1459.6,1574.6M1493.3,1614.8L1491.4,1624.0M1409.1,1611.4L1423.2,1607.6M1407.7,1589.5L1410.7,1595.3M1493.0,1609.5L1491.3,1614.6M1455.4,1608.9L1469.3,1607.0M1425.1,1574.6L1426.3,1579.0M1436.7,1645.3L1442.3,1643.0M1431.4,1596.9L1445.3,1594.0M1408.4,1625.2L1411.1,1616.6M1469.3,1570.0L1467.8,1572.6M1426.9,1633.7L1432.0,1621.3M1417.3,1627.0L1420.6,1622.1M1493.0,1609.5L1486.6,1609.5M1491.3,1614.6L1487.8,1623.2M1424.2,1584.3L1438.9,1580.2M1460.6,1637.1L1453.0,1638.3M1479.0,1573.6L1477.2,1578.9M1417.5,1575.2L1414.2,1581.5M1491.4,1624.0L1485.6,1630.0M1436.7,1567.1L1445.3,1568.4M1453.0,1638.3L1447.4,1638.5M1400.5,1605.8L1404.1,1613.9M1431.4,1596.9L1423.2,1607.6M1427.3,1642.3L1434.9,1641.1M1404.5,1613.8L1409.1,1611.4M1491.4,1624.0L1487.8,1623.2M1486.1,1613.0L1469.3,1607.0M1485.6,1630.0L1478.0,1637.6M1482.4,1620.5L1474.8,1629.2M1442.3,1643.0L1434.9,1641.1M1424.2,1584.3L1418.6,1593.2M1487.6,1590.0L1481.2,1590.8M1400.5,1597.1L1403.4,1603.7M1420.6,1622.1L1432.0,1621.3M1469.3,1570.0L1463.0,1571.9M1484.6,1580.9L1487.6,1590.0M1403.4,1603.7L1409.1,1611.4M1442.3,1643.0L1447.4,1638.5M1423.2,1607.6L1438.4,1612.4M1411.1,1616.6L1409.1,1611.4M1431.2,1576.6L1424.2,1584.3M1447.4,1638.5L1432.5,1636.4M1484.6,1580.9L1477.2,1584.4M1480.6,1630.9L1474.8,1629.2M1455.4,1608.9L1466.5,1624.5M1478.0,1637.6L1468.5,1642.3M1459.6,1593.1L1455.4,1608.9M1495.4,1596.9L1491.8,1602.5M1409.1,1611.4L1408.7,1601.1M1415.2,1587.6L1418.6,1593.2M1481.2,1590.8L1459.6,1593.1M1474.8,1629.2L1468.3,1635.0M1405.1,1588.9L1404.7,1597.4M1434.0,1570.0L1441.6,1574.3M1410.0,1581.0L1415.2,1587.6M1495.3,1606.7L1493.3,1614.8M1408.7,1601.1L1418.6,1593.2M1418.5,1637.9L1411.1,1630.6M1426.9,1633.7L1417.3,1627.0M1404.9,1622.9L1408.4,1625.2M1438.4,1612.4L1455.4,1608.9M1468.5,1642.3L1459.3,1641.1M1458.9,1567.7L1454.1,1569.5M1423.6,1635.1L1416.5,1632.6M1495.3,1606.7L1493.0,1609.5M1445.3,1568.4L1451.1,1574.1M1457.7,1644.9L1447.8,1644.9M1459.3,1641.1L1455.7,1642.5M1493.3,1614.8L1491.3,1614.6M1467.4,1577.1L1455.7,1581.2M1404.7,1597.4L1407.7,1589.5M1414.2,1581.5L1415.2,1587.6M1408.7,1601.1L1410.7,1595.3M1491.8,1602.5L1484.1,1592.5M1453.0,1638.3L1455.9,1627.1M1459.3,1641.1L1460.6,1637.1M1447.4,1638.5L1432.0,1621.3M1411.1,1630.6L1415.6,1624.7M1493.0,1609.5L1487.4,1605.0M1417.3,1627.0L1415.6,1624.7M1411.1,1630.6L1404.9,1622.9M1441.6,1574.3L1451.1,1574.1M1423.2,1607.6L1432.0,1621.3M1491.3,1614.6L1486.1,1613.0M1404.9,1622.9L1404.1,1613.9M1438.9,1580.2L1445.3,1594.0M1408.4,1625.2L1415.6,1624.7M1425.1,1574.6L1423.0,1581.3M1447.8,1644.9L1447.4,1638.5M1460.6,1637.1L1466.5,1624.5M1447.8,1644.9L1436.7,1645.3" stroke="#ffffff" stroke-width="0.95" fill="none" opacity="0.95"/>
<path d="M1414.4,1619.5L1427.8,1619.8M1419.1,1589.5L1419.6,1586.7M1407.5,1624.3L1414.4,1619.5M1416.4,1623.7L1414.4,1619.5M1429.8,1573.0L1425.5,1577.1M1422.1,1579.6L1425.9,1582.2M1449.0,1646.7L1445.3,1642.7M1477.7,1577.4L1473.4,1578.0M1440.5,1645.2L1437.0,1637.1M1487.0,1614.4L1487.3,1606.3M1440.5,1645.2L1428.7,1642.2M1408.0,1618.6L1406.4,1613.5M1485.3,1630.9L1478.5,1633.5M1439.3,1569.4L1433.5,1574.0M1473.4,1578.0L1477.8,1587.2M1425.5,1577.1L1435.3,1578.2M1408.0,1618.6L1414.4,1619.5M1419.6,1586.7L1425.9,1582.2M1420.3,1577.9L1429.8,1573.0M1419.1,1589.5L1427.5,1586.0M1430.9,1639.7L1437.0,1637.1M1420.2,1598.8L1427.8,1619.8M1485.4,1583.2L1480.8,1582.2M1403.0,1607.8L1404.7,1599.6M1428.7,1642.2L1420.2,1637.4M1474.6,1636.6L1472.3,1633.1M1429.8,1573.0L1435.3,1578.2M1491.7,1624.4L1478.7,1638.0M1483.8,1619.2L1475.7,1629.6M1492.3,1590.2L1487.0,1588.9M1425.9,1582.2L1435.3,1578.2M1478.7,1638.0L1474.6,1636.6M1448.6,1567.9L1442.6,1572.4M1480.8,1582.2L1479.7,1589.2M1403.0,1607.8L1407.2,1604.0M1478.5,1633.5L1480.2,1627.8M1425.9,1582.2L1427.5,1586.0M1404.7,1599.6L1407.3,1589.9M1433.5,1574.0L1442.6,1572.4M1413.2,1583.7L1411.4,1590.4M1407.2,1604.0L1408.2,1595.9M1420.2,1637.4L1418.4,1632.2M1495.9,1598.9L1489.3,1592.8M1426.7,1637.5L1426.5,1633.2M1469.0,1642.0L1472.3,1633.1M1433.5,1574.0L1435.3,1578.2M1495.5,1606.9L1493.1,1606.5M1418.4,1632.2L1414.6,1627.5M1460.3,1645.5L1450.8,1643.0M1489.3,1592.8L1480.8,1598.6M1450.7,1575.1L1444.0,1581.8M1477.8,1587.2L1479.7,1589.2M1459.5,1600.7L1465.2,1618.6M1408.2,1595.9L1414.0,1595.1M1469.0,1642.0L1474.6,1636.6M1444.0,1581.8L1466.0,1585.1M1477.8,1587.2L1480.8,1598.6M1418.4,1632.2L1421.5,1627.6M1435.3,1578.2L1444.0,1581.8M1459.7,1637.0L1460.5,1627.6M1407.3,1589.9L1413.2,1583.7M1414.0,1595.1L1419.1,1589.5M1496.0,1615.8L1491.4,1609.0M1450.8,1643.0L1455.8,1638.0M1413.1,1631.5L1414.6,1627.5M1491.4,1609.0L1493.1,1606.5M1456.5,1572.7L1462.5,1577.5M1485.8,1599.3L1480.8,1598.6M1407.5,1624.3L1404.2,1616.2M1459.7,1569.8L1462.5,1577.5M1459.7,1569.8L1469.5,1572.4M1448.2,1639.6L1460.5,1627.6M1413.2,1583.7L1419.6,1586.7M1450.7,1575.1L1462.5,1577.5M1466.0,1585.1L1480.8,1598.6M1462.5,1577.5L1466.0,1585.1M1465.0,1574.0L1470.1,1580.8M1407.5,1624.3L1408.0,1618.6M1444.5,1619.4L1436.4,1633.6M1488.8,1620.7L1487.0,1614.4M1411.4,1590.4L1419.1,1589.5M1404.2,1616.2L1403.0,1607.8M1422.1,1579.6L1425.5,1577.1M1465.2,1618.6L1460.5,1627.6M1440.5,1645.2L1430.9,1639.7M1491.7,1624.4L1488.8,1620.7M1485.8,1599.3L1487.3,1606.3M1483.8,1619.2L1465.2,1618.6M1422.1,1579.6L1419.6,1586.7M1473.4,1578.0L1480.8,1582.2M1469.5,1572.4L1470.1,1580.8M1469.5,1572.4L1477.7,1577.4M1462.5,1577.5L1470.1,1580.8M1406.4,1613.5L1412.0,1612.2M1485.3,1630.9L1484.2,1630.2M1420.3,1577.9L1425.5,1577.1M1473.4,1578.0L1470.1,1580.8M1475.7,1629.6L1465.2,1618.6M1429.8,1573.0L1439.3,1569.4M1477.7,1577.4L1485.4,1583.2M1470.1,1580.8L1477.8,1587.2M1420.3,1577.9L1419.6,1586.7M1487.0,1614.4L1483.8,1619.2M1436.9,1604.8L1444.5,1619.4M1428.7,1642.2L1426.7,1637.5M1429.8,1573.0L1433.5,1574.0M1439.3,1569.4L1448.6,1567.9M1427.5,1586.0L1436.9,1604.8M1404.7,1599.6L1408.2,1595.9M1483.8,1619.2L1480.2,1627.8M1459.5,1600.7L1480.8,1598.6M1412.0,1612.2L1420.2,1598.8M1407.2,1604.0L1410.7,1606.0M1478.7,1638.0L1478.5,1633.5M1420.2,1637.4L1426.5,1633.2M1480.8,1582.2L1477.8,1587.2M1445.3,1642.7L1437.0,1637.1M1472.3,1633.1L1465.2,1618.6M1487.0,1588.9L1489.3,1592.8M1484.2,1630.2L1478.5,1633.5M1485.4,1583.2L1479.7,1589.2M1495.5,1606.9L1495.9,1598.9M1478.5,1633.5L1472.3,1633.1M1485.4,1583.2L1492.3,1590.2M1420.2,1637.4L1426.7,1637.5M1442.6,1572.4L1448.3,1576.2M1421.5,1627.6L1427.8,1619.8M1414.0,1595.1L1420.2,1598.8M1442.6,1572.4L1444.0,1581.8M1430.9,1639.7L1426.5,1633.2M1419.6,1586.7L1427.5,1586.0M1492.3,1590.2L1495.9,1598.9M1484.2,1630.2L1480.2,1627.8M1448.6,1567.9L1450.7,1575.1M1448.6,1567.9L1459.7,1569.8M1448.2,1639.6L1444.5,1619.4M1460.3,1645.5L1461.8,1642.2M1478.5,1633.5L1474.6,1636.6M1407.3,1589.9L1411.4,1590.4M1459.5,1600.7L1444.5,1619.4M1408.2,1595.9L1410.7,1606.0M1492.3,1590.2L1489.3,1592.8M1413.2,1583.7L1420.3,1577.9M1448.6,1567.9L1456.5,1572.7M1459.7,1569.8L1465.0,1574.0M1444.0,1581.8L1436.9,1604.8M1448.3,1576.2L1444.0,1581.8M1414.6,1627.5L1421.5,1627.6M1426.5,1633.2L1436.4,1633.6M1456.5,1572.7L1450.7,1575.1M1413.1,1631.5L1418.4,1632.2M1483.8,1619.2L1480.8,1598.6M1407.5,1624.3L1416.4,1623.7M1469.0,1642.0L1459.7,1637.0M1489.3,1592.8L1485.8,1599.3M1472.3,1633.1L1459.7,1637.0M1469.0,1642.0L1460.3,1645.5M1448.2,1639.6L1436.4,1633.6M1404.2,1616.2L1406.4,1613.5M1466.0,1585.1L1459.5,1600.7M1449.0,1646.7L1450.8,1643.0M1420.2,1598.8L1436.9,1604.8M1493.1,1606.5L1487.3,1606.3M1462.5,1577.5L1444.0,1581.8M1461.8,1642.2L1455.8,1638.0M1465.0,1574.0L1462.5,1577.5M1496.0,1615.8L1491.7,1624.4M1412.0,1612.2L1427.8,1619.8M1411.4,1590.4L1414.0,1595.1M1488.8,1620.7L1480.2,1627.8M1425.5,1577.1L1425.9,1582.2M1440.5,1645.2L1445.3,1642.7M1436.9,1604.8L1459.5,1600.7M1469.5,1572.4L1473.4,1578.0M1483.8,1619.2L1487.3,1606.3M1450.8,1643.0L1448.2,1639.6M1491.4,1609.0L1487.0,1614.4M1488.8,1620.7L1484.2,1630.2M1427.5,1586.0L1444.0,1581.8M1459.7,1637.0L1455.8,1638.0M1477.7,1577.4L1480.8,1582.2M1420.3,1577.9L1422.1,1579.6M1491.7,1624.4L1485.3,1630.9M1439.3,1569.4L1442.6,1572.4M1455.8,1638.0L1448.2,1639.6M1403.0,1607.8L1406.4,1613.5M1436.9,1604.8L1427.8,1619.8M1428.7,1642.2L1430.9,1639.7M1408.0,1618.6L1412.0,1612.2M1491.7,1624.4L1484.2,1630.2M1485.3,1630.9L1478.7,1638.0M1480.2,1627.8L1475.7,1629.6M1427.5,1586.0L1420.2,1598.8M1487.0,1588.9L1479.7,1589.2M1404.7,1599.6L1407.2,1604.0M1487.0,1588.9L1480.8,1598.6M1406.4,1613.5L1410.7,1606.0M1485.4,1583.2L1487.0,1588.9M1477.8,1587.2L1466.0,1585.1M1445.3,1642.7L1448.2,1639.6M1427.8,1619.8L1444.5,1619.4M1430.9,1639.7L1426.7,1637.5M1414.4,1619.5L1412.0,1612.2M1418.4,1632.2L1426.5,1633.2M1448.2,1639.6L1437.0,1637.1M1478.5,1633.5L1475.7,1629.6M1442.6,1572.4L1435.3,1578.2M1426.5,1633.2L1427.8,1619.8M1472.3,1633.1L1460.5,1627.6M1435.3,1578.2L1427.5,1586.0M1496.0,1615.8L1495.9,1598.9M1448.6,1567.9L1448.3,1576.2M1478.7,1638.0L1469.0,1642.0M1403.0,1607.8L1410.7,1606.0M1495.9,1598.9L1493.1,1606.5M1412.0,1612.2L1410.7,1606.0M1475.7,1629.6L1472.3,1633.1M1419.1,1589.5L1420.2,1598.8M1479.7,1589.2L1480.8,1598.6M1480.8,1598.6L1465.2,1618.6M1407.3,1589.9L1408.2,1595.9M1455.8,1638.0L1460.5,1627.6M1416.4,1623.7L1427.8,1619.8M1413.2,1583.7L1419.1,1589.5M1495.5,1606.9L1496.0,1615.8M1410.7,1606.0L1420.2,1598.8M1495.9,1598.9L1485.8,1599.3M1426.5,1633.2L1421.5,1627.6M1420.2,1637.4L1413.1,1631.5M1430.9,1639.7L1436.4,1633.6M1427.8,1619.8L1436.4,1633.6M1407.5,1624.3L1414.6,1627.5M1444.5,1619.4L1465.2,1618.6M1469.0,1642.0L1461.8,1642.2M1459.7,1569.8L1456.5,1572.7M1487.3,1606.3L1480.8,1598.6M1495.5,1606.9L1491.4,1609.0M1460.3,1645.5L1455.8,1638.0M1460.3,1645.5L1449.0,1646.7M1496.0,1615.8L1488.8,1620.7M1470.1,1580.8L1466.0,1585.1M1408.2,1595.9L1411.4,1590.4M1404.2,1616.2L1408.0,1618.6M1410.7,1606.0L1414.0,1595.1M1493.1,1606.5L1485.8,1599.3M1461.8,1642.2L1459.7,1637.0M1496.0,1615.8L1487.0,1614.4M1437.0,1637.1L1436.4,1633.6M1450.8,1643.0L1445.3,1642.7M1491.4,1609.0L1487.3,1606.3M1421.5,1627.6L1416.4,1623.7M1413.1,1631.5L1407.5,1624.3M1448.3,1576.2L1450.7,1575.1M1488.8,1620.7L1483.8,1619.2M1444.5,1619.4L1460.5,1627.6M1444.0,1581.8L1459.5,1600.7M1414.6,1627.5L1416.4,1623.7M1469.5,1572.4L1465.0,1574.0M1449.0,1646.7L1440.5,1645.2" stroke="#ffffff" stroke-width="0.8" fill="none" opacity="0.7"/>
<path d="M1419.2,1682.2L1420.1,1680.1M1419.9,1699.8L1416.5,1696.3M1426.4,1672.2L1425.2,1673.8M1415.8,1680.6L1417.8,1677.9M1443.1,1706.4L1442.3,1699.8M1455.1,1674.3L1451.9,1674.5M1437.3,1708.6L1433.5,1708.1M1432.4,1708.8L1431.3,1706.0M1459.9,1692.5L1460.9,1689.6M1432.4,1708.8L1426.0,1708.4M1463.3,1698.8L1459.1,1695.4M1459.5,1702.3L1455.3,1703.9M1432.0,1670.5L1427.3,1673.7M1451.9,1674.5L1453.3,1678.3M1414.1,1696.8L1416.5,1696.3M1425.2,1673.8L1429.7,1680.0M1423.4,1702.0L1424.8,1694.0M1455.1,1674.3L1463.7,1681.3M1411.7,1689.4L1412.0,1686.5M1420.6,1673.6L1426.4,1672.2M1419.2,1682.2L1429.7,1680.0M1459.1,1684.7L1452.7,1682.2M1430.6,1708.6L1431.3,1706.0M1460.3,1700.1L1459.1,1695.4M1458.8,1678.1L1456.5,1676.5M1426.0,1708.4L1428.4,1705.2M1426.0,1708.4L1421.1,1705.6M1450.3,1706.2L1450.7,1704.6M1428.1,1674.9L1429.2,1675.3M1463.7,1681.3L1460.4,1680.2M1455.5,1705.9L1450.3,1706.2M1437.2,1669.5L1437.9,1671.6M1428.1,1674.9L1429.7,1680.0M1456.5,1676.5L1457.8,1681.6M1455.3,1703.9L1456.8,1699.0M1410.4,1685.6L1413.5,1681.6M1416.3,1677.6L1415.8,1680.6M1412.0,1686.5L1413.2,1684.4M1421.1,1705.6L1419.2,1701.9M1465.1,1685.8L1462.9,1683.7M1460.4,1680.2L1459.1,1684.7M1425.4,1706.6L1428.4,1705.2M1427.3,1673.7L1429.2,1675.3M1465.5,1690.5L1463.8,1687.1M1419.2,1701.9L1416.7,1700.5M1444.2,1709.4L1442.8,1707.6M1437.9,1674.0L1441.3,1681.2M1437.9,1671.6L1440.4,1672.0M1453.3,1678.3L1457.8,1681.6M1429.2,1675.3L1435.2,1674.0M1413.2,1684.4L1417.1,1683.9M1449.6,1707.7L1450.3,1706.2M1441.3,1681.2L1452.7,1682.2M1460.9,1689.6L1448.9,1690.0M1419.2,1701.9L1423.4,1702.0M1417.1,1683.9L1419.2,1682.2M1413.5,1681.6L1416.3,1677.6M1465.6,1695.2L1462.9,1693.5M1457.8,1681.6L1459.1,1684.7M1449.5,1676.1L1441.3,1681.2M1442.8,1707.6L1443.1,1706.4M1416.3,1702.2L1416.7,1700.5M1440.4,1672.0L1446.3,1674.5M1413.0,1699.1L1411.2,1693.9M1444.1,1670.6L1446.3,1674.5M1444.1,1670.6L1449.9,1672.0M1437.9,1674.0L1446.3,1674.5M1459.9,1692.5L1448.9,1690.0M1447.4,1672.9L1449.5,1676.1M1413.0,1699.1L1414.1,1696.8M1415.8,1680.6L1419.2,1682.2M1411.2,1693.9L1415.1,1691.4M1411.2,1693.9L1408.7,1689.5M1437.3,1708.6L1443.1,1706.4M1432.4,1708.8L1430.6,1708.6M1434.5,1690.7L1442.3,1699.8M1428.4,1705.2L1434.5,1690.7M1463.3,1698.8L1463.3,1695.6M1459.1,1684.7L1460.9,1689.6M1459.5,1702.3L1456.8,1699.0M1462.9,1693.5L1459.1,1695.4M1417.8,1677.9L1420.1,1680.1M1434.9,1705.8L1434.5,1690.7M1425.2,1673.8L1427.3,1673.7M1449.9,1672.0L1449.5,1676.1M1449.9,1672.0L1455.1,1674.3M1446.3,1674.5L1449.5,1676.1M1410.4,1685.6L1411.7,1689.4M1411.7,1689.4L1415.1,1691.4M1459.5,1702.3L1460.3,1700.1M1420.6,1673.6L1425.2,1673.8M1451.9,1674.5L1449.5,1676.1M1426.4,1672.2L1432.0,1670.5M1446.5,1706.0L1442.3,1699.8M1455.1,1674.3L1453.3,1678.3M1449.5,1676.1L1453.3,1678.3M1455.1,1674.3L1458.8,1678.1M1420.6,1673.6L1420.1,1680.1M1459.9,1692.5L1459.1,1695.4M1426.0,1708.4L1425.4,1706.6M1457.8,1681.6L1452.7,1682.2M1426.4,1672.2L1427.3,1673.7M1432.0,1670.5L1435.2,1674.0M1432.0,1670.5L1437.2,1669.5M1434.9,1705.8L1442.3,1699.8M1429.7,1680.0L1434.5,1690.7M1410.4,1685.6L1413.2,1684.4M1459.1,1695.4L1456.8,1699.0M1448.9,1690.0L1442.3,1699.8M1415.1,1691.4L1424.8,1694.0M1412.0,1686.5L1415.3,1689.0M1455.5,1705.9L1455.3,1703.9M1433.5,1708.1L1431.3,1706.0M1456.5,1676.5L1453.3,1678.3M1460.4,1680.2L1462.9,1683.7M1437.3,1708.6L1434.9,1705.8M1465.5,1690.5L1465.1,1685.8M1455.3,1703.9L1450.7,1704.6M1437.9,1671.6L1435.2,1674.0M1421.1,1705.6L1425.4,1706.6M1458.8,1678.1L1457.8,1681.6M1458.8,1678.1L1463.7,1681.3M1417.1,1683.9L1424.8,1694.0M1430.6,1708.6L1428.4,1705.2M1420.1,1680.1L1429.7,1680.0M1463.7,1681.3L1465.1,1685.8M1460.3,1700.1L1456.8,1699.0M1437.2,1669.5L1444.1,1670.6M1444.2,1709.4L1444.8,1708.0M1450.3,1706.2L1446.5,1706.0M1413.5,1681.6L1415.8,1680.6M1463.7,1681.3L1462.9,1683.7M1456.8,1699.0L1448.9,1690.0M1413.2,1684.4L1415.3,1689.0M1416.3,1677.6L1420.6,1673.6M1437.2,1669.5L1440.4,1672.0M1413.5,1681.6L1417.1,1683.9M1462.9,1683.7L1463.8,1687.1M1441.3,1681.2L1434.5,1690.7M1444.1,1670.6L1447.4,1672.9M1431.3,1706.0L1428.4,1705.2M1435.2,1674.0L1441.3,1681.2M1416.3,1677.6L1417.8,1677.9M1444.2,1709.4L1432.4,1708.8M1440.4,1672.0L1437.9,1674.0M1416.3,1702.2L1419.2,1701.9M1459.1,1684.7L1448.9,1690.0M1425.4,1706.6L1423.4,1702.0M1462.9,1683.7L1459.1,1684.7M1449.6,1707.7L1446.5,1706.0M1450.7,1704.6L1446.5,1706.0M1449.6,1707.7L1444.2,1709.4M1411.2,1693.9L1411.7,1689.4M1452.7,1682.2L1448.9,1690.0M1437.3,1708.6L1442.8,1707.6M1424.8,1694.0L1434.5,1690.7M1463.8,1687.1L1460.9,1689.6M1446.3,1674.5L1441.3,1681.2M1444.8,1708.0L1443.1,1706.4M1447.4,1672.9L1446.3,1674.5M1465.6,1695.2L1463.3,1698.8M1453.7,1701.4L1442.3,1699.8M1415.8,1680.6L1417.1,1683.9M1462.9,1693.5L1463.3,1695.6M1425.2,1673.8L1428.1,1674.9M1432.4,1708.8L1433.5,1708.1M1434.5,1690.7L1448.9,1690.0M1449.9,1672.0L1451.9,1674.5M1428.4,1705.2L1424.8,1694.0M1416.7,1700.5L1416.5,1696.3M1462.9,1693.5L1459.9,1692.5M1413.0,1699.1L1408.7,1689.5M1429.7,1680.0L1441.3,1681.2M1446.5,1706.0L1443.1,1706.4M1431.3,1706.0L1434.5,1690.7M1419.9,1699.8L1424.8,1694.0M1455.1,1674.3L1456.5,1676.5M1420.6,1673.6L1417.8,1677.9M1463.3,1698.8L1459.5,1702.3M1415.8,1680.6L1420.1,1680.1M1443.1,1706.4L1434.9,1705.8M1408.7,1689.5L1411.7,1689.4M1426.0,1708.4L1430.6,1708.6M1414.1,1696.8L1415.1,1691.4M1463.3,1698.8L1460.3,1700.1M1432.0,1670.5L1429.2,1675.3M1456.8,1699.0L1453.7,1701.4M1459.5,1702.3L1455.5,1705.9M1420.6,1673.6L1432.0,1670.5M1429.7,1680.0L1424.8,1694.0M1460.4,1680.2L1457.8,1681.6M1410.4,1685.6L1412.0,1686.5M1427.3,1673.7L1428.1,1674.9M1411.7,1689.4L1415.3,1689.0M1453.3,1678.3L1452.7,1682.2M1458.8,1678.1L1460.4,1680.2M1433.5,1708.1L1434.9,1705.8M1416.5,1696.3L1415.1,1691.4M1429.2,1675.3L1429.7,1680.0M1434.9,1705.8L1431.3,1706.0M1455.3,1703.9L1453.7,1701.4M1416.5,1696.3L1424.8,1694.0M1410.4,1685.6L1416.3,1677.6M1455.5,1705.9L1450.7,1704.6M1437.2,1669.5L1435.2,1674.0M1453.7,1701.4L1450.7,1704.6M1465.1,1685.8L1463.8,1687.1M1455.5,1705.9L1449.6,1707.7M1419.2,1682.2L1424.8,1694.0M1415.1,1691.4L1415.3,1689.0M1413.5,1681.6L1413.2,1684.4M1465.5,1690.5L1465.6,1695.2M1421.1,1705.6L1423.4,1702.0M1415.3,1689.0L1424.8,1694.0M1428.4,1705.2L1423.4,1702.0M1421.1,1705.6L1416.3,1702.2M1413.0,1699.1L1416.7,1700.5M1449.6,1707.7L1444.8,1708.0M1444.1,1670.6L1440.4,1672.0M1465.5,1690.5L1460.9,1689.6M1435.2,1674.0L1429.7,1680.0M1465.5,1690.5L1462.9,1693.5M1419.2,1701.9L1419.9,1699.8M1437.9,1671.6L1437.9,1674.0M1444.2,1709.4L1437.3,1708.6M1459.1,1695.4L1448.9,1690.0M1444.8,1708.0L1442.8,1707.6M1465.6,1695.2L1463.3,1695.6M1449.5,1676.1L1452.7,1682.2M1411.2,1693.9L1414.1,1696.8M1415.3,1689.0L1417.1,1683.9M1463.8,1687.1L1459.1,1684.7M1444.8,1708.0L1446.5,1706.0M1416.7,1700.5L1414.1,1696.8M1453.7,1701.4L1448.9,1690.0M1462.9,1693.5L1460.9,1689.6M1416.3,1702.2L1413.0,1699.1M1423.4,1702.0L1419.9,1699.8M1435.2,1674.0L1437.9,1674.0M1463.3,1695.6L1459.1,1695.4M1450.7,1704.6L1442.3,1699.8M1441.3,1681.2L1448.9,1690.0M1416.7,1700.5L1419.9,1699.8M1449.9,1672.0L1447.4,1672.9M1425.2,1673.8L1420.1,1680.1M1444.2,1709.4L1426.0,1708.4M1437.3,1708.6L1432.4,1708.8" stroke="#ffffff" stroke-width="0.95" fill="none" opacity="0.95"/>
<path d="M1420.5,1683.2L1424.5,1678.9M1421.0,1700.9L1418.4,1695.6M1427.9,1673.3L1428.1,1676.3M1439.9,1711.1L1435.8,1709.9M1456.2,1676.5L1452.8,1676.3M1433.8,1710.5L1431.9,1705.6M1461.6,1694.5L1461.6,1691.5M1433.8,1710.5L1428.3,1708.6M1463.3,1700.3L1459.8,1697.7M1415.2,1697.3L1414.9,1693.2M1460.6,1703.8L1457.9,1703.9M1433.1,1672.5L1430.0,1674.7M1452.8,1676.3L1456.4,1681.3M1428.1,1676.3L1430.3,1677.3M1415.2,1697.3L1418.4,1695.6M1414.9,1693.2L1415.0,1690.8M1422.8,1676.1L1426.7,1678.7M1422.3,1706.3L1428.2,1708.9M1422.8,1676.1L1427.9,1673.3M1424.5,1678.9L1426.7,1678.7M1420.5,1683.2L1431.0,1684.0M1459.5,1701.9L1459.8,1697.7M1433.1,1672.5L1445.6,1672.4M1460.7,1679.1L1459.1,1680.8M1412.4,1691.4L1413.3,1686.7M1428.3,1708.6L1427.0,1705.3M1452.9,1705.6L1448.7,1706.1M1426.7,1678.7L1430.3,1677.3M1463.7,1683.6L1461.4,1681.9M1461.6,1691.5L1456.6,1696.4M1456.2,1706.5L1452.9,1705.6M1439.9,1672.4L1435.8,1673.0M1426.7,1678.7L1431.0,1684.0M1412.4,1691.4L1415.0,1690.8M1459.1,1680.8L1460.4,1683.9M1413.3,1686.7L1418.3,1686.3M1413.3,1686.7L1415.0,1682.9M1456.2,1706.5L1454.7,1702.3M1417.7,1679.2L1418.0,1683.3M1422.3,1706.3L1423.0,1705.2M1464.9,1687.2L1463.6,1687.7M1426.6,1706.9L1427.0,1705.3M1450.8,1709.1L1448.7,1706.1M1459.5,1701.9L1454.7,1702.3M1463.6,1687.7L1460.4,1683.9M1430.0,1674.7L1430.3,1677.3M1466.4,1690.7L1464.9,1691.7M1445.2,1710.0L1442.1,1709.2M1461.6,1694.5L1456.6,1696.4M1456.4,1681.3L1460.4,1683.9M1430.3,1677.3L1437.5,1675.4M1416.5,1684.4L1418.3,1686.3M1450.8,1709.1L1452.9,1705.6M1424.2,1697.0L1443.7,1699.8M1445.8,1706.1L1443.7,1699.8M1423.0,1705.2L1423.6,1701.6M1418.4,1695.6L1417.3,1690.1M1418.3,1686.3L1420.5,1683.2M1415.0,1682.9L1417.7,1679.2M1465.6,1696.6L1465.6,1692.0M1460.4,1683.9L1460.8,1687.7M1442.1,1709.2L1443.4,1707.7M1418.7,1702.8L1418.9,1701.8M1465.6,1692.0L1464.9,1691.7M1444.2,1673.9L1448.7,1677.6M1439.1,1707.0L1443.7,1699.8M1463.6,1687.7L1461.6,1691.5M1414.8,1700.5L1412.9,1695.9M1450.8,1709.1L1439.9,1711.1M1440.8,1675.3L1448.7,1677.6M1445.6,1672.4L1451.6,1674.8M1448.7,1677.6L1443.7,1699.8M1444.2,1673.9L1445.5,1674.0M1414.8,1700.5L1415.2,1697.3M1463.9,1696.3L1461.6,1694.5M1418.0,1683.3L1420.5,1683.2M1412.9,1695.9L1412.4,1691.4M1464.9,1691.7L1461.6,1694.5M1433.8,1710.5L1428.2,1708.9M1463.3,1700.3L1463.9,1696.3M1460.8,1687.7L1461.6,1691.5M1422.9,1679.2L1424.5,1678.9M1431.9,1705.6L1443.7,1699.8M1431.0,1684.0L1443.7,1699.8M1428.1,1676.3L1430.0,1674.7M1451.6,1674.8L1450.0,1677.5M1448.7,1677.6L1450.0,1677.5M1451.6,1674.8L1456.2,1676.5M1414.9,1693.2L1416.9,1692.7M1460.6,1703.8L1459.5,1701.9M1422.8,1676.1L1428.1,1676.3M1452.8,1676.3L1450.0,1677.5M1427.9,1673.3L1433.1,1672.5M1456.2,1676.5L1456.4,1681.3M1450.0,1677.5L1456.4,1681.3M1456.2,1676.5L1460.7,1679.1M1422.8,1676.1L1424.5,1678.9M1461.6,1694.5L1459.8,1697.7M1428.3,1708.6L1426.6,1706.9M1418.3,1686.3L1424.2,1697.0M1427.9,1673.3L1430.0,1674.7M1433.1,1672.5L1439.9,1672.4M1459.1,1680.8L1461.4,1681.9M1428.3,1708.6L1431.9,1705.6M1413.3,1686.7L1416.5,1684.4M1452.9,1705.6L1454.7,1702.3M1459.8,1697.7L1459.2,1697.9M1456.4,1681.3L1456.6,1696.4M1415.0,1690.8L1417.3,1690.1M1456.2,1706.5L1457.9,1703.9M1435.8,1709.9L1431.9,1705.6M1454.7,1702.3L1443.7,1699.8M1459.2,1697.9L1456.6,1696.4M1459.1,1680.8L1456.4,1681.3M1413.3,1686.7L1417.3,1690.1M1459.5,1701.9L1457.9,1703.9M1466.4,1690.7L1464.9,1687.2M1460.7,1679.1L1463.7,1683.6M1435.8,1673.0L1437.5,1675.4M1422.3,1706.3L1426.6,1706.9M1460.8,1687.7L1456.6,1696.4M1424.5,1678.9L1431.0,1684.0M1463.7,1683.6L1464.9,1687.2M1459.5,1701.9L1459.2,1697.9M1439.9,1672.4L1440.8,1675.3M1466.4,1690.7L1463.6,1687.7M1439.9,1672.4L1445.6,1672.4M1445.2,1710.0L1446.7,1708.3M1443.7,1699.8L1456.6,1696.4M1440.8,1675.3L1431.0,1684.0M1415.0,1682.9L1418.0,1683.3M1446.7,1708.3L1448.7,1706.1M1463.7,1683.6L1463.6,1687.7M1448.7,1706.1L1443.7,1699.8M1417.7,1679.2L1422.8,1676.1M1439.9,1672.4L1444.2,1673.9M1422.3,1706.3L1414.8,1700.5M1463.6,1687.7L1464.9,1691.7M1445.6,1672.4L1445.5,1674.0M1427.0,1705.3L1424.2,1697.0M1431.9,1705.6L1427.0,1705.3M1417.7,1679.2L1422.9,1679.2M1444.2,1673.9L1440.8,1675.3M1418.7,1702.8L1423.0,1705.2M1463.6,1687.7L1460.8,1687.7M1450.8,1709.1L1445.2,1710.0M1448.7,1706.1L1445.8,1706.1M1412.9,1695.9L1414.9,1693.2M1439.9,1711.1L1442.1,1709.2M1421.0,1700.9L1424.2,1697.0M1456.4,1681.3L1460.8,1687.7M1464.9,1691.7L1461.6,1691.5M1446.7,1708.3L1443.4,1707.7M1445.5,1674.0L1448.7,1677.6M1465.6,1696.6L1463.3,1700.3M1418.0,1683.3L1418.3,1686.3M1465.6,1692.0L1463.9,1696.3M1428.1,1676.3L1426.7,1678.7M1433.8,1710.5L1435.8,1709.9M1418.9,1701.8L1418.4,1695.6M1451.6,1674.8L1452.8,1676.3M1442.1,1709.2L1439.1,1707.0M1431.0,1684.0L1424.2,1697.0M1451.6,1674.8L1448.7,1677.6M1445.8,1706.1L1443.4,1707.7M1456.2,1676.5L1459.1,1680.8M1448.7,1677.6L1456.6,1696.4M1414.9,1693.2L1418.4,1695.6M1422.8,1676.1L1422.9,1679.2M1463.3,1700.3L1460.6,1703.8M1433.1,1672.5L1435.8,1673.0M1443.4,1707.7L1439.1,1707.0M1412.4,1691.4L1414.9,1693.2M1428.3,1708.6L1428.2,1708.9M1463.3,1700.3L1459.5,1701.9M1418.4,1695.6L1424.2,1697.0M1418.3,1686.3L1431.0,1684.0M1433.1,1672.5L1430.3,1677.3M1460.6,1703.8L1456.2,1706.5M1459.2,1697.9L1454.7,1702.3M1461.4,1681.9L1460.4,1683.9M1448.7,1677.6L1456.4,1681.3M1413.3,1686.7L1415.0,1690.8M1460.7,1679.1L1461.4,1681.9M1415.0,1690.8L1416.9,1692.7M1417.3,1690.1L1424.2,1697.0M1435.8,1709.9L1439.1,1707.0M1428.2,1708.9L1426.6,1706.9M1418.4,1695.6L1416.9,1692.7M1423.0,1705.2L1427.0,1705.3M1466.4,1690.7L1463.7,1683.6M1439.1,1707.0L1431.9,1705.6M1457.9,1703.9L1454.7,1702.3M1430.3,1677.3L1431.0,1684.0M1435.8,1673.0L1430.3,1677.3M1459.8,1697.7L1456.6,1696.4M1463.7,1683.6L1460.4,1683.9M1439.9,1672.4L1437.5,1675.4M1456.2,1706.5L1450.8,1709.1M1454.7,1702.3L1448.7,1706.1M1416.9,1692.7L1417.3,1690.1M1443.4,1707.7L1443.7,1699.8M1415.0,1682.9L1416.5,1684.4M1417.7,1679.2L1420.5,1683.2M1466.4,1690.7L1465.6,1696.6M1454.7,1702.3L1456.6,1696.4M1422.3,1706.3L1418.7,1702.8M1427.0,1705.3L1423.6,1701.6M1414.8,1700.5L1418.9,1701.8M1426.6,1706.9L1423.0,1705.2M1450.8,1709.1L1446.7,1708.3M1463.9,1696.3L1464.9,1691.7M1437.5,1675.4L1431.0,1684.0M1423.0,1705.2L1421.0,1700.9M1466.4,1690.7L1465.6,1692.0M1445.2,1710.0L1443.4,1707.7M1445.2,1710.0L1439.9,1711.1M1445.6,1672.4L1444.2,1673.9M1465.6,1696.6L1463.9,1696.3M1416.5,1684.4L1418.0,1683.3M1412.9,1695.9L1415.2,1697.3M1422.9,1679.2L1420.5,1683.2M1417.3,1690.1L1418.3,1686.3M1431.9,1705.6L1424.2,1697.0M1448.7,1677.6L1431.0,1684.0M1446.7,1708.3L1445.8,1706.1M1445.6,1672.4L1456.2,1676.5M1418.9,1701.8L1415.2,1697.3M1418.7,1702.8L1421.0,1700.9M1418.7,1702.8L1414.8,1700.5M1423.6,1701.6L1421.0,1700.9M1437.5,1675.4L1440.8,1675.3M1463.9,1696.3L1459.8,1697.7M1418.9,1701.8L1421.0,1700.9M1451.6,1674.8L1445.5,1674.0M1423.6,1701.6L1424.2,1697.0M1439.9,1711.1L1439.1,1707.0M1439.9,1711.1L1433.8,1710.5" stroke="#ffffff" stroke-width="0.8" fill="none" opacity="0.7"/>
<path d="M1110.4,1113.3L1113.4,1108.2M1107.5,1128.9L1108.9,1126.0M1135.1,1112.4L1127.6,1117.7M1111.4,1131.3L1108.9,1126.0M1123.7,1141.7L1122.0,1140.6M1133.9,1103.9L1131.1,1105.3M1136.7,1124.9L1136.7,1119.4M1120.0,1142.0L1116.1,1139.6M1137.7,1129.3L1136.2,1128.3M1109.1,1134.5L1105.3,1121.5M1136.7,1119.4L1127.6,1117.7M1119.9,1099.4L1119.8,1102.5M1137.5,1134.9L1134.7,1135.0M1135.5,1108.0L1131.5,1107.1M1108.1,1128.9L1108.9,1126.0M1108.2,1123.4L1106.9,1118.6M1112.8,1104.2L1114.9,1105.5M1113.4,1108.2L1114.9,1105.5M1112.8,1104.2L1115.1,1102.3M1110.4,1113.3L1119.7,1114.1M1116.6,1138.6L1119.1,1136.6M1135.5,1109.4L1133.8,1109.1M1119.9,1099.4L1126.4,1100.5M1136.1,1108.0L1135.5,1108.0M1105.3,1121.5L1106.7,1116.2M1116.1,1139.6L1112.7,1138.1M1115.1,1102.3L1119.7,1104.9M1129.8,1138.7L1129.1,1135.9M1114.9,1105.5L1119.7,1104.9M1138.2,1112.3L1135.5,1109.4M1136.7,1119.4L1134.2,1125.9M1133.4,1137.5L1129.8,1138.7M1123.6,1100.7L1121.6,1101.8M1105.3,1121.5L1106.9,1118.6M1106.7,1116.2L1110.2,1115.2M1106.7,1116.2L1107.4,1111.7M1119.8,1102.5L1121.6,1101.8M1109.8,1107.7L1108.7,1112.6M1112.7,1138.1L1111.8,1136.4M1138.0,1116.2L1138.5,1115.3M1115.0,1137.6L1115.0,1134.6M1129.7,1139.0L1129.1,1135.9M1136.2,1131.6L1133.9,1132.7M1119.8,1102.5L1119.7,1104.9M1139.6,1120.9L1139.5,1120.9M1111.8,1136.4L1110.5,1132.7M1136.7,1124.9L1134.2,1125.9M1125.4,1104.1L1127.6,1117.7M1133.8,1109.1L1135.1,1112.4M1119.7,1104.9L1122.0,1104.3M1108.8,1114.1L1110.2,1115.2M1129.7,1139.0L1129.8,1138.7M1127.6,1117.7L1123.0,1127.7M1111.8,1136.4L1111.1,1132.5M1110.2,1115.2L1110.4,1113.3M1107.4,1111.7L1109.8,1107.7M1131.5,1107.1L1127.6,1117.7M1140.2,1125.0L1138.4,1122.9M1133.4,1137.5L1129.8,1136.6M1123.1,1140.3L1125.4,1138.0M1133.9,1132.7L1129.8,1136.6M1135.1,1112.4L1136.8,1115.3M1109.1,1134.5L1110.5,1132.7M1138.4,1122.9L1139.5,1120.9M1138.2,1112.3L1136.8,1115.3M1107.5,1128.9L1106.9,1125.9M1126.4,1100.5L1126.2,1104.1M1129.1,1135.9L1125.4,1138.0M1126.4,1100.5L1131.0,1101.7M1125.4,1104.1L1126.2,1104.1M1109.8,1107.7L1113.4,1108.2M1115.0,1134.6L1111.4,1131.3M1111.4,1131.3L1123.0,1127.7M1107.5,1128.9L1108.1,1128.9M1138.8,1127.5L1136.7,1124.9M1108.7,1112.6L1110.4,1113.3M1106.9,1125.9L1109.2,1124.8M1106.9,1125.9L1105.3,1121.5M1123.7,1141.7L1125.4,1138.0M1111.9,1107.0L1114.0,1105.5M1120.0,1142.0L1116.6,1138.6M1128.1,1102.0L1131.1,1105.3M1137.7,1129.3L1138.8,1127.5M1136.8,1115.3L1136.7,1119.4M1111.9,1107.0L1113.4,1108.2M1119.1,1136.6L1123.0,1127.7M1119.7,1114.1L1123.0,1127.7M1120.0,1142.0L1119.7,1137.8M1131.0,1101.7L1133.9,1103.9M1126.2,1104.1L1131.5,1107.1M1108.2,1123.4L1109.2,1124.8M1137.5,1134.9L1136.2,1131.6M1133.8,1109.1L1127.6,1117.7M1109.4,1118.6L1119.7,1114.1M1131.1,1105.3L1131.5,1107.1M1112.8,1104.2L1114.0,1105.5M1115.1,1102.3L1119.9,1099.4M1125.4,1138.0L1119.1,1136.6M1131.5,1107.1L1133.8,1109.1M1133.9,1103.9L1136.1,1108.0M1136.7,1124.9L1136.2,1128.3M1116.1,1139.6L1115.0,1137.6M1115.1,1102.3L1119.8,1102.5M1116.6,1138.6L1119.7,1137.8M1136.8,1115.3L1127.6,1117.7M1119.9,1099.4L1123.6,1100.7M1135.5,1108.0L1135.5,1109.4M1106.7,1116.2L1108.8,1114.1M1136.2,1128.3L1135.1,1130.3M1135.1,1130.3L1134.2,1125.9M1106.9,1118.6L1109.4,1118.6M1109.4,1118.6L1123.0,1127.7M1133.9,1132.7L1123.0,1127.7M1135.5,1108.0L1133.8,1109.1M1133.4,1137.5L1134.7,1135.0M1106.7,1116.2L1109.4,1118.6M1123.7,1141.7L1120.0,1142.0M1136.2,1131.6L1134.7,1135.0M1139.6,1120.9L1138.0,1116.2M1136.1,1108.0L1138.2,1112.3M1121.6,1101.8L1122.0,1104.3M1113.4,1108.2L1119.7,1104.9M1112.7,1138.1L1115.0,1137.6M1113.4,1108.2L1119.7,1114.1M1115.0,1137.6L1119.1,1136.6M1136.2,1131.6L1135.1,1130.3M1133.4,1137.5L1126.9,1142.3M1139.6,1120.9L1138.5,1115.3M1123.6,1100.7L1126.4,1100.5M1105.3,1121.5L1107.4,1111.7M1123.0,1127.7L1134.2,1125.9M1125.4,1104.1L1119.7,1114.1M1126.9,1142.3L1128.7,1139.7M1129.8,1138.7L1129.8,1136.6M1107.4,1111.7L1108.7,1112.6M1128.7,1139.7L1129.1,1135.9M1138.2,1112.3L1138.5,1115.3M1129.1,1135.9L1123.0,1127.7M1109.8,1107.7L1112.8,1104.2M1138.0,1116.2L1136.7,1119.4M1123.6,1100.7L1124.6,1101.0M1126.4,1100.5L1128.1,1102.0M1110.5,1132.7L1111.1,1132.5M1119.1,1136.6L1115.0,1134.6M1109.8,1107.7L1111.9,1107.0M1124.6,1101.0L1125.4,1104.1M1109.1,1134.5L1111.8,1136.4M1138.5,1115.3L1136.8,1115.3M1129.1,1135.9L1129.8,1136.6M1129.7,1139.0L1126.9,1142.3M1106.9,1125.9L1108.2,1123.4M1123.7,1141.7L1123.1,1140.3M1139.5,1120.9L1136.7,1119.4M1128.7,1139.7L1125.4,1138.0M1128.1,1102.0L1126.2,1104.1M1108.8,1114.1L1110.4,1113.3M1106.9,1125.9L1108.9,1126.0M1110.5,1132.7L1111.4,1131.3M1114.0,1105.5L1114.9,1105.5M1120.0,1142.0L1122.0,1140.6M1131.0,1101.7L1131.1,1105.3M1108.1,1128.9L1111.4,1131.3M1123.1,1140.3L1119.7,1137.8M1138.4,1122.9L1136.7,1124.9M1107.5,1128.9L1105.3,1121.5M1119.7,1114.1L1127.6,1117.7M1111.4,1131.3L1109.2,1124.8M1125.4,1104.1L1131.5,1107.1M1133.9,1103.9L1135.5,1108.0M1112.8,1104.2L1111.9,1107.0M1120.0,1142.0L1112.7,1138.1M1137.7,1129.3L1135.1,1130.3M1115.1,1102.3L1114.9,1105.5M1137.7,1129.3L1137.5,1134.9M1119.9,1099.4L1121.6,1101.8M1125.4,1138.0L1119.7,1137.8M1105.3,1121.5L1108.2,1123.4M1116.1,1139.6L1116.6,1138.6M1137.7,1129.3L1136.2,1131.6M1110.2,1115.2L1119.7,1114.1M1135.1,1130.3L1133.9,1132.7M1135.5,1109.4L1135.1,1112.4M1106.7,1116.2L1106.9,1118.6M1108.2,1123.4L1109.4,1118.6M1109.2,1124.8L1123.0,1127.7M1136.1,1108.0L1135.5,1109.4M1122.0,1140.6L1119.7,1137.8M1116.6,1138.6L1115.0,1137.6M1108.9,1126.0L1109.2,1124.8M1119.7,1104.9L1119.7,1114.1M1111.8,1136.4L1115.0,1134.6M1139.6,1120.9L1138.2,1112.3M1134.7,1135.0L1133.9,1132.7M1119.7,1137.8L1119.1,1136.6M1136.2,1128.3L1134.2,1125.9M1138.2,1112.3L1135.1,1112.4M1123.6,1100.7L1122.0,1104.3M1133.9,1132.7L1129.1,1135.9M1138.0,1116.2L1139.5,1120.9M1133.4,1137.5L1129.7,1139.0M1109.2,1124.8L1109.4,1118.6M1125.4,1138.0L1123.0,1127.7M1107.4,1111.7L1108.8,1114.1M1119.8,1102.5L1122.0,1104.3M1109.8,1107.7L1110.4,1113.3M1139.6,1120.9L1140.2,1125.0M1133.9,1132.7L1134.2,1125.9M1138.0,1116.2L1136.8,1115.3M1115.0,1134.6L1111.1,1132.5M1107.5,1128.9L1110.5,1132.7M1115.0,1137.6L1111.8,1136.4M1129.7,1139.0L1128.7,1139.7M1127.6,1117.7L1134.2,1125.9M1122.0,1104.3L1119.7,1114.1M1126.4,1100.5L1124.6,1101.0M1126.9,1142.3L1125.4,1138.0M1139.6,1120.9L1138.4,1122.9M1126.9,1142.3L1123.7,1141.7M1134.7,1135.0L1129.8,1136.6M1124.6,1101.0L1122.0,1104.3M1140.2,1125.0L1138.8,1127.5M1108.8,1114.1L1108.7,1112.6M1109.4,1118.6L1110.2,1115.2M1140.2,1125.0L1136.7,1124.9M1110.5,1132.7L1108.1,1128.9M1123.1,1140.3L1122.0,1140.6M1138.4,1122.9L1136.7,1119.4M1109.1,1134.5L1107.5,1128.9M1137.5,1134.9L1138.8,1127.5M1111.1,1132.5L1111.4,1131.3M1122.0,1104.3L1125.4,1104.1M1131.1,1105.3L1126.2,1104.1M1138.8,1127.5L1136.2,1128.3M1114.0,1105.5L1113.4,1108.2M1115.0,1134.6L1123.0,1127.7M1131.0,1101.7L1128.1,1102.0M1133.9,1103.9L1131.5,1107.1M1124.6,1101.0L1126.2,1104.1" stroke="#ffffff" stroke-width="0.95" fill="none" opacity="0.95"/>
<path d="M1101.2,1191.5L1102.8,1188.8M1091.6,1219.9L1097.2,1214.5M1142.4,1182.5L1138.5,1194.3M1101.1,1220.3L1097.2,1214.5M1110.3,1178.2L1105.6,1182.8M1097.1,1188.3L1101.6,1185.2M1129.1,1238.2L1124.8,1235.2M1153.1,1181.0L1148.3,1181.6M1161.1,1207.1L1160.3,1202.7M1119.7,1237.5L1110.8,1235.1M1092.1,1214.0L1091.6,1212.9M1161.1,1207.1L1142.3,1209.2M1160.0,1226.4L1155.7,1225.3M1119.0,1175.3L1119.0,1177.7M1148.3,1181.6L1148.3,1186.1M1092.1,1214.0L1097.2,1214.5M1102.9,1180.7L1110.3,1178.2M1102.8,1188.8L1108.8,1184.6M1098.6,1194.8L1114.7,1195.7M1114.6,1233.8L1114.1,1229.5M1159.9,1220.2L1158.0,1217.5M1125.2,1196.8L1134.6,1208.6M1159.4,1185.8L1154.5,1185.0M1087.9,1206.0L1089.5,1199.2M1110.8,1235.1L1104.4,1231.2M1110.3,1178.2L1118.9,1179.6M1148.2,1232.0L1142.5,1229.2M1108.8,1184.6L1118.9,1179.6M1162.9,1192.6L1158.5,1189.4M1148.3,1186.1L1138.5,1194.3M1108.8,1184.6L1123.2,1187.5M1128.5,1173.4L1127.7,1176.4M1153.4,1231.2L1148.2,1232.0M1087.9,1206.0L1091.9,1203.5M1155.7,1225.3L1155.6,1219.3M1151.1,1223.9L1150.2,1217.2M1154.5,1185.0L1157.3,1194.4M1089.5,1199.2L1091.4,1192.4M1159.4,1185.8L1166.8,1199.7M1096.8,1186.1L1097.1,1188.3M1104.4,1231.2L1102.4,1227.5M1166.8,1199.7L1162.8,1198.5M1153.4,1231.2L1151.1,1223.9M1101.2,1191.5L1114.7,1195.7M1107.4,1230.9L1110.9,1227.7M1119.0,1177.7L1118.9,1179.6M1123.0,1231.0L1114.6,1217.7M1168.2,1205.9L1165.4,1205.2M1102.4,1227.5L1098.3,1223.5M1137.4,1237.0L1130.0,1235.8M1130.3,1179.2L1132.1,1185.1M1127.7,1176.4L1130.6,1175.7M1161.1,1207.1L1150.2,1217.2M1148.3,1186.1L1157.3,1194.4M1118.9,1179.6L1121.0,1180.3M1093.7,1194.0L1098.6,1194.8M1101.1,1220.3L1114.6,1217.7M1105.0,1208.9L1114.6,1217.7M1145.4,1236.1L1148.2,1232.0M1102.4,1227.5L1103.0,1223.0M1137.4,1237.0L1138.6,1231.5M1091.4,1192.4L1096.8,1186.1M1098.6,1194.8L1101.2,1191.5M1162.9,1192.6L1159.2,1198.3M1157.3,1194.4L1159.2,1198.3M1166.7,1212.9L1164.9,1210.3M1130.0,1235.8L1129.5,1232.3M1118.5,1204.3L1122.3,1215.8M1097.4,1225.7L1098.3,1223.5M1164.9,1210.3L1165.4,1205.2M1091.6,1219.9L1089.3,1213.1M1138.5,1174.8L1137.9,1181.6M1162.8,1198.5L1160.3,1202.7M1138.5,1174.8L1145.4,1177.7M1130.3,1179.2L1137.9,1181.6M1114.7,1195.7L1118.5,1204.3M1130.6,1175.7L1136.7,1176.6M1091.6,1219.9L1092.1,1214.0M1162.3,1217.0L1161.1,1207.1M1097.1,1188.3L1101.2,1191.5M1089.3,1213.1L1087.9,1206.0M1101.6,1185.2L1105.6,1182.8M1138.6,1231.5L1134.6,1223.6M1165.4,1205.2L1161.1,1207.1M1119.7,1237.5L1114.6,1233.8M1164.1,1219.8L1162.3,1217.0M1159.2,1198.3L1160.3,1202.7M1101.6,1185.2L1102.8,1188.8M1159.2,1198.3L1142.3,1209.2M1119.7,1237.5L1123.0,1231.0M1123.2,1187.5L1114.7,1195.7M1145.4,1177.7L1142.4,1182.5M1123.0,1231.0L1134.6,1223.6M1145.4,1177.7L1153.1,1181.0M1137.9,1181.6L1142.4,1182.5M1091.6,1212.9L1095.9,1207.6M1137.9,1181.6L1138.5,1194.3M1160.0,1226.4L1159.9,1220.2M1148.3,1181.6L1142.4,1182.5M1102.9,1180.7L1105.6,1182.8M1124.8,1235.2L1129.5,1232.3M1142.3,1209.2L1150.2,1217.2M1110.3,1178.2L1119.0,1175.3M1153.1,1181.0L1148.3,1186.1M1153.1,1181.0L1159.4,1185.8M1142.4,1182.5L1148.3,1186.1M1161.1,1207.1L1158.0,1217.5M1138.5,1194.3L1142.3,1209.2M1110.8,1235.1L1107.4,1230.9M1110.3,1178.2L1119.0,1177.7M1114.6,1233.8L1123.0,1231.0M1119.0,1175.3L1121.0,1180.3M1119.0,1175.3L1128.5,1173.4M1087.9,1206.0L1095.9,1207.6M1154.5,1185.0L1158.5,1189.4M1110.8,1235.1L1114.1,1229.5M1089.5,1199.2L1093.7,1194.0M1141.0,1220.0L1134.6,1223.6M1148.2,1232.0L1151.1,1223.9M1158.0,1217.5L1155.6,1219.3M1105.0,1208.9L1118.5,1204.3M1091.9,1203.5L1095.4,1203.2M1153.4,1231.2L1155.7,1225.3M1154.5,1185.0L1148.3,1186.1M1155.6,1219.3L1150.2,1217.2M1151.1,1223.9L1141.0,1220.0M1089.5,1199.2L1095.4,1203.2M1108.8,1184.6L1114.7,1195.7M1159.9,1220.2L1155.7,1225.3M1168.2,1205.9L1166.8,1199.7M1159.4,1185.8L1162.9,1192.6M1127.7,1176.4L1121.0,1180.3M1104.4,1231.2L1107.4,1230.9M1118.5,1204.3L1134.6,1208.6M1107.4,1230.9L1114.1,1229.5M1162.9,1192.6L1166.8,1199.7M1159.9,1220.2L1155.6,1219.3M1128.5,1173.4L1138.5,1174.8M1137.4,1237.0L1142.9,1232.5M1114.7,1195.7L1125.2,1196.8M1130.3,1179.2L1123.2,1187.5M1091.4,1192.4L1097.1,1188.3M1142.9,1232.5L1142.5,1229.2M1114.1,1229.5L1114.6,1217.7M1162.9,1192.6L1162.8,1198.5M1093.7,1194.0L1095.4,1203.2M1095.9,1207.6L1105.0,1208.9M1096.8,1186.1L1102.9,1180.7M1128.5,1173.4L1130.6,1175.7M1134.6,1208.6L1141.0,1220.0M1162.8,1198.5L1165.4,1205.2M1132.1,1185.1L1138.5,1194.3M1098.3,1223.5L1103.0,1223.0M1114.1,1229.5L1110.9,1227.7M1138.5,1174.8L1136.7,1176.6M1096.8,1186.1L1101.6,1185.2M1130.6,1175.7L1130.3,1179.2M1103.0,1223.0L1114.6,1217.7M1097.4,1225.7L1102.4,1227.5M1098.6,1194.8L1105.0,1208.9M1162.8,1198.5L1159.2,1198.3M1142.5,1229.2L1138.6,1231.5M1145.4,1236.1L1137.4,1237.0M1123.0,1231.0L1122.3,1215.8M1089.3,1213.1L1091.6,1212.9M1114.7,1195.7L1105.0,1208.9M1129.1,1238.2L1130.0,1235.8M1125.2,1196.8L1138.5,1194.3M1137.9,1181.6L1132.1,1185.1M1165.4,1205.2L1160.3,1202.7M1136.7,1176.6L1137.9,1181.6M1166.7,1212.9L1164.1,1219.8M1097.1,1188.3L1098.6,1194.8M1164.9,1210.3L1162.3,1217.0M1134.6,1208.6L1134.6,1223.6M1114.6,1217.7L1122.3,1215.8M1105.6,1182.8L1108.8,1184.6M1119.7,1237.5L1124.8,1235.2M1098.3,1223.5L1097.2,1214.5M1145.4,1177.7L1148.3,1181.6M1164.9,1210.3L1161.1,1207.1M1123.2,1187.5L1132.1,1185.1M1162.3,1217.0L1159.9,1220.2M1138.6,1231.5L1129.5,1232.3M1125.2,1196.8L1118.5,1204.3M1153.1,1181.0L1154.5,1185.0M1091.6,1212.9L1097.2,1214.5M1102.9,1180.7L1101.6,1185.2M1110.3,1178.2L1108.8,1184.6M1097.1,1188.3L1102.8,1188.8M1164.1,1219.8L1160.0,1226.4M1119.0,1175.3L1127.7,1176.4M1129.5,1232.3L1123.0,1231.0M1087.9,1206.0L1091.6,1212.9M1138.5,1194.3L1134.6,1208.6M1110.8,1235.1L1114.6,1233.8M1164.1,1219.8L1159.9,1220.2M1155.6,1219.3L1151.1,1223.9M1160.0,1226.4L1153.4,1231.2M1157.3,1194.4L1138.5,1194.3M1123.2,1187.5L1125.2,1196.8M1158.5,1189.4L1157.3,1194.4M1089.5,1199.2L1091.9,1203.5M1141.0,1220.0L1150.2,1217.2M1101.1,1220.3L1105.0,1208.9M1159.4,1185.8L1158.5,1189.4M1091.9,1203.5L1095.9,1207.6M1124.8,1235.2L1123.0,1231.0M1134.6,1208.6L1142.3,1209.2M1097.2,1214.5L1095.9,1207.6M1102.4,1227.5L1110.9,1227.7M1123.0,1231.0L1114.1,1229.5M1122.3,1215.8L1134.6,1223.6M1142.5,1229.2L1141.0,1220.0M1118.9,1179.6L1123.2,1187.5M1155.7,1225.3L1151.1,1223.9M1148.2,1232.0L1142.9,1232.5M1162.9,1192.6L1157.3,1194.4M1158.0,1217.5L1150.2,1217.2M1151.1,1223.9L1142.5,1229.2M1166.8,1199.7L1165.4,1205.2M1118.5,1204.3L1114.6,1217.7M1095.9,1207.6L1095.4,1203.2M1102.8,1188.8L1114.7,1195.7M1091.4,1192.4L1093.7,1194.0M1119.0,1177.7L1121.0,1180.3M1168.2,1205.9L1166.7,1212.9M1110.9,1227.7L1103.0,1223.0M1104.4,1231.2L1097.4,1225.7M1134.6,1208.6L1122.3,1215.8M1091.6,1219.9L1098.3,1223.5M1107.4,1230.9L1102.4,1227.5M1145.4,1236.1L1142.9,1232.5M1132.1,1185.1L1125.2,1196.8M1121.0,1180.3L1123.2,1187.5M1138.5,1174.8L1130.6,1175.7M1137.4,1237.0L1129.5,1232.3M1142.5,1229.2L1134.6,1223.6M1127.7,1176.4L1130.3,1179.2M1110.9,1227.7L1114.6,1217.7M1137.4,1237.0L1129.1,1238.2M1168.2,1205.9L1164.9,1210.3M1097.2,1214.5L1105.0,1208.9M1166.7,1212.9L1162.3,1217.0M1093.7,1194.0L1097.1,1188.3M1089.3,1213.1L1092.1,1214.0M1157.3,1194.4L1142.3,1209.2M1095.4,1203.2L1098.6,1194.8M1138.5,1174.8L1142.4,1182.5M1129.5,1232.3L1134.6,1223.6M1136.7,1176.6L1130.3,1179.2M1142.9,1232.5L1138.6,1231.5M1095.4,1203.2L1105.0,1208.9M1130.0,1235.8L1124.8,1235.2M1103.0,1223.0L1101.1,1220.3M1097.4,1225.7L1091.6,1219.9M1121.0,1180.3L1130.3,1179.2M1142.3,1209.2L1141.0,1220.0M1105.6,1182.8L1102.8,1188.8M1160.3,1202.7L1142.3,1209.2M1098.3,1223.5L1101.1,1220.3M1162.3,1217.0L1158.0,1217.5M1129.1,1238.2L1119.7,1237.5" stroke="#ffffff" stroke-width="0.95" fill="none" opacity="0.95"/>
<path d="M1174.8,1483.2L1167.3,1483.8M1087.1,1373.2L1090.8,1366.9M1133.9,1429.3L1132.8,1437.2M1208.8,1523.4L1207.2,1537.0M1179.7,1605.5L1178.3,1598.4M1190.9,1536.5L1202.6,1549.1M1223.0,1482.6L1221.5,1494.3M1165.2,1358.0L1172.1,1364.8M1181.2,1515.7L1192.9,1514.9M1257.5,1603.1L1256.7,1613.7M1242.0,1575.0L1231.3,1578.9M1178.9,1598.5L1180.6,1603.6M1119.8,1405.1L1127.5,1407.7M1074.9,1480.8L1068.0,1472.7M1090.8,1366.9L1096.3,1358.8M1246.9,1538.5L1234.3,1552.0M1249.7,1601.2L1247.9,1611.5M1172.3,1417.6L1182.2,1426.6M1079.0,1387.9L1082.5,1397.6M1207.2,1537.0L1206.9,1548.8M1220.2,1452.4L1225.9,1461.1M1229.7,1518.5L1233.5,1535.8M1256.7,1613.7L1255.2,1621.8M1177.3,1563.3L1181.0,1560.6M1090.9,1452.9L1106.2,1451.8M1247.9,1611.5L1241.1,1616.3M1092.7,1407.6L1101.5,1416.5M1083.2,1381.3L1088.3,1389.2M1198.5,1587.8L1210.8,1585.4M1202.4,1397.0L1208.1,1403.9M1181.7,1527.2L1180.3,1519.6M1239.1,1584.7L1231.3,1578.9M1085.5,1440.9L1090.9,1452.9M1150.4,1362.0L1161.4,1362.9M1191.5,1469.2L1205.5,1472.1M1198.4,1402.4L1185.1,1404.3M1037.4,1466.6L1032.7,1454.8M1206.9,1548.8L1214.7,1558.9M1220.2,1452.4L1202.7,1460.3M1134.5,1351.2L1138.7,1361.8M1208.1,1403.9L1215.2,1410.2M1196.8,1509.0L1192.9,1514.9M1191.5,1469.2L1202.7,1483.3M1211.5,1638.3L1203.2,1635.3M1243.5,1461.8L1233.8,1456.2M1066.1,1479.6L1064.5,1480.0M1125.8,1421.6L1133.5,1418.9M1082.5,1397.6L1092.7,1407.6M1163.8,1394.2L1167.3,1408.8M1161.4,1362.9L1168.7,1371.1M1205.5,1472.1L1219.1,1474.5M1190.9,1536.5L1207.2,1537.0M1262.6,1577.9L1255.3,1573.3M1222.3,1544.9L1230.3,1559.3M1244.3,1508.9L1245.2,1518.6M1242.0,1575.0L1228.1,1566.8M1203.2,1635.3L1194.0,1632.5M1228.1,1566.8L1220.6,1579.4M1056.9,1478.4L1051.7,1474.3M1212.8,1486.5L1206.8,1490.8M1133.5,1418.9L1151.0,1416.0M1258.0,1547.6L1246.9,1538.5M1177.7,1447.2L1195.9,1448.4M1155.9,1484.2L1155.3,1472.4M1207.2,1537.0L1219.0,1534.7M1223.4,1424.4L1219.7,1431.9M1261.1,1586.5L1253.4,1582.2M1062.3,1436.3L1074.6,1439.0M1229.7,1518.5L1223.6,1525.8M1194.0,1632.5L1191.6,1622.5M1160.7,1415.0L1165.3,1427.4M1200.3,1419.0L1191.9,1430.8M1195.9,1448.4L1200.7,1452.1M1165.2,1358.0L1161.4,1362.9M1239.4,1467.0L1225.8,1463.1M1114.8,1483.1L1117.7,1472.3M1072.1,1407.3L1079.5,1402.4M1227.0,1432.8L1224.7,1440.3M1182.3,1518.1L1181.2,1515.7M1239.7,1454.1L1243.5,1461.8M1263.1,1517.4L1256.7,1524.6M1178.3,1598.4L1180.6,1603.6M1114.3,1427.0L1133.9,1429.3M1165.8,1461.0L1166.2,1471.0M1215.8,1423.1L1219.7,1431.9M1114.3,1427.0L1111.6,1439.7M1182.1,1614.3L1183.5,1617.7M1206.9,1548.8L1222.3,1544.9M1239.1,1584.7L1238.1,1596.1M1180.9,1491.3L1193.7,1493.5M1027.8,1444.5L1037.3,1430.4M1133.9,1429.3L1144.5,1429.5M1132.6,1446.8L1125.5,1463.1M1112.1,1458.9L1125.5,1463.1M1265.5,1551.5L1257.6,1562.1M1108.1,1351.5L1117.0,1362.4M1222.3,1544.9L1234.3,1552.0M1179.7,1605.5L1181.2,1608.2M1190.9,1536.5L1191.5,1548.5M1238.1,1596.1L1230.6,1602.8M1185.0,1507.9L1181.2,1515.7M1062.3,1436.3L1067.1,1432.2M1168.7,1371.1L1163.0,1380.9M1125.5,1463.1L1138.5,1456.5M1074.6,1439.0L1079.5,1449.8M1174.8,1483.2L1177.0,1489.3M1193.7,1493.5L1206.8,1490.8M1255.9,1537.1L1244.6,1528.7M1180.3,1519.6L1187.6,1523.6M1083.6,1480.4L1083.3,1481.3M1229.8,1471.9L1219.1,1474.5M1032.8,1438.0L1045.0,1435.8M1067.1,1432.2L1076.6,1424.4M1203.2,1635.3L1201.9,1626.2M1206.8,1490.8L1221.5,1494.3M1134.0,1378.0L1143.9,1376.8M1074.9,1480.8L1071.3,1481.2M1155.5,1404.5L1160.7,1415.0M1085.5,1440.9L1095.6,1440.9M1244.3,1508.9L1231.4,1494.9M1244.6,1528.7L1233.5,1535.8M1181.2,1608.2L1180.8,1605.6M1191.5,1469.2L1186.9,1482.0M1206.9,1548.8L1210.2,1560.2M1134.5,1351.2L1128.4,1361.2M1180.9,1491.3L1186.9,1482.0M1219.7,1431.9L1214.9,1442.6M1160.7,1434.2L1165.5,1450.5M1163.8,1394.2L1155.5,1404.5M1212.0,1568.0L1210.8,1585.4M1055.3,1411.1L1064.7,1415.5M1083.6,1480.4L1092.6,1471.9M1176.5,1581.3L1179.0,1582.9M1151.3,1483.6L1155.3,1472.4M1236.2,1447.6L1239.7,1454.1M1149.6,1456.1L1155.3,1472.4M1191.0,1607.9L1198.5,1587.8M1206.2,1410.3L1215.8,1423.1M1173.1,1439.6L1177.7,1447.2M1076.6,1424.4L1074.6,1439.0M1246.9,1538.5L1233.5,1535.8M1193.7,1493.5L1196.8,1509.0M1177.7,1370.9L1190.8,1384.1M1223.4,1424.4L1215.8,1423.1M1056.5,1444.5L1063.3,1459.2M1045.0,1435.8L1062.3,1436.3M1242.0,1575.0L1239.1,1584.7M1160.7,1415.0L1156.1,1430.3M1135.9,1483.3L1138.5,1476.7M1179.6,1535.4L1190.9,1536.5M1175.6,1573.1L1186.5,1572.7M1098.9,1351.6L1106.0,1361.8M1227.0,1432.8L1219.7,1431.9M1230.3,1559.3L1228.1,1566.8M1055.9,1421.3L1067.1,1432.2M1230.6,1602.8L1223.2,1589.3M1143.9,1376.8L1152.1,1393.2M1024.1,1451.8L1027.8,1444.5M1165.8,1461.0L1155.3,1472.4M1264.7,1542.6L1255.9,1537.1M1113.6,1377.3L1124.3,1377.7M1237.4,1631.4L1229.7,1622.3M1262.4,1500.1L1263.1,1508.7M1180.7,1471.8L1171.1,1480.0M1124.7,1351.3L1117.0,1362.4M1027.8,1444.5L1032.8,1438.0M1212.0,1568.0L1203.2,1580.1M1244.5,1478.1L1249.4,1487.5M1202.4,1397.0L1198.4,1402.4M1265.5,1551.5L1258.0,1547.6M1170.0,1387.9L1163.8,1394.2M1124.3,1377.7L1134.0,1378.0M1094.6,1377.7L1108.0,1380.6M1213.0,1629.5L1211.5,1612.9M1263.1,1508.7L1263.1,1517.4M1179.6,1535.4L1181.7,1527.2M1074.6,1439.0L1085.5,1440.9M1249.4,1487.5L1253.9,1498.6M1208.1,1403.9L1206.2,1410.3M1176.6,1571.2L1186.5,1572.7M1116.9,1351.2L1124.7,1351.3M1180.8,1605.6L1180.6,1603.6M1032.8,1438.0L1039.1,1444.5M1144.9,1405.8L1133.5,1418.9M1061.2,1405.6L1067.9,1399.6M1263.1,1508.7L1255.2,1514.2M1202.7,1460.3L1207.7,1464.0M1203.2,1635.3L1213.0,1629.5M1200.7,1452.1L1187.7,1458.2M1257.5,1603.1L1247.9,1611.5M1049.2,1416.5L1055.9,1421.3M1214.9,1442.6L1200.7,1452.1M1124.7,1351.3L1134.5,1351.2M1266.0,1560.1L1265.2,1569.4M1108.0,1380.6L1125.4,1401.0M1155.5,1404.5L1151.0,1416.0M1079.5,1449.8L1090.8,1458.3M1244.6,1528.7L1229.7,1518.5M1067.9,1399.6L1075.9,1395.8M1258.0,1547.6L1257.6,1562.1M1134.0,1378.0L1138.5,1396.4M1181.2,1608.2L1191.0,1607.9M1247.9,1611.5L1230.6,1602.8M1185.1,1404.3L1193.5,1412.3M1128.4,1361.2L1134.0,1378.0M1265.2,1569.4L1262.6,1577.9M1160.7,1434.2L1173.1,1439.6M1100.1,1481.7L1098.1,1480.8M1253.9,1498.6L1242.8,1498.8M1257.6,1562.1L1255.3,1573.3M1160.7,1434.2L1154.2,1450.2M1117.4,1482.7L1114.8,1483.1M1055.3,1411.1L1055.9,1421.3M1167.3,1483.8L1171.1,1480.0M1197.8,1575.0L1203.2,1580.1M1028.6,1468.0L1032.7,1454.8M1255.2,1621.8L1237.4,1631.4M1096.3,1358.8L1106.0,1361.8M1156.1,1430.3L1160.7,1434.2M1027.8,1444.5L1039.1,1444.5M1129.4,1473.5L1141.7,1475.4M1149.6,1456.1L1141.7,1475.4M1191.0,1607.9L1185.9,1590.6M1129.4,1473.5L1138.5,1476.7M1219.0,1534.7L1222.3,1544.9M1177.7,1370.9L1184.0,1378.3M1176.5,1581.3L1175.7,1582.0M1045.0,1435.8L1056.5,1444.5M1144.9,1405.8L1155.5,1404.5M1165.5,1450.5L1173.1,1462.3M1106.0,1361.8L1117.0,1362.4M1135.9,1483.3L1129.4,1473.5M1085.2,1416.2L1093.4,1427.3M1141.7,1475.4L1155.3,1472.4M1187.6,1523.6L1197.3,1525.5M1233.5,1535.8L1234.3,1552.0M1163.0,1380.9L1152.1,1393.2M1225.8,1463.1L1229.8,1471.9M1246.4,1626.4L1237.4,1631.4M1116.2,1449.1L1132.6,1446.8M1229.7,1622.3L1218.7,1629.4M1197.3,1525.5L1208.8,1523.4M1222.3,1505.4L1229.7,1518.5M1250.1,1477.8L1249.4,1487.5M1237.4,1631.4L1241.1,1616.3M1101.5,1416.5L1101.5,1427.8M1077.4,1481.8L1079.9,1471.6M1117.0,1362.4L1124.3,1377.7M1132.6,1446.8L1143.7,1450.2M1099.4,1466.7L1098.1,1480.8M1215.8,1423.1L1200.3,1419.0M1212.0,1568.0L1197.8,1575.0M1033.5,1453.8L1039.1,1444.5M1219.1,1474.5L1223.0,1482.6M1037.4,1466.6L1049.7,1464.4M1202.4,1397.0L1191.8,1394.6M1197.8,1575.0L1198.5,1587.8M1094.6,1377.7L1102.5,1389.3M1110.9,1414.8L1114.3,1427.0M1151.0,1416.0L1160.7,1415.0M1262.4,1500.1L1253.9,1498.6M1219.0,1534.7L1233.5,1535.8M1181.0,1560.6L1186.5,1572.7M1178.3,1592.6L1185.9,1590.6M1160.7,1415.0L1172.3,1417.6M1263.1,1508.7L1254.6,1503.1M1249.4,1487.5L1238.6,1490.1M1257.5,1603.1L1249.7,1601.2M1187.6,1523.6L1190.9,1536.5M1247.4,1469.9L1255.0,1484.3M1079.5,1449.8L1074.9,1458.6M1144.5,1429.5L1150.5,1437.8M1063.3,1459.2L1074.9,1458.6M1177.7,1370.9L1176.5,1379.7M1247.9,1611.5L1238.1,1596.1M1172.1,1364.8L1177.7,1370.9M1185.0,1507.9L1196.8,1509.0M1100.1,1481.7L1106.7,1472.8M1246.4,1626.4L1247.9,1611.5M1202.7,1483.3L1212.8,1486.5M1167.3,1483.8L1166.2,1471.0M1167.3,1483.8L1160.8,1484.0M1255.2,1621.8L1246.4,1626.4M1156.1,1430.3L1165.3,1427.4M1154.2,1450.2L1149.6,1456.1M1066.1,1479.6L1068.0,1472.7M1177.6,1553.7L1189.9,1560.8M1027.8,1444.5L1033.5,1453.8M1241.1,1616.3L1229.7,1622.3M1257.6,1562.1L1244.1,1565.8M1181.0,1560.6L1189.9,1560.8M1175.1,1589.6L1175.7,1589.1M1087.1,1373.2L1094.6,1377.7M1178.3,1592.6L1179.0,1582.9M1182.3,1518.1L1192.9,1514.9M1177.3,1563.3L1177.3,1563.2M1151.4,1353.0L1161.4,1362.9M1165.5,1450.5L1165.8,1461.0M1095.6,1440.9L1106.2,1451.8M1159.3,1483.7L1155.9,1484.2M1255.3,1573.3L1242.0,1575.0M1206.2,1410.3L1193.5,1412.3M1215.2,1410.2L1219.3,1418.5M1090.8,1458.3L1092.6,1471.9M1106.0,1361.8L1099.8,1367.8M1168.7,1371.1L1176.5,1379.7M1111.6,1439.7L1116.2,1449.1M1056.9,1478.4L1049.7,1479.6M1142.0,1352.3L1160.3,1352.3M1194.0,1632.5L1187.1,1630.9M1185.0,1507.9L1192.9,1514.9M1049.7,1464.4L1063.3,1459.2M1047.8,1477.3L1049.7,1464.4M1029.8,1475.8L1037.4,1466.6M1099.4,1466.7L1106.7,1472.8M1117.0,1362.4L1113.6,1377.3M1176.5,1379.7L1183.4,1386.3M1079.0,1387.9L1087.1,1373.2M1175.7,1589.1L1178.3,1592.6M1245.5,1555.1L1230.3,1559.3M1199.8,1611.1L1210.8,1585.4M1225.8,1463.1L1207.7,1464.0M1051.7,1474.3L1068.0,1472.7M1244.6,1528.7L1246.9,1538.5M1235.5,1481.1L1231.4,1494.9M1187.1,1630.9L1183.8,1621.8M1047.8,1477.3L1039.3,1476.3M1188.1,1438.5L1195.9,1448.4M1172.1,1364.8L1168.7,1371.1M1259.6,1595.1L1256.7,1613.7M1179.7,1605.5L1180.6,1603.6M1243.5,1461.8L1247.4,1469.9M1039.3,1476.3L1029.8,1475.8M1173.1,1462.3L1180.7,1471.8M1219.7,1431.9L1224.7,1440.3M1199.6,1440.1L1200.7,1452.1M1186.9,1482.0L1202.7,1483.3M1083.3,1481.3L1090.1,1482.0M1214.9,1442.6L1199.6,1440.1M1082.5,1397.6L1088.3,1389.2M1236.2,1447.6L1233.8,1456.2M1064.7,1415.5L1076.6,1424.4M1247.4,1469.9L1250.1,1477.8M1099.4,1398.4L1110.9,1414.8M1133.8,1484.3L1129.4,1473.5M1238.6,1490.1L1231.4,1494.9M1144.5,1429.5L1156.1,1430.3M1187.7,1458.2L1191.5,1469.2M1143.7,1450.2L1138.5,1456.5M1183.4,1386.3L1178.2,1396.8M1144.5,1429.5L1132.8,1437.2M1177.7,1370.9L1168.7,1371.1M1224.7,1440.3L1229.5,1448.7M1178.9,1598.5L1178.3,1598.4M1072.1,1407.3L1085.2,1416.2M1230.6,1602.8L1220.2,1608.4M1185.0,1507.9L1184.5,1503.9M1032.7,1454.8L1033.5,1453.8M1176.6,1571.2L1177.3,1563.3M1205.5,1472.1L1212.8,1486.5M1032.8,1438.0L1037.3,1430.4M1208.2,1508.3L1206.4,1515.9M1247.4,1469.9L1239.4,1467.0M1138.5,1456.5L1149.6,1456.1M1088.3,1389.2L1099.4,1398.4M1266.0,1560.1L1257.6,1562.1M1192.9,1514.9L1197.3,1525.5M1245.5,1555.1L1234.3,1552.0M1263.1,1517.4L1264.1,1525.8M1185.1,1404.3L1172.3,1417.6M1235.5,1481.1L1223.0,1482.6M1076.6,1424.4L1085.2,1416.2M1037.3,1430.4L1041.7,1421.6M1245.2,1518.6L1244.6,1528.7M1142.0,1352.3L1138.7,1361.8M1177.6,1553.7L1181.0,1560.6M1221.5,1494.3L1231.4,1494.9M1265.2,1569.4L1255.3,1573.3M1257.6,1562.1L1245.5,1555.1M1206.4,1515.9L1208.8,1523.4M1143.9,1376.8L1153.0,1376.9M1191.6,1622.5L1191.0,1607.9M1264.1,1525.8L1264.1,1533.9M1167.3,1408.8L1172.3,1417.6M1182.3,1518.1L1180.3,1519.6M1095.6,1440.9L1111.6,1439.7M1151.4,1353.0L1150.4,1362.0M1074.9,1458.6L1068.0,1472.7M1254.6,1503.1L1255.2,1514.2M1095.6,1440.9L1090.9,1452.9M1255.3,1573.3L1244.1,1565.8M1239.1,1584.7L1223.2,1589.3M1186.9,1482.0L1193.7,1493.5M1066.1,1479.6L1071.3,1481.2M1232.2,1440.4L1229.5,1448.7M1079.5,1402.4L1082.5,1397.6M1068.0,1472.7L1079.9,1471.6M1090.8,1458.3L1079.9,1471.6M1061.2,1405.6L1072.1,1407.3M1178.9,1598.5L1185.9,1590.6M1142.0,1352.3L1151.4,1353.0M1234.3,1552.0L1230.3,1559.3M1138.5,1396.4L1152.1,1393.2M1106.2,1451.8L1112.1,1458.9M1079.0,1387.9L1083.2,1381.3M1029.8,1475.8L1039.8,1477.2M1192.9,1514.9L1206.4,1515.9M1229.7,1622.3L1211.5,1612.9M1067.9,1399.6L1079.5,1402.4M1200.3,1419.0L1210.3,1434.1M1150.4,1362.0L1153.0,1376.9M1182.1,1614.3L1191.0,1607.9M1172.3,1417.6L1165.3,1427.4M1207.2,1537.0L1202.6,1549.1M1188.1,1438.5L1199.6,1440.1M1177.6,1553.7L1191.5,1548.5M1176.5,1379.7L1170.0,1387.9M1188.1,1438.5L1177.7,1447.2M1172.1,1364.8L1161.4,1362.9M1221.5,1494.3L1222.3,1505.4M1190.8,1384.1L1202.4,1397.0M1237.4,1631.4L1218.8,1641.3M1155.3,1472.4L1166.2,1471.0M1173.1,1462.3L1166.2,1471.0M1253.9,1498.6L1254.6,1503.1M1085.5,1440.9L1079.5,1449.8M1064.7,1415.5L1067.1,1432.2M1244.3,1508.9L1229.7,1518.5M1083.6,1480.4L1077.4,1481.8M1099.4,1398.4L1101.5,1416.5M1183.4,1386.3L1170.0,1387.9M1186.5,1572.7L1195.3,1570.4M1222.3,1544.9L1214.7,1558.9M1205.5,1472.1L1202.7,1483.3M1186.5,1572.7L1198.5,1587.8M1138.5,1396.4L1144.9,1405.8M1224.7,1440.3L1220.2,1452.4M1215.2,1410.2L1215.8,1423.1M1151.3,1483.6L1148.2,1478.2M1192.9,1514.9L1187.6,1523.6M1229.5,1448.7L1225.9,1461.1M1194.0,1632.5L1201.9,1626.2M1134.5,1351.2L1142.0,1352.3M1206.8,1490.8L1208.2,1508.3M1114.8,1483.1L1106.7,1472.8M1167.3,1408.8L1160.7,1415.0M1146.6,1483.8L1148.2,1478.2M1067.1,1432.2L1074.6,1439.0M1263.1,1517.4L1255.2,1514.2M1187.1,1630.9L1191.6,1622.5M1108.5,1482.9L1111.3,1483.7M1210.3,1434.1L1191.9,1430.8M1244.3,1508.9L1222.3,1505.4M1262.6,1577.9L1261.1,1586.5M1099.4,1398.4L1119.8,1405.1M1220.6,1579.4L1231.3,1578.9M1232.2,1440.4L1224.7,1440.3M1092.9,1480.5L1090.1,1482.0M1264.1,1525.8L1256.7,1524.6M1254.6,1503.1L1244.3,1508.9M1180.9,1491.3L1181.9,1493.6M1108.5,1482.9L1104.2,1481.9M1061.2,1405.6L1064.7,1415.5M1108.1,1351.5L1106.0,1361.8M1227.6,1636.3L1218.7,1629.4M1165.3,1427.4L1173.1,1439.6M1186.5,1572.7L1197.8,1575.0M1255.2,1514.2L1245.2,1518.6M1168.7,1371.1L1153.0,1376.9M1253.4,1582.2L1252.5,1591.8M1229.7,1622.3L1220.2,1608.4M1184.0,1378.3L1190.8,1384.1M1177.7,1447.2L1187.7,1458.2M1201.9,1626.2L1199.8,1611.1M1176.5,1379.7L1163.0,1380.9M1101.5,1416.5L1093.4,1427.3M1237.4,1631.4L1227.6,1636.3M1037.3,1430.4L1045.0,1435.8M1047.8,1477.3L1037.4,1466.6M1235.5,1481.1L1238.6,1490.1M1117.4,1482.7L1117.7,1472.3M1220.6,1579.4L1223.2,1589.3M1143.7,1450.2L1154.2,1450.2M1252.5,1591.8L1238.1,1596.1M1213.0,1629.5L1201.9,1626.2M1125.4,1401.0L1138.5,1396.4M1219.7,1431.9L1210.3,1434.1M1075.9,1395.8L1079.0,1387.9M1223.4,1424.4L1227.0,1432.8M1125.8,1421.6L1133.9,1429.3M1083.6,1480.4L1079.9,1471.6M1193.5,1412.3L1200.3,1419.0M1112.1,1458.9L1117.7,1472.3M1138.7,1361.8L1143.9,1376.8M1132.8,1437.2L1143.7,1450.2M1133.8,1484.3L1126.2,1482.3M1186.5,1572.7L1185.9,1590.6M1174.8,1483.2L1186.9,1482.0M1224.7,1440.3L1214.9,1442.6M1215.2,1410.2L1206.2,1410.3M1045.0,1435.8L1055.9,1421.3M1173.1,1439.6L1188.1,1438.5M1071.3,1481.2L1068.0,1472.7M1255.3,1573.3L1253.4,1582.2M1173.1,1439.6L1165.5,1450.5M1133.5,1418.9L1144.5,1429.5M1113.6,1377.3L1125.4,1401.0M1125.5,1463.1L1129.4,1473.5M1178.2,1396.8L1167.3,1408.8M1191.8,1394.6L1198.4,1402.4M1106.7,1472.8L1111.3,1483.7M1033.5,1453.8L1052.9,1450.9M1245.5,1555.1L1244.1,1565.8M1179.6,1535.4L1180.1,1538.4M1141.7,1475.4L1148.2,1478.2M1098.9,1351.6L1096.3,1358.8M1206.8,1490.8L1196.8,1509.0M1074.9,1458.6L1090.8,1458.3M1055.9,1421.3L1062.3,1436.3M1184.0,1378.3L1183.4,1386.3M1090.9,1452.9L1090.8,1458.3M1155.5,1404.5L1167.3,1408.8M1143.9,1376.8L1138.5,1396.4M1117.0,1362.4L1128.4,1361.2M1241.1,1616.3L1230.6,1602.8M1181.7,1527.2L1190.9,1536.5M1049.7,1464.4L1052.9,1450.9M1028.6,1468.0L1025.1,1460.2M1229.8,1471.9L1235.5,1481.1M1190.8,1384.1L1191.8,1394.6M1092.9,1480.5L1094.7,1483.1M1254.6,1503.1L1242.8,1498.8M1220.2,1608.4L1223.2,1589.3M1153.0,1376.9L1152.1,1393.2M1094.6,1377.7L1099.8,1367.8M1125.4,1401.0L1127.5,1407.7M1218.7,1629.4L1213.0,1629.5M1208.8,1523.4L1223.6,1525.8M1165.3,1427.4L1182.2,1426.6M1207.7,1464.0L1219.1,1474.5M1227.6,1636.3L1229.7,1622.3M1165.3,1427.4L1160.7,1434.2M1186.5,1572.7L1179.0,1582.9M1233.8,1456.2L1239.4,1467.0M1049.7,1479.6L1051.7,1474.3M1176.5,1581.3L1175.6,1573.1M1211.5,1612.9L1199.8,1611.1M1039.1,1444.5L1045.0,1435.8M1208.1,1403.9L1198.4,1402.4M1119.8,1405.1L1125.8,1421.6M1178.2,1396.8L1163.8,1394.2M1255.0,1484.3L1249.4,1487.5M1203.2,1580.1L1210.8,1585.4M1099.8,1367.8L1108.0,1380.6M1201.9,1626.2L1211.5,1612.9M1151.3,1483.6L1146.6,1483.8M1253.4,1582.2L1239.1,1584.7M1177.7,1447.2L1173.1,1462.3M1183.4,1386.3L1191.8,1394.6M1092.7,1407.6L1099.4,1398.4M1189.9,1560.8L1195.3,1570.4M1246.9,1538.5L1245.5,1555.1M1177.3,1563.3L1186.5,1572.7M1258.4,1492.8L1253.9,1498.6M1239.4,1467.0L1235.5,1481.1M1183.8,1621.8L1182.1,1614.3M1142.7,1482.5L1135.9,1483.3M1047.8,1477.3L1039.8,1477.2M1181.7,1527.2L1187.6,1523.6M1256.7,1613.7L1247.9,1611.5M1197.3,1525.5L1207.2,1537.0M1114.3,1427.0L1132.8,1437.2M1220.2,1452.4L1200.7,1452.1M1128.4,1361.2L1124.3,1377.7M1051.7,1474.3L1049.7,1464.4M1220.6,1579.4L1210.8,1585.4M1160.3,1352.3L1172.1,1364.8M1117.4,1482.7L1126.2,1482.3M1125.8,1421.6L1114.3,1427.0M1208.8,1523.4L1219.0,1534.7M1028.6,1468.0L1037.4,1466.6M1112.1,1458.9L1106.7,1472.8M1138.7,1361.8L1134.0,1378.0M1174.8,1483.2L1180.7,1471.8M1156.1,1430.3L1150.5,1437.8M1092.9,1480.5L1098.1,1480.8M1212.8,1486.5L1223.0,1482.6M1178.9,1598.5L1178.3,1592.6M1025.1,1460.2L1032.7,1454.8M1074.6,1439.0L1063.3,1459.2M1045.0,1435.8L1052.9,1450.9M1160.3,1352.3L1165.2,1358.0M1079.0,1387.9L1088.3,1389.2M1250.1,1477.8L1255.0,1484.3M1189.9,1560.8L1210.2,1560.2M1090.8,1366.9L1099.8,1367.8M1141.7,1475.4L1138.5,1476.7M1233.5,1535.8L1222.3,1544.9M1098.9,1351.6L1090.8,1366.9M1202.7,1460.3L1205.5,1472.1M1191.8,1394.6L1185.1,1404.3M1184.0,1378.3L1176.5,1379.7M1060.2,1479.2L1064.5,1480.0M1202.4,1397.0L1215.2,1410.2M1165.8,1461.0L1173.1,1462.3M1126.2,1482.3L1129.4,1473.5M1222.3,1505.4L1214.8,1515.6M1219.3,1418.5L1223.4,1424.4M1250.1,1477.8L1244.5,1478.1M1198.4,1402.4L1193.5,1412.3M1220.2,1608.4L1210.8,1585.4M1220.2,1452.4L1207.7,1464.0M1118.9,1442.8L1132.6,1446.8M1125.4,1401.0L1119.8,1405.1M1184.5,1503.9L1196.8,1509.0M1202.7,1483.3L1206.8,1490.8M1219.1,1474.5L1212.8,1486.5M1110.9,1414.8L1101.5,1427.8M1262.6,1577.9L1253.4,1582.2M1092.6,1471.9L1098.1,1480.8M1212.8,1486.5L1221.5,1494.3M1177.6,1553.7L1177.3,1563.2M1160.3,1352.3L1161.4,1362.9M1233.8,1456.2L1225.8,1463.1M1203.2,1580.1L1198.5,1587.8M1151.3,1483.6L1155.9,1484.2M1253.4,1582.2L1242.0,1575.0M1189.9,1560.8L1186.5,1572.7M1239.4,1467.0L1229.8,1471.9M1029.8,1475.8L1028.6,1468.0M1079.5,1449.8L1063.3,1459.2M1088.3,1389.2L1094.6,1377.7M1116.2,1449.1L1125.5,1463.1M1197.3,1525.5L1190.9,1536.5M1182.1,1614.3L1181.2,1608.2M1229.5,1448.7L1233.8,1456.2M1239.7,1454.1L1233.8,1456.2M1132.6,1446.8L1138.5,1456.5M1079.5,1402.4L1092.7,1407.6M1220.2,1608.4L1211.5,1612.9M1180.9,1491.3L1177.0,1489.3M1186.8,1499.2L1196.8,1509.0M1225.8,1463.1L1219.1,1474.5M1149.6,1456.1L1165.8,1461.0M1214.9,1442.6L1220.2,1452.4M1159.3,1483.7L1166.2,1471.0M1175.1,1589.6L1178.3,1598.4M1244.1,1565.8L1228.1,1566.8M1159.3,1483.7L1160.8,1484.0M1255.9,1537.1L1246.9,1538.5M1085.2,1416.2L1092.7,1407.6M1041.7,1421.6L1049.2,1416.5M1056.9,1478.4L1068.0,1472.7M1229.8,1471.9L1223.0,1482.6M1214.8,1515.6L1223.6,1525.8M1153.0,1376.9L1163.0,1380.9M1090.8,1366.9L1094.6,1377.7M1175.7,1582.0L1179.0,1582.9M1264.1,1533.9L1264.7,1542.6M1242.8,1498.8L1231.4,1494.9M1202.7,1460.3L1191.5,1469.2M1191.8,1394.6L1178.2,1396.8M1111.6,1439.7L1118.9,1442.8M1255.2,1514.2L1256.7,1524.6M1111.6,1439.7L1106.2,1451.8M1126.2,1482.3L1117.7,1472.3M1195.3,1570.4L1212.0,1568.0M1056.9,1478.4L1060.2,1479.2M1063.3,1459.2L1068.0,1472.7M1047.8,1477.3L1051.7,1474.3M1118.9,1442.8L1132.8,1437.2M1101.5,1427.8L1111.6,1439.7M1099.4,1466.7L1092.6,1471.9M1079.9,1471.6L1092.6,1471.9M1118.9,1442.8L1116.2,1449.1M1242.8,1498.8L1244.3,1508.9M1183.8,1621.8L1183.5,1617.7M1212.0,1568.0L1228.1,1566.8M1151.4,1353.0L1160.3,1352.3M1199.8,1611.1L1198.5,1587.8M1202.7,1483.3L1193.7,1493.5M1186.8,1499.2L1193.7,1493.5M1152.1,1393.2L1163.8,1394.2M1191.6,1622.5L1183.5,1617.7M1083.2,1381.3L1087.1,1373.2M1052.9,1450.9L1063.3,1459.2M1151.0,1416.0L1156.1,1430.3M1206.4,1515.9L1214.8,1515.6M1180.1,1538.4L1191.5,1548.5M1075.9,1395.8L1082.5,1397.6M1244.1,1565.8L1230.3,1559.3M1177.0,1489.3L1186.9,1482.0M1210.3,1434.1L1214.9,1442.6M1259.6,1595.1L1257.5,1603.1M1076.6,1424.4L1085.5,1440.9M1179.7,1605.5L1180.8,1605.6M1233.8,1456.2L1225.9,1461.1M1064.7,1415.5L1072.1,1407.3M1252.5,1591.8L1249.7,1601.2M1199.6,1440.1L1195.9,1448.4M1085.2,1416.2L1101.5,1416.5M1214.8,1515.6L1229.7,1518.5M1236.2,1447.6L1229.5,1448.7M1079.5,1449.8L1090.9,1452.9M1178.0,1544.4L1191.5,1548.5M1166.2,1471.0L1180.7,1471.8M1090.1,1482.0L1092.6,1471.9M1187.7,1458.2L1180.7,1471.8M1166.2,1471.0L1171.1,1480.0M1116.9,1351.2L1117.0,1362.4M1185.9,1590.6L1198.5,1587.8M1116.2,1449.1L1112.1,1458.9M1072.1,1407.3L1076.6,1424.4M1256.7,1524.6L1244.6,1528.7M1264.7,1542.6L1258.0,1547.6M1101.5,1416.5L1110.9,1414.8M1180.7,1471.8L1191.5,1469.2M1202.6,1549.1L1210.2,1560.2M1180.7,1471.8L1186.9,1482.0M1124.7,1351.3L1128.4,1361.2M1238.6,1490.1L1242.8,1498.8M1212.0,1568.0L1220.6,1579.4M1079.5,1402.4L1085.2,1416.2M1186.8,1499.2L1184.5,1503.9M1110.9,1414.8L1125.8,1421.6M1176.5,1581.3L1186.5,1572.7M1154.2,1450.2L1165.5,1450.5M1152.1,1393.2L1155.5,1404.5M1092.9,1480.5L1092.6,1471.9M1180.1,1538.4L1190.9,1536.5M1265.2,1569.4L1257.6,1562.1M1056.5,1444.5L1074.6,1439.0M1159.3,1483.7L1155.3,1472.4M1206.4,1515.9L1197.3,1525.5M1211.5,1638.3L1213.0,1629.5M1191.6,1622.5L1199.8,1611.1M1193.5,1412.3L1172.3,1417.6M1193.5,1412.3L1191.9,1430.8M1165.5,1450.5L1177.7,1447.2M1093.4,1427.3L1095.6,1440.9M1144.9,1405.8L1151.0,1416.0M1214.8,1515.6L1208.8,1523.4M1200.7,1452.1L1202.7,1460.3M1183.5,1617.7L1191.0,1607.9M1238.1,1596.1L1223.2,1589.3M1261.1,1586.5L1259.6,1595.1M1101.5,1427.8L1114.3,1427.0M1106.2,1451.8L1099.4,1466.7M1101.5,1427.8L1095.6,1440.9M1264.1,1533.9L1255.9,1537.1M1183.8,1621.8L1191.6,1622.5M1202.6,1549.1L1206.9,1548.8M1067.9,1399.6L1072.1,1407.3M1223.6,1525.8L1233.5,1535.8M1138.5,1456.5L1141.7,1475.4M1150.4,1362.0L1143.9,1376.8M1186.8,1499.2L1181.9,1493.6M1182.2,1426.6L1188.1,1438.5M1100.1,1481.7L1104.2,1481.9M1151.0,1416.0L1144.5,1429.5M1218.7,1629.4L1211.5,1612.9M1075.9,1395.8L1079.5,1402.4M1221.5,1494.3L1208.2,1508.3M1076.6,1424.4L1093.4,1427.3M1190.8,1384.1L1196.5,1390.8M1161.4,1362.9L1153.0,1376.9M1128.4,1361.2L1138.7,1361.8M1191.9,1430.8L1199.6,1440.1M1155.3,1472.4L1148.2,1478.2M1191.0,1607.9L1180.6,1603.6M1191.5,1548.5L1189.9,1560.8M1196.5,1390.8L1202.4,1397.0M1231.4,1494.9L1222.3,1505.4M1227.6,1636.3L1218.8,1641.3M1127.5,1407.7L1133.5,1418.9M1083.6,1480.4L1090.1,1482.0M1163.0,1380.9L1163.8,1394.2M1138.7,1361.8L1150.4,1362.0M1041.7,1421.6L1055.9,1421.3M1175.7,1589.1L1179.0,1582.9M1166.2,1471.0L1160.8,1484.0M1102.5,1389.3L1125.4,1401.0M1195.3,1570.4L1197.8,1575.0M1218.8,1641.3L1211.5,1638.3M1245.2,1518.6L1229.7,1518.5M1256.7,1524.6L1245.2,1518.6M1074.9,1480.8L1077.4,1481.8M1138.5,1396.4L1127.5,1407.7M1201.9,1626.2L1191.6,1622.5M1202.6,1549.1L1189.9,1560.8M1227.0,1432.8L1232.2,1440.4M1215.8,1423.1L1210.3,1434.1M1150.5,1437.8L1154.2,1450.2M1152.1,1393.2L1144.9,1405.8M1229.5,1448.7L1220.2,1452.4M1219.3,1418.5L1215.8,1423.1M1055.9,1421.3L1064.7,1415.5M1142.7,1482.5L1148.2,1478.2M1210.2,1560.2L1212.0,1568.0M1232.2,1440.4L1236.2,1447.6M1262.4,1500.1L1254.6,1503.1M1244.5,1478.1L1238.6,1490.1M1211.5,1638.3L1218.7,1629.4M1124.3,1377.7L1138.5,1396.4M1182.1,1614.3L1179.7,1605.5M1093.4,1427.3L1101.5,1427.8M1193.5,1412.3L1182.2,1426.6M1198.4,1402.4L1206.2,1410.3M1093.4,1427.3L1085.5,1440.9M1191.5,1548.5L1202.6,1549.1M1214.7,1558.9L1228.1,1566.8M1244.1,1565.8L1242.0,1575.0M1249.4,1487.5L1242.8,1498.8M1231.3,1578.9L1223.2,1589.3M1249.7,1601.2L1238.1,1596.1M1104.2,1481.9L1106.7,1472.8M1090.8,1458.3L1099.4,1466.7M1178.0,1544.4L1180.1,1538.4M1255.0,1484.3L1258.4,1492.8M1052.9,1450.9L1056.5,1444.5M1102.5,1389.3L1119.8,1405.1M1025.1,1460.2L1024.1,1451.8M1099.4,1466.7L1112.1,1458.9M1106.2,1451.8L1090.8,1458.3M1060.2,1479.2L1068.0,1472.7M1264.1,1533.9L1256.7,1524.6M1255.2,1514.2L1244.3,1508.9M1099.8,1367.8L1113.6,1377.3M1229.7,1622.3L1230.6,1602.8M1246.4,1626.4L1241.1,1616.3M1223.6,1525.8L1219.0,1534.7M1024.1,1451.8L1033.5,1453.8M1138.5,1456.5L1129.4,1473.5M1185.1,1404.3L1167.3,1408.8M1056.5,1444.5L1062.3,1436.3M1258.4,1492.8L1262.4,1500.1M1182.2,1426.6L1191.9,1430.8M1218.8,1641.3L1218.7,1629.4M1182.2,1426.6L1173.1,1439.6M1239.4,1467.0L1244.5,1478.1M1181.9,1493.6L1193.7,1493.5M1210.2,1560.2L1214.7,1558.9M1154.2,1450.2L1165.8,1461.0M1199.8,1611.1L1191.0,1607.9M1173.1,1462.3L1187.7,1458.2M1195.9,1448.4L1187.7,1458.2M1191.9,1430.8L1188.1,1438.5M1180.6,1603.6L1185.9,1590.6M1214.7,1558.9L1230.3,1559.3M1108.1,1351.5L1116.9,1351.2M1096.3,1358.8L1099.8,1367.8M1191.0,1607.9L1180.8,1605.6M1206.2,1410.3L1200.3,1419.0M1099.4,1398.4L1102.5,1389.3M1127.5,1407.7L1125.8,1421.6M1055.3,1411.1L1061.2,1405.6M1187.7,1458.2L1202.7,1460.3M1196.8,1509.0L1208.2,1508.3M1259.6,1595.1L1249.7,1601.2M1041.7,1421.6L1045.0,1435.8M1252.5,1591.8L1239.1,1584.7M1039.3,1476.3L1037.4,1466.6M1170.0,1387.9L1178.2,1396.8M1106.0,1361.8L1113.6,1377.3M1102.5,1389.3L1108.0,1380.6M1132.8,1437.2L1150.5,1437.8M1211.5,1612.9L1210.8,1585.4M1094.7,1483.1L1098.1,1480.8M1132.8,1437.2L1132.6,1446.8M1133.8,1484.3L1135.9,1483.3M1208.2,1508.3L1222.3,1505.4M1255.9,1537.1L1258.0,1547.6M1174.8,1483.2L1171.1,1480.0M1223.0,1482.6L1231.4,1494.9M1178.2,1396.8L1185.1,1404.3M1175.7,1589.1L1175.7,1582.0M1113.6,1377.3L1108.0,1380.6M1074.9,1480.8L1079.9,1471.6M1150.5,1437.8L1160.7,1434.2M1133.5,1418.9L1133.9,1429.3M1125.5,1463.1L1117.7,1472.3M1106.7,1472.8L1117.7,1472.3M1150.5,1437.8L1143.7,1450.2M1142.7,1482.5L1141.7,1475.4M1106.7,1472.8L1098.1,1480.8M1207.2,1537.0L1222.3,1544.9M1142.7,1482.5L1138.5,1476.7M1210.2,1560.2L1195.3,1570.4M1033.5,1453.8L1049.7,1464.4M1244.5,1478.1L1235.5,1481.1M1124.3,1377.7L1125.4,1401.0M1117.7,1472.3L1129.4,1473.5M1083.2,1381.3L1094.6,1377.7M1182.3,1518.1L1187.6,1523.6M1108.5,1482.9L1106.7,1472.8M1255.2,1621.8L1247.9,1611.5M1039.1,1444.5L1052.9,1450.9M1214.7,1558.9L1212.0,1568.0M1175.1,1589.6L1178.3,1592.6M1127.5,1407.7L1144.9,1405.8M1083.3,1481.3L1077.4,1481.8M1037.4,1466.6L1033.5,1453.8M1190.8,1384.1L1183.4,1386.3M1196.8,1509.0L1206.4,1515.9M1225.9,1461.1L1225.8,1463.1M1243.5,1461.8L1239.4,1467.0M1143.7,1450.2L1149.6,1456.1M1082.5,1397.6L1099.4,1398.4M1177.6,1553.7L1178.0,1544.4M1106.2,1451.8L1116.2,1449.1M1207.7,1464.0L1205.5,1472.1M1196.5,1390.8L1191.8,1394.6M1208.2,1508.3L1214.8,1515.6M1210.8,1585.4L1223.2,1589.3M1098.9,1351.6L1108.1,1351.5M1228.1,1566.8L1231.3,1578.9M1088.3,1389.2L1102.5,1389.3M1247.4,1469.9L1244.5,1478.1M1051.7,1474.3L1063.3,1459.2M1024.1,1451.8L1032.7,1454.8M1258.0,1547.6L1245.5,1555.1M1119.8,1405.1L1110.9,1414.8M1049.2,1416.5L1055.3,1411.1M1261.1,1586.5L1252.5,1591.8M1225.9,1461.1L1207.7,1464.0M1176.6,1571.2L1175.6,1573.1M1163.0,1380.9L1170.0,1387.9M1142.0,1352.3L1150.4,1362.0M1179.0,1582.9L1185.9,1590.6M1264.7,1542.6L1265.5,1551.5M1258.4,1492.8L1249.4,1487.5M1256.7,1524.6L1255.9,1537.1M1142.7,1482.5L1146.6,1483.8M1047.8,1477.3L1049.7,1479.6M1074.9,1458.6L1079.9,1471.6M1114.8,1483.1L1111.3,1483.7M1178.3,1598.4L1178.3,1592.6M1265.5,1551.5L1266.0,1560.1M1177.3,1563.2L1181.0,1560.6M1114.3,1427.0L1118.9,1442.8M1064.5,1480.0L1068.0,1472.7M1210.3,1434.1L1199.6,1440.1M1259.6,1595.1L1252.5,1591.8M1039.3,1476.3L1039.8,1477.2" stroke="#ffffff" stroke-width="0.95" fill="none" opacity="0.95"/>
<path d="M1045.2,1642.5L1043.1,1652.3M1025.8,1553.0L1037.5,1565.2M992.6,1630.3L1004.6,1629.7M1050.9,1638.1L1045.2,1642.5M1020.0,1642.6L1026.0,1654.6M964.5,1722.9L972.0,1713.0M1027.9,1539.8L1038.7,1548.2M948.3,1699.9L949.3,1689.2M1037.5,1565.2L1040.2,1569.0M994.2,1571.3L1001.9,1569.6M1000.5,1531.5L1006.0,1537.3M965.1,1588.7L971.9,1599.9M1038.7,1548.2L1025.8,1553.0M1046.5,1567.0L1037.5,1565.2M1032.2,1675.2L1021.0,1690.5M949.3,1689.2L951.2,1680.2M1047.8,1713.9L1036.0,1713.6M947.6,1710.7L960.9,1713.3M1001.9,1569.6L1016.5,1569.2M979.2,1590.7L986.5,1604.6M1026.0,1654.6L1027.3,1662.1M1053.2,1609.2L1052.7,1619.0M1049.5,1576.5L1040.2,1569.0M1036.0,1713.6L1025.6,1713.6M1040.9,1633.0L1038.5,1647.9M999.4,1722.3L993.4,1713.2M1005.0,1639.0L1020.0,1642.6M949.7,1577.1L956.0,1580.1M965.4,1662.9L973.4,1679.1M973.3,1626.1L967.2,1638.5M1052.7,1619.0L1051.9,1630.4M1042.5,1619.8L1030.5,1616.8M946.4,1630.5L945.7,1619.5M1038.5,1647.9L1038.4,1664.6M986.5,1604.6L981.5,1618.1M992.6,1630.3L980.3,1639.4M1043.1,1652.3L1038.5,1647.9M945.7,1619.5L945.3,1609.3M972.0,1713.0L960.9,1713.3M996.5,1555.0L994.2,1571.3M965.1,1588.7L979.2,1590.7M1001.6,1607.7L997.7,1618.2M994.2,1571.3L998.3,1581.1M1043.1,1665.3L1038.4,1664.6M972.0,1713.0L968.2,1700.3M1001.9,1569.6L1016.4,1580.6M1032.4,1701.1L1032.8,1688.0M990.5,1678.3L995.6,1685.7M990.6,1637.4L988.7,1650.1M1047.1,1682.8L1048.7,1691.9M969.7,1556.8L987.6,1558.0M1000.1,1700.6L990.2,1699.3M954.6,1678.8L957.2,1686.2M1051.9,1630.4L1048.3,1627.2M990.2,1699.3L995.6,1685.7M1005.0,1639.0L998.3,1650.5M982.3,1540.6L987.1,1538.2M986.5,1604.6L1001.6,1607.7M985.6,1533.6L982.3,1540.6M1048.3,1627.2L1040.9,1633.0M1050.9,1638.1L1047.9,1631.8M1038.4,1664.6L1032.2,1675.2M1034.1,1722.7L1025.6,1713.6M1052.7,1619.0L1042.5,1619.8M1019.4,1549.8L1009.5,1554.5M1000.5,1531.5L987.1,1538.2M945.9,1597.3L948.7,1596.7M956.0,1654.3L965.4,1662.9M1007.5,1721.8L1015.3,1713.4M990.5,1678.3L998.6,1672.3M971.9,1599.9L964.0,1625.4M956.0,1580.1L955.4,1597.4M1045.0,1589.4L1030.8,1594.3M972.5,1538.8L983.2,1547.5M999.4,1722.3L1003.9,1713.0M1006.0,1537.3L1003.7,1545.2M973.4,1679.1L979.1,1682.7M1038.4,1664.6L1027.3,1662.1M1047.0,1673.5L1047.1,1682.8M1043.0,1722.1L1036.0,1713.6M1010.5,1700.2L1000.1,1700.6M981.5,1618.1L992.6,1630.3M1015.6,1539.9L1019.4,1549.8M994.2,1571.3L982.1,1580.0M1019.4,1549.8L1016.5,1569.2M1040.2,1569.0L1030.8,1577.3M971.9,1599.9L986.5,1604.6M997.7,1618.2L1004.6,1629.7M1032.4,1701.1L1021.0,1690.5M959.4,1639.0L967.2,1638.5M1049.4,1615.0L1043.7,1608.1M990.2,1699.3L979.1,1682.7M1034.1,1722.7L1025.9,1722.1M1042.5,1619.8L1038.6,1607.1M950.5,1622.7L948.9,1609.5M1048.3,1627.2L1042.5,1619.8M1025.9,1722.1L1016.5,1722.6M1046.5,1567.0L1049.5,1576.5M982.4,1712.8L978.6,1700.3M981.5,1618.1L997.7,1618.2M1015.5,1628.1L1020.0,1642.6M952.0,1560.1L961.2,1548.4M945.9,1597.3L948.9,1609.5M983.1,1563.7L973.5,1581.9M969.7,1556.8L983.2,1547.5M997.7,1618.2L1007.4,1617.5M1054.7,1587.9L1049.5,1576.5M961.2,1548.4L972.5,1538.8M1048.7,1691.9L1046.7,1686.4M973.2,1721.9L964.5,1722.9M983.2,1547.5L993.0,1545.2M947.1,1573.4L956.0,1564.4M973.5,1581.9L979.2,1590.7M951.5,1650.0L956.0,1654.3M954.0,1660.3L961.6,1664.1M960.5,1566.8L973.5,1581.9M1053.8,1597.8L1050.0,1601.2M995.6,1685.7L1005.8,1688.2M987.1,1538.2L983.2,1547.5M955.4,1597.4L971.9,1599.9M964.5,1722.9L954.5,1721.8M1027.3,1662.1L1032.2,1675.2M987.6,1558.0L996.5,1555.0M951.5,1650.0L962.4,1650.5M1004.6,1629.7L1015.5,1628.1M949.2,1639.7L953.4,1641.0M1006.0,1537.3L993.0,1545.2M973.4,1679.1L968.7,1688.4M1043.1,1665.3L1045.3,1675.9M1038.5,1647.9L1026.0,1654.6M1043.0,1722.1L1047.8,1713.9M1015.5,1628.1L1026.9,1629.3M1047.0,1656.3L1043.1,1665.3M981.5,1618.1L973.3,1626.1M1047.1,1559.3L1053.5,1572.9M1050.0,1601.2L1044.5,1596.7M1045.0,1589.4L1044.5,1596.7M956.0,1564.4L960.5,1566.8M997.7,1618.2L992.6,1630.3M953.0,1670.0L954.0,1660.3M949.3,1689.2L957.2,1686.2M973.5,1581.9L982.1,1580.0M956.3,1561.4L969.7,1556.8M1015.3,1713.4L1003.9,1713.0M1015.8,1602.9L1018.3,1617.6M993.4,1713.2L1000.1,1700.6M1038.5,1647.9L1031.7,1634.5M945.0,1585.9L949.7,1577.1M1027.8,1605.3L1030.5,1616.8M982.4,1712.8L990.2,1699.3M1015.5,1628.1L1005.0,1639.0M979.4,1664.1L979.1,1682.7M1047.1,1559.3L1037.5,1565.2M947.1,1573.4L949.7,1577.1M973.5,1581.9L965.1,1588.7M955.8,1664.7L961.6,1664.1M954.5,1721.8L960.9,1713.3M1038.7,1548.2L1047.1,1559.3M1027.3,1662.1L1011.2,1671.2M968.2,1700.3L955.4,1699.2M1014.1,1533.5L1015.6,1539.9M954.6,1678.8L973.4,1679.1M956.0,1654.3L962.4,1650.5M1049.8,1647.4L1045.2,1642.5M951.2,1680.2L953.0,1670.0M948.9,1609.5L955.4,1597.4M1027.9,1539.8L1027.8,1544.8M994.7,1591.1L1001.6,1607.7M1047.0,1656.3L1043.1,1652.3M1025.6,1713.6L1015.3,1713.4M949.3,1689.2L953.4,1685.1M1010.5,1700.2L1005.8,1688.2M991.2,1721.9L982.4,1712.8M956.0,1564.4L956.6,1578.3M979.4,1664.1L990.5,1678.3M1051.9,1630.4L1050.9,1638.1M1030.8,1594.3L1015.8,1602.9M1038.4,1664.6L1040.6,1678.5M980.4,1722.3L972.0,1713.0M962.4,1650.5L965.4,1662.9M945.3,1609.3L945.9,1597.3M1009.5,1554.5L1001.9,1569.6M1000.1,1700.6L1005.8,1688.2M1015.8,1602.9L1007.4,1617.5M1045.3,1675.9L1040.6,1678.5M1038.5,1647.9L1020.0,1642.6M994.7,1591.1L1009.8,1592.4M945.0,1585.9L945.9,1597.3M1054.7,1587.9L1052.7,1619.0M1016.5,1569.2L1030.8,1577.3M998.6,1672.3L1005.8,1688.2M1048.7,1691.9L1050.3,1700.1M953.4,1685.1L954.6,1678.8M990.2,1699.3L978.6,1700.3M979.4,1664.1L991.7,1660.2M1050.3,1700.1L1051.7,1710.8M1047.4,1709.9L1036.0,1713.6M978.6,1700.3L968.2,1700.3M1036.0,1713.6L1032.4,1701.1M1018.3,1617.6L1026.9,1629.3M962.4,1650.5L975.0,1652.0M1006.0,1537.3L1015.6,1539.9M1050.3,1700.1L1041.4,1694.7M1020.0,1642.6L1031.7,1634.5M948.9,1609.5L948.7,1596.7M1015.8,1602.9L1027.8,1605.3M1014.1,1533.5L1006.0,1537.3M1016.5,1722.6L1007.5,1721.8M968.2,1700.3L968.7,1688.4M1040.6,1678.5L1032.8,1688.0M998.6,1672.3L1011.2,1671.2M979.2,1590.7L994.7,1591.1M1007.5,1721.8L999.4,1722.3M959.4,1639.0L958.1,1627.4M960.9,1713.3L956.2,1700.2M949.3,1689.2L951.5,1699.7M991.2,1721.9L993.4,1713.2M957.0,1621.8L964.0,1625.4M954.5,1721.8L947.6,1710.7M1046.7,1686.4L1032.8,1688.0M965.4,1662.9L979.4,1664.1M1041.4,1694.7L1032.8,1688.0M1018.3,1617.6L1030.5,1616.8M1053.2,1609.2L1049.4,1615.0M1044.5,1596.7L1038.6,1607.1M985.6,1533.6L1000.5,1531.5M946.3,1722.4L948.3,1699.9M1020.0,1642.6L1017.8,1655.6M1016.4,1580.6L1030.8,1594.3M950.5,1622.7L955.8,1610.1M946.4,1630.5L950.5,1622.7M955.8,1610.1L964.0,1625.4M1027.8,1544.8L1025.8,1553.0M1021.0,1690.5L1032.8,1688.0M1001.6,1607.7L1015.8,1602.9M957.2,1686.2L968.7,1688.4M945.7,1619.5L948.9,1609.5M998.3,1650.5L1016.1,1657.9M1054.7,1587.9L1053.2,1609.2M1015.6,1539.9L1009.5,1554.5M979.2,1590.7L971.9,1599.9M962.4,1650.5L959.4,1639.0M1047.9,1631.8L1040.9,1633.0M957.2,1686.2L973.4,1679.1M972.0,1713.0L978.6,1700.3M967.2,1638.5L975.0,1652.0M972.5,1538.8L985.6,1533.6M1000.5,1531.5L993.0,1545.2M1001.9,1569.6L998.3,1581.1M990.5,1678.3L979.1,1682.7M952.0,1560.1L956.3,1561.4M956.0,1580.1L965.1,1588.7M960.9,1713.3L968.2,1700.3M1051.7,1710.8L1047.8,1713.9M954.5,1721.8L946.3,1722.4M1007.4,1617.5L1015.5,1628.1M961.2,1548.4L964.5,1551.8M983.2,1547.5L987.6,1558.0M998.3,1581.1L1009.8,1592.4M953.4,1641.0L958.1,1627.4M1011.3,1662.7L1027.3,1662.1M1053.2,1609.2L1050.0,1601.2M993.0,1545.2L996.5,1555.0M1034.1,1722.7L1036.0,1713.6M946.4,1630.5L953.4,1641.0M950.5,1622.7L957.0,1621.8M988.7,1650.1L991.7,1660.2M1053.5,1572.9L1054.7,1587.9M1025.8,1553.0L1016.5,1569.2M1040.6,1678.5L1032.2,1675.2M1025.9,1722.1L1025.6,1713.6M967.2,1638.5L980.3,1639.4M954.0,1660.3L951.5,1650.0M1026.9,1629.3L1031.7,1634.5M1047.1,1559.3L1046.5,1567.0M969.7,1556.8L983.1,1563.7M1007.4,1617.5L1018.3,1617.6M972.5,1538.8L969.7,1556.8M1050.3,1700.1L1047.4,1709.9M953.0,1670.0L955.8,1664.7M998.3,1581.1L1016.4,1580.6M993.0,1545.2L1003.7,1545.2M1044.5,1596.7L1030.8,1594.3M1011.3,1662.7L1011.2,1671.2M1049.8,1647.4L1047.0,1656.3M982.1,1580.0L994.7,1591.1M1005.8,1688.2L1021.0,1690.5M988.7,1650.1L998.3,1650.5M996.5,1555.0L1009.5,1554.5M975.0,1652.0L979.4,1664.1M1015.6,1539.9L1003.7,1545.2M1032.4,1701.1L1022.5,1700.9M1038.6,1607.1L1030.5,1616.8M1015.9,1591.4L1030.8,1594.3M952.0,1560.1L956.0,1564.4M1045.0,1589.4L1030.8,1577.3M1044.5,1596.7L1043.7,1608.1M1009.8,1592.4L1015.8,1602.9M1054.7,1587.9L1045.0,1589.4M1007.4,1617.5L1004.6,1629.7M1022.5,1700.9L1021.0,1690.5M958.1,1627.4L967.2,1638.5M1011.3,1662.7L1016.1,1657.9M953.4,1641.0L959.4,1639.0M982.1,1580.0L998.3,1581.1M1038.4,1664.6L1026.0,1654.6M956.2,1700.2L955.4,1699.2M978.6,1700.3L979.1,1682.7M1015.3,1713.4L1010.5,1700.2M1003.9,1713.0L993.4,1713.2M1038.7,1548.2L1040.1,1556.4M975.0,1652.0L988.7,1650.1M951.2,1680.2L954.6,1678.8M1041.4,1694.7L1032.4,1701.1M1026.9,1629.3L1020.0,1642.6M949.7,1577.1L956.0,1564.4M964.5,1551.8L969.7,1556.8M1009.8,1592.4L1015.9,1591.4M1047.4,1709.9L1032.4,1701.1M953.0,1670.0L954.6,1678.8M973.2,1721.9L972.0,1713.0M982.1,1580.0L979.2,1590.7M975.0,1652.0L965.4,1662.9M1017.8,1655.6L1027.3,1662.1M1046.5,1567.0L1040.2,1569.0M1032.2,1675.2L1032.8,1688.0M1051.7,1710.8L1052.2,1720.6M945.0,1585.9L956.0,1580.1M1045.7,1664.7L1043.1,1665.3M947.6,1710.7L951.5,1699.7M1025.6,1713.6L1022.5,1700.9M949.3,1689.2L955.4,1699.2M1009.8,1592.4L1001.6,1607.7M956.3,1561.4L960.5,1566.8M991.7,1660.2L998.6,1672.3M1050.9,1638.1L1049.8,1647.4M955.4,1597.4L965.1,1588.7M973.3,1626.1L980.3,1639.4M953.4,1641.0L962.4,1650.5M987.6,1558.0L994.2,1571.3M986.5,1604.6L997.7,1618.2M1015.3,1713.4L1022.5,1700.9M1038.7,1548.2L1027.8,1544.8M1043.1,1652.3L1038.4,1664.6M1027.8,1605.3L1018.3,1617.6M996.5,1555.0L1001.9,1569.6M1046.7,1686.4L1041.4,1694.7M951.5,1699.7L955.4,1699.2M951.2,1680.2L953.4,1685.1M1040.1,1556.4L1037.5,1565.2M1011.2,1671.2L1021.0,1690.5M1047.0,1656.3L1038.4,1664.6M953.4,1685.1L957.2,1686.2M990.6,1637.4L998.3,1650.5M991.7,1660.2L1011.3,1662.7M1047.4,1709.9L1041.4,1694.7M1051.9,1630.4L1047.9,1631.8M968.2,1700.3L956.2,1700.2M1047.1,1682.8L1040.6,1678.5M1042.5,1619.8L1026.9,1629.3M956.0,1654.3L961.6,1664.1M985.6,1533.6L987.1,1538.2M1003.7,1545.2L1009.5,1554.5M1030.8,1577.3L1030.8,1594.3M948.9,1609.5L955.8,1610.1M1015.6,1539.9L1027.8,1544.8M1027.8,1605.3L1038.6,1607.1M1027.9,1539.8L1015.6,1539.9M994.7,1591.1L986.5,1604.6M1016.5,1722.6L1015.3,1713.4M948.7,1596.7L955.4,1597.4M956.0,1580.1L956.6,1578.3M1017.8,1655.6L1016.1,1657.9M945.0,1585.9L948.7,1596.7M1011.2,1671.2L1032.2,1675.2M979.4,1664.1L973.4,1679.1M999.4,1722.3L991.2,1721.9M1007.5,1721.8L1003.9,1713.0M971.9,1599.9L981.5,1618.1M990.6,1637.4L1005.0,1639.0M1025.6,1713.6L1032.4,1701.1M958.1,1627.4L957.0,1621.8M980.3,1639.4L988.7,1650.1M980.4,1722.3L982.4,1712.8M991.7,1660.2L990.5,1678.3M1048.3,1627.2L1047.9,1631.8M958.1,1627.4L964.0,1625.4M1052.7,1619.0L1048.3,1627.2M1000.1,1700.6L995.6,1685.7M1000.5,1531.5L1014.1,1533.5M987.6,1558.0L983.1,1563.7M1019.4,1549.8L1025.8,1553.0M1047.0,1673.5L1048.7,1691.9M946.4,1630.5L958.1,1627.4M1016.5,1569.2L1016.4,1580.6M998.6,1672.3L995.6,1685.7M947.6,1710.7L948.3,1699.9M1046.7,1686.4L1040.6,1678.5M1017.8,1655.6L1026.0,1654.6M951.5,1699.7L956.2,1700.2M983.1,1563.7L994.2,1571.3M1040.1,1556.4L1025.8,1553.0M955.4,1699.2L968.7,1688.4M1011.2,1671.2L1005.8,1688.2M972.5,1538.8L982.3,1540.6M1047.4,1709.9L1047.8,1713.9M1043.7,1608.1L1038.6,1607.1M980.3,1639.4L990.6,1637.4M1018.3,1617.6L1015.5,1628.1M1049.4,1615.0L1042.5,1619.8M1030.5,1616.8L1026.9,1629.3M1045.2,1642.5L1038.5,1647.9M1053.2,1609.2L1043.7,1608.1M1003.7,1545.2L996.5,1555.0M945.3,1609.3L948.9,1609.5M1053.5,1572.9L1049.5,1576.5M1016.5,1722.6L1025.6,1713.6M983.1,1563.7L982.1,1580.0M954.0,1660.3L956.0,1654.3M980.3,1639.4L975.0,1652.0M962.4,1650.5L967.2,1638.5M946.3,1722.4L947.6,1710.7M951.5,1650.0L953.4,1641.0M987.1,1538.2L993.0,1545.2M1016.4,1580.6L1015.9,1591.4M1052.7,1619.0L1049.4,1615.0M1027.8,1544.8L1019.4,1549.8M1052.2,1720.6L1047.8,1713.9M945.7,1619.5L950.5,1622.7M998.3,1650.5L1011.3,1662.7M1054.7,1587.9L1053.8,1597.8M956.6,1578.3L965.1,1588.7M1043.7,1608.1L1042.5,1619.8M1050.0,1601.2L1043.7,1608.1M964.0,1625.4L967.2,1638.5M1053.8,1597.8L1053.2,1609.2M954.6,1678.8L961.6,1664.1M951.5,1650.0L949.2,1639.7M972.5,1538.8L964.5,1551.8M1042.5,1619.8L1040.9,1633.0M1030.8,1594.3L1038.6,1607.1M1047.1,1682.8L1046.7,1686.4M949.2,1639.7L946.4,1630.5M960.5,1566.8L983.1,1563.7M993.4,1713.2L982.4,1712.8M953.0,1670.0L961.6,1664.1M1016.4,1580.6L1030.8,1577.3M1040.9,1633.0L1031.7,1634.5M982.3,1540.6L983.2,1547.5M955.8,1610.1L971.9,1599.9M1047.0,1656.3L1045.7,1664.7M1045.2,1642.5L1040.9,1633.0M993.4,1713.2L990.2,1699.3M982.4,1712.8L972.0,1713.0M1004.6,1629.7L1005.0,1639.0M998.3,1650.5L1017.8,1655.6M1045.7,1664.7L1047.0,1673.5M956.0,1564.4L956.3,1561.4M1037.5,1565.2L1030.8,1577.3M1053.5,1572.9L1046.5,1567.0M956.6,1578.3L973.5,1581.9M1022.5,1700.9L1010.5,1700.2M961.6,1664.1L973.4,1679.1M964.0,1625.4L973.3,1626.1M1051.7,1710.8L1047.4,1709.9M956.3,1561.4L964.5,1551.8M954.0,1660.3L955.8,1664.7M961.2,1548.4L956.3,1561.4M1049.5,1576.5L1030.8,1577.3M998.3,1581.1L994.7,1591.1M1052.2,1720.6L1043.0,1722.1M1053.8,1597.8L1044.5,1596.7M992.6,1630.3L1005.0,1639.0M993.0,1545.2L987.6,1558.0M1016.4,1580.6L1009.8,1592.4M950.5,1622.7L958.1,1627.4M1016.1,1657.9L1027.3,1662.1M988.7,1650.1L979.4,1664.1M1043.0,1722.1L1034.1,1722.7M1049.8,1647.4L1043.1,1652.3M955.4,1699.2L957.2,1686.2M1003.9,1713.0L1000.1,1700.6M1047.0,1673.5L1045.3,1675.9M998.3,1650.5L991.7,1660.2M1037.5,1565.2L1016.5,1569.2M964.0,1625.4L981.5,1618.1M1047.1,1559.3L1040.1,1556.4M1015.9,1591.4L1015.8,1602.9M947.1,1573.4L952.0,1560.1M1010.5,1700.2L1021.0,1690.5M960.5,1566.8L969.7,1556.8M968.7,1688.4L979.1,1682.7M1030.8,1594.3L1027.8,1605.3M1011.3,1662.7L998.6,1672.3M1047.1,1682.8L1045.3,1675.9M955.8,1610.1L955.4,1597.4M964.5,1722.9L960.9,1713.3M979.1,1682.7L995.6,1685.7M1009.5,1554.5L1016.5,1569.2M1049.5,1576.5L1045.0,1589.4M945.0,1585.9L955.4,1597.4M947.6,1710.7L956.2,1700.2M1048.7,1691.9L1041.4,1694.7M949.7,1577.1L956.6,1578.3M1053.8,1597.8L1045.0,1589.4M978.6,1700.3L968.7,1688.4M1040.9,1633.0L1026.9,1629.3M992.6,1630.3L990.6,1637.4M945.0,1585.9L947.1,1573.4M956.6,1578.3L960.5,1566.8M1001.6,1607.7L1007.4,1617.5M1003.9,1713.0L1010.5,1700.2M1043.1,1665.3L1040.6,1678.5M1047.0,1673.5L1043.1,1665.3M991.2,1721.9L980.4,1722.3M948.3,1699.9L951.5,1699.7M957.0,1621.8L955.8,1610.1M961.6,1664.1L965.4,1662.9M980.4,1722.3L973.2,1721.9M1047.9,1631.8L1045.2,1642.5M973.3,1626.1L992.6,1630.3M1005.0,1639.0L1017.8,1655.6M1014.1,1533.5L1027.9,1539.8" stroke="#ffffff" stroke-width="0.95" fill="none" opacity="0.95"/>
<path d="M1017.9,1713.7L1004.1,1713.4M1042.4,1697.2L1037.5,1700.0M1023.1,1689.2L1032.4,1689.2M1010.0,1720.7L1017.9,1713.7M1027.7,1538.5L1039.4,1547.9M950.3,1644.8L946.8,1630.1M1037.5,1700.0L1023.9,1700.9M989.5,1713.3L987.1,1700.7M998.8,1722.2L1004.1,1713.4M1034.3,1661.7L1023.8,1676.8M1049.0,1687.5L1046.2,1693.6M950.3,1644.8L952.3,1638.7M946.8,1630.1L946.4,1618.8M949.4,1591.0L959.6,1593.0M962.8,1616.1L975.1,1617.5M1047.9,1560.5L1039.0,1554.4M1011.7,1591.1L1005.4,1599.3M1053.0,1609.1L1052.7,1619.4M1042.5,1623.7L1031.9,1624.3M962.2,1700.1L956.0,1692.3M1023.8,1676.8L1000.6,1686.9M1052.3,1721.5L1046.7,1713.4M976.8,1552.1L990.8,1563.6M945.2,1608.2L950.4,1618.0M1052.7,1619.4L1051.3,1629.5M973.9,1700.4L980.1,1688.0M961.4,1554.3L968.8,1548.2M956.0,1692.3L959.0,1678.1M949.4,1591.0L954.8,1586.2M990.6,1538.8L998.5,1544.4M1036.3,1601.6L1025.0,1614.9M952.3,1638.7L956.7,1625.0M956.1,1613.3L962.8,1616.1M1045.6,1647.4L1041.4,1632.4M954.8,1586.2L958.4,1574.5M954.1,1660.2L956.9,1652.7M962.8,1616.1L971.2,1626.9M1050.4,1699.8L1051.6,1711.2M959.6,1593.0L973.3,1598.4M1002.8,1545.1L990.8,1563.6M1048.9,1573.6L1049.6,1579.8M972.0,1657.9L986.0,1656.0M983.1,1632.9L996.1,1646.2M1039.4,1547.9L1028.4,1546.2M1004.1,1713.4L1011.9,1701.3M1015.9,1548.0L1011.2,1558.3M999.5,1629.2L1007.8,1640.1M956.1,1613.3L973.3,1598.4M989.5,1713.3L1000.3,1700.7M976.8,1552.1L978.0,1563.7M1051.3,1629.5L1048.1,1631.2M973.9,1700.4L967.8,1684.9M959.0,1678.1L981.9,1675.6M986.1,1534.5L990.6,1538.8M1015.0,1575.5L1030.6,1589.9M972.0,1657.9L981.9,1675.6M1051.3,1641.6L1045.6,1647.4M956.9,1652.7L961.6,1650.3M1049.0,1687.5L1050.4,1699.8M1039.5,1662.8L1034.3,1661.7M1047.5,1653.2L1039.1,1646.9M1013.1,1659.2L1011.4,1668.4M956.1,1613.3L954.8,1596.8M1000.5,1532.4L1011.1,1538.3M990.6,1538.8L987.4,1546.4M1034.8,1561.5L1031.1,1575.0M1045.4,1664.8L1039.5,1662.8M1047.3,1676.7L1044.5,1671.2M954.1,1660.2L956.2,1664.2M946.8,1630.1L956.7,1625.0M1002.8,1545.1L1015.9,1548.0M1010.0,1720.7L998.8,1722.2M1015.9,1548.0L1027.6,1553.0M959.0,1678.1L967.8,1684.9M1015.0,1575.5L1031.1,1575.0M973.3,1598.4L975.1,1617.5M1050.9,1592.1L1043.8,1579.2M983.1,1632.9L979.8,1644.6M998.8,1722.2L988.7,1721.6M994.6,1675.1L1011.4,1668.4M951.9,1560.0L961.1,1549.2M1042.5,1623.7L1041.4,1632.4M972.6,1538.5L986.1,1538.9M1011.4,1668.4L1023.8,1676.8M1023.7,1645.1L1034.3,1661.7M961.1,1549.2L972.6,1538.5M956.2,1664.2L961.2,1663.3M946.9,1710.9L949.2,1700.8M990.8,1563.6L1005.9,1574.8M1041.4,1632.4L1039.1,1646.9M972.6,1538.5L987.4,1546.4M1046.2,1693.6L1042.4,1697.2M1051.3,1629.5L1049.4,1619.6M949.2,1700.8L950.3,1690.2M1004.1,1713.4L989.5,1713.3M1011.2,1558.3L1015.0,1575.5M961.1,1549.2L961.4,1554.3M973.3,1598.4L984.6,1601.3M952.0,1674.5L955.3,1678.5M986.1,1534.5L986.1,1538.9M1015.0,1575.5L1011.7,1591.1M989.5,1713.3L976.2,1713.4M1023.9,1700.9L1011.9,1701.3M1052.5,1571.8L1049.6,1579.8M988.7,1721.6L989.5,1713.3M994.6,1675.1L1000.6,1686.9M1047.9,1560.5L1052.5,1571.8M1034.8,1561.5L1015.0,1575.5M950.3,1644.8L961.6,1650.3M1011.9,1701.3L1000.3,1700.7M1054.2,1586.9L1050.9,1592.1M978.2,1722.6L976.2,1713.4M945.2,1608.2L945.1,1598.2M987.1,1700.7L1000.6,1686.9M990.0,1618.4L1009.1,1619.5M950.4,1575.4L954.8,1586.2M1039.3,1594.5L1036.3,1601.6M1053.0,1609.1L1044.6,1605.9M951.0,1575.1L958.4,1574.5M1046.0,1687.1L1041.3,1677.3M1021.2,1541.8L1015.9,1548.0M972.6,1538.5L968.8,1548.2M1023.7,1645.1L1013.1,1659.2M1047.9,1560.5L1040.9,1569.6M956.2,1664.2L959.0,1678.1M990.8,1563.6L985.4,1581.8M1028.4,1546.2L1027.6,1553.0M990.0,1618.4L999.5,1629.2M1039.4,1547.9L1047.9,1560.5M1011.2,1558.3L1005.9,1574.8M976.2,1713.4L973.9,1700.4M946.4,1618.8L945.2,1608.2M975.1,1617.5L990.0,1618.4M1052.5,1571.8L1048.9,1573.6M962.4,1713.5L962.2,1700.1M994.6,1675.1L980.1,1688.0M958.4,1574.5L978.0,1563.7M1037.5,1700.0L1032.4,1689.2M945.1,1598.2L949.2,1604.3M1054.2,1586.9L1049.6,1579.8M1051.3,1629.5L1051.3,1641.6M1007.8,1640.1L1001.9,1657.0M959.0,1678.1L961.2,1663.3M955.3,1678.5L956.0,1692.3M946.9,1573.4L951.0,1575.1M987.4,1546.4L990.8,1563.6M986.1,1538.9L990.6,1538.8M961.2,1663.3L961.6,1650.3M1031.9,1722.0L1032.0,1713.5M950.4,1618.0L956.1,1613.3M958.4,1574.5L967.8,1557.5M975.1,1617.5L983.1,1632.9M1051.6,1711.2L1052.3,1721.5M967.8,1557.5L976.8,1552.1M981.9,1675.6L967.8,1684.9M978.0,1563.7L990.8,1563.6M946.8,1630.1L950.4,1618.0M979.2,1587.7L984.6,1601.3M956.7,1625.0L971.2,1626.9M1052.3,1721.5L1041.6,1722.7M1047.9,1560.5L1034.8,1561.5M1049.6,1579.8L1050.9,1592.1M1050.4,1699.8L1046.2,1693.6M990.8,1563.6L1011.2,1558.3M1050.9,1592.1L1049.4,1605.2M1027.6,1553.0L1034.8,1561.5M1001.9,1657.0L1013.1,1659.2M976.2,1713.4L987.1,1700.7M988.7,1721.6L978.2,1722.6M1027.6,1553.0L1011.2,1558.3M1034.8,1561.5L1040.9,1569.6M945.0,1586.7L950.4,1575.4M1023.1,1628.3L1031.9,1624.3M978.2,1722.6L967.3,1721.9M979.2,1587.7L991.6,1589.1M1041.6,1722.7L1046.7,1713.4M1011.9,1701.3L1023.1,1689.2M967.8,1684.9L980.1,1688.0M986.1,1534.5L1000.5,1532.4M962.2,1700.1L967.8,1684.9M1039.5,1662.8L1041.3,1677.3M1048.9,1573.6L1043.8,1579.2M1015.5,1533.9L1021.2,1541.8M1047.5,1653.2L1045.6,1647.4M986.0,1656.0L1001.9,1657.0M949.2,1700.8L962.2,1700.1M1039.4,1547.9L1027.6,1553.0M1049.0,1687.5L1046.0,1687.1M950.3,1644.8L956.9,1652.7M1023.1,1628.3L1023.7,1645.1M946.8,1630.1L952.3,1638.7M954.8,1586.2L959.6,1593.0M959.6,1593.0L979.2,1587.7M954.8,1596.8L973.3,1598.4M1053.0,1609.1L1049.4,1619.6M1041.4,1632.4L1031.9,1624.3M945.2,1608.2L956.1,1613.3M961.4,1554.3L967.8,1557.5M1005.4,1599.3L1009.1,1619.5M1049.4,1619.6L1042.5,1623.7M986.0,1656.0L994.6,1675.1M1046.0,1687.1L1046.2,1693.6M952.3,1638.7L960.4,1637.1M968.8,1548.2L976.8,1552.1M972.6,1538.5L986.1,1534.5M1000.5,1532.4L1002.8,1545.1M1043.8,1579.2L1039.3,1594.5M1047.3,1676.7L1041.3,1677.3M950.3,1690.2L952.0,1674.5M1011.9,1701.3L1000.6,1686.9M1032.0,1713.5L1023.9,1700.9M1041.4,1632.4L1023.7,1645.1M976.2,1713.4L962.4,1713.5M1048.9,1573.6L1040.9,1569.6M1005.4,1599.3L1017.2,1607.1M1052.5,1571.8L1054.2,1586.9M984.6,1601.3L990.0,1618.4M1049.4,1605.2L1044.6,1605.9M999.5,1629.2L996.1,1646.2M1023.1,1628.3L1007.8,1640.1M946.9,1710.9L949.9,1707.8M1039.1,1646.9L1039.5,1662.8M1047.5,1653.2L1045.4,1664.8M1041.4,1632.4L1023.1,1628.3M1046.7,1713.4L1037.5,1700.0M1051.3,1641.6L1048.1,1631.2M956.9,1652.7L961.2,1663.3M949.2,1700.8L952.6,1693.6M985.4,1581.8L991.6,1589.1M961.2,1663.3L981.9,1675.6M984.6,1601.3L1005.4,1599.3M1000.5,1532.4L990.6,1538.8M1031.1,1575.0L1030.6,1589.9M986.0,1656.0L981.9,1675.6M960.4,1637.1L956.7,1625.0M1041.3,1677.3L1034.3,1661.7M1041.3,1677.3L1032.4,1689.2M1040.9,1569.6L1031.1,1575.0M996.1,1646.2L1007.8,1640.1M1039.0,1554.4L1034.8,1561.5M961.6,1650.3L979.8,1644.6M1000.3,1700.7L987.1,1700.7M1054.5,1597.5L1049.4,1605.2M967.3,1721.9L962.4,1713.5M1023.8,1676.8L1032.4,1689.2M954.8,1596.8L959.6,1593.0M987.4,1546.4L998.5,1544.4M1009.1,1619.5L1025.0,1614.9M973.3,1598.4L962.8,1616.1M985.4,1581.8L1005.9,1574.8M961.2,1663.3L972.0,1657.9M984.6,1601.3L975.1,1617.5M1050.9,1592.1L1039.3,1594.5M961.6,1650.3L960.4,1637.1M956.4,1722.1L946.9,1710.9M1041.3,1677.3L1023.8,1676.8M1023.9,1700.9L1032.4,1689.2M1011.1,1538.3L1021.2,1541.8M951.9,1560.0L961.4,1554.3M961.6,1650.3L972.0,1657.9M979.8,1644.6L996.1,1646.2M972.6,1538.5L976.8,1552.1M1009.1,1619.5L1023.1,1628.3M1046.7,1713.4L1042.4,1697.2M1051.3,1629.5L1042.5,1623.7M1010.0,1720.7L1004.1,1713.4M1041.6,1722.7L1031.9,1722.0M978.2,1722.6L989.5,1713.3M1011.4,1668.4L1000.6,1686.9M1051.6,1711.2L1046.7,1713.4M1011.7,1591.1L1017.2,1607.1M1039.0,1554.4L1027.6,1553.0M987.1,1700.7L980.1,1688.0M979.8,1644.6L986.0,1656.0M1054.5,1597.5L1050.9,1592.1M949.9,1707.8L962.2,1700.1M967.3,1721.9L976.2,1713.4M1023.8,1676.8L1023.1,1689.2M1051.3,1641.6L1047.5,1653.2M945.2,1608.2L949.2,1604.3M951.0,1575.1L954.8,1586.2M1009.1,1619.5L1007.8,1640.1M1020.6,1722.2L1017.9,1713.7M949.2,1604.3L954.8,1596.8M1045.6,1647.4L1039.1,1646.9M976.8,1552.1L987.4,1546.4M991.6,1589.1L1005.4,1599.3M1028.4,1546.2L1015.9,1548.0M990.0,1618.4L983.1,1632.9M1044.6,1605.9L1031.9,1624.3M950.3,1690.2L956.0,1692.3M1009.1,1619.5L999.5,1629.2M1039.4,1547.9L1039.0,1554.4M1004.1,1713.4L1000.3,1700.7M1013.1,1659.2L1034.3,1661.7M952.0,1674.5L959.0,1678.1M962.4,1713.5L973.9,1700.4M946.4,1618.8L950.4,1618.0M1040.9,1569.6L1043.8,1579.2M958.4,1574.5L979.2,1587.7M945.0,1586.7L954.8,1586.2M1017.2,1607.1L1025.0,1614.9M956.7,1625.0L962.8,1616.1M1048.1,1631.2L1041.4,1632.4M967.3,1721.9L956.4,1722.1M967.8,1557.5L978.0,1563.7M991.6,1589.1L1011.7,1591.1M946.9,1573.4L950.4,1575.4M945.1,1598.2L954.8,1596.8M979.8,1644.6L972.0,1657.9M1044.6,1605.9L1025.0,1614.9M1046.7,1713.4L1032.0,1713.5M980.1,1688.0L1000.6,1686.9M998.5,1544.4L990.8,1563.6M1000.5,1532.4L1015.5,1533.9M1001.9,1657.0L1011.4,1668.4M950.4,1618.0L956.7,1625.0M983.1,1632.9L999.5,1629.2M986.1,1538.9L987.4,1546.4M1027.7,1538.5L1028.4,1546.2M1020.6,1722.2L1032.0,1713.5M1047.5,1653.2L1039.5,1662.8M1045.4,1664.8L1044.5,1671.2M975.1,1617.5L971.2,1626.9M949.2,1604.3L956.1,1613.3M954.1,1660.2L950.3,1644.8M1013.1,1659.2L1023.8,1676.8M1017.2,1607.1L1036.3,1601.6M979.2,1587.7L973.3,1598.4M1054.5,1597.5L1052.7,1619.4M1047.3,1676.7L1046.0,1687.1M991.6,1589.1L984.6,1601.3M1044.6,1605.9L1036.3,1601.6M1049.6,1579.8L1043.8,1579.2M1050.4,1699.8L1042.4,1697.2M945.0,1586.7L945.1,1598.2M1034.8,1561.5L1011.2,1558.3M958.4,1574.5L959.6,1593.0M945.0,1586.7L949.4,1591.0M1017.2,1607.1L1009.1,1619.5M1048.1,1631.2L1042.5,1623.7M946.9,1710.9L950.3,1690.2M1044.6,1605.9L1039.3,1594.5M950.3,1690.2L955.3,1678.5M952.0,1674.5L954.1,1660.2M1015.5,1533.9L1011.1,1538.3M1017.9,1713.7L1011.9,1701.3M1020.6,1722.2L998.8,1722.2M1001.9,1657.0L994.6,1675.1M952.0,1674.5L956.2,1664.2M962.4,1713.5L949.9,1707.8M956.0,1692.3L967.8,1684.9M1027.7,1538.5L1021.2,1541.8M1054.2,1586.9L1054.5,1597.5M987.1,1700.7L973.9,1700.4M950.3,1644.8L960.4,1637.1M956.4,1722.1L949.9,1707.8M978.0,1563.7L979.2,1587.7M1054.5,1597.5L1053.0,1609.1M950.4,1575.4L951.0,1575.1M973.9,1700.4L962.2,1700.1M1053.0,1609.1L1049.4,1605.2M971.2,1626.9L983.1,1632.9M1005.4,1599.3L990.0,1618.4M1052.7,1619.4L1049.4,1619.6M1049.4,1619.6L1044.6,1605.9M1045.4,1664.8L1047.3,1676.7M1039.1,1646.9L1034.3,1661.7M1005.9,1574.8L1011.7,1591.1M968.8,1548.2L967.8,1557.5M1047.3,1676.7L1049.0,1687.5M1000.5,1532.4L998.5,1544.4M1043.8,1579.2L1030.6,1589.9M1021.2,1541.8L1028.4,1546.2M1046.0,1687.1L1042.4,1697.2M956.7,1625.0L956.1,1613.3M978.0,1563.7L985.4,1581.8M1007.8,1640.1L1023.7,1645.1M1025.0,1614.9L1031.9,1624.3M1032.0,1713.5L1037.5,1700.0M1031.9,1722.0L1020.6,1722.2M950.3,1690.2L952.6,1693.6M1000.3,1700.7L1000.6,1686.9M998.5,1544.4L1002.8,1545.1M1030.6,1589.9L1036.3,1601.6M971.2,1626.9L979.8,1644.6M1017.9,1713.7L1023.9,1700.9M1020.6,1722.2L1010.0,1720.7M1039.1,1646.9L1023.7,1645.1M1005.9,1574.8L1015.0,1575.5M1042.4,1697.2L1032.4,1689.2M1043.8,1579.2L1031.1,1575.0M960.4,1637.1L979.8,1644.6M981.9,1675.6L994.6,1675.1M1044.5,1671.2L1041.3,1677.3M996.1,1646.2L1001.9,1657.0M946.9,1573.4L951.9,1560.0M956.4,1722.1L962.4,1713.5M952.6,1693.6L956.0,1692.3M945.1,1598.2L949.4,1591.0M1044.6,1605.9L1042.5,1623.7M1011.1,1538.3L1015.9,1548.0M951.9,1560.0L967.8,1557.5M961.1,1549.2L968.8,1548.2M1007.8,1640.1L1013.1,1659.2M955.3,1678.5L959.0,1678.1M1030.6,1589.9L1039.3,1594.5M949.2,1700.8L949.9,1707.8M985.4,1581.8L979.2,1587.7M1051.3,1641.6L1041.4,1632.4M1005.9,1574.8L991.6,1589.1M998.8,1722.2L989.5,1713.3M949.4,1591.0L954.8,1596.8M960.4,1637.1L971.2,1626.9M1047.9,1560.5L1048.9,1573.6M981.9,1675.6L980.1,1688.0M954.1,1660.2L961.2,1663.3M1052.7,1619.4L1051.3,1641.6M1025.0,1614.9L1023.1,1628.3M1050.4,1699.8L1046.7,1713.4M1030.6,1589.9L1017.2,1607.1M945.0,1586.7L946.9,1573.4M956.4,1722.1L946.8,1721.8M1049.4,1605.2L1039.3,1594.5M1023.9,1700.9L1023.1,1689.2M1011.7,1591.1L1030.6,1589.9M951.9,1560.0L951.0,1575.1M1044.5,1671.2L1039.5,1662.8M996.1,1646.2L986.0,1656.0M952.6,1693.6L962.2,1700.1M1046.0,1687.1L1032.4,1689.2M946.8,1721.8L946.9,1710.9M1041.6,1722.7L1032.0,1713.5M1032.0,1713.5L1017.9,1713.7M1011.1,1538.3L1002.8,1545.1M951.9,1560.0L958.4,1574.5M1000.6,1686.9L1023.1,1689.2M1002.8,1545.1L1011.2,1558.3M1015.5,1533.9L1027.7,1538.5" stroke="#ffffff" stroke-width="0.8" fill="none" opacity="0.7"/>
</g>
<text transform="translate(1060.06,1115.47) scale(0.8101,1)" font-size="42.69" font-family='"Liberation Sans", Arial, sans-serif' fill="#f02a2a">O</text>
<text transform="translate(1056.58,1207.19) scale(0.7441,1)" font-size="40.85" font-family='"Liberation Sans", Arial, sans-serif' fill="#55c4b4">C</text>
<text transform="translate(1066.87,1278.48) scale(0.7956,1)" font-size="41.58" font-family='"Liberation Sans", Arial, sans-serif' fill="#ffff3c">Fe</text>
<text transform="translate(1006.43,1445.90) scale(0.8667,1)" font-size="41.60" font-family='"Liberation Sans", Arial, sans-serif' fill="#4a12c8">N</text>
<text transform="translate(1120.70,1583.30) scale(0.9406,1)" font-size="40.42" font-family='"Liberation Sans", Arial, sans-serif' fill="#4a2a0a">Cu</text>
<text transform="translate(144.38,31.59) scale(0.8237,1)" font-size="40.55" font-family='"Liberation Sans", Arial, sans-serif' fill="#000">a</text>
<text transform="translate(863.17,31.58) scale(1.0261,1)" font-size="42.45" font-family='"Liberation Sans", Arial, sans-serif' fill="#000">b</text>
<text transform="translate(145.06,936.30) scale(0.9607,1)" font-size="40.18" font-family='"Liberation Sans", Arial, sans-serif' fill="#000">c</text>
<text transform="translate(862.81,936.27) scale(1.0403,1)" font-size="42.72" font-family='"Liberation Sans", Arial, sans-serif' fill="#000">d</text>
<text transform="translate(83.49,75.08) scale(1.1868,1)" font-size="42.40" font-family='"Liberation Sans", Arial, sans-serif' fill="#000">0.6</text>
<text transform="translate(799.49,75.08) scale(1.1868,1)" font-size="42.40" font-family='"Liberation Sans", Arial, sans-serif' fill="#000">0.6</text>
<text transform="translate(83.51,199.87) scale(1.1695,1)" font-size="42.54" font-family='"Liberation Sans", Arial, sans-serif' fill="#000">0.4</text>
<text transform="translate(799.51,199.87) scale(1.1695,1)" font-size="42.54" font-family='"Liberation Sans", Arial, sans-serif' fill="#000">0.4</text>
<text transform="translate(83.51,326.58) scale(1.1837,1)" font-size="41.98" font-family='"Liberation Sans", Arial, sans-serif' fill="#000">0.2</text>
<text transform="translate(799.51,326.58) scale(1.1837,1)" font-size="41.98" font-family='"Liberation Sans", Arial, sans-serif' fill="#000">0.2</text>
<text transform="translate(83.49,449.88) scale(1.1983,1)" font-size="41.84" font-family='"Liberation Sans", Arial, sans-serif' fill="#000">0.0</text>
<text transform="translate(799.49,449.88) scale(1.1983,1)" font-size="41.84" font-family='"Liberation Sans", Arial, sans-serif' fill="#000">0.0</text>
<text transform="translate(67.98,575.78) scale(1.1675,1)" font-size="42.26" font-family='"Liberation Sans", Arial, sans-serif' fill="#000">-0.2</text>
<text transform="translate(783.98,575.78) scale(1.1675,1)" font-size="42.26" font-family='"Liberation Sans", Arial, sans-serif' fill="#000">-0.2</text>
<text transform="translate(67.99,699.98) scale(1.1748,1)" font-size="41.84" font-family='"Liberation Sans", Arial, sans-serif' fill="#000">-0.4</text>
<text transform="translate(783.99,699.98) scale(1.1748,1)" font-size="41.84" font-family='"Liberation Sans", Arial, sans-serif' fill="#000">-0.4</text>
<text transform="translate(67.97,825.78) scale(1.1856,1)" font-size="41.84" font-family='"Liberation Sans", Arial, sans-serif' fill="#000">-0.6</text>
<text transform="translate(783.97,825.78) scale(1.1856,1)" font-size="41.84" font-family='"Liberation Sans", Arial, sans-serif' fill="#000">-0.6</text>
<text transform="translate(84.02,979.58) scale(1.1692,1)" font-size="42.40" font-family='"Liberation Sans", Arial, sans-serif' fill="#000">0.9</text>
<text transform="translate(83.49,1104.28) scale(1.1908,1)" font-size="42.26" font-family='"Liberation Sans", Arial, sans-serif' fill="#000">0.6</text>
<text transform="translate(83.51,1231.47) scale(1.1532,1)" font-size="43.11" font-family='"Liberation Sans", Arial, sans-serif' fill="#000">0.3</text>
<text transform="translate(83.49,1354.77) scale(1.1668,1)" font-size="42.97" font-family='"Liberation Sans", Arial, sans-serif' fill="#000">0.0</text>
<text transform="translate(67.99,1480.68) scale(1.1621,1)" font-size="42.26" font-family='"Liberation Sans", Arial, sans-serif' fill="#000">-0.3</text>
<text transform="translate(67.97,1604.38) scale(1.1856,1)" font-size="41.84" font-family='"Liberation Sans", Arial, sans-serif' fill="#000">-0.6</text>
<text transform="translate(67.96,1730.38) scale(1.1874,1)" font-size="41.84" font-family='"Liberation Sans", Arial, sans-serif' fill="#000">-0.9</text>
<text transform="translate(124.56,861.20) scale(1.2225,1)" font-size="40.72" font-family='"Liberation Sans", Arial, sans-serif' fill="#000">-12</text>
<text transform="translate(844.56,861.20) scale(1.2225,1)" font-size="40.72" font-family='"Liberation Sans", Arial, sans-serif' fill="#000">-12</text>
<text transform="translate(301.75,860.80) scale(1.2456,1)" font-size="40.14" font-family='"Liberation Sans", Arial, sans-serif' fill="#000">-8</text>
<text transform="translate(1021.75,860.80) scale(1.2456,1)" font-size="40.14" font-family='"Liberation Sans", Arial, sans-serif' fill="#000">-8</text>
<text transform="translate(463.73,861.20) scale(1.2238,1)" font-size="41.31" font-family='"Liberation Sans", Arial, sans-serif' fill="#000">-4</text>
<text transform="translate(1183.73,861.20) scale(1.2238,1)" font-size="41.31" font-family='"Liberation Sans", Arial, sans-serif' fill="#000">-4</text>
<text transform="translate(635.19,860.80) scale(1.2521,1)" font-size="40.14" font-family='"Liberation Sans", Arial, sans-serif' fill="#000">0</text>
<text transform="translate(1355.19,860.80) scale(1.2521,1)" font-size="40.14" font-family='"Liberation Sans", Arial, sans-serif' fill="#000">0</text>
<text transform="translate(119.77,1766.20) scale(1.2153,1)" font-size="40.72" font-family='"Liberation Sans", Arial, sans-serif' fill="#000">-12</text>
<text transform="translate(295.70,1765.80) scale(1.2705,1)" font-size="40.14" font-family='"Liberation Sans", Arial, sans-serif' fill="#000">-8</text>
<text transform="translate(458.57,1766.20) scale(1.2000,1)" font-size="41.31" font-family='"Liberation Sans", Arial, sans-serif' fill="#000">-4</text>
<text transform="translate(629.99,1765.80) scale(1.2521,1)" font-size="40.14" font-family='"Liberation Sans", Arial, sans-serif' fill="#000">0</text>
<text transform="translate(368.05,904.30) scale(0.7713,1)" font-size="41.60" font-family='"Liberation Sans", Arial, sans-serif' fill="#000">E - E</text>
<text transform="translate(441.30,919.70) scale(0.7137,1)" font-size="23.85" font-family='"Liberation Sans", Arial, sans-serif' fill="#000">F</text>
<text transform="translate(462.12,903.25) scale(0.8644,1)" font-size="42.14" font-family='"Liberation Sans", Arial, sans-serif' fill="#000">(eV)</text>
<text transform="translate(1089.05,904.30) scale(0.7713,1)" font-size="41.60" font-family='"Liberation Sans", Arial, sans-serif' fill="#000">E - E</text>
<text transform="translate(1162.30,919.70) scale(0.7137,1)" font-size="23.85" font-family='"Liberation Sans", Arial, sans-serif' fill="#000">F</text>
<text transform="translate(1183.12,903.25) scale(0.8644,1)" font-size="42.14" font-family='"Liberation Sans", Arial, sans-serif' fill="#000">(eV)</text>
<text transform="translate(368.05,1805.80) scale(0.7713,1)" font-size="41.60" font-family='"Liberation Sans", Arial, sans-serif' fill="#000">E - E</text>
<text transform="translate(441.30,1821.20) scale(0.7137,1)" font-size="23.85" font-family='"Liberation Sans", Arial, sans-serif' fill="#000">F</text>
<text transform="translate(462.12,1804.75) scale(0.8644,1)" font-size="42.14" font-family='"Liberation Sans", Arial, sans-serif' fill="#000">(eV)</text>
<text transform="translate(-0.40,242.11) scale(1.1284,1)" font-size="41.39" font-family='"Liberation Sans", Arial, sans-serif' fill="#000">Spin</text>
<text transform="translate(-1.40,280.47) scale(1.2669,1)" font-size="40.13" font-family='"Liberation Sans", Arial, sans-serif' fill="#000">up</text>
<text transform="translate(-0.40,617.31) scale(1.1284,1)" font-size="41.39" font-family='"Liberation Sans", Arial, sans-serif' fill="#000">Spin</text>
<text transform="translate(-1.79,655.17) scale(1.2037,1)" font-size="42.72" font-family='"Liberation Sans", Arial, sans-serif' fill="#000">down</text>
<text transform="translate(57.11,554.12) rotate(-90) scale(0.7045,1)" font-size="43.32" font-family='"Liberation Sans", Arial, sans-serif' fill="#000">LDOS (arb. units)</text>
</svg></body></html>
